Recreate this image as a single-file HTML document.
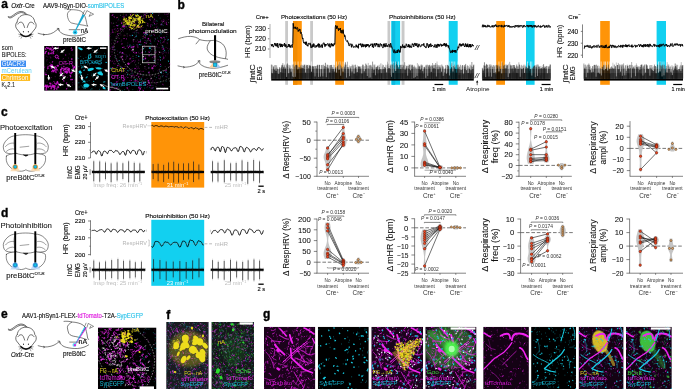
<!DOCTYPE html>
<html lang="en"><head><meta charset="utf-8"><title>Figure</title>
<style>html,body{margin:0;padding:0;background:#fff}svg{display:block;will-change:transform}text{font-family:"Liberation Sans", sans-serif}</style></head><body>
<svg width="685" height="389" viewBox="0 0 685 389">
<defs><filter id="b3" x="-5%" y="-5%" width="110%" height="110%"><feGaussianBlur stdDeviation="0.35"/></filter><filter id="b6" x="-5%" y="-5%" width="110%" height="110%"><feGaussianBlur stdDeviation="0.6"/></filter><filter id="b12" x="-10%" y="-10%" width="120%" height="120%"><feGaussianBlur stdDeviation="1.4"/></filter></defs>
<rect x="0.00" y="0.00" width="685.00" height="389.00" fill="#fff" />
<text x="1.30" y="7.80" font-size="12" fill="#000" font-weight="bold" stroke="#000" stroke-width="0.35">a</text>
<text x="11.20" y="7.90" font-size="6.6" fill="#111" stroke="#111" stroke-width="0.14" textLength="23.60" lengthAdjust="spacingAndGlyphs"><tspan font-style="italic">Oxtr</tspan>-Cre</text>
<text x="43.00" y="7.90" font-size="6.6" fill="#111" stroke="#111" stroke-width="0.14" textLength="81.20" lengthAdjust="spacingAndGlyphs">AAV9-hSyn-DIO-<tspan fill="#2cc3ea" stroke="#2cc3ea">somBiPOLES</tspan></text>
<g transform="translate(25.90 25.50) scale(1.0)" fill="none" stroke="#111" stroke-width="0.6" stroke-linecap="round" stroke-linejoin="round">
<path d="M1.6 -10.6 C-0.6 -13.4 -3.4 -14.4 -6 -14 C-9.6 -13.4 -12.4 -10 -15 -8.8 C-16 -8.4 -17 -8.4 -17.6 -9"/>
<path d="M0.2 -10.9 C-1.6 -12.6 -3.6 -13.2 -5.8 -12.8 C-9 -12.2 -11.8 -9 -14.6 -7.8 C-15.8 -7.4 -17 -7.6 -17.8 -8.4"/>
<path d="M-8.8 -3.5 C-8.4 -8 -4.6 -10.9 0 -10.9 C4.6 -10.9 8.4 -8 8.8 -3.5 C10.4 -2.6 10.7 1 9.6 2.7 L4.8 8.8 M-4.8 8.8 L-9.6 2.7 C-10.7 1 -10.4 -2.6 -8.8 -3.5" fill="#fff"/>
<path d="M-8 -1.4 C-7 -3.8 -3.6 -4.2 -2.6 -1.4 C-2 0.2 -1.5 1 -1.3 2"/>
<path d="M8 -1.4 C7 -3.8 3.6 -4.2 2.6 -1.4 C2 0.2 1.5 1 1.3 2"/>
<ellipse cx="-2.5" cy="6.2" rx="0.5" ry="0.8" fill="#111" stroke="none"/><ellipse cx="2.4" cy="6.2" rx="0.5" ry="0.8" fill="#111" stroke="none"/>
<path d="M-5.0 8.7 Q0 13.4 5.0 8.7" stroke-width="1.5"/>
<path d="M-4.4 9.2 L-7.2 8.7 M-4.2 9.8 L-6.8 11 M-3.6 10.4 L-4.9 12.8 M4.4 9.2 L7.2 8.7 M4.2 9.8 L6.8 11 M3.6 10.4 L4.9 12.8" stroke-width="0.4"/>
</g>
<path d="M37.8 33.2 C40 33.6 42 34.6 44.2 34.6 C49 34.8 53 33.4 56 30.6 L58.8 28.6" stroke="#111" stroke-width="0.55" fill="none" />
<path d="M56.9 28.4 L59 28.5 L58.7 30.6" stroke="#111" stroke-width="0.55" fill="none" />
<path d="M43 33.9 L44.6 34.6 L43.2 35.5" stroke="#111" stroke-width="0.5" fill="none" />
<path d="M64.3 8.8 C66.4 8.6 69.5 9 71 9.7 C69 11 67 13 67.4 15.3 C67.6 17 67.8 18.4 68.4 19.4 C69.2 21.4 70.4 22.6 71.6 23 C74.4 23.8 77 24.2 79.8 24.6 C82.8 25 85.6 25.6 88 26.2" stroke="#111" stroke-width="0.5" fill="none" />
<path d="M71 9.7 C74.6 9.6 78 10 80.6 11 C83.4 12.2 85 15.6 85.8 19.2 C86.4 21.4 86.8 23.4 87 24.8 L88 26.2" stroke="#111" stroke-width="0.5" fill="none" />
<path d="M58.9 29.6 C59.6 32.4 62.4 34 65.2 34.7 C69 35.8 73 36 76.6 35.9 C81 35.6 85 34.2 88 32" stroke="#111" stroke-width="0.55" fill="none" />
<path d="M82.3 14.8 L84.9 10.2 M84.9 14.9 L86.9 10.6 L93.6 14.2 L89 16.4 M89 16.4 L90.6 13.4" stroke="#111" stroke-width="0.45" fill="none" />
<line x1="68.80" y1="29.70" x2="80.40" y2="29.70" stroke="#777" stroke-width="0.9"/>
<polygon points="82.4,14.6 84.9,15 75.4,31.4 74.7,31.0" fill="#19a9d2"/>
<circle cx="75.1" cy="32.3" r="2.2" fill="#2fcdf2"/><circle cx="75.1" cy="32.3" r="0.9" fill="#0b6a9a"/>
<text x="81.00" y="32.50" font-size="6.6" fill="#111" stroke="#111" stroke-width="0.14" textLength="7.00" lengthAdjust="spacingAndGlyphs">nA</text>
<text x="63.00" y="41.70" font-size="6.6" fill="#111" stroke="#111" stroke-width="0.14" textLength="23.00" lengthAdjust="spacingAndGlyphs">preBötC</text>
<text x="1.80" y="50.20" font-size="7" fill="#111" stroke="#111" stroke-width="0.06" textLength="11.00" lengthAdjust="spacingAndGlyphs">som</text>
<text x="1.80" y="57.00" font-size="7" fill="#111" stroke="#111" stroke-width="0.06" textLength="24.70" lengthAdjust="spacingAndGlyphs">BiPOLES:</text>
<rect x="1.00" y="60.60" width="25.00" height="6.40" fill="#3d8df2" />
<text x="1.80" y="66.10" font-size="7" fill="#fff" textLength="22.80" lengthAdjust="spacingAndGlyphs">GtACR2</text>
<text x="1.40" y="73.30" font-size="7" fill="#5bd0f2" textLength="30.40" lengthAdjust="spacingAndGlyphs">mCerulean</text>
<rect x="1.00" y="74.00" width="29.10" height="6.90" fill="#fdb813" />
<text x="1.80" y="79.80" font-size="7" fill="#fff" textLength="26.60" lengthAdjust="spacingAndGlyphs">Chrimson</text>
<text x="1.50" y="86.80" font-size="7" fill="#111" stroke="#111" stroke-width="0.06" textLength="13.40" lengthAdjust="spacingAndGlyphs">K<tspan font-size="5" dy="2">V</tspan><tspan dy="-2">2.1</tspan></text>
<clipPath id="c1"><rect x="44.10" y="46.00" width="31.50" height="44.80"/></clipPath>
<g clip-path="url(#c1)">
<rect x="44.10" y="46.00" width="31.50" height="44.80" fill="#000" />
<path d="M58.3 71.1h.01M73.2 66.9h.01M60.1 72.3h.01M49.9 68.9h.01M63.9 81.5h.01M47.1 59.6h.01M47.0 82.3h.01M65.9 47.9h.01M75.0 89.2h.01M64.7 73.6h.01M49.1 46.7h.01M60.7 48.7h.01M50.1 56.8h.01M45.0 66.8h.01M58.0 83.7h.01M60.5 74.7h.01M59.8 75.7h.01M58.5 58.5h.01M75.5 90.6h.01M70.6 77.7h.01M54.0 56.3h.01M53.2 49.1h.01M68.2 63.9h.01M70.8 63.3h.01M74.3 84.0h.01M44.1 55.4h.01M72.8 67.1h.01M75.0 63.8h.01M46.4 74.2h.01M68.6 58.1h.01M46.8 60.9h.01M74.5 80.0h.01M47.8 57.0h.01M47.3 48.7h.01M69.2 54.0h.01M61.7 66.0h.01M50.1 78.8h.01M48.2 74.8h.01M47.8 64.8h.01M50.8 58.1h.01M74.7 82.0h.01M53.7 85.6h.01M50.7 63.7h.01M71.0 74.8h.01M47.3 90.3h.01M50.8 57.6h.01M68.4 60.7h.01M53.4 49.3h.01M46.9 72.1h.01M51.8 72.9h.01M55.8 66.3h.01M74.3 67.7h.01M62.2 84.8h.01M49.9 52.9h.01M72.7 82.6h.01M52.0 54.5h.01M67.4 88.1h.01M50.3 88.6h.01M71.9 73.0h.01M57.4 50.7h.01M45.3 89.1h.01M51.6 77.6h.01M52.2 82.9h.01M62.9 59.1h.01M49.6 78.3h.01M46.3 56.2h.01M61.7 84.2h.01M63.5 58.6h.01M73.0 55.1h.01M44.6 58.1h.01M58.1 48.7h.01M49.7 62.5h.01M62.1 51.9h.01M55.5 85.9h.01M75.0 75.4h.01M65.9 72.2h.01M48.5 47.6h.01M44.7 86.8h.01M66.2 89.1h.01M44.8 74.5h.01M59.3 78.7h.01M54.1 90.8h.01M46.5 70.5h.01M67.3 86.3h.01M67.3 77.5h.01M69.1 87.0h.01M55.2 76.7h.01M72.5 85.0h.01M57.2 81.4h.01M71.3 71.7h.01" stroke="#b414b4" stroke-width="0.7" stroke-linecap="round" fill="none" opacity="0.6"/>
<path d="M63.8 63.1l-0.2 0.8M46.6 74.6l-1.2 0.0M67.0 63.4l-0.5 0.6M58.0 83.6l1.0 0.3M45.0 72.9l0.0 0.3M66.1 68.3l-0.5 1.2M52.2 46.5l0.6 0.8M50.5 53.6l-0.9 0.3M58.0 85.9l0.5 0.8M50.4 65.3l-1.0 0.7M71.8 63.2l-0.1 0.4M48.4 68.2l-1.0 0.6M66.5 88.6l0.2 0.2M58.3 58.3l0.5 0.4M63.8 68.1l0.6 1.0M75.0 66.3l0.0 0.0M71.6 47.9l-0.5 0.6M53.8 81.5l0.2 0.0M58.4 47.1l-0.3 0.2M48.5 48.1l-0.2 0.6M63.9 75.3l-1.1 0.8M65.7 54.9l0.0 0.2M44.4 67.2l-0.2 0.2M52.7 61.5l-0.4 0.6M63.5 79.9l0.4 1.0M72.6 49.9l-1.0 0.2M48.2 66.3l-0.5 1.2M56.0 71.5l-1.0 0.4M73.8 66.8l-0.1 0.3M66.8 82.7l-0.4 0.9" stroke="#cc18cc" stroke-width="1.1" stroke-linecap="round" fill="none" opacity="0.75"/>
<path d="M50.8 86.3l-1.8 0.1M54.2 86.8l-0.6 0.3M48.5 52.7l-0.1 1.3M56.1 83.9l-0.4 0.1M60.6 71.7l0.8 0.6M59.9 73.1l1.7 0.2M69.3 71.2l0.0 1.2M57.1 88.9l-0.5 0.1M57.8 82.5l-0.8 0.3M57.1 69.7l0.3 0.2M52.3 50.3l-0.7 0.4M50.1 49.2l0.1 0.0M61.5 69.1l-0.1 0.3M46.1 88.6l0.2 1.4M54.4 66.9l-0.0 0.8M63.0 68.6l-1.4 0.1M52.2 86.8l-1.0 1.0M54.9 67.0l0.6 0.0M51.4 88.3l-0.3 0.5M64.9 71.5l-0.1 0.7M52.0 86.6l-0.1 0.9M45.4 53.0l-0.5 0.5M72.4 79.5l-1.7 0.1M46.4 86.6l0.2 0.8M63.8 66.4l0.1 0.1M68.6 69.8l-1.7 0.0M47.7 86.0l-0.9 0.7M65.7 71.3l-0.3 1.1M45.3 48.7l0.5 0.6M55.9 67.4l0.5 0.4M46.4 51.4l-0.9 0.6M54.3 70.6l-1.2 1.2M47.2 85.2l0.1 0.0M61.9 67.7l-0.3 0.4M53.0 52.4l0.6 1.2M66.4 71.5l-1.6 0.4M72.9 65.6l-0.4 0.3M69.2 70.2l-0.9 0.5M71.8 58.6l-0.0 1.0M68.2 69.4l-0.5 0.5M65.3 68.1l-0.2 1.3M57.0 83.0l-0.8 1.3M64.3 69.5l-0.9 1.1M53.8 51.1l-0.6 1.2M49.8 48.8l0.1 1.0M66.7 72.6l0.3 0.2M54.9 70.5l-0.9 0.1M51.1 48.2l-1.4 0.2M56.2 69.6l-0.0 0.5M52.3 84.9l-0.1 1.1M57.2 87.1l1.4 0.4M70.2 75.3l0.5 1.2M51.6 71.3l0.0 0.0M54.5 88.3l-0.3 1.3M54.5 83.0l0.2 0.1M56.8 83.5l-0.0 0.2M51.2 53.0l0.7 0.3M46.4 87.2l0.2 0.9M56.0 68.8l-1.2 0.9M54.5 87.6l0.4 0.8M48.4 86.5l-0.1 1.0M69.9 72.9l1.4 0.6M53.2 86.2l0.8 0.7M46.5 47.4l1.5 1.0M56.1 72.5l-0.0 0.0M67.8 67.8l-1.5 0.0M60.7 69.5l0.3 1.6M54.2 48.4l-1.1 1.2M67.2 72.8l-0.4 0.4M51.5 49.1l-1.7 0.5" stroke="#cc18cc" stroke-width="1.3" stroke-linecap="round" fill="none" opacity="0.85" filter="url(#b3)"/>
<g fill="#cc18cc" opacity="0.9" filter="url(#b3)">
<ellipse cx="57.4" cy="82.1" rx="1.1" ry="0.9" transform="rotate(102 57.4 82.1)"/>
<ellipse cx="46.1" cy="86.1" rx="1.7" ry="1.1" transform="rotate(64 46.1 86.1)"/>
<ellipse cx="45.1" cy="86.3" rx="1.2" ry="0.8" transform="rotate(168 45.1 86.3)"/>
<ellipse cx="74.9" cy="67.2" rx="1.2" ry="1.1" transform="rotate(161 74.9 67.2)"/>
<ellipse cx="50.3" cy="83.5" rx="1.3" ry="0.9" transform="rotate(31 50.3 83.5)"/>
<ellipse cx="50.1" cy="85.4" rx="1.0" ry="0.5" transform="rotate(131 50.1 85.4)"/>
<ellipse cx="54.0" cy="86.3" rx="1.8" ry="1.4" transform="rotate(24 54.0 86.3)"/>
<ellipse cx="72.0" cy="72.4" rx="1.1" ry="0.7" transform="rotate(167 72.0 72.4)"/>
<ellipse cx="60.7" cy="69.8" rx="0.9" ry="0.7" transform="rotate(51 60.7 69.8)"/>
<ellipse cx="52.9" cy="70.6" rx="1.1" ry="1.0" transform="rotate(178 52.9 70.6)"/>
<ellipse cx="73.4" cy="68.4" rx="1.1" ry="0.8" transform="rotate(116 73.4 68.4)"/>
<ellipse cx="68.8" cy="69.1" rx="1.4" ry="1.2" transform="rotate(123 68.8 69.1)"/>
<ellipse cx="51.5" cy="65.7" rx="1.7" ry="1.4" transform="rotate(142 51.5 65.7)"/>
<ellipse cx="51.5" cy="67.9" rx="1.1" ry="0.8" transform="rotate(90 51.5 67.9)"/>
<ellipse cx="66.6" cy="71.7" rx="1.8" ry="1.0" transform="rotate(27 66.6 71.7)"/>
<ellipse cx="57.8" cy="65.8" rx="1.2" ry="1.0" transform="rotate(13 57.8 65.8)"/>
</g>
<circle cx="56.7" cy="56.6" r="1.5" fill="none" stroke="#cc18cc" stroke-width="1.0"/>
<polygon points="58.5,47.8 56.2,47.7 56.2,46.8 53.1,48.3 56.2,49.8 56.2,48.9 58.5,48.8" fill="#fff"/>
<polygon points="64.2,49.2 62.3,50.6 61.7,49.9 60.3,53.0 63.7,52.2 63.1,51.5 64.8,49.9" fill="#fff"/>
<polygon points="55.3,68.0 53.3,66.7 53.8,65.9 50.4,65.7 52.3,68.5 52.7,67.7 54.8,68.7" fill="#fff"/>
<polygon points="48.0,75.1 48.1,77.5 47.2,77.5 48.9,80.5 50.2,77.3 49.3,77.3 48.9,75.1" fill="#fff"/>
<polygon points="63.0,72.5 61.3,74.0 60.6,73.4 59.5,76.6 62.7,75.5 62.1,74.8 63.6,73.1" fill="#fff"/>
<polygon points="62.4,80.0 64.1,78.5 64.8,79.1 65.9,75.9 62.7,77.0 63.3,77.7 61.8,79.4" fill="#fff"/>
<polygon points="76.0,71.4 74.0,70.3 74.4,69.5 71.0,69.6 73.1,72.2 73.5,71.4 75.7,72.2" fill="#fff"/>
<polygon points="63.4,84.2 61.1,84.1 61.1,83.2 58.0,84.7 61.1,86.2 61.1,85.3 63.4,85.2" fill="#fff"/>
<polygon points="71.2,86.6 69.4,85.1 69.9,84.4 66.5,83.9 68.2,86.9 68.7,86.1 70.7,87.3" fill="#fff"/>
<text x="58.60" y="64.80" font-size="6" fill="#c420c4" textLength="14.40" lengthAdjust="spacingAndGlyphs">OT-R</text>
</g>
<clipPath id="c2"><rect x="77.20" y="46.00" width="30.70" height="44.80"/></clipPath>
<g clip-path="url(#c2)">
<rect x="77.20" y="46.00" width="30.70" height="44.80" fill="#000" />
<path d="M91.8 75.5h.01M97.7 52.4h.01M77.5 62.8h.01M85.6 82.3h.01M98.4 72.9h.01M94.3 75.6h.01M81.7 65.7h.01M82.2 86.6h.01M79.0 82.7h.01M79.5 76.8h.01M87.5 64.1h.01M103.1 46.8h.01M79.1 87.0h.01M92.8 50.1h.01M107.5 88.4h.01M80.7 65.0h.01M81.3 60.0h.01M96.3 53.3h.01M98.6 48.3h.01M82.5 82.5h.01M89.5 64.8h.01M95.5 67.4h.01M89.0 47.4h.01M99.5 89.3h.01M107.2 75.7h.01M88.1 62.3h.01M98.4 76.2h.01M80.7 56.5h.01M88.4 68.9h.01M102.1 68.4h.01M78.1 82.9h.01M90.4 69.3h.01M84.0 65.1h.01M89.1 80.6h.01M80.4 70.6h.01M82.7 77.2h.01M78.3 58.4h.01M87.8 74.5h.01M78.8 66.6h.01M83.6 58.6h.01M91.8 89.0h.01M92.0 88.8h.01M82.3 87.4h.01M88.4 54.5h.01M100.2 86.9h.01M77.4 58.0h.01M100.9 61.3h.01M84.6 46.4h.01M78.4 73.7h.01M107.4 90.7h.01M92.7 47.1h.01M87.1 81.3h.01M102.7 74.6h.01M84.2 69.6h.01M91.9 74.1h.01M85.3 88.4h.01M104.7 53.3h.01M86.1 85.1h.01M85.7 88.3h.01M93.0 77.2h.01M98.8 55.6h.01M86.0 57.4h.01M98.2 77.1h.01M81.2 85.7h.01M90.1 56.8h.01M90.6 89.9h.01M94.4 74.0h.01M105.4 89.1h.01M100.5 64.7h.01M95.3 86.4h.01" stroke="#18cfe6" stroke-width="0.7" stroke-linecap="round" fill="none" opacity="0.6"/>
<path d="M101.4 72.0l0.2 0.5M99.8 71.2l1.0 0.1M104.9 81.7l-1.2 0.4M93.6 81.4l0.1 0.1M88.0 60.0l-0.9 0.2M93.8 73.9l0.7 0.3M98.7 63.7l0.4 0.4M87.1 76.7l0.1 0.1M86.8 77.2l-0.7 0.6M105.9 62.4l0.7 0.1M90.8 54.0l-0.2 0.4M84.5 60.7l-0.0 0.0M88.3 58.5l0.5 0.4M84.0 87.2l-0.0 1.0M82.2 66.8l-0.4 1.1M84.9 66.6l-1.0 0.5M84.2 70.1l-0.4 0.4M97.9 75.7l-0.8 0.1M98.1 61.7l-0.3 0.3M92.5 62.2l0.1 0.2M84.1 70.4l0.0 0.0M101.9 58.8l-0.8 0.2M89.1 85.1l-0.4 0.1M81.1 74.7l-0.7 0.4" stroke="#18cfe6" stroke-width="1.1" stroke-linecap="round" fill="none" opacity="0.8"/>
<g fill="#18cfe6" opacity="1.0" filter="url(#b3)">
<ellipse cx="80.4" cy="48.7" rx="2.6" ry="1.1" transform="rotate(25 80.4 48.7)"/>
<ellipse cx="90.7" cy="69.4" rx="3.2" ry="1.5" transform="rotate(-15 90.7 69.4)"/>
<ellipse cx="98.7" cy="68.4" rx="3.0" ry="1.1" transform="rotate(8 98.7 68.4)"/>
<ellipse cx="100.2" cy="73.6" rx="3.0" ry="1.6" transform="rotate(20 100.2 73.6)"/>
<ellipse cx="80.2" cy="72.2" rx="1.8" ry="1.3" transform="rotate(40 80.2 72.2)"/>
<ellipse cx="86.2" cy="85.6" rx="2.8" ry="2.0" transform="rotate(0 86.2 85.6)"/>
<ellipse cx="84.2" cy="81.6" rx="1.3" ry="1.0" transform="rotate(0 84.2 81.6)"/>
<ellipse cx="104.0" cy="88.0" rx="1.6" ry="1.0" transform="rotate(20 104.0 88.0)"/>
<ellipse cx="95.0" cy="62.0" rx="1.0" ry="0.8" transform="rotate(0 95.0 62.0)"/>
<ellipse cx="82.5" cy="79.5" rx="1.2" ry="0.8" transform="rotate(60 82.5 79.5)"/>
</g>
<polygon points="91.6,47.8 89.3,47.7 89.3,46.8 86.2,48.3 89.3,49.8 89.3,48.9 91.6,48.8" fill="#fff"/>
<polygon points="97.3,49.2 95.4,50.6 94.8,49.9 93.4,53.0 96.8,52.2 96.2,51.5 97.9,49.9" fill="#fff"/>
<polygon points="88.4,68.0 86.4,66.7 86.9,65.9 83.5,65.7 85.4,68.5 85.8,67.7 87.9,68.7" fill="#fff"/>
<polygon points="81.1,75.1 81.2,77.5 80.3,77.5 82.0,80.5 83.3,77.3 82.4,77.3 82.0,75.1" fill="#fff"/>
<polygon points="96.1,72.5 94.4,74.0 93.7,73.4 92.6,76.6 95.8,75.5 95.2,74.8 96.7,73.1" fill="#fff"/>
<polygon points="95.5,80.0 97.2,78.5 97.9,79.1 99.0,75.9 95.8,77.0 96.4,77.7 94.9,79.4" fill="#fff"/>
<polygon points="109.1,71.4 107.1,70.3 107.5,69.5 104.1,69.6 106.2,72.2 106.6,71.4 108.8,72.2" fill="#fff"/>
<polygon points="96.5,84.2 94.2,84.1 94.2,83.2 91.1,84.7 94.2,86.2 94.2,85.3 96.5,85.2" fill="#fff"/>
<polygon points="104.3,86.6 102.5,85.1 103.0,84.4 99.6,83.9 101.3,86.9 101.8,86.1 103.8,87.3" fill="#fff"/>
<ellipse cx="89.7" cy="56.7" rx="1.3" ry="1.8" fill="none" stroke="#18cfe6" stroke-width="0.9"/>
<rect x="100.00" y="47.40" width="6.40" height="1.50" fill="#fff" />
<path d="M103 84.4 C105 85.6 106.6 86.3 107.9 86.8" stroke="#fff" stroke-width="0.5" fill="none" />
<text x="95.00" y="58.40" font-size="6" fill="#14a4c4" textLength="11.00" lengthAdjust="spacingAndGlyphs">som</text>
<text x="79.80" y="64.30" font-size="6" fill="#14a4c4" textLength="22.60" lengthAdjust="spacingAndGlyphs">BiPOLES</text>
</g>
<clipPath id="c3"><rect x="109.30" y="12.60" width="60.90" height="78.40"/></clipPath>
<g clip-path="url(#c3)">
<rect x="109.30" y="12.60" width="60.90" height="78.40" fill="#000" />
<path d="M125.1 66.3h.01M151.0 79.2h.01M120.6 30.7h.01M118.3 30.3h.01M154.0 22.8h.01M141.7 29.4h.01M127.2 46.4h.01M160.3 60.3h.01M110.2 34.2h.01M118.2 80.9h.01M158.6 75.8h.01M159.6 71.0h.01M167.1 74.8h.01M124.9 79.2h.01M138.9 71.8h.01M143.7 46.3h.01M131.5 46.3h.01M128.4 21.8h.01M159.2 75.2h.01M169.3 66.8h.01M143.1 71.3h.01M117.5 65.7h.01M136.3 26.4h.01M121.6 53.6h.01M124.7 48.6h.01M146.2 43.6h.01M117.3 51.1h.01M123.6 31.1h.01M121.1 41.3h.01M113.8 63.7h.01M167.4 43.2h.01M153.1 85.7h.01M111.9 23.7h.01M158.4 78.3h.01M148.2 25.1h.01M134.5 80.7h.01M163.3 75.6h.01M121.7 79.5h.01M132.1 68.8h.01M117.6 88.8h.01M146.1 69.3h.01M122.2 61.0h.01M144.7 59.0h.01M131.2 69.7h.01M130.1 35.8h.01M119.3 66.2h.01M116.1 30.3h.01M113.5 63.1h.01M143.2 55.2h.01M111.7 47.1h.01M130.2 19.9h.01M109.5 90.8h.01M116.7 36.2h.01M125.7 59.4h.01M114.0 49.4h.01M131.6 78.0h.01M109.6 38.8h.01M139.5 88.6h.01M140.8 49.8h.01M150.1 35.8h.01M111.2 51.9h.01M164.7 70.5h.01M125.0 66.2h.01M161.0 32.9h.01M145.1 40.5h.01M124.2 35.1h.01M121.7 40.1h.01M111.6 43.8h.01M114.6 72.0h.01M145.8 12.9h.01M156.4 27.5h.01M138.6 56.1h.01M129.6 35.3h.01M135.8 23.3h.01M161.9 21.4h.01M159.5 29.7h.01M127.8 43.0h.01M111.3 22.7h.01M131.3 47.2h.01M162.7 90.2h.01M112.0 54.5h.01M117.2 75.6h.01M129.0 82.6h.01M142.5 22.4h.01M109.6 32.1h.01M162.2 24.3h.01M138.5 41.7h.01M130.3 75.5h.01M122.3 68.9h.01M149.9 85.9h.01M141.0 84.8h.01M136.1 57.5h.01M147.1 78.4h.01M164.0 21.6h.01M117.7 54.5h.01M158.8 54.4h.01M127.5 88.0h.01M127.4 19.4h.01M112.5 15.0h.01M153.6 21.0h.01M152.9 80.5h.01M170.2 76.0h.01M135.1 61.4h.01M160.0 68.7h.01M127.0 72.3h.01M116.0 36.8h.01M170.0 49.5h.01M125.6 74.1h.01M136.7 12.9h.01M111.1 32.9h.01M129.5 86.1h.01M124.4 79.2h.01M161.3 45.2h.01M169.8 72.3h.01M138.8 33.1h.01M137.4 83.3h.01M142.0 27.8h.01M132.2 49.9h.01M120.9 57.5h.01M111.4 77.0h.01M120.2 20.7h.01M145.2 36.7h.01M163.2 51.6h.01M141.1 78.0h.01M122.4 71.0h.01M148.8 46.2h.01M167.7 14.3h.01M161.8 23.8h.01M160.4 24.7h.01M112.6 51.9h.01M165.7 32.8h.01M138.9 60.3h.01M124.1 54.2h.01M109.9 47.8h.01M155.6 39.3h.01M122.7 16.6h.01M152.0 46.1h.01M165.0 70.7h.01M115.4 84.3h.01M166.1 76.7h.01M159.9 66.0h.01M153.2 64.9h.01M145.3 32.8h.01M117.4 69.5h.01M145.6 17.0h.01M148.4 60.4h.01M140.5 73.4h.01M162.7 42.5h.01M158.9 51.7h.01M144.1 45.0h.01M166.1 47.4h.01M167.3 39.1h.01M150.2 84.2h.01M150.9 42.0h.01M114.0 50.1h.01M134.5 76.4h.01M157.1 89.9h.01M136.6 44.8h.01M143.7 71.4h.01M114.2 29.5h.01M118.2 38.0h.01M127.6 88.5h.01M122.0 85.8h.01M127.2 28.6h.01M168.6 19.6h.01M116.2 22.7h.01M113.4 42.9h.01M122.2 25.1h.01M110.3 67.3h.01M112.3 30.7h.01M143.7 81.9h.01M149.5 68.2h.01M152.0 75.1h.01M161.3 24.8h.01M112.6 61.3h.01M140.9 53.4h.01M156.9 26.3h.01M152.3 46.0h.01M135.0 31.8h.01M126.4 58.0h.01M143.0 83.7h.01M126.4 68.7h.01M115.2 63.7h.01M119.1 79.8h.01M168.1 32.5h.01M158.5 29.8h.01M127.9 20.7h.01M136.2 20.8h.01M152.2 57.7h.01M134.9 68.3h.01M123.5 38.6h.01M131.4 12.8h.01M163.3 19.5h.01M115.5 75.2h.01M159.1 47.7h.01M135.0 23.5h.01M109.4 53.4h.01M124.1 24.4h.01M164.5 14.1h.01M131.4 71.5h.01M154.8 21.0h.01M154.5 56.8h.01M147.7 86.6h.01M157.9 59.6h.01M156.2 51.2h.01M142.9 76.7h.01M147.0 42.1h.01M110.5 74.5h.01M130.0 46.2h.01M126.8 56.1h.01M133.7 78.0h.01M145.5 56.4h.01M157.0 47.1h.01M142.0 71.4h.01M153.3 70.9h.01M163.6 56.3h.01M143.1 27.4h.01M124.0 46.7h.01M139.7 83.1h.01M111.9 40.0h.01M154.4 48.6h.01M161.0 25.1h.01M156.3 46.4h.01M143.9 17.1h.01M133.8 75.5h.01M154.1 56.8h.01M135.1 15.7h.01M151.9 47.6h.01M153.4 60.6h.01M133.8 81.2h.01M117.3 87.8h.01M114.5 88.6h.01M145.0 47.7h.01M166.3 52.8h.01M140.3 17.3h.01M157.9 62.7h.01M123.9 21.5h.01M134.9 85.9h.01M162.3 49.1h.01M111.5 77.6h.01M121.6 69.9h.01M139.7 88.2h.01M118.3 74.8h.01M153.2 14.0h.01M143.7 35.7h.01M151.6 88.0h.01M149.9 51.3h.01M146.1 32.1h.01M137.8 21.7h.01M153.2 17.8h.01M141.4 26.7h.01M143.6 17.0h.01M111.0 61.6h.01M153.1 82.2h.01M150.5 90.7h.01M118.0 61.9h.01M148.1 26.3h.01M117.8 31.5h.01M141.2 74.3h.01M152.6 57.4h.01M114.0 69.2h.01M140.5 25.9h.01M147.0 31.9h.01M128.1 48.0h.01M155.1 21.0h.01M136.2 31.0h.01M150.2 76.6h.01M125.4 69.0h.01M137.6 29.7h.01M126.1 54.8h.01M158.4 59.8h.01M109.3 73.9h.01M144.6 45.7h.01M124.0 47.2h.01M151.4 33.9h.01M117.7 81.5h.01M136.2 18.1h.01M163.5 21.2h.01M131.5 61.1h.01M149.8 83.1h.01M120.0 57.2h.01M162.9 49.2h.01M152.8 49.2h.01M152.9 87.7h.01M130.0 70.4h.01M130.3 82.2h.01M155.8 79.9h.01M162.5 59.3h.01M167.2 24.8h.01M144.2 18.4h.01M144.8 66.5h.01M126.7 76.3h.01M134.7 28.1h.01M121.1 57.9h.01M132.7 16.3h.01M127.9 89.0h.01M138.1 66.2h.01M135.3 18.2h.01M146.6 29.1h.01M116.7 61.0h.01M150.4 13.4h.01M166.9 14.2h.01M119.4 38.4h.01M157.9 70.8h.01M154.6 46.3h.01M164.8 23.1h.01M167.8 16.5h.01M118.7 71.5h.01M156.2 65.4h.01M124.4 80.6h.01M140.7 28.8h.01M115.2 90.1h.01M112.7 29.8h.01M131.0 82.6h.01M159.9 78.6h.01M147.7 13.5h.01M154.2 27.5h.01M167.0 88.7h.01M113.3 69.9h.01M124.0 20.8h.01M162.6 47.3h.01M127.2 56.5h.01M113.2 45.8h.01M148.9 80.4h.01M116.8 82.7h.01M115.7 28.8h.01M129.6 25.8h.01M114.8 64.0h.01M133.6 27.5h.01M140.6 22.3h.01M150.8 88.2h.01M137.7 45.7h.01M133.6 41.3h.01M134.5 26.6h.01M127.3 66.7h.01M138.5 17.9h.01M118.1 78.5h.01M130.8 77.7h.01M146.9 61.6h.01M131.0 58.0h.01M134.6 53.1h.01M166.8 21.0h.01M122.3 83.4h.01M165.8 76.3h.01M161.7 20.7h.01M153.1 22.3h.01M160.9 43.6h.01M139.1 53.4h.01M121.8 57.0h.01M161.8 47.8h.01M136.0 41.3h.01M120.9 34.9h.01M160.3 88.3h.01M132.1 35.1h.01M129.8 80.3h.01M125.3 26.9h.01M128.5 19.4h.01M118.3 30.8h.01M149.0 85.4h.01M125.1 35.6h.01M145.0 14.9h.01M114.7 57.6h.01M137.6 40.1h.01M134.6 14.1h.01M125.1 26.5h.01M123.8 18.1h.01M159.0 13.9h.01M134.5 26.1h.01M121.7 72.1h.01M167.8 88.3h.01M129.5 55.1h.01M135.6 18.9h.01M135.1 60.5h.01M133.6 74.1h.01M136.5 35.6h.01M163.8 57.3h.01M124.8 83.5h.01M138.5 59.9h.01M137.8 79.9h.01M153.9 47.3h.01M131.5 73.1h.01M160.3 59.8h.01M162.5 54.0h.01M134.6 37.4h.01M125.7 24.6h.01M165.5 55.9h.01M114.4 29.0h.01M135.1 75.8h.01M161.4 72.1h.01M127.1 46.1h.01M167.0 43.0h.01M148.9 16.5h.01M138.5 52.3h.01M164.7 87.9h.01M155.1 38.6h.01M162.4 84.4h.01M113.9 45.9h.01M142.9 36.5h.01M124.0 74.1h.01M122.1 56.0h.01M110.5 48.8h.01M168.0 12.9h.01M115.9 83.2h.01M165.0 52.3h.01M127.3 36.0h.01M154.0 58.1h.01M136.5 66.8h.01M115.3 43.1h.01M162.8 84.1h.01M138.9 73.9h.01M163.2 53.5h.01M118.0 20.8h.01M150.2 39.4h.01M141.4 15.9h.01M167.0 34.4h.01M147.9 61.4h.01M131.0 29.0h.01M143.5 38.2h.01M114.0 26.4h.01M111.7 83.0h.01M121.6 84.7h.01M147.0 87.6h.01M137.9 32.6h.01M114.4 61.3h.01M151.6 65.9h.01M164.7 20.3h.01M148.6 67.8h.01M166.6 32.2h.01M166.0 14.6h.01M145.2 38.3h.01M140.9 26.3h.01M132.7 40.0h.01M137.5 44.4h.01M122.6 25.8h.01M137.8 90.3h.01M161.0 24.3h.01M147.9 24.1h.01M129.1 90.7h.01M129.9 20.6h.01M143.5 58.6h.01M140.4 86.9h.01M140.5 41.1h.01M122.0 58.2h.01M154.6 52.1h.01M133.1 32.3h.01M160.8 90.3h.01M144.9 68.3h.01M129.1 25.0h.01M112.8 61.0h.01M165.2 66.7h.01M150.3 80.0h.01M134.4 46.2h.01M125.2 77.8h.01M151.3 53.7h.01M156.7 84.1h.01M112.1 29.8h.01M137.8 68.6h.01M124.0 47.3h.01M149.7 35.7h.01M150.1 17.3h.01M134.4 62.7h.01M161.9 52.7h.01M149.8 64.6h.01M148.7 48.0h.01M128.6 22.6h.01M163.3 73.4h.01M149.0 71.6h.01M128.4 26.5h.01M141.7 49.3h.01M148.8 81.1h.01M133.2 41.9h.01M152.2 81.8h.01M143.8 59.2h.01M163.6 84.8h.01M112.0 89.0h.01M115.1 55.8h.01M139.7 89.4h.01M123.5 16.1h.01M167.7 48.4h.01M137.2 46.1h.01" stroke="#c414c4" stroke-width="0.6" stroke-linecap="round" fill="none" opacity="0.62"/>
<path d="M126.2 14.9l-0.0 0.2M139.7 90.7l-0.3 0.0M129.7 22.2l-0.1 0.2M117.0 84.3l-0.1 0.8M122.4 26.5l-0.2 0.6M120.2 52.0l-0.1 0.4M128.4 47.6l0.1 0.0M112.9 78.0l0.4 0.4M116.3 81.9l0.7 0.1M141.7 83.8l-0.0 0.0M112.4 32.1l0.8 0.1M118.1 65.6l-0.6 0.1M169.9 63.4l0.3 0.8M122.5 56.1l0.1 0.5M127.4 87.9l-0.6 0.0M139.6 87.1l-0.0 0.0M163.2 21.1l0.2 0.1M131.9 50.6l-0.1 0.0M148.7 52.1l0.8 0.3M165.1 39.7l-0.4 0.2M150.3 85.3l-0.1 0.3M112.5 49.2l-0.1 0.2M144.4 13.9l0.3 0.3M138.7 68.0l0.2 0.2M153.9 34.8l0.5 0.3M130.6 58.8l-0.9 0.1M157.5 88.9l-0.3 0.2M166.1 22.5l0.4 0.3M116.8 59.9l-0.0 0.2M154.6 19.1l0.0 0.2M166.4 23.9l0.2 0.6M127.8 77.5l0.1 0.0M110.1 56.2l0.0 0.5M138.1 81.4l0.1 0.1M124.4 77.9l-0.1 0.1M109.4 90.1l-0.2 0.0M141.7 16.3l-0.0 0.2M150.9 24.8l-0.1 0.3M138.7 87.1l-0.1 0.9M153.2 30.4l0.5 0.5M156.6 23.9l-0.2 0.2M143.8 82.5l-0.2 0.0M118.0 33.5l-0.3 0.8M149.1 72.4l-0.4 0.2M132.2 75.2l-0.3 0.7M170.0 49.1l0.1 0.1M144.9 37.3l0.2 0.4M153.7 66.0l0.1 0.6M147.5 84.2l-0.4 0.6M124.0 79.3l0.7 0.0M110.2 60.3l0.1 0.1M154.5 23.4l-0.0 0.1M122.0 43.6l-0.1 0.6M131.2 80.5l0.2 0.0M133.2 60.6l-0.4 0.7M130.6 62.9l-0.1 0.1M131.7 47.3l-0.1 0.5M117.7 28.6l0.0 0.1M156.3 82.8l-0.1 0.1M145.1 15.1l0.2 0.1M145.7 58.3l-0.0 0.1M139.9 71.2l-0.3 0.1M136.6 80.9l0.5 0.1M115.5 75.7l-0.0 0.1M112.0 86.4l0.3 0.4M144.6 42.6l0.6 0.2M129.7 46.1l-0.7 0.5M126.7 38.7l-0.3 0.3M163.7 41.9l0.3 0.0M164.0 58.0l-0.7 0.1M150.7 26.7l0.0 0.0M129.7 29.7l-0.1 0.0M130.3 14.4l0.6 0.3M133.9 52.2l-0.5 0.3M122.2 71.1l-0.3 0.4M139.8 84.4l-0.0 0.1M160.4 64.3l0.5 0.5M166.0 70.1l0.1 0.7M114.2 16.7l0.1 0.4M148.4 64.2l-0.0 0.3M154.0 56.4l0.4 0.3M137.2 74.8l-0.5 0.7M155.8 52.7l-0.1 0.2M143.0 90.3l0.4 0.1M135.5 68.6l0.5 0.3M116.1 88.1l0.6 0.1M154.9 56.0l0.2 0.2M163.7 48.5l-0.2 0.8M138.8 76.4l-0.2 0.7M147.3 23.1l0.2 0.2M122.8 59.0l0.1 0.3M110.5 89.9l0.0 0.2M149.7 19.7l0.8 0.4M149.9 40.7l0.6 0.3M124.0 38.3l0.4 0.4M124.1 16.9l-0.4 0.2M117.0 17.6l-0.4 0.1M142.8 83.2l0.1 0.0M121.9 67.4l0.5 0.2M157.6 44.1l-0.0 0.0M138.7 41.9l-0.2 0.3M149.6 83.1l-0.7 0.2M152.3 88.1l0.0 0.0M158.3 40.8l0.4 0.7M133.7 23.0l-0.0 0.0M112.5 67.5l0.6 0.3M109.5 35.5l0.2 0.5M154.6 65.7l0.6 0.4M112.6 47.1l0.7 0.1M138.0 47.1l-0.2 0.0" stroke="#e818e8" stroke-width="0.9" stroke-linecap="round" fill="none" opacity="0.75"/>
<path d="M149.1 67.3h.01M113.6 73.0h.01M130.1 69.9h.01M155.2 38.9h.01M133.3 44.8h.01M115.4 57.0h.01M153.5 87.8h.01M136.4 55.6h.01M148.3 72.4h.01M149.7 87.6h.01M160.6 88.2h.01M136.2 55.5h.01M119.5 52.8h.01M140.5 40.5h.01M166.1 81.4h.01M159.3 36.0h.01M144.7 79.8h.01M133.1 58.5h.01M121.0 86.4h.01M144.2 47.9h.01M161.6 33.8h.01M141.7 44.7h.01M163.9 51.8h.01M166.9 77.0h.01M116.1 58.6h.01M139.2 24.6h.01M162.7 76.7h.01M168.4 50.9h.01M118.1 63.9h.01M160.3 33.8h.01M155.5 50.4h.01M132.8 89.7h.01M151.9 88.7h.01M156.5 77.6h.01M122.2 71.0h.01M115.3 72.8h.01M151.2 44.0h.01M144.7 88.1h.01M150.9 35.9h.01M168.0 73.9h.01M127.7 45.3h.01M130.3 47.3h.01M160.3 42.4h.01M166.7 36.7h.01M130.9 35.7h.01M157.3 21.2h.01M118.9 76.1h.01M154.6 24.6h.01M135.1 17.3h.01M160.8 81.4h.01M111.7 74.1h.01M124.4 89.7h.01M118.6 86.7h.01M127.3 56.1h.01M142.7 75.0h.01M130.8 73.9h.01M158.0 64.2h.01M112.5 47.9h.01M122.7 90.6h.01M134.9 81.8h.01M134.7 32.9h.01M120.9 68.8h.01M115.5 49.8h.01M141.6 87.4h.01M160.1 18.1h.01M131.1 46.2h.01M156.5 20.8h.01M151.6 35.4h.01M146.2 41.0h.01M119.7 79.5h.01M160.4 40.7h.01M131.9 29.1h.01M130.6 45.1h.01M116.7 84.6h.01M136.4 32.8h.01M125.2 25.2h.01M138.2 45.0h.01M157.6 38.0h.01M122.4 25.8h.01M152.5 25.1h.01M118.6 19.2h.01M142.4 38.6h.01M154.7 41.0h.01M160.7 31.7h.01M132.4 73.1h.01M162.2 75.9h.01M150.7 51.0h.01M135.2 85.3h.01M129.7 44.9h.01M151.1 55.3h.01M164.5 38.6h.01M159.6 71.1h.01M117.6 84.3h.01M151.9 85.5h.01M141.3 81.6h.01M141.9 83.1h.01M158.1 28.1h.01M163.1 25.4h.01M140.3 39.5h.01M136.1 34.9h.01" stroke="#18cfe6" stroke-width="0.55" stroke-linecap="round" fill="none" opacity="0.65"/>
<path d="M127.9 70.6l0.1 0.3M118.4 25.1l-0.2 0.2M143.9 83.9l0.2 0.1M160.7 66.5l-0.1 0.1M135.5 79.4l-0.5 0.0M168.3 39.5l-0.3 0.6M119.2 60.5l0.2 0.3M162.9 46.9l0.3 0.1M145.0 34.2l-0.2 0.1M138.4 56.3l0.6 0.1M147.4 34.6l-0.5 0.1M145.6 51.7l-0.1 0.1M137.1 14.4l0.4 0.1M141.5 78.9l-0.2 0.5M150.1 43.6l-0.1 0.1M168.4 60.9l0.1 0.5M136.2 36.2l-0.3 0.6M145.2 82.2l0.2 0.6M165.8 72.1l0.6 0.2M143.7 48.7l-0.3 0.2M159.9 57.0l0.6 0.3M122.7 53.0l0.0 0.0M139.5 44.5l0.6 0.2M143.5 59.7l0.2 0.1M154.4 60.6l0.1 0.2M164.4 50.2l0.4 0.3" stroke="#18cfe6" stroke-width="0.9" stroke-linecap="round" fill="none" opacity="0.85"/>
<path d="M148.3 68.2h.01M125.7 48.5h.01M130.4 15.9h.01M138.4 63.0h.01M139.7 83.5h.01M127.7 66.8h.01M159.2 69.6h.01M118.9 88.6h.01M120.5 15.3h.01M145.4 35.7h.01M129.8 24.5h.01M158.4 15.4h.01M128.8 90.2h.01M117.0 67.5h.01M147.9 40.6h.01M147.3 25.4h.01M159.9 78.9h.01M151.5 15.5h.01M129.2 25.1h.01M168.8 13.8h.01M156.0 86.8h.01M165.8 30.4h.01M162.7 22.1h.01M135.7 71.1h.01M136.2 30.5h.01M146.5 43.2h.01M160.7 77.0h.01M114.4 77.1h.01M122.2 29.3h.01M169.5 86.7h.01M144.2 82.2h.01M145.5 32.4h.01M140.5 64.4h.01M116.0 38.3h.01M155.7 63.4h.01M113.7 23.2h.01M168.7 22.6h.01M162.9 70.6h.01M127.1 33.9h.01M132.7 22.7h.01M120.8 90.2h.01M139.6 78.4h.01M157.8 29.1h.01M154.7 76.2h.01M114.3 40.4h.01M133.0 56.3h.01M143.4 48.5h.01M163.9 89.3h.01M138.1 82.2h.01M123.7 83.9h.01M112.1 69.3h.01M145.0 66.7h.01M127.4 63.7h.01M137.1 30.2h.01M135.8 64.8h.01M169.6 81.0h.01M151.7 49.4h.01M151.7 31.1h.01M131.7 76.9h.01M129.1 17.0h.01" stroke="#ffffff" stroke-width="0.5" stroke-linecap="round" fill="none" opacity="0.7"/>
<g fill="#d81cd8" opacity="0.8" filter="url(#b3)">
<ellipse cx="112.5" cy="15.1" rx="1.1" ry="0.5" transform="rotate(148 112.5 15.1)"/>
<ellipse cx="136.3" cy="52.8" rx="0.9" ry="0.7" transform="rotate(131 136.3 52.8)"/>
<ellipse cx="149.1" cy="55.6" rx="0.8" ry="0.6" transform="rotate(80 149.1 55.6)"/>
<ellipse cx="140.3" cy="88.7" rx="1.0" ry="0.8" transform="rotate(86 140.3 88.7)"/>
<ellipse cx="135.4" cy="80.9" rx="0.8" ry="0.6" transform="rotate(130 135.4 80.9)"/>
<ellipse cx="123.8" cy="26.4" rx="1.2" ry="1.1" transform="rotate(82 123.8 26.4)"/>
<ellipse cx="120.7" cy="29.0" rx="1.0" ry="0.6" transform="rotate(10 120.7 29.0)"/>
<ellipse cx="148.8" cy="82.2" rx="0.7" ry="0.6" transform="rotate(7 148.8 82.2)"/>
<ellipse cx="121.7" cy="23.1" rx="0.9" ry="0.6" transform="rotate(87 121.7 23.1)"/>
<ellipse cx="122.6" cy="52.8" rx="1.1" ry="0.7" transform="rotate(38 122.6 52.8)"/>
<ellipse cx="152.4" cy="68.2" rx="1.1" ry="1.1" transform="rotate(63 152.4 68.2)"/>
<ellipse cx="145.3" cy="58.5" rx="0.9" ry="0.6" transform="rotate(78 145.3 58.5)"/>
<ellipse cx="133.3" cy="46.9" rx="1.2" ry="0.9" transform="rotate(161 133.3 46.9)"/>
<ellipse cx="164.0" cy="37.2" rx="0.8" ry="0.5" transform="rotate(164 164.0 37.2)"/>
<ellipse cx="117.5" cy="41.9" rx="0.9" ry="0.5" transform="rotate(156 117.5 41.9)"/>
<ellipse cx="161.3" cy="37.8" rx="1.2" ry="0.6" transform="rotate(20 161.3 37.8)"/>
<ellipse cx="148.3" cy="38.7" rx="0.9" ry="0.7" transform="rotate(136 148.3 38.7)"/>
<ellipse cx="148.2" cy="80.8" rx="0.8" ry="0.7" transform="rotate(147 148.2 80.8)"/>
<ellipse cx="144.0" cy="32.8" rx="0.9" ry="0.8" transform="rotate(168 144.0 32.8)"/>
<ellipse cx="128.5" cy="63.7" rx="1.2" ry="1.1" transform="rotate(30 128.5 63.7)"/>
<ellipse cx="138.5" cy="26.8" rx="1.1" ry="1.0" transform="rotate(168 138.5 26.8)"/>
<ellipse cx="134.7" cy="68.7" rx="0.6" ry="0.3" transform="rotate(84 134.7 68.7)"/>
<ellipse cx="142.2" cy="52.4" rx="1.0" ry="0.7" transform="rotate(119 142.2 52.4)"/>
<ellipse cx="112.1" cy="75.1" rx="0.6" ry="0.3" transform="rotate(108 112.1 75.1)"/>
<ellipse cx="109.4" cy="70.9" rx="0.9" ry="0.6" transform="rotate(162 109.4 70.9)"/>
<ellipse cx="149.1" cy="72.9" rx="0.7" ry="0.5" transform="rotate(70 149.1 72.9)"/>
<ellipse cx="122.7" cy="47.6" rx="0.9" ry="0.5" transform="rotate(4 122.7 47.6)"/>
<ellipse cx="140.1" cy="41.8" rx="0.8" ry="0.7" transform="rotate(123 140.1 41.8)"/>
<ellipse cx="123.5" cy="80.8" rx="1.2" ry="0.6" transform="rotate(15 123.5 80.8)"/>
<ellipse cx="113.9" cy="84.3" rx="1.1" ry="0.8" transform="rotate(114 113.9 84.3)"/>
<ellipse cx="168.6" cy="52.9" rx="0.6" ry="0.3" transform="rotate(44 168.6 52.9)"/>
<ellipse cx="146.5" cy="34.0" rx="1.0" ry="0.5" transform="rotate(137 146.5 34.0)"/>
<ellipse cx="117.2" cy="25.7" rx="1.1" ry="0.5" transform="rotate(19 117.2 25.7)"/>
<ellipse cx="145.8" cy="79.5" rx="0.6" ry="0.3" transform="rotate(110 145.8 79.5)"/>
</g>
<g fill="#18cfe6" opacity="0.8" filter="url(#b3)">
<ellipse cx="127.4" cy="74.6" rx="0.8" ry="0.4" transform="rotate(118 127.4 74.6)"/>
<ellipse cx="111.0" cy="82.7" rx="0.7" ry="0.6" transform="rotate(152 111.0 82.7)"/>
<ellipse cx="160.5" cy="60.1" rx="0.6" ry="0.4" transform="rotate(34 160.5 60.1)"/>
<ellipse cx="152.6" cy="13.3" rx="0.7" ry="0.5" transform="rotate(112 152.6 13.3)"/>
<ellipse cx="161.1" cy="72.6" rx="1.0" ry="0.7" transform="rotate(73 161.1 72.6)"/>
<ellipse cx="161.7" cy="24.1" rx="0.6" ry="0.4" transform="rotate(162 161.7 24.1)"/>
<ellipse cx="132.5" cy="35.4" rx="0.7" ry="0.6" transform="rotate(45 132.5 35.4)"/>
<ellipse cx="120.8" cy="68.1" rx="1.0" ry="0.6" transform="rotate(141 120.8 68.1)"/>
<ellipse cx="149.9" cy="48.1" rx="1.1" ry="0.8" transform="rotate(13 149.9 48.1)"/>
<ellipse cx="111.2" cy="68.3" rx="0.9" ry="0.5" transform="rotate(156 111.2 68.3)"/>
</g>
<g fill="#f0d0f0" opacity="0.85" filter="url(#b3)">
<ellipse cx="133.8" cy="39.8" rx="0.6" ry="0.5" transform="rotate(124 133.8 39.8)"/>
<ellipse cx="162.7" cy="45.3" rx="0.5" ry="0.3" transform="rotate(31 162.7 45.3)"/>
<ellipse cx="159.7" cy="52.2" rx="0.7" ry="0.5" transform="rotate(162 159.7 52.2)"/>
<ellipse cx="133.1" cy="51.0" rx="0.6" ry="0.3" transform="rotate(164 133.1 51.0)"/>
<ellipse cx="133.0" cy="49.5" rx="0.9" ry="0.8" transform="rotate(125 133.0 49.5)"/>
<ellipse cx="143.4" cy="56.6" rx="0.8" ry="0.7" transform="rotate(165 143.4 56.6)"/>
<ellipse cx="151.2" cy="78.3" rx="0.7" ry="0.5" transform="rotate(154 151.2 78.3)"/>
<ellipse cx="160.3" cy="72.2" rx="0.7" ry="0.4" transform="rotate(94 160.3 72.2)"/>
</g>
<path d="M142.9 21.1l-0.5 1.6M127.8 22.1l-1.8 0.8M138.6 25.1l-1.5 0.9M134.5 20.1l1.6 0.5M130.7 17.3l0.7 1.2M133.1 18.9l-0.2 1.0M139.8 21.8l1.0 1.6M134.6 28.9l-0.1 0.2M134.7 19.1l0.1 0.2M133.4 17.9l1.1 1.1M129.4 20.6l0.3 0.1M138.2 15.5l-0.2 1.5M137.7 25.2l-0.1 1.9M133.3 17.6l1.1 1.5M141.6 26.1l-0.7 1.1M129.5 23.9l0.1 0.0M139.7 16.6l1.3 1.0M127.2 22.6l0.1 0.6M138.1 18.7l1.5 0.3M124.4 18.3l-1.2 1.0M125.9 23.7l-0.1 0.6M138.0 18.5l-0.4 1.5M135.1 24.4l-1.5 0.3M133.2 25.4l-1.0 0.0M143.6 22.1l1.4 0.4M128.5 19.7l1.4 0.3M135.8 24.7l-1.3 1.5M131.1 18.3l-1.1 0.5M139.5 23.5l-0.6 0.4M136.5 18.3l-1.1 1.2M141.1 20.2l0.5 0.2M133.0 26.4l0.0 0.0M130.8 25.1l0.8 0.3M140.6 18.7l0.2 1.7M131.0 21.8l0.0 0.9M131.2 21.5l0.2 0.8M142.9 18.4l0.1 0.2M126.4 19.9l-0.5 0.2M139.3 21.8l0.1 0.0M129.9 24.8l0.3 0.1M126.8 20.5l1.5 0.3M133.1 27.9l-1.6 1.1M133.8 21.0l-0.0 0.0M129.3 27.2l1.6 0.1M138.6 22.0l0.1 0.7M130.7 15.2l0.2 0.2M139.7 18.5l-1.1 0.7M124.6 19.2l-1.3 0.8M138.1 25.3l0.2 0.3M142.4 19.8l0.2 1.2M138.7 26.9l1.0 0.1M132.5 15.0l0.0 0.0M135.3 18.6l0.1 0.2M138.5 15.4l-0.6 0.0M138.5 19.5l0.6 0.5M134.5 21.7l-0.2 1.1M138.5 20.0l0.8 0.0M130.6 26.9l0.8 1.8M124.5 22.7l-1.3 0.2M140.5 21.7l-0.1 0.0M130.9 16.2l0.8 0.6M139.0 22.9l0.0 0.1M132.0 28.1l1.2 0.8M140.6 22.5l-0.1 0.3M130.6 25.3l-0.3 0.6M125.6 21.7l0.2 0.3M126.6 18.5l-0.7 0.2M138.8 20.6l0.8 0.6M129.8 17.9l0.4 0.1M130.0 24.7l1.7 0.2M129.8 22.1l-1.0 1.0M133.6 25.0l1.2 0.9M125.9 19.5l-0.3 0.5M129.0 21.8l-0.3 0.7M142.7 22.7l-0.1 0.1M134.1 19.6l0.6 1.6M140.0 17.2l-0.1 0.4M135.6 15.0l0.6 1.7M135.9 15.2l0.3 0.4M142.1 25.6l-0.5 0.5M130.0 22.6l-0.1 0.1M124.7 18.9l0.3 1.5M139.3 18.3l0.3 1.9M142.5 21.3l1.5 1.0M124.4 25.0l-0.9 0.0M140.3 21.1l0.1 1.6M138.7 27.3l0.2 0.2M125.4 20.9l-0.1 0.1M128.2 23.4l-0.7 0.2M125.1 21.0l0.5 0.5M133.6 14.5l-1.1 0.9M136.3 27.6l-0.1 0.5M139.4 24.8l-1.4 1.2M133.9 25.5l-0.1 0.1M129.2 17.5l0.0 0.0" stroke="#e6da20" stroke-width="0.9" stroke-linecap="round" fill="none" opacity="0.9"/>
<g fill="#e6da20" opacity="0.9" filter="url(#b3)">
<ellipse cx="126.2" cy="21.2" rx="1.4" ry="0.8" transform="rotate(180 126.2 21.2)"/>
<ellipse cx="129.6" cy="17.8" rx="1.6" ry="1.3" transform="rotate(46 129.6 17.8)"/>
<ellipse cx="131.7" cy="23.5" rx="1.3" ry="0.9" transform="rotate(144 131.7 23.5)"/>
<ellipse cx="136.9" cy="15.7" rx="1.3" ry="0.6" transform="rotate(117 136.9 15.7)"/>
<ellipse cx="132.9" cy="21.3" rx="1.2" ry="0.9" transform="rotate(33 132.9 21.3)"/>
<ellipse cx="131.3" cy="18.5" rx="0.8" ry="0.6" transform="rotate(155 131.3 18.5)"/>
<ellipse cx="139.9" cy="17.6" rx="1.3" ry="1.1" transform="rotate(101 139.9 17.6)"/>
<ellipse cx="127.8" cy="22.3" rx="0.8" ry="0.6" transform="rotate(110 127.8 22.3)"/>
<ellipse cx="127.8" cy="23.7" rx="1.5" ry="1.2" transform="rotate(9 127.8 23.7)"/>
<ellipse cx="129.7" cy="21.0" rx="1.0" ry="0.7" transform="rotate(173 129.7 21.0)"/>
<ellipse cx="128.3" cy="23.8" rx="1.3" ry="1.0" transform="rotate(172 128.3 23.8)"/>
<ellipse cx="138.6" cy="19.0" rx="1.5" ry="1.0" transform="rotate(58 138.6 19.0)"/>
</g>
<path d="M143.3 36.7h.01M150.0 34.6h.01M124.9 17.5h.01M117.2 31.5h.01M133.2 24.3h.01M133.6 20.9h.01M138.5 27.4h.01M148.5 30.5h.01M136.4 26.3h.01M122.0 21.8h.01M123.3 14.1h.01M124.0 35.8h.01M124.2 20.8h.01M117.6 17.4h.01M136.5 15.2h.01M115.1 32.2h.01" stroke="#f2e21c" stroke-width="0.55" stroke-linecap="round" fill="none" opacity="0.6"/>
<path d="M147 13 C133 22 118 30 114.5 44 C112 58 122 76 146 82 C155 84 163 82 170 78" stroke="#ccc" stroke-width="0.45" fill="none" stroke-dasharray="1.6 1.4" opacity="0.8"/>
<path d="M121 56 C125 68 136 76 150 75 C158 74.5 165 71 170 66" stroke="#ddd" stroke-width="0.5" fill="none" stroke-dasharray="1.6 1.4"/>
<rect x="142.3" y="46.2" width="12.7" height="16.6" fill="none" stroke="#eee" stroke-width="0.6"/>
<line x1="142.30" y1="54.60" x2="155.00" y2="54.60" stroke="#eee" stroke-width="0.5"/>
<rect x="156.20" y="87.80" width="12.00" height="1.60" fill="#fff" />
<text x="146.00" y="17.50" font-size="6" fill="#e8d81c" textLength="7.00" lengthAdjust="spacingAndGlyphs">nA</text>
<text x="145.30" y="33.30" font-size="6" fill="#fff" textLength="22.50" lengthAdjust="spacingAndGlyphs">preBötC</text>
<text x="111.20" y="72.20" font-size="6.2" fill="#e0d41c" textLength="14.10" lengthAdjust="spacingAndGlyphs">ChAT</text>
<text x="111.20" y="78.90" font-size="6.2" fill="#e020e0" textLength="13.30" lengthAdjust="spacingAndGlyphs">OT-R</text>
<text x="110.90" y="85.50" font-size="6.2" fill="#18b4d2" textLength="35.40" lengthAdjust="spacingAndGlyphs">somBiPOLES</text>
<path d="M109.3 87 C114 87.6 118 88.8 121 91" stroke="#fff" stroke-width="0.5" fill="none" />
</g>
<text x="177.40" y="8.80" font-size="12" fill="#000" font-weight="bold" stroke="#000" stroke-width="0.35">b</text>
<text x="213.20" y="26.00" font-size="6.2" fill="#111" text-anchor="middle" stroke="#111" stroke-width="0.14" textLength="22.50" lengthAdjust="spacingAndGlyphs">Bilateral</text>
<text x="212.80" y="33.40" font-size="6.2" fill="#111" text-anchor="middle" stroke="#111" stroke-width="0.14" textLength="47.80" lengthAdjust="spacingAndGlyphs">photomodulation</text>
<path d="M178.2 38.8 C182 37.4 186.6 36.2 190.4 36.4 C194 36.6 197.6 37.6 199.6 39.6 L195.8 44.2" stroke="#111" stroke-width="0.55" fill="none" />
<path d="M199.6 39.6 C203 40.6 207 41 210.4 40.6 C208.8 43 206.6 46 207.2 49 C208 52 210.4 54 212.8 55.4 C216 57 220 58 225.6 58.8" stroke="#111" stroke-width="0.55" fill="none" />
<path d="M210.4 40.6 C214.6 39.8 219.4 41.2 222.6 44 C225 46.4 226 49.6 226.2 52.8 C226.3 55 225.9 57 225.4 58.6 L228 59.4" stroke="#111" stroke-width="0.55" fill="none" />
<path d="M177.6 65.8 C180 66 182 67.2 184.2 67.2 C188 67.2 191.4 66.4 194 65.4 C196.4 64.2 198 62.6 199.6 60.7" stroke="#111" stroke-width="0.55" fill="none" />
<path d="M197.6 60.9 L199.8 60.5 L199.9 62.6" stroke="#111" stroke-width="0.5" fill="none" />
<path d="M183 66.4 L184.6 67.2 L183.2 68" stroke="#111" stroke-width="0.5" fill="none" />
<path d="M198.4 61.4 C199.6 64.6 203.4 66.8 207.8 67.7 C211.6 68.4 215.6 68.4 219.2 67.7 C222.4 67 225.4 66 228 65.2" stroke="#111" stroke-width="0.55" fill="none" />
<polygon points="215,60.6 209.2,67.6 215,67.8" fill="#fbd09a"/>
<polygon points="215,60.6 220.8,67.6 215,67.8" fill="#a9ccf4"/>
<ellipse cx="214.9" cy="61.7" rx="5.5" ry="1.5" fill="#858585"/>
<rect x="213.30" y="63.00" width="3.50" height="3.50" fill="#11c3ee" stroke="#0b6a8a" stroke-width="0.5"/>
<rect x="214.00" y="35.20" width="2.10" height="25.00" fill="#000" />
<text x="198.70" y="76.50" font-size="6.4" fill="#222" stroke="#222" stroke-width="0.14" textLength="31.80" lengthAdjust="spacingAndGlyphs">preBötC<tspan font-size="3.6" dy="-2.4">OT-R</tspan></text>
<rect x="285.20" y="21.00" width="2.80" height="63.80" fill="#c9c9c9" />
<rect x="310.20" y="21.00" width="2.80" height="63.80" fill="#c9c9c9" />
<rect x="387.50" y="21.00" width="2.70" height="63.80" fill="#c9c9c9" />
<rect x="401.60" y="21.00" width="2.90" height="63.80" fill="#c9c9c9" />
<rect x="293.00" y="21.00" width="8.80" height="63.80" fill="#ff9408" />
<rect x="335.20" y="21.00" width="8.80" height="63.80" fill="#ff9408" />
<rect x="496.20" y="21.00" width="8.80" height="63.80" fill="#ff9408" />
<rect x="600.20" y="21.00" width="9.60" height="63.80" fill="#ff9408" />
<rect x="391.20" y="21.00" width="8.90" height="63.80" fill="#12d0f0" />
<rect x="448.70" y="21.00" width="9.00" height="63.80" fill="#12d0f0" />
<rect x="526.00" y="21.00" width="8.60" height="63.80" fill="#12d0f0" />
<rect x="656.60" y="21.00" width="9.40" height="63.80" fill="#12d0f0" />
<rect x="293.00" y="21.00" width="4.40" height="63.80" fill="#f28c04" />
<rect x="392.00" y="21.00" width="3.20" height="63.80" fill="#0cbadf" />
<text x="255.80" y="18.70" font-size="6.0" fill="#111" stroke="#111" stroke-width="0.14" textLength="12.80" lengthAdjust="spacingAndGlyphs">Cre+</text>
<text x="281.00" y="18.70" font-size="6.0" fill="#111" stroke="#111" stroke-width="0.14" textLength="66.00" lengthAdjust="spacingAndGlyphs">Photoexcitations (50 Hz)</text>
<text x="389.00" y="18.70" font-size="6.0" fill="#111" stroke="#111" stroke-width="0.14" textLength="66.70" lengthAdjust="spacingAndGlyphs">Photoinhibitions (50 Hz)</text>
<text x="568.30" y="18.80" font-size="6.2" fill="#111" stroke="#111" stroke-width="0.14">Cre<tspan font-size="4" dy="-2.4">−</tspan></text>
<line x1="270.00" y1="24.00" x2="270.00" y2="58.00" stroke="#bdbdbd" stroke-width="1.2"/>
<line x1="267.90" y1="28.50" x2="269.40" y2="28.50" stroke="#333" stroke-width="0.6"/>
<text x="265.90" y="30.80" font-size="6.4" fill="#111" text-anchor="end" stroke="#111" stroke-width="0.14" textLength="11.00" lengthAdjust="spacingAndGlyphs">230</text>
<line x1="267.90" y1="38.80" x2="269.40" y2="38.80" stroke="#333" stroke-width="0.6"/>
<text x="265.90" y="41.10" font-size="6.4" fill="#111" text-anchor="end" stroke="#111" stroke-width="0.14" textLength="11.00" lengthAdjust="spacingAndGlyphs">220</text>
<line x1="267.90" y1="49.00" x2="269.40" y2="49.00" stroke="#333" stroke-width="0.6"/>
<text x="265.90" y="51.30" font-size="6.4" fill="#111" text-anchor="end" stroke="#111" stroke-width="0.14" textLength="11.00" lengthAdjust="spacingAndGlyphs">210</text>
<text x="249.80" y="41.60" font-size="7.2" fill="#111" text-anchor="middle" stroke="#111" stroke-width="0.06" textLength="33.00" lengthAdjust="spacingAndGlyphs" transform="rotate(-90 249.80 41.60)">HR (bpm)</text>
<text x="255.20" y="73.40" font-size="6.6" fill="#111" text-anchor="middle" stroke="#111" stroke-width="0.14" textLength="18.00" lengthAdjust="spacingAndGlyphs" transform="rotate(-90 255.20 73.40)">∫IntC</text>
<text x="262.40" y="73.40" font-size="6.6" fill="#111" text-anchor="middle" stroke="#111" stroke-width="0.14" textLength="14.00" lengthAdjust="spacingAndGlyphs" transform="rotate(-90 262.40 73.40)">EMG</text>
<path d="M271.20 43.99 L271.56 45.98 L271.92 46.23 L272.28 45.59 L272.64 44.24 L273.00 46.50 L273.36 47.14 L273.72 45.97 L274.08 45.64 L274.44 44.35 L274.80 42.98 L275.16 44.29 L275.52 45.58 L275.88 43.58 L276.24 46.34 L276.60 44.51 L276.96 44.05 L277.32 43.08 L277.68 47.13 L278.04 46.98 L278.40 47.56 L278.76 46.54 L279.12 43.66 L279.48 44.27 L279.84 45.18 L280.20 43.69 L280.56 47.08 L280.92 45.30 L281.28 43.90 L281.64 46.53 L282.00 44.07 L282.36 47.07 L282.72 45.68 L283.08 45.78 L283.44 44.86 L283.80 45.27 L284.16 44.03 L284.52 43.05 L284.88 46.53 L285.24 44.57 L285.60 46.53 L285.96 44.45 L286.32 47.35 L286.68 47.73 L287.04 47.21 L287.40 47.11 L287.76 46.27 L288.12 46.73 L288.48 44.11 L288.84 45.05 L289.20 46.86 L289.56 44.49 L289.92 47.15 L290.28 47.66 L290.64 45.63 L291.00 44.93 L291.36 45.14 L291.72 44.90 L292.08 47.58 L292.44 45.51 L292.80 43.37 L293.16 23.27 L293.52 26.33 L293.88 28.57 L294.24 27.12 L294.60 26.97 L294.96 27.42 L295.32 28.66 L295.68 26.83 L296.04 28.34 L296.40 28.71 L296.76 29.34 L297.12 27.73 L297.48 27.51 L297.84 28.49 L298.20 31.57 L298.56 29.96 L298.92 30.91 L299.28 30.07 L299.64 29.18 L300.00 29.02 L300.36 32.57 L300.72 33.53 L301.08 32.18 L301.44 33.47 L301.80 33.99 L302.16 36.93 L302.52 39.06 L302.88 38.07 L303.24 41.26 L303.60 42.63 L303.96 41.88 L304.32 43.52 L304.68 42.58 L305.04 42.19 L305.40 41.82 L305.76 44.81 L306.12 42.57 L306.48 41.78 L306.84 45.05 L307.20 45.86 L307.56 44.87 L307.92 46.31 L308.28 43.22 L308.64 43.45 L309.00 43.71 L309.36 44.41 L309.72 43.50 L310.08 42.86 L310.44 43.94 L310.80 46.97 L311.16 48.04 L311.52 47.24 L311.88 45.84 L312.24 44.47 L312.60 47.31 L312.96 46.07 L313.32 46.67 L313.68 43.67 L314.04 43.75 L314.40 46.58 L314.76 47.10 L315.12 47.62 L315.48 46.49 L315.84 45.41 L316.20 45.84 L316.56 47.16 L316.92 45.05 L317.28 45.54 L317.64 44.50 L318.00 46.46 L318.36 43.54 L318.72 45.84 L319.08 47.63 L319.44 43.89 L319.80 45.52 L320.16 46.15 L320.52 47.25 L320.88 46.32 L321.24 44.61 L321.60 44.85 L321.96 47.40 L322.32 47.80 L322.68 44.43 L323.04 43.41 L323.40 43.15 L323.76 42.78 L324.12 44.58 L324.48 43.65 L324.84 46.69 L325.20 46.50 L325.56 44.07 L325.92 45.32 L326.28 44.66 L326.64 45.26 L327.00 44.18 L327.36 43.67 L327.72 43.62 L328.08 44.48 L328.44 46.19 L328.80 45.90 L329.16 43.56 L329.52 45.96 L329.88 47.30 L330.24 47.18 L330.60 47.23 L330.96 43.72 L331.32 44.89 L331.68 43.38 L332.04 46.16 L332.40 44.20 L332.76 46.13 L333.12 44.54 L333.48 46.15 L333.84 44.82 L334.20 43.27 L334.56 44.44 L334.92 44.38 L335.28 27.09 L335.64 25.33 L336.00 26.06 L336.36 26.68 L336.72 28.86 L337.08 25.81 L337.44 27.54 L337.80 27.79 L338.16 29.10 L338.52 30.70 L338.88 28.37 L339.24 29.78 L339.60 29.57 L339.96 29.91 L340.32 27.99 L340.68 31.12 L341.04 32.86 L341.40 30.73 L341.76 30.26 L342.12 33.41 L342.48 30.44 L342.84 29.79 L343.20 29.84 L343.56 33.42 L343.92 34.30 L344.28 34.60 L344.64 36.73 L345.00 35.55 L345.36 38.91 L345.72 39.56 L346.08 40.67 L346.44 40.88 L346.80 41.43 L347.16 41.15 L347.52 40.60 L347.88 42.47 L348.24 42.32 L348.60 44.53 L348.96 45.76 L349.32 45.79 L349.68 44.71 L350.04 43.55 L350.40 44.02 L350.76 44.66 L351.12 45.54 L351.48 47.30 L351.84 43.83 L352.20 44.78 L352.56 45.10 L352.92 46.23 L353.28 47.49 L353.64 47.26 L354.00 46.51 L354.36 46.92 L354.72 46.61 L355.08 47.39 L355.44 46.87 L355.80 46.67 L356.16 44.65 L356.52 47.16 L356.88 45.40 L357.24 45.99 L357.60 47.08 L357.96 47.98 L358.32 48.32 L358.68 43.98 L359.04 44.28 L359.40 44.35 L359.76 44.72 L360.12 43.71 L360.48 45.29 L360.84 43.56 L361.20 44.13 L361.56 47.15 L361.92 47.00 L362.28 45.71 L362.64 43.79 L363.00 47.12 L363.36 46.82 L363.72 44.51 L364.08 44.51 L364.44 45.89 L364.80 46.41 L365.16 44.65 L365.52 47.32 L365.88 45.15 L366.24 44.31 L366.60 46.76 L366.96 44.25 L367.32 46.00 L367.68 44.28 L368.04 45.63 L368.40 44.53 L368.76 44.71 L369.12 47.29 L369.48 45.80 L369.84 45.29 L370.20 45.97 L370.56 44.63 L370.92 43.82 L371.28 44.56 L371.64 44.24 L372.00 43.78 L372.36 47.14 L372.72 43.82 L373.08 46.48 L373.44 47.70 L373.80 46.97 L374.16 43.70 L374.52 45.06 L374.88 43.32 L375.24 45.44 L375.60 46.39 L375.96 44.55 L376.32 43.05 L376.68 45.09 L377.04 43.57 L377.40 44.16 L377.76 44.96 L378.12 47.14 L378.48 45.33 L378.84 43.81 L379.20 46.39 L379.56 47.17 L379.92 46.05 L380.28 43.61 L380.64 43.62 L381.00 44.59 L381.36 45.51 L381.72 44.26 L382.08 46.55 L382.44 47.31 L382.80 47.87 L383.16 47.82 L383.52 43.91 L383.88 45.47 L384.24 43.60 L384.60 46.82 L384.96 46.94 L385.32 47.03 L385.68 44.48 L386.04 43.26 L386.40 46.36 L386.76 46.19 L387.12 46.21 L387.48 45.55 L387.84 46.86 L388.20 45.11 L388.56 44.37 L388.92 44.56 L389.28 44.35 L389.64 45.79 L390.00 47.33 L390.36 44.03 L390.72 43.19 L391.08 44.97 L391.44 47.18 L391.80 46.79 L392.16 48.19 L392.52 48.72 L392.88 49.14 L393.24 51.11 L393.60 52.44 L393.96 52.65 L394.32 50.47 L394.68 49.69 L395.04 53.21 L395.40 52.33 L395.76 51.52 L396.12 52.59 L396.48 53.02 L396.84 52.22 L397.20 50.01 L397.56 52.82 L397.92 50.77 L398.28 49.47 L398.64 50.55 L399.00 51.63 L399.36 52.34 L399.72 50.47 L400.08 52.41 L400.44 48.90 L400.80 45.93 L401.16 47.79 L401.52 47.76 L401.88 48.02 L402.24 46.96 L402.60 44.56 L402.96 46.45 L403.32 47.48 L403.68 46.07 L404.04 47.41 L404.40 48.12 L404.76 45.66 L405.12 47.53 L405.48 47.97 L405.84 47.44 L406.20 43.79 L406.56 44.41 L406.92 45.74 L407.28 46.04 L407.64 46.79 L408.00 46.48 L408.36 44.22 L408.72 47.12 L409.08 46.07 L409.44 47.36 L409.80 44.65 L410.16 47.53 L410.52 46.25 L410.88 46.93 L411.24 46.94 L411.60 47.58 L411.96 45.40 L412.32 43.60 L412.68 44.60 L413.04 43.83 L413.40 45.26 L413.76 46.86 L414.12 45.22 L414.48 43.77 L414.84 42.94 L415.20 44.51 L415.56 45.62 L415.92 43.40 L416.28 45.72 L416.64 44.25 L417.00 43.42 L417.36 46.90 L417.72 45.95 L418.08 47.39 L418.44 46.04 L418.80 43.94 L419.16 43.94 L419.52 44.77 L419.88 45.95 L420.24 46.83 L420.60 46.96 L420.96 46.54 L421.32 44.65 L421.68 44.97 L422.04 44.82 L422.40 45.28 L422.76 44.39 L423.12 45.39 L423.48 45.29 L423.84 43.36 L424.20 46.42 L424.56 46.12 L424.92 47.02 L425.28 46.94 L425.64 46.90 L426.00 48.07 L426.36 45.59 L426.72 45.04 L427.08 43.15 L427.44 45.65 L427.80 45.90 L428.16 45.95 L428.52 47.85 L428.88 44.72 L429.24 44.08 L429.60 46.20 L429.96 47.08 L430.32 45.82 L430.68 43.58 L431.04 44.44 L431.40 46.70 L431.76 45.80 L432.12 45.40 L432.48 44.98 L432.84 45.95 L433.20 46.06 L433.56 46.51 L433.92 47.40 L434.28 47.10 L434.64 45.34 L435.00 44.34 L435.36 46.48 L435.72 47.06 L436.08 47.82 L436.44 44.72 L436.80 46.87 L437.16 47.60 L437.52 44.12 L437.88 44.29 L438.24 45.80 L438.60 43.98 L438.96 46.61 L439.32 44.72 L439.68 46.13 L440.04 44.74 L440.40 44.04 L440.76 43.82 L441.12 45.07 L441.48 46.35 L441.84 44.44 L442.20 46.07 L442.56 44.90 L442.92 46.02 L443.28 45.04 L443.64 44.00 L444.00 43.51 L444.36 43.01 L444.72 45.76 L445.08 45.18 L445.44 43.72 L445.80 46.77 L446.16 46.51 L446.52 43.60 L446.88 46.04 L447.24 46.06 L447.60 45.39 L447.96 45.47 L448.32 47.57 L448.68 45.45 L449.04 47.53 L449.40 49.20 L449.76 49.54 L450.12 50.67 L450.48 52.75 L450.84 52.65 L451.20 51.82 L451.56 51.87 L451.92 50.57 L452.28 52.80 L452.64 49.89 L453.00 51.97 L453.36 51.64 L453.72 50.51 L454.08 51.87 L454.44 52.19 L454.80 50.04 L455.16 51.32 L455.52 50.17 L455.88 52.74 L456.24 51.26 L456.60 50.89 L456.96 50.29 L457.32 49.39 L457.68 49.79 L458.04 46.70 L458.40 47.46 L458.76 48.16 L459.12 45.21 L459.48 43.81 L459.84 45.26 L460.20 43.68 L460.56 44.56 L460.92 46.37 L461.28 44.31 L461.64 46.03 L462.00 45.83 L462.36 43.71 L462.72 43.90 L463.08 45.55 L463.44 43.69 L463.80 43.72 L464.16 45.40 L464.52 46.91 L464.88 45.94 L465.24 46.35 L465.60 43.50 L465.96 44.11 L466.32 44.33 L466.68 47.07 L467.04 45.25 L467.40 46.72 L467.76 43.71 L468.12 45.05 L468.48 47.15 L468.84 47.13 L469.20 46.27 L469.56 44.26 L469.92 47.11 L470.28 44.01 L470.64 47.22 L471.00 47.17 L471.36 46.91 L471.72 45.99 L472.08 44.11 L472.44 44.44 L472.80 45.97 L473.16 46.32 L473.52 45.21" stroke="#000" stroke-width="1.0" fill="none" />
<rect x="271.20" y="78.40" width="202.60" height="2.20" fill="#000" />
<path d="M271.40 78.6V64.6M272.20 78.6V64.8M274.20 78.6V66.4M275.00 78.6V65.0M275.40 78.6V68.6M278.60 78.6V69.5M279.00 78.6V69.3M279.40 78.6V67.1M281.80 78.6V65.4M282.20 78.6V64.8M283.00 78.6V63.1M285.00 78.6V67.1M285.40 78.6V68.5M286.20 78.6V68.3M286.60 78.6V64.5M287.00 78.6V65.6M287.40 78.6V63.5M288.20 78.6V67.1M289.00 78.6V65.2M289.80 78.6V67.7M290.60 78.6V69.5M291.40 78.6V68.1M292.60 78.6V68.9M293.40 78.6V64.5M295.40 78.6V65.0M295.80 78.6V65.1M297.40 78.6V70.0M297.80 78.6V65.6M298.60 78.6V67.4M300.20 78.6V68.8M301.00 78.6V66.6M301.80 78.6V64.7M303.00 78.6V68.0M304.20 78.6V64.5M307.00 78.6V65.0M309.40 78.6V66.2M311.00 78.6V66.5M311.40 78.6V71.7M312.20 78.6V66.3M313.00 78.6V66.5M313.40 78.6V66.4M315.40 78.6V66.2M317.80 78.6V64.7M319.00 78.6V65.1M321.80 78.6V65.1M324.20 78.6V68.4M325.40 78.6V62.8M326.60 78.6V66.8M327.40 78.6V67.7M327.80 78.6V64.9M330.20 78.6V68.5M330.60 78.6V65.1M332.20 78.6V71.2M332.60 78.6V67.3M333.00 78.6V67.1M333.40 78.6V68.5M334.20 78.6V69.2M335.00 78.6V68.5M335.40 78.6V68.7M336.20 78.6V67.2M337.00 78.6V68.2M339.40 78.6V69.1M340.20 78.6V64.6M340.60 78.6V65.6M345.40 78.6V62.3M347.00 78.6V67.1M347.80 78.6V67.0M348.20 78.6V68.8M350.60 78.6V67.6M351.00 78.6V66.1M355.80 78.6V67.7M357.80 78.6V68.5M358.60 78.6V66.3M359.80 78.6V66.7M361.80 78.6V68.2M362.60 78.6V64.6M363.00 78.6V65.6M365.40 78.6V69.3M365.80 78.6V63.6M366.60 78.6V64.8M367.00 78.6V68.3M369.00 78.6V65.7M370.20 78.6V65.8M371.00 78.6V65.4M373.40 78.6V72.9M374.20 78.6V65.4M374.60 78.6V69.7M375.40 78.6V66.9M376.20 78.6V68.9M377.00 78.6V66.9M377.40 78.6V65.7M379.40 78.6V67.1M379.80 78.6V69.4M381.40 78.6V73.4M381.80 78.6V72.9M382.20 78.6V66.5M384.60 78.6V67.0M385.40 78.6V67.9M385.80 78.6V64.7M387.00 78.6V65.2M388.20 78.6V63.7M389.40 78.6V68.1M390.20 78.6V65.6M390.60 78.6V74.9M391.40 78.6V64.6M393.00 78.6V64.6M393.80 78.6V62.9M396.60 78.6V63.9M397.80 78.6V66.2M398.60 78.6V68.3M399.80 78.6V65.1M400.20 78.6V64.8M400.60 78.6V69.1M401.80 78.6V64.9M402.20 78.6V64.7M404.60 78.6V62.2M405.40 78.6V69.5M406.60 78.6V65.8M408.20 78.6V66.1M408.60 78.6V68.3M410.60 78.6V64.5M412.20 78.6V64.7M413.40 78.6V66.9M415.00 78.6V66.6M415.40 78.6V67.6M418.20 78.6V66.3M419.40 78.6V66.7M419.80 78.6V65.9M420.20 78.6V66.5M421.80 78.6V64.6M422.60 78.6V65.4M424.20 78.6V67.6M424.60 78.6V66.8M427.00 78.6V69.4M428.60 78.6V66.5M429.00 78.6V65.1M429.80 78.6V64.8M431.40 78.6V65.2M431.80 78.6V66.1M432.20 78.6V65.5M433.00 78.6V66.9M433.40 78.6V65.3M433.80 78.6V64.8M434.60 78.6V67.8M435.40 78.6V68.8M436.60 78.6V66.9M437.40 78.6V64.6M437.80 78.6V66.6M441.80 78.6V64.6M444.20 78.6V75.4M445.40 78.6V68.3M446.20 78.6V69.5M447.00 78.6V64.8M447.40 78.6V72.6M447.80 78.6V65.0M448.60 78.6V65.8M449.00 78.6V67.4M451.00 78.6V68.3M451.40 78.6V64.6M451.80 78.6V62.9M453.40 78.6V66.0M455.40 78.6V68.9M455.80 78.6V69.1M456.20 78.6V72.5M456.60 78.6V72.8M457.80 78.6V69.5M459.00 78.6V75.1M459.40 78.6V66.7M460.20 78.6V70.2M463.00 78.6V65.3M464.20 78.6V66.7M465.00 78.6V67.1M468.20 78.6V66.2M469.00 78.6V69.0" stroke="#000" stroke-width="0.5" fill="none"/>
<path d="M272.60 78.6V73.8M273.80 78.6V66.7M276.20 78.6V67.8M277.00 78.6V67.5M281.00 78.6V67.5M281.40 78.6V67.3M283.40 78.6V65.4M283.80 78.6V66.0M284.20 78.6V64.7M285.80 78.6V69.1M290.20 78.6V65.4M291.00 78.6V68.9M294.60 78.6V66.8M295.00 78.6V65.9M296.20 78.6V64.9M296.60 78.6V65.3M297.00 78.6V64.7M298.20 78.6V67.3M299.00 78.6V67.8M302.20 78.6V65.0M302.60 78.6V66.5M305.40 78.6V66.4M305.80 78.6V64.6M306.20 78.6V65.6M309.00 78.6V64.9M309.80 78.6V65.0M310.20 78.6V66.1M311.80 78.6V67.3M316.20 78.6V68.0M317.40 78.6V65.4M319.40 78.6V64.8M320.20 78.6V69.3M321.00 78.6V74.7M321.40 78.6V69.2M323.40 78.6V64.7M324.60 78.6V65.8M328.20 78.6V68.5M329.40 78.6V65.6M329.80 78.6V65.2M331.40 78.6V64.9M333.80 78.6V64.8M335.80 78.6V67.2M337.40 78.6V66.2M337.80 78.6V66.5M338.60 78.6V64.6M339.00 78.6V69.4M339.80 78.6V62.1M341.40 78.6V68.2M342.20 78.6V67.0M343.00 78.6V68.5M343.80 78.6V72.0M349.00 78.6V67.2M350.20 78.6V70.7M353.80 78.6V68.5M354.20 78.6V64.9M355.00 78.6V68.2M355.40 78.6V64.7M356.20 78.6V66.9M356.60 78.6V72.4M357.00 78.6V75.8M357.40 78.6V65.4M358.20 78.6V66.9M361.00 78.6V69.2M364.60 78.6V66.1M367.80 78.6V68.5M368.60 78.6V68.3M369.80 78.6V65.0M373.00 78.6V67.5M373.80 78.6V64.5M375.80 78.6V68.2M376.60 78.6V67.1M377.80 78.6V74.1M378.60 78.6V66.5M379.00 78.6V64.8M380.20 78.6V69.3M389.00 78.6V68.3M391.00 78.6V64.5M391.80 78.6V67.5M392.60 78.6V64.6M393.40 78.6V67.9M395.40 78.6V65.0M396.20 78.6V61.6M397.00 78.6V68.7M397.40 78.6V64.9M402.60 78.6V73.3M405.80 78.6V68.1M407.00 78.6V68.4M407.40 78.6V65.7M409.00 78.6V64.6M409.80 78.6V65.0M410.20 78.6V64.6M414.20 78.6V65.5M415.80 78.6V68.5M417.00 78.6V69.1M420.60 78.6V64.7M425.00 78.6V68.3M425.80 78.6V65.5M426.20 78.6V64.8M430.20 78.6V66.4M431.00 78.6V66.5M435.00 78.6V65.0M435.80 78.6V63.0M436.20 78.6V64.7M438.20 78.6V67.2M438.60 78.6V65.2M439.80 78.6V65.3M440.20 78.6V67.9M441.40 78.6V64.6M442.20 78.6V67.3M442.60 78.6V65.8M443.40 78.6V66.7M445.80 78.6V65.2M450.20 78.6V70.7M453.80 78.6V66.5M454.60 78.6V64.7M455.00 78.6V66.4M458.20 78.6V65.5M459.80 78.6V72.7M462.60 78.6V65.1M466.60 78.6V67.8M467.80 78.6V65.7M469.80 78.6V69.0M470.20 78.6V64.7M470.60 78.6V74.2M471.00 78.6V65.6M471.80 78.6V62.0M473.40 78.6V65.4M473.80 78.6V64.6" stroke="#161616" stroke-width="0.5" fill="none"/>
<path d="M271.80 78.6V71.6M273.40 78.6V67.5M275.80 78.6V65.1M276.60 78.6V65.3M277.80 78.6V73.9M279.80 78.6V68.1M282.60 78.6V72.5M292.20 78.6V64.7M293.80 78.6V73.6M300.60 78.6V65.3M301.40 78.6V68.6M303.40 78.6V66.0M303.80 78.6V65.3M304.60 78.6V65.0M305.00 78.6V69.0M307.40 78.6V65.1M307.80 78.6V66.9M310.60 78.6V65.6M312.60 78.6V65.9M313.80 78.6V72.1M314.60 78.6V65.9M315.00 78.6V74.7M315.80 78.6V66.0M317.00 78.6V65.7M319.80 78.6V65.0M320.60 78.6V68.8M322.20 78.6V64.9M322.60 78.6V73.4M325.00 78.6V66.3M325.80 78.6V66.7M326.20 78.6V67.6M327.00 78.6V64.6M329.00 78.6V67.5M331.00 78.6V67.2M336.60 78.6V69.6M341.00 78.6V66.1M341.80 78.6V68.2M344.20 78.6V66.5M344.60 78.6V67.4M345.00 78.6V64.5M345.80 78.6V64.9M346.20 78.6V70.8M346.60 78.6V64.6M349.40 78.6V65.5M349.80 78.6V69.4M351.80 78.6V75.3M352.20 78.6V64.6M352.60 78.6V65.6M353.40 78.6V66.3M354.60 78.6V68.6M359.00 78.6V66.1M359.40 78.6V66.0M360.20 78.6V66.6M362.20 78.6V70.8M364.20 78.6V70.9M367.40 78.6V65.8M369.40 78.6V69.2M370.60 78.6V64.8M372.20 78.6V67.3M372.60 78.6V61.6M375.00 78.6V64.5M381.00 78.6V63.4M383.00 78.6V68.8M383.80 78.6V69.2M384.20 78.6V68.8M386.20 78.6V71.4M388.60 78.6V66.2M395.00 78.6V65.8M399.00 78.6V69.2M403.40 78.6V65.8M405.00 78.6V65.1M406.20 78.6V67.4M409.40 78.6V69.4M411.00 78.6V64.9M412.60 78.6V65.3M413.00 78.6V67.7M414.60 78.6V67.5M416.20 78.6V75.1M419.00 78.6V68.9M421.00 78.6V66.1M421.40 78.6V68.2M422.20 78.6V65.6M423.00 78.6V69.5M423.40 78.6V74.0M427.40 78.6V64.6M427.80 78.6V65.1M429.40 78.6V67.8M441.00 78.6V65.3M443.00 78.6V68.5M444.60 78.6V72.2M448.20 78.6V66.2M452.60 78.6V68.4M453.00 78.6V68.0M457.00 78.6V65.1M457.40 78.6V64.6M458.60 78.6V64.6M460.60 78.6V64.8M461.00 78.6V74.8M462.20 78.6V69.8M464.60 78.6V65.1M465.80 78.6V63.9M466.20 78.6V66.3M468.60 78.6V68.1M469.40 78.6V67.5M471.40 78.6V66.4M472.20 78.6V66.9M472.60 78.6V68.9" stroke="#2e2e2e" stroke-width="0.5" fill="none"/>
<path d="M273.00 78.6V65.8M274.60 78.6V65.0M277.40 78.6V68.8M278.20 78.6V69.3M280.20 78.6V68.1M280.60 78.6V68.3M284.60 78.6V68.4M287.80 78.6V66.7M288.60 78.6V64.7M289.40 78.6V68.1M291.80 78.6V69.4M293.00 78.6V64.8M294.20 78.6V75.7M299.40 78.6V67.1M299.80 78.6V67.4M306.60 78.6V73.9M308.20 78.6V64.7M308.60 78.6V66.3M314.20 78.6V67.9M316.60 78.6V69.1M318.20 78.6V68.9M318.60 78.6V68.1M323.00 78.6V66.8M323.80 78.6V69.4M328.60 78.6V68.1M331.80 78.6V65.3M334.60 78.6V65.1M338.20 78.6V64.8M342.60 78.6V75.3M343.40 78.6V66.3M347.40 78.6V61.7M348.60 78.6V68.5M351.40 78.6V66.1M353.00 78.6V64.7M360.60 78.6V68.1M361.40 78.6V66.2M363.40 78.6V64.7M363.80 78.6V67.0M365.00 78.6V69.1M366.20 78.6V66.2M368.20 78.6V62.9M371.40 78.6V66.6M371.80 78.6V71.1M378.20 78.6V65.8M380.60 78.6V72.7M382.60 78.6V64.5M383.40 78.6V65.1M385.00 78.6V66.7M386.60 78.6V75.5M387.40 78.6V67.1M387.80 78.6V61.7M389.80 78.6V68.6M392.20 78.6V67.5M394.20 78.6V69.9M394.60 78.6V72.6M395.80 78.6V68.3M398.20 78.6V65.7M399.40 78.6V69.4M401.00 78.6V69.2M401.40 78.6V70.4M403.00 78.6V64.9M403.80 78.6V64.8M404.20 78.6V66.5M407.80 78.6V68.9M411.40 78.6V65.8M411.80 78.6V68.7M413.80 78.6V66.8M416.60 78.6V67.5M417.40 78.6V63.1M417.80 78.6V67.9M418.60 78.6V64.6M423.80 78.6V67.1M425.40 78.6V67.6M426.60 78.6V66.3M428.20 78.6V67.9M430.60 78.6V66.8M432.60 78.6V63.0M434.20 78.6V64.7M437.00 78.6V61.6M439.00 78.6V65.4M439.40 78.6V66.3M440.60 78.6V67.5M443.80 78.6V68.4M445.00 78.6V73.7M446.60 78.6V67.0M449.40 78.6V73.6M449.80 78.6V69.0M450.60 78.6V72.6M452.20 78.6V66.0M454.20 78.6V64.9M461.40 78.6V65.8M461.80 78.6V67.1M463.40 78.6V74.8M463.80 78.6V66.1M465.40 78.6V64.6M467.00 78.6V68.2M467.40 78.6V65.2M473.00 78.6V66.8" stroke="#565656" stroke-width="0.5" fill="none"/>
<rect x="271.20" y="69.00" width="202.60" height="9.40" fill="#000" opacity="0.35"/>
<rect x="271.20" y="73.00" width="202.60" height="5.40" fill="#000" opacity="0.3"/>
<path d="M272.20 61.5V73.1M274.70 61.5V69.6M276.07 61.5V70.8M278.73 61.5V73.8M280.66 61.5V72.1M283.51 61.5V67.3M288.66 61.5V73.2M291.20 61.5V71.7M298.07 61.5V69.2M301.16 61.5V67.7M302.84 61.5V68.0M305.54 61.5V72.6M308.61 61.5V68.0M311.54 61.5V71.7M329.72 61.5V72.5M333.11 61.5V69.1M334.32 61.5V71.6M336.45 61.5V72.6M339.02 61.5V69.9M343.04 61.5V71.6M351.96 61.5V71.5M354.11 61.5V73.5M357.33 61.5V72.1M359.23 61.5V67.0M361.79 61.5V73.4M364.29 61.5V71.3M373.82 61.5V69.7M378.66 61.5V69.7M381.86 61.5V69.4M385.22 61.5V67.4M386.59 61.5V72.4M388.84 61.5V68.0M393.20 61.5V72.8M395.67 61.5V70.9M398.58 61.5V67.1M402.10 61.5V67.3M405.03 61.5V69.6M410.49 61.5V70.3M420.39 61.5V69.5M422.79 61.5V71.2M431.22 61.5V71.8M433.79 61.5V68.2M438.08 61.5V69.3M439.93 61.5V67.1M441.57 61.5V71.7M446.46 61.5V73.6M451.71 61.5V67.2M452.94 61.5V71.5M454.79 61.5V67.5M458.09 61.5V67.6M461.28 61.5V70.0M463.53 61.5V73.5M466.55 61.5V70.2M468.17 61.5V73.0M470.89 61.5V70.2" stroke="#fff" stroke-width="0.7" fill="none" opacity="0.85"/>
<path d="M286.62 61.5V76.9M292.46 61.5V76.5M293.77 61.5V77.1M295.28 61.5V76.8M315.04 61.5V76.5M318.56 61.5V76.9M320.47 61.5V76.6M322.88 61.5V76.4M326.32 61.5V77.2M340.66 61.5V75.7M346.49 61.5V77.6M349.54 61.5V76.2M367.30 61.5V76.0M369.12 61.5V77.7M370.74 61.5V77.5M375.45 61.5V75.3M391.49 61.5V76.8M407.67 61.5V75.7M413.90 61.5V77.9M415.31 61.5V77.2M417.06 61.5V76.0M425.74 61.5V77.8M427.70 61.5V75.9M436.36 61.5V76.5M443.26 61.5V75.9M449.46 61.5V75.5" stroke="#fff" stroke-width="0.55" fill="none" opacity="0.8"/>
<text x="475.00" y="50.40" font-size="7.4" fill="#111" stroke="#111" stroke-width="0.06" font-style="italic">//</text>
<text x="475.00" y="78.00" font-size="7.4" fill="#111" stroke="#111" stroke-width="0.06" font-style="italic">//</text>
<line x1="434.50" y1="84.50" x2="443.20" y2="84.50" stroke="#000" stroke-width="1.2"/>
<text x="438.90" y="90.60" font-size="5.8" fill="#111" text-anchor="middle" stroke="#111" stroke-width="0.14" textLength="13.50" lengthAdjust="spacingAndGlyphs">1 min</text>
<text x="466.00" y="90.60" font-size="5.4" fill="#111" textLength="23.60" lengthAdjust="spacingAndGlyphs">Atropine</text>
<line x1="477.20" y1="85.20" x2="477.20" y2="81.40" stroke="#000" stroke-width="0.6"/>
<polygon points="477.2,80.2 476.1,82.4 478.3,82.4" fill="#000"/>
<path d="M482.20 27.24 L482.53 25.15 L482.86 24.63 L483.19 27.21 L483.52 25.27 L483.85 24.90 L484.18 26.30 L484.51 25.61 L484.84 27.01 L485.17 25.38 L485.50 27.18 L485.83 25.63 L486.16 26.24 L486.49 27.19 L486.82 26.62 L487.15 27.21 L487.48 26.68 L487.81 24.85 L488.14 26.91 L488.47 26.33 L488.80 25.52 L489.13 25.12 L489.46 26.86 L489.79 26.31 L490.12 27.21 L490.45 26.86 L490.78 27.33 L491.11 26.31 L491.44 26.57 L491.77 26.36 L492.10 25.38 L492.43 27.17 L492.76 25.61 L493.09 26.72 L493.42 27.30 L493.75 26.54 L494.08 25.09 L494.41 26.79 L494.74 26.53 L495.07 25.20 L495.40 24.70 L495.73 25.96 L496.06 24.73 L496.39 27.02 L496.72 26.12 L497.05 26.06 L497.38 25.76 L497.71 26.41 L498.04 27.17 L498.37 25.60 L498.70 25.62 L499.03 26.18 L499.36 25.47 L499.69 26.21 L500.02 26.14 L500.35 25.83 L500.68 26.45 L501.01 26.12 L501.34 24.90 L501.67 27.23 L502.00 25.73 L502.33 25.79 L502.66 25.72 L502.99 27.13 L503.32 27.33 L503.65 26.17 L503.98 25.75 L504.31 24.89 L504.64 26.96 L504.97 25.21 L505.30 26.35 L505.63 25.90 L505.96 25.80 L506.29 25.86 L506.62 25.42 L506.95 24.96 L507.28 26.26 L507.61 27.10 L507.94 26.78 L508.27 25.54 L508.60 26.75 L508.93 25.14 L509.26 25.94 L509.59 27.15 L509.92 27.52 L510.25 26.32 L510.58 27.24 L510.91 26.39 L511.24 26.37 L511.57 26.54 L511.90 27.65 L512.23 27.09 L512.56 26.31 L512.89 26.91 L513.22 26.75 L513.55 25.95 L513.88 27.03 L514.21 27.24 L514.54 26.69 L514.87 27.53 L515.20 25.12 L515.53 26.18 L515.86 26.65 L516.19 25.90 L516.52 25.37 L516.85 26.73 L517.18 26.17 L517.51 25.66 L517.84 25.00 L518.17 27.43 L518.50 26.01 L518.83 25.24 L519.16 25.43 L519.49 25.55 L519.82 27.21 L520.15 25.53 L520.48 25.62 L520.81 25.14 L521.14 26.10 L521.47 25.49 L521.80 25.80 L522.13 26.88 L522.46 27.51 L522.79 27.32 L523.12 25.16 L523.45 25.86 L523.78 27.20 L524.11 25.13 L524.44 25.38 L524.77 26.18 L525.10 25.97 L525.43 26.94 L525.76 26.95 L526.09 26.27 L526.42 25.62 L526.75 25.50 L527.08 25.59 L527.41 25.05 L527.74 26.62 L528.07 25.41 L528.40 27.26 L528.73 26.79 L529.06 25.15 L529.39 26.18 L529.72 26.57 L530.05 25.09 L530.38 26.14 L530.71 25.01 L531.04 26.89 L531.37 25.02 L531.70 26.53 L532.03 27.63 L532.36 27.37 L532.69 25.69 L533.02 26.33 L533.35 25.33 L533.68 25.78 L534.01 27.23 L534.34 27.25 L534.67 25.07 L535.00 25.85 L535.33 26.63 L535.66 25.46 L535.99 27.03 L536.32 27.43 L536.65 26.55 L536.98 25.95 L537.31 27.21 L537.64 26.43 L537.97 25.47 L538.30 25.62 L538.63 25.31 L538.96 27.12 L539.29 26.41 L539.62 26.84 L539.95 27.21 L540.28 27.67 L540.61 25.60 L540.94 25.98 L541.27 27.28 L541.60 27.10 L541.93 26.07 L542.26 26.70 L542.59 25.52 L542.92 25.31 L543.25 24.99 L543.58 25.84 L543.91 25.54 L544.24 26.27 L544.57 27.56 L544.90 25.49 L545.23 26.37 L545.56 27.29 L545.89 26.66 L546.22 26.41 L546.55 27.03 L546.88 25.08 L547.21 27.39 L547.54 26.91 L547.87 27.19 L548.20 27.27 L548.53 25.31 L548.86 25.03 L549.19 25.30 L549.52 26.21 L549.85 27.47 L550.18 27.52 L550.51 26.18" stroke="#000" stroke-width="0.9" fill="none" />
<rect x="482.20" y="78.40" width="68.40" height="2.20" fill="#000" />
<path d="M482.40 78.6V67.8M483.60 78.6V65.3M484.00 78.6V75.5M484.40 78.6V62.3M484.80 78.6V65.6M486.80 78.6V64.8M487.20 78.6V64.8M487.60 78.6V68.3M490.00 78.6V64.5M491.60 78.6V65.4M492.00 78.6V69.0M492.40 78.6V66.7M495.60 78.6V74.3M497.20 78.6V65.3M497.60 78.6V68.2M498.00 78.6V66.4M499.60 78.6V66.8M500.00 78.6V68.5M504.80 78.6V64.9M506.00 78.6V64.5M507.20 78.6V65.7M507.60 78.6V65.1M509.60 78.6V61.9M510.00 78.6V68.3M510.40 78.6V64.7M510.80 78.6V66.0M512.00 78.6V65.2M512.80 78.6V67.6M513.60 78.6V65.0M514.40 78.6V65.1M514.80 78.6V66.9M515.20 78.6V68.0M516.40 78.6V72.8M516.80 78.6V64.6M517.20 78.6V73.0M517.60 78.6V66.4M519.60 78.6V64.7M520.40 78.6V68.0M521.20 78.6V65.5M521.60 78.6V64.8M522.00 78.6V69.4M523.60 78.6V68.0M528.40 78.6V67.9M529.60 78.6V70.7M530.00 78.6V66.5M531.20 78.6V74.6M532.00 78.6V68.6M532.80 78.6V68.3M533.60 78.6V66.8M534.40 78.6V65.7M534.80 78.6V65.9M535.20 78.6V65.1M536.00 78.6V67.3M538.40 78.6V66.7M538.80 78.6V69.6M540.00 78.6V68.4M540.80 78.6V65.9M541.60 78.6V67.8M543.60 78.6V64.0M544.40 78.6V66.4M544.80 78.6V67.6M546.00 78.6V66.3M546.80 78.6V68.1" stroke="#000" stroke-width="0.5" fill="none"/>
<path d="M485.20 78.6V66.0M485.60 78.6V65.5M486.00 78.6V69.2M486.40 78.6V63.9M488.00 78.6V68.2M488.40 78.6V71.7M488.80 78.6V66.8M489.60 78.6V67.4M492.80 78.6V68.9M493.60 78.6V65.1M494.40 78.6V66.7M495.20 78.6V65.1M496.80 78.6V64.8M498.40 78.6V71.9M498.80 78.6V64.7M499.20 78.6V66.1M501.60 78.6V68.2M502.00 78.6V62.4M503.60 78.6V66.1M505.60 78.6V68.4M509.20 78.6V68.7M513.20 78.6V71.5M516.00 78.6V66.2M518.40 78.6V66.4M519.20 78.6V64.7M520.00 78.6V68.6M523.20 78.6V67.8M524.00 78.6V64.7M524.40 78.6V66.3M524.80 78.6V64.7M525.60 78.6V68.2M526.40 78.6V66.9M526.80 78.6V67.9M527.60 78.6V66.8M528.80 78.6V65.3M529.20 78.6V65.9M530.80 78.6V67.8M536.80 78.6V64.7M537.20 78.6V68.1M537.60 78.6V64.5M538.00 78.6V64.7M539.60 78.6V66.9M541.20 78.6V68.1M543.20 78.6V65.1M544.00 78.6V67.0M545.20 78.6V67.1M548.00 78.6V66.1M548.80 78.6V68.5M550.40 78.6V64.6" stroke="#161616" stroke-width="0.5" fill="none"/>
<path d="M482.80 78.6V69.1M483.20 78.6V68.2M489.20 78.6V64.6M490.40 78.6V72.4M490.80 78.6V66.2M494.00 78.6V66.8M496.00 78.6V65.5M496.40 78.6V73.9M500.80 78.6V69.0M501.20 78.6V66.0M502.80 78.6V68.8M504.40 78.6V65.4M506.40 78.6V67.9M506.80 78.6V65.5M508.40 78.6V68.8M511.60 78.6V66.0M512.40 78.6V65.2M515.60 78.6V67.4M518.00 78.6V73.4M518.80 78.6V62.3M522.80 78.6V65.9M525.20 78.6V66.4M528.00 78.6V63.2M530.40 78.6V70.1M533.20 78.6V66.6M535.60 78.6V67.1M536.40 78.6V66.5M540.40 78.6V75.3M542.00 78.6V69.3M542.40 78.6V67.3M547.60 78.6V70.1M550.00 78.6V64.6" stroke="#2e2e2e" stroke-width="0.5" fill="none"/>
<path d="M491.20 78.6V64.5M493.20 78.6V65.3M494.80 78.6V65.8M500.40 78.6V70.0M502.40 78.6V75.4M503.20 78.6V64.9M504.00 78.6V73.5M505.20 78.6V64.6M508.00 78.6V64.6M508.80 78.6V63.7M511.20 78.6V65.2M514.00 78.6V71.1M520.80 78.6V66.9M522.40 78.6V74.3M526.00 78.6V66.6M527.20 78.6V67.7M531.60 78.6V72.8M532.40 78.6V67.8M534.00 78.6V66.1M539.20 78.6V66.0M542.80 78.6V67.5M545.60 78.6V68.8M546.40 78.6V65.9M547.20 78.6V66.0M548.40 78.6V67.1M549.20 78.6V66.5M549.60 78.6V66.3" stroke="#565656" stroke-width="0.5" fill="none"/>
<rect x="482.20" y="69.00" width="68.40" height="9.40" fill="#000" opacity="0.35"/>
<rect x="482.20" y="73.00" width="68.40" height="5.40" fill="#000" opacity="0.3"/>
<path d="M483.20 61.5V70.5M493.99 61.5V72.9M495.61 61.5V72.3M498.96 61.5V71.4M501.71 61.5V73.3M505.28 61.5V67.9M509.64 61.5V73.3M512.11 61.5V68.4M515.53 61.5V68.2M518.11 61.5V68.8M521.69 61.5V68.7M524.52 61.5V72.9M527.51 61.5V68.1M530.62 61.5V69.0M540.77 61.5V68.3M544.15 61.5V68.1M547.40 61.5V73.2" stroke="#fff" stroke-width="0.7" fill="none" opacity="0.85"/>
<path d="M485.67 61.5V77.1M488.96 61.5V76.5M491.57 61.5V76.7M508.20 61.5V77.1M520.21 61.5V76.8M531.82 61.5V75.6M535.34 61.5V77.2M537.51 61.5V76.0" stroke="#fff" stroke-width="0.55" fill="none" opacity="0.8"/>
<line x1="541.60" y1="84.50" x2="550.60" y2="84.50" stroke="#000" stroke-width="1.2"/>
<text x="546.60" y="90.60" font-size="5.8" fill="#111" text-anchor="middle" stroke="#111" stroke-width="0.14" textLength="13.50" lengthAdjust="spacingAndGlyphs">1 min</text>
<line x1="582.50" y1="24.40" x2="582.50" y2="58.00" stroke="#333" stroke-width="0.6"/>
<line x1="580.80" y1="31.40" x2="582.40" y2="31.40" stroke="#333" stroke-width="0.6"/>
<text x="578.20" y="33.70" font-size="6.4" fill="#111" text-anchor="end" stroke="#111" stroke-width="0.14" textLength="10.80" lengthAdjust="spacingAndGlyphs">240</text>
<line x1="580.80" y1="43.20" x2="582.40" y2="43.20" stroke="#333" stroke-width="0.6"/>
<text x="578.20" y="45.50" font-size="6.4" fill="#111" text-anchor="end" stroke="#111" stroke-width="0.14" textLength="10.80" lengthAdjust="spacingAndGlyphs">230</text>
<line x1="580.80" y1="55.20" x2="582.40" y2="55.20" stroke="#333" stroke-width="0.6"/>
<text x="578.20" y="57.50" font-size="6.4" fill="#111" text-anchor="end" stroke="#111" stroke-width="0.14" textLength="10.80" lengthAdjust="spacingAndGlyphs">220</text>
<text x="562.50" y="41.20" font-size="7.2" fill="#111" text-anchor="middle" stroke="#111" stroke-width="0.06" textLength="33.00" lengthAdjust="spacingAndGlyphs" transform="rotate(-90 562.50 41.20)">HR (bpm)</text>
<text x="567.80" y="73.40" font-size="6.6" fill="#111" text-anchor="middle" stroke="#111" stroke-width="0.14" textLength="18.00" lengthAdjust="spacingAndGlyphs" transform="rotate(-90 567.80 73.40)">∫IntC</text>
<text x="575.00" y="73.40" font-size="6.6" fill="#111" text-anchor="middle" stroke="#111" stroke-width="0.14" textLength="14.00" lengthAdjust="spacingAndGlyphs" transform="rotate(-90 575.00 73.40)">EMG</text>
<path d="M583.80 48.35 L584.13 48.57 L584.46 48.40 L584.79 45.61 L585.12 47.06 L585.45 46.62 L585.78 46.94 L586.11 45.60 L586.44 45.67 L586.77 46.53 L587.10 45.85 L587.43 46.58 L587.76 45.17 L588.09 45.23 L588.42 47.37 L588.75 46.59 L589.08 46.82 L589.41 47.59 L589.74 46.38 L590.07 45.22 L590.40 47.58 L590.73 47.15 L591.06 47.33 L591.39 47.22 L591.72 48.40 L592.05 46.43 L592.38 47.59 L592.71 46.36 L593.04 46.93 L593.37 47.28 L593.70 46.12 L594.03 45.22 L594.36 46.45 L594.69 47.40 L595.02 47.06 L595.35 46.53 L595.68 47.14 L596.01 45.62 L596.34 45.45 L596.67 45.92 L597.00 47.64 L597.33 45.69 L597.66 45.21 L597.99 45.10 L598.32 44.88 L598.65 45.66 L598.98 46.75 L599.31 47.70 L599.64 46.12 L599.97 46.08 L600.30 45.80 L600.63 45.82 L600.96 47.43 L601.29 46.81 L601.62 45.74 L601.95 45.11 L602.28 47.36 L602.61 47.32 L602.94 47.72 L603.27 45.73 L603.60 46.58 L603.93 47.94 L604.26 46.95 L604.59 48.05 L604.92 45.50 L605.25 48.00 L605.58 45.10 L605.91 46.03 L606.24 44.78 L606.57 47.34 L606.90 47.17 L607.23 48.12 L607.56 47.64 L607.89 48.07 L608.22 46.71 L608.55 48.10 L608.88 47.42 L609.21 45.97 L609.54 47.97 L609.87 46.12 L610.20 45.30 L610.53 44.81 L610.86 46.09 L611.19 45.29 L611.52 47.72 L611.85 48.02 L612.18 45.53 L612.51 44.89 L612.84 46.27 L613.17 45.18 L613.50 46.34 L613.83 47.37 L614.16 45.56 L614.49 45.94 L614.82 47.62 L615.15 46.22 L615.48 45.72 L615.81 47.55 L616.14 47.45 L616.47 47.72 L616.80 47.03 L617.13 46.01 L617.46 46.86 L617.79 47.41 L618.12 46.81 L618.45 45.37 L618.78 45.42 L619.11 45.81 L619.44 47.08 L619.77 46.46 L620.10 46.37 L620.43 47.30 L620.76 44.94 L621.09 46.48 L621.42 45.61 L621.75 46.29 L622.08 47.30 L622.41 45.38 L622.74 47.59 L623.07 44.82 L623.40 46.19 L623.73 46.25 L624.06 45.20 L624.39 46.21 L624.72 45.99 L625.05 45.89 L625.38 46.80 L625.71 44.44 L626.04 45.47 L626.37 46.97 L626.70 44.91 L627.03 47.18 L627.36 45.13 L627.69 46.55 L628.02 44.95 L628.35 45.73 L628.68 45.71 L629.01 44.54 L629.34 46.53 L629.67 45.97 L630.00 46.62 L630.33 46.17 L630.66 46.17 L630.99 46.07 L631.32 45.27 L631.65 47.24 L631.98 44.65 L632.31 47.09 L632.64 47.28 L632.97 46.04 L633.30 46.87 L633.63 46.59 L633.96 46.33 L634.29 45.22 L634.62 45.20 L634.95 45.29 L635.28 45.14 L635.61 47.36 L635.94 45.46 L636.27 45.43 L636.60 45.53 L636.93 46.89 L637.26 45.86 L637.59 46.01 L637.92 45.00 L638.25 44.97 L638.58 44.32 L638.91 44.68 L639.24 44.87 L639.57 46.90 L639.90 45.90 L640.23 44.45 L640.56 45.51 L640.89 44.44 L641.22 45.85 L641.55 45.56 L641.88 46.94 L642.21 45.03 L642.54 46.85 L642.87 44.97 L643.20 47.29 L643.53 46.32 L643.86 44.20 L644.19 46.59 L644.52 45.01 L644.85 45.14 L645.18 44.41 L645.51 46.69 L645.84 44.36 L646.17 46.34 L646.50 45.36 L646.83 46.22 L647.16 44.98 L647.49 44.12 L647.82 46.89 L648.15 46.27 L648.48 44.54 L648.81 47.12 L649.14 47.15 L649.47 44.66 L649.80 43.84 L650.13 45.78 L650.46 44.35 L650.79 46.23 L651.12 45.51 L651.45 46.26 L651.78 45.85 L652.11 46.49 L652.44 46.72 L652.77 45.99 L653.10 45.87 L653.43 44.95 L653.76 44.19 L654.09 43.97 L654.42 46.56 L654.75 44.58 L655.08 45.13 L655.41 44.81 L655.74 45.80 L656.07 45.60 L656.40 46.69 L656.73 45.35 L657.06 44.95 L657.39 45.90 L657.72 46.31 L658.05 46.96 L658.38 44.92 L658.71 46.67 L659.04 47.17 L659.37 47.22 L659.70 44.30 L660.03 44.86 L660.36 46.25 L660.69 46.58 L661.02 43.90 L661.35 44.84 L661.68 46.06 L662.01 46.29 L662.34 45.54 L662.67 44.35 L663.00 44.90 L663.33 43.76 L663.66 44.52 L663.99 44.97 L664.32 46.36 L664.65 45.70 L664.98 45.02 L665.31 44.38 L665.64 44.54 L665.97 45.77 L666.30 45.11 L666.63 44.11 L666.96 46.22 L667.29 45.59 L667.62 46.86 L667.95 45.50 L668.28 45.66 L668.61 45.00 L668.94 45.55 L669.27 46.66 L669.60 46.98 L669.93 45.91 L670.26 45.01 L670.59 43.65 L670.92 46.17 L671.25 44.88 L671.58 44.72 L671.91 43.58 L672.24 43.38 L672.57 44.58 L672.90 46.69 L673.23 46.09 L673.56 45.92 L673.89 45.76 L674.22 44.38 L674.55 43.88 L674.88 45.31 L675.21 43.60 L675.54 45.22 L675.87 45.12 L676.20 45.20 L676.53 43.77 L676.86 43.43 L677.19 44.78 L677.52 43.79 L677.85 45.38 L678.18 44.40 L678.51 45.36 L678.84 45.89 L679.17 45.45 L679.50 45.14 L679.83 43.96 L680.16 44.35 L680.49 46.54 L680.82 44.33 L681.15 44.15 L681.48 44.84 L681.81 45.09 L682.14 45.94 L682.47 44.33 L682.80 46.44" stroke="#000" stroke-width="0.9" fill="none" />
<rect x="583.80" y="78.40" width="99.20" height="2.20" fill="#000" />
<path d="M584.80 78.6V67.3M585.20 78.6V69.3M585.60 78.6V64.6M586.40 78.6V66.5M588.00 78.6V65.1M591.20 78.6V68.4M591.60 78.6V68.1M595.20 78.6V68.0M597.60 78.6V66.1M598.40 78.6V68.0M599.60 78.6V67.7M600.00 78.6V69.1M601.60 78.6V69.0M603.60 78.6V64.9M604.00 78.6V65.4M606.00 78.6V65.2M606.40 78.6V67.5M607.20 78.6V69.4M608.80 78.6V68.1M609.20 78.6V70.3M610.00 78.6V73.9M615.20 78.6V66.5M617.60 78.6V65.0M618.40 78.6V62.9M620.00 78.6V75.1M620.40 78.6V64.8M620.80 78.6V64.7M622.00 78.6V64.6M622.80 78.6V68.5M627.60 78.6V66.0M628.00 78.6V73.2M628.40 78.6V65.8M628.80 78.6V68.8M630.00 78.6V64.9M630.40 78.6V68.0M632.80 78.6V67.7M633.60 78.6V66.6M635.20 78.6V68.6M636.00 78.6V65.0M637.20 78.6V66.5M637.60 78.6V67.5M638.40 78.6V71.5M640.80 78.6V64.9M641.20 78.6V74.0M641.60 78.6V64.7M643.60 78.6V67.5M644.00 78.6V65.5M644.40 78.6V74.4M646.00 78.6V64.5M647.20 78.6V65.3M648.40 78.6V69.3M650.40 78.6V67.7M651.20 78.6V69.5M654.40 78.6V64.6M655.20 78.6V66.2M655.60 78.6V66.1M657.60 78.6V64.6M659.60 78.6V71.5M660.00 78.6V62.2M660.40 78.6V65.6M660.80 78.6V65.4M661.20 78.6V65.6M661.60 78.6V69.3M662.00 78.6V66.9M662.40 78.6V65.3M662.80 78.6V64.6M663.20 78.6V68.0M665.20 78.6V72.2M665.60 78.6V70.3M666.40 78.6V67.9M666.80 78.6V65.9M667.60 78.6V72.8M668.40 78.6V66.2M670.40 78.6V66.7M672.00 78.6V65.3M672.80 78.6V67.9M673.20 78.6V66.3M675.20 78.6V63.5M675.60 78.6V66.2M676.40 78.6V67.4M676.80 78.6V64.7M677.20 78.6V68.5M680.40 78.6V65.7M682.40 78.6V65.5" stroke="#000" stroke-width="0.5" fill="none"/>
<path d="M584.00 78.6V63.5M590.00 78.6V66.9M592.40 78.6V66.0M592.80 78.6V66.5M594.40 78.6V64.8M594.80 78.6V65.0M596.00 78.6V64.9M598.80 78.6V72.3M602.00 78.6V66.6M602.80 78.6V69.1M603.20 78.6V66.9M605.60 78.6V69.4M608.40 78.6V64.6M609.60 78.6V68.6M610.40 78.6V67.8M613.20 78.6V68.5M616.00 78.6V70.8M618.80 78.6V64.5M619.20 78.6V64.5M621.60 78.6V66.4M622.40 78.6V64.5M623.20 78.6V65.5M624.40 78.6V68.3M626.40 78.6V75.2M627.20 78.6V64.7M631.60 78.6V62.0M632.00 78.6V65.1M632.40 78.6V68.9M636.80 78.6V65.1M639.20 78.6V67.6M640.00 78.6V67.0M640.40 78.6V66.9M642.00 78.6V64.5M642.40 78.6V67.7M647.60 78.6V68.5M650.00 78.6V68.4M651.60 78.6V68.4M652.00 78.6V65.1M652.40 78.6V67.6M652.80 78.6V67.2M653.60 78.6V67.3M654.80 78.6V69.8M656.40 78.6V69.6M656.80 78.6V67.1M658.80 78.6V68.3M664.00 78.6V68.8M664.40 78.6V64.8M668.00 78.6V64.6M669.60 78.6V67.1M670.80 78.6V75.3M671.60 78.6V73.0M672.40 78.6V66.9M674.40 78.6V67.7M674.80 78.6V69.3M676.00 78.6V66.1M678.00 78.6V69.4M678.40 78.6V71.4M679.60 78.6V66.9M682.80 78.6V65.1" stroke="#161616" stroke-width="0.5" fill="none"/>
<path d="M584.40 78.6V64.9M586.80 78.6V69.4M587.20 78.6V65.0M588.80 78.6V63.5M589.20 78.6V66.8M589.60 78.6V64.8M590.80 78.6V71.6M593.20 78.6V69.0M593.60 78.6V65.3M596.40 78.6V64.6M596.80 78.6V68.0M597.20 78.6V73.2M598.00 78.6V65.3M599.20 78.6V65.9M600.40 78.6V68.0M600.80 78.6V74.3M602.40 78.6V67.2M605.20 78.6V64.7M606.80 78.6V69.3M607.60 78.6V67.8M608.00 78.6V66.6M611.20 78.6V68.8M611.60 78.6V66.4M612.40 78.6V66.6M612.80 78.6V62.7M613.60 78.6V68.7M615.60 78.6V66.1M617.20 78.6V65.2M619.60 78.6V66.3M625.60 78.6V65.5M629.20 78.6V64.9M631.20 78.6V64.9M634.40 78.6V65.6M634.80 78.6V69.2M636.40 78.6V63.4M639.60 78.6V66.4M643.20 78.6V65.8M644.80 78.6V64.5M646.40 78.6V64.5M646.80 78.6V65.7M648.00 78.6V68.6M648.80 78.6V68.7M649.20 78.6V68.3M649.60 78.6V65.3M650.80 78.6V65.0M654.00 78.6V66.0M656.00 78.6V66.4M658.40 78.6V75.6M659.20 78.6V65.0M671.20 78.6V69.4M674.00 78.6V66.4M677.60 78.6V64.9M679.20 78.6V70.3M680.80 78.6V64.8M681.60 78.6V65.6M682.00 78.6V67.2" stroke="#2e2e2e" stroke-width="0.5" fill="none"/>
<path d="M586.00 78.6V67.7M587.60 78.6V64.6M588.40 78.6V64.8M590.40 78.6V66.0M592.00 78.6V73.3M594.00 78.6V67.6M595.60 78.6V65.7M601.20 78.6V69.2M604.40 78.6V65.7M604.80 78.6V67.3M610.80 78.6V67.1M612.00 78.6V67.7M614.00 78.6V64.6M614.40 78.6V64.7M614.80 78.6V67.9M616.40 78.6V62.5M616.80 78.6V65.0M618.00 78.6V65.0M621.20 78.6V70.1M623.60 78.6V63.4M624.00 78.6V67.3M624.80 78.6V74.7M625.20 78.6V65.5M626.00 78.6V65.2M626.80 78.6V67.5M629.60 78.6V74.3M630.80 78.6V67.8M633.20 78.6V67.9M634.00 78.6V67.2M635.60 78.6V66.2M638.00 78.6V66.7M638.80 78.6V66.3M642.80 78.6V66.8M645.20 78.6V64.6M645.60 78.6V67.8M653.20 78.6V66.1M657.20 78.6V67.4M658.00 78.6V65.8M663.60 78.6V65.6M664.80 78.6V68.0M666.00 78.6V66.0M667.20 78.6V62.2M668.80 78.6V64.5M669.20 78.6V68.7M670.00 78.6V65.8M673.60 78.6V69.4M678.80 78.6V69.3M680.00 78.6V65.6M681.20 78.6V62.1" stroke="#565656" stroke-width="0.5" fill="none"/>
<rect x="583.80" y="69.00" width="99.20" height="9.40" fill="#000" opacity="0.35"/>
<rect x="583.80" y="73.00" width="99.20" height="5.40" fill="#000" opacity="0.3"/>
<path d="M584.80 61.5V68.3M587.78 61.5V72.7M590.26 61.5V69.9M591.64 61.5V72.4M593.20 61.5V71.8M598.21 61.5V72.7M599.77 61.5V73.5M604.09 61.5V70.2M605.44 61.5V68.9M607.70 61.5V70.5M609.85 61.5V69.0M612.53 61.5V67.8M613.74 61.5V68.2M618.71 61.5V69.2M620.54 61.5V71.6M626.30 61.5V70.8M628.59 61.5V68.0M634.24 61.5V67.8M636.80 61.5V67.1M639.78 61.5V69.7M645.51 61.5V72.6M648.60 61.5V68.8M652.32 61.5V70.3M653.58 61.5V71.0M656.18 61.5V73.2M658.52 61.5V72.6M660.07 61.5V71.4M666.97 61.5V72.3M669.15 61.5V68.7M670.96 61.5V71.7M673.64 61.5V70.3M677.14 61.5V70.2M679.65 61.5V68.8M680.90 61.5V70.8" stroke="#fff" stroke-width="0.7" fill="none" opacity="0.85"/>
<path d="M586.20 61.5V77.3M596.09 61.5V76.7M601.39 61.5V75.5M616.38 61.5V76.4M622.32 61.5V75.8M624.79 61.5V75.4M631.36 61.5V77.6M635.52 61.5V76.2M642.93 61.5V75.6M649.88 61.5V75.7M662.07 61.5V76.4M663.98 61.5V75.4M672.40 61.5V75.1" stroke="#fff" stroke-width="0.55" fill="none" opacity="0.8"/>
<line x1="673.20" y1="84.50" x2="682.20" y2="84.50" stroke="#000" stroke-width="1.2"/>
<text x="678.20" y="90.60" font-size="5.8" fill="#111" text-anchor="middle" stroke="#111" stroke-width="0.14" textLength="13.50" lengthAdjust="spacingAndGlyphs">1 min</text>
<text x="1.00" y="115.50" font-size="12" fill="#000" font-weight="bold" stroke="#000" stroke-width="0.35">c</text>
<text x="0.00" y="130.00" font-size="7.0" fill="#111" stroke="#111" stroke-width="0.06" textLength="52.40" lengthAdjust="spacingAndGlyphs">Photoexcitation</text>
<g transform="translate(0 0.00)" fill="none" stroke="#111" stroke-width="0.5" stroke-linecap="round" stroke-linejoin="round">
<path d="M6.5 156 C5.6 160 6.5 164.5 11.5 168.3 C15 170.6 19 171.4 21.6 171.2 C23.6 171 25 170.4 25.9 169.7 C26.8 170.4 28.2 171 30.2 171.2 C32.8 171.4 36.8 170.6 40.3 168.3 C45.3 164.5 46.2 160 45.3 156 C44 154.6 40 153.6 35.8 153.4 L15.8 153.4 C11.6 153.6 7.6 154.6 6.5 156Z" fill="#fff"/>
<path d="M15.1 135.9 C20 134.3 31 134.3 35.3 135.9 C38 135.6 42 137 44.5 139.5 C47.5 142.5 48.8 145.5 48.2 148 C48 150.5 47 152 45.8 152.8 C42 154.2 38 153.8 35.8 153.2 C32 154.6 29 155 25.9 154.8 C22.8 155 19.8 154.6 15.8 153.2 C13.6 153.8 9.6 154.2 6 152.8 C4.8 152 3.6 150.5 3.4 148 C2.8 145.5 4.1 142.5 7.1 139.5 C9.6 137 13 135.6 15.1 135.9Z" fill="#fff"/>
<path d="M15.1 136.2 C13.4 140 13.6 146.5 15.8 153 M35.3 136.2 C37 140 36.8 146.5 35.8 153 M20.1 147.2 L28.8 146.3 M5.4 146.6 C8 143.6 11.4 142.6 14 143.2 M46.2 146.6 C43.6 143.6 40.2 142.6 37.6 143.2 M6.4 151.4 C8.6 149.2 11.6 148.4 14.4 149 M45.2 151.4 C43 149.2 40 148.4 37.2 149" stroke-width="0.4"/>
<path d="M23.7 155 L28.1 155 Q25.9 157.6 23.7 155Z" fill="#111"/>
</g>
<polygon points="15.2,163.6 10.2,171.3 20.2,171.3" fill="#fbdab0" opacity="0.9"/>
<rect x="14.25" y="133.00" width="1.90" height="31.40" fill="#000" />
<circle cx="15.2" cy="166.8" r="2.6" fill="#f7a63e"/>
<circle cx="15.2" cy="166.8" r="1.6" fill="#12c4ee" stroke="#0b6a8a" stroke-width="0.45"/>
<polygon points="35.3,163.6 30.299999999999997,171.3 40.3,171.3" fill="#fbdab0" opacity="0.9"/>
<rect x="34.35" y="133.00" width="1.90" height="31.40" fill="#000" />
<circle cx="35.3" cy="166.8" r="2.6" fill="#f7a63e"/>
<circle cx="35.3" cy="166.8" r="1.6" fill="#12c4ee" stroke="#0b6a8a" stroke-width="0.45"/>
<text x="6.30" y="180.00" font-size="6.8" fill="#222" stroke="#222" stroke-width="0.14" textLength="38.40" lengthAdjust="spacingAndGlyphs">preBötC<tspan font-size="3.8" dy="-2.6">OT-R</tspan></text>
<text x="1.00" y="217.00" font-size="12" fill="#000" font-weight="bold" stroke="#000" stroke-width="0.35">d</text>
<text x="0.40" y="227.60" font-size="7.0" fill="#111" stroke="#111" stroke-width="0.06" textLength="51.60" lengthAdjust="spacingAndGlyphs">Photoinhibition</text>
<g transform="translate(0 98.30)" fill="none" stroke="#111" stroke-width="0.5" stroke-linecap="round" stroke-linejoin="round">
<path d="M6.5 156 C5.6 160 6.5 164.5 11.5 168.3 C15 170.6 19 171.4 21.6 171.2 C23.6 171 25 170.4 25.9 169.7 C26.8 170.4 28.2 171 30.2 171.2 C32.8 171.4 36.8 170.6 40.3 168.3 C45.3 164.5 46.2 160 45.3 156 C44 154.6 40 153.6 35.8 153.4 L15.8 153.4 C11.6 153.6 7.6 154.6 6.5 156Z" fill="#fff"/>
<path d="M15.1 135.9 C20 134.3 31 134.3 35.3 135.9 C38 135.6 42 137 44.5 139.5 C47.5 142.5 48.8 145.5 48.2 148 C48 150.5 47 152 45.8 152.8 C42 154.2 38 153.8 35.8 153.2 C32 154.6 29 155 25.9 154.8 C22.8 155 19.8 154.6 15.8 153.2 C13.6 153.8 9.6 154.2 6 152.8 C4.8 152 3.6 150.5 3.4 148 C2.8 145.5 4.1 142.5 7.1 139.5 C9.6 137 13 135.6 15.1 135.9Z" fill="#fff"/>
<path d="M15.1 136.2 C13.4 140 13.6 146.5 15.8 153 M35.3 136.2 C37 140 36.8 146.5 35.8 153 M20.1 147.2 L28.8 146.3 M5.4 146.6 C8 143.6 11.4 142.6 14 143.2 M46.2 146.6 C43.6 143.6 40.2 142.6 37.6 143.2 M6.4 151.4 C8.6 149.2 11.6 148.4 14.4 149 M45.2 151.4 C43 149.2 40 148.4 37.2 149" stroke-width="0.4"/>
<path d="M23.7 155 L28.1 155 Q25.9 157.6 23.7 155Z" fill="#111"/>
</g>
<polygon points="15.2,261.9 10.2,269.6 20.2,269.6" fill="#bcd8f6" opacity="0.9"/>
<rect x="14.25" y="231.30" width="1.90" height="31.40" fill="#000" />
<circle cx="15.2" cy="265.1" r="2.6" fill="#4f9ff0"/>
<circle cx="15.2" cy="265.1" r="1.6" fill="#12c4ee" stroke="#0b6a8a" stroke-width="0.45"/>
<polygon points="35.3,261.9 30.299999999999997,269.6 40.3,269.6" fill="#bcd8f6" opacity="0.9"/>
<rect x="34.35" y="231.30" width="1.90" height="31.40" fill="#000" />
<circle cx="35.3" cy="265.1" r="2.6" fill="#4f9ff0"/>
<circle cx="35.3" cy="265.1" r="1.6" fill="#12c4ee" stroke="#0b6a8a" stroke-width="0.45"/>
<text x="6.30" y="277.60" font-size="6.8" fill="#222" stroke="#222" stroke-width="0.14" textLength="38.40" lengthAdjust="spacingAndGlyphs">preBötC<tspan font-size="3.8" dy="-2.6">OT-R</tspan></text>
<rect x="151.30" y="122.00" width="52.90" height="65.60" fill="#ff9408" />
<text x="75.00" y="119.90" font-size="6.4" fill="#111" stroke="#111" stroke-width="0.14" textLength="12.50" lengthAdjust="spacingAndGlyphs">Cre+</text>
<text x="145.30" y="119.90" font-size="5.6" fill="#111" stroke="#111" stroke-width="0.14" textLength="64.60" lengthAdjust="spacingAndGlyphs">Photoexcitation (50 Hz)</text>
<line x1="90.50" y1="122.00" x2="90.50" y2="158.00" stroke="#333" stroke-width="0.6"/>
<line x1="88.00" y1="126.60" x2="90.50" y2="126.60" stroke="#333" stroke-width="0.6"/>
<text x="85.30" y="128.70" font-size="6.0" fill="#111" text-anchor="end" stroke="#111" stroke-width="0.14" textLength="10.50" lengthAdjust="spacingAndGlyphs">230</text>
<line x1="88.00" y1="142.30" x2="90.50" y2="142.30" stroke="#333" stroke-width="0.6"/>
<text x="85.30" y="144.40" font-size="6.0" fill="#111" text-anchor="end" stroke="#111" stroke-width="0.14" textLength="10.50" lengthAdjust="spacingAndGlyphs">220</text>
<line x1="88.00" y1="158.00" x2="90.50" y2="158.00" stroke="#333" stroke-width="0.6"/>
<text x="85.30" y="160.10" font-size="6.0" fill="#111" text-anchor="end" stroke="#111" stroke-width="0.14" textLength="10.50" lengthAdjust="spacingAndGlyphs">210</text>
<line x1="89.30" y1="134.40" x2="90.50" y2="134.40" stroke="#333" stroke-width="0.5"/>
<line x1="89.30" y1="150.10" x2="90.50" y2="150.10" stroke="#333" stroke-width="0.5"/>
<text x="68.30" y="140.20" font-size="7.2" fill="#111" text-anchor="middle" stroke="#111" stroke-width="0.06" textLength="32.00" lengthAdjust="spacingAndGlyphs" transform="rotate(-90 68.30 140.20)">HR (bpm)</text>
<text x="72.00" y="172.40" font-size="6.4" fill="#111" text-anchor="middle" stroke="#111" stroke-width="0.14" textLength="12.50" lengthAdjust="spacingAndGlyphs" transform="rotate(-90 72.00 172.40)">IntC</text>
<text x="80.40" y="172.40" font-size="6.4" fill="#111" text-anchor="middle" stroke="#111" stroke-width="0.14" textLength="14.00" lengthAdjust="spacingAndGlyphs" transform="rotate(-90 80.40 172.40)">EMG</text>
<text x="87.20" y="172.40" font-size="5.6" fill="#111" text-anchor="middle" stroke="#111" stroke-width="0.14" textLength="14.30" lengthAdjust="spacingAndGlyphs" transform="rotate(-90 87.20 172.40)">20 µV</text>
<line x1="90.10" y1="169.20" x2="90.10" y2="174.80" stroke="#333" stroke-width="0.6"/>
<path d="M91.60 153.09 L92.00 152.17 L92.40 151.66 L92.80 151.24 L93.20 150.97 L93.60 151.19 L94.00 151.07 L94.40 151.07 L94.80 151.51 L95.20 152.27 L95.60 153.28 L96.00 154.10 L96.40 154.17 L96.80 153.42 L97.20 152.21 L97.60 151.24 L98.00 150.80 L98.40 150.66 L98.80 150.81 L99.20 151.13 L99.60 151.25 L100.00 151.66 L100.40 152.27 L100.80 153.56 L101.20 155.16 L101.60 155.94 L102.00 156.00 L102.40 154.90 L102.80 153.62 L103.20 152.46 L103.60 151.48 L104.00 151.35 L104.40 151.13 L104.80 151.28 L105.20 151.40 L105.60 151.38 L106.00 151.93 L106.40 152.59 L106.80 153.21 L107.20 153.63 L107.60 153.75 L108.00 152.69 L108.40 151.71 L108.80 150.87 L109.20 150.57 L109.60 150.44 L110.00 150.32 L110.40 150.40 L110.80 150.55 L111.20 150.41 L111.60 150.55 L112.00 150.93 L112.40 151.42 L112.80 151.79 L113.20 152.31 L113.60 152.53 L114.00 152.57 L114.40 152.06 L114.80 151.50 L115.20 150.84 L115.60 150.40 L116.00 150.56 L116.40 150.79 L116.80 150.77 L117.20 150.83 L117.60 151.14 L118.00 151.41 L118.40 151.91 L118.80 152.63 L119.20 153.49 L119.60 154.38 L120.00 154.32 L120.40 154.27 L120.80 153.53 L121.20 152.86 L121.60 152.42 L122.00 151.75 L122.40 151.56 L122.80 151.63 L123.20 151.64 L123.60 151.58 L124.00 152.05 L124.40 152.80 L124.80 154.11 L125.20 155.20 L125.60 155.26 L126.00 154.38 L126.40 152.59 L126.80 150.81 L127.20 149.93 L127.60 150.09 L128.00 150.31 L128.40 150.55 L128.80 150.63 L129.20 151.07 L129.60 151.85 L130.00 153.14 L130.40 153.51 L130.80 153.46 L131.20 152.53 L131.60 151.60 L132.00 150.82 L132.40 150.50 L132.80 150.49 L133.20 150.47 L133.60 150.41 L134.00 150.62 L134.40 150.70 L134.80 151.11 L135.20 151.62 L135.60 152.94 L136.00 154.14 L136.40 154.59 L136.80 154.47 L137.20 153.78 L137.60 152.25 L138.00 150.89 L138.40 150.18 L138.80 149.72 L139.20 149.73 L139.60 149.92 L140.00 150.09 L140.40 150.32 L140.80 150.49 L141.20 151.29 L141.60 152.12 L142.00 153.46 L142.40 154.67 L142.80 155.09 L143.20 154.78 L143.60 153.90 L144.00 152.30 L144.40 151.02" stroke="#000" stroke-width="0.9" fill="none" />
<path d="M151.60 125.44 L152.00 125.43 L152.40 125.34 L152.80 125.56 L153.20 125.88 L153.60 126.27 L154.00 126.21 L154.40 126.17 L154.80 126.04 L155.20 125.72 L155.60 125.61 L156.00 125.58 L156.40 125.62 L156.80 125.62 L157.20 125.66 L157.60 125.98 L158.00 126.13 L158.40 126.46 L158.80 126.69 L159.20 126.75 L159.60 126.60 L160.00 126.33 L160.40 126.12 L160.80 125.97 L161.20 125.96 L161.60 125.97 L162.00 126.19 L162.40 126.09 L162.80 126.44 L163.20 126.84 L163.60 126.92 L164.00 126.93 L164.40 126.70 L164.80 126.50 L165.20 126.20 L165.60 126.19 L166.00 126.04 L166.40 126.28 L166.80 126.25 L167.20 126.31 L167.60 126.54 L168.00 126.72 L168.40 126.95 L168.80 127.00 L169.20 127.01 L169.60 126.75 L170.00 126.63 L170.40 126.60 L170.80 126.48 L171.20 126.42 L171.60 126.57 L172.00 126.66 L172.40 126.70 L172.80 126.60 L173.20 126.80 L173.60 126.91 L174.00 127.01 L174.40 127.14 L174.80 126.89 L175.20 126.73 L175.60 126.66 L176.00 126.70 L176.40 126.81 L176.80 126.78 L177.20 126.80 L177.60 126.95 L178.00 127.21 L178.40 127.66 L178.80 127.64 L179.20 127.72 L179.60 127.32 L180.00 127.23 L180.40 126.97 L180.80 127.09 L181.20 127.04 L181.60 126.97 L182.00 127.03 L182.40 127.40 L182.80 127.69 L183.20 128.04 L183.60 128.16 L184.00 128.08 L184.40 127.62 L184.80 127.10 L185.20 127.07 L185.60 127.00 L186.00 127.22 L186.40 127.23 L186.80 127.35 L187.20 127.30 L187.60 127.66 L188.00 127.94 L188.40 128.29 L188.80 128.45 L189.20 128.32 L189.60 128.13 L190.00 127.94 L190.40 127.64 L190.80 127.61 L191.20 127.70 L191.60 127.70 L192.00 127.73 L192.40 127.92 L192.80 128.26 L193.20 128.54 L193.60 128.85 L194.00 129.00 L194.40 128.52 L194.80 128.22 L195.20 127.80 L195.60 127.79 L196.00 127.96 L196.40 128.07 L196.80 127.96 L197.20 128.18 L197.60 128.39 L198.00 128.86 L198.40 129.15 L198.80 129.52 L199.20 129.30 L199.60 129.01 L200.00 128.81 L200.40 128.56 L200.80 128.36 L201.20 128.46 L201.60 128.55 L202.00 128.50 L202.40 128.69 L202.80 129.21 L203.20 129.35 L203.60 129.52" stroke="#000" stroke-width="0.9" fill="none" />
<path d="M211.00 149.91 L211.40 148.41 L211.80 147.61 L212.20 147.48 L212.60 147.39 L213.00 147.55 L213.40 147.58 L213.80 148.18 L214.20 149.22 L214.60 150.24 L215.00 150.87 L215.40 150.98 L215.80 150.05 L216.20 148.62 L216.60 147.92 L217.00 147.35 L217.40 147.24 L217.80 147.25 L218.20 147.20 L218.60 147.46 L219.00 148.10 L219.40 149.36 L219.80 151.00 L220.20 151.83 L220.60 151.50 L221.00 149.94 L221.40 147.87 L221.80 146.74 L222.20 146.34 L222.60 146.58 L223.00 146.88 L223.40 147.22 L223.80 147.35 L224.20 148.60 L224.60 150.23 L225.00 151.96 L225.40 152.66 L225.80 151.83 L226.20 150.08 L226.60 148.56 L227.00 147.51 L227.40 147.33 L227.80 147.48 L228.20 147.57 L228.60 147.75 L229.00 147.95 L229.40 147.91 L229.80 148.43 L230.20 149.27 L230.60 150.13 L231.00 150.74 L231.40 150.77 L231.80 150.83 L232.20 150.05 L232.60 149.43 L233.00 148.72 L233.40 148.40 L233.80 147.97 L234.20 147.90 L234.60 147.95 L235.00 147.63 L235.40 147.76 L235.80 147.74 L236.20 147.86 L236.60 148.38 L237.00 149.68 L237.40 150.71 L237.80 151.54 L238.20 151.56 L238.60 151.22 L239.00 149.76 L239.40 148.23 L239.80 147.01 L240.20 146.34 L240.60 146.47 L241.00 146.53 L241.40 146.82 L241.80 147.01 L242.20 147.33 L242.60 147.69 L243.00 148.82 L243.40 150.38 L243.80 151.44 L244.20 151.93 L244.60 151.83 L245.00 150.55 L245.40 149.26 L245.80 148.02 L246.20 147.60 L246.60 147.38 L247.00 147.47 L247.40 147.76 L247.80 147.89 L248.20 148.22 L248.60 148.53 L249.00 148.96 L249.40 149.96 L249.80 150.63 L250.20 151.62 L250.60 151.87 L251.00 151.72 L251.40 151.28 L251.80 150.30 L252.20 149.57 L252.60 148.96 L253.00 148.68 L253.40 148.78 L253.80 148.59 L254.20 148.49 L254.60 148.71 L255.00 148.95 L255.40 149.54 L255.80 149.86 L256.20 150.36 L256.60 150.43 L257.00 150.04 L257.40 148.98 L257.80 148.22 L258.20 147.58 L258.60 147.61 L259.00 147.82 L259.40 147.80 L259.80 148.01 L260.20 148.33 L260.60 148.78 L261.00 149.43 L261.40 150.17 L261.80 150.60 L262.20 150.34 L262.60 149.68 L263.00 149.01 L263.40 148.40" stroke="#000" stroke-width="0.9" fill="none" />
<rect x="92.00" y="171.05" width="52.80" height="1.90" fill="#000" />
<path d="M93.76 159.77V182.72M99.72 159.94V183.23M105.49 161.00V180.67M111.12 161.89V183.66M117.14 160.93V181.98M122.87 161.74V180.54M128.61 159.81V183.75M134.24 161.32V183.45M139.82 161.84V182.79" stroke="#888" stroke-width="0.5" fill="none" opacity="0.6"/>
<path d="M93.76 161.27V181.22M99.72 161.44V181.73M105.49 162.50V179.17M111.12 163.39V182.16M117.14 162.43V180.48M122.87 163.24V179.04M128.61 161.31V182.25M134.24 162.82V181.95M139.82 163.34V181.29" stroke="#000" stroke-width="0.58" fill="none"/>
<path d="M92.00 169.98V173.22M92.70 170.01V173.80M93.40 170.44V173.46M94.10 170.02V173.84M94.80 170.61V173.49M95.50 170.72V173.77M96.20 170.42V173.49M96.90 170.17V173.43M97.60 170.67V173.92M98.30 170.00V173.93M99.00 170.30V173.85M99.70 170.02V173.23M100.40 170.53V173.52M101.10 170.14V173.50M101.80 170.11V173.43M102.50 169.95V173.59M103.20 170.27V173.77M103.90 170.06V173.71M104.60 170.61V173.60M105.30 170.29V173.27M106.00 170.05V173.48M106.70 169.97V173.53M107.40 169.94V173.85M108.10 170.45V173.83M108.80 170.80V173.28M109.50 170.28V173.48M110.20 170.43V173.83M110.90 170.37V173.75M111.60 170.13V173.95M112.30 170.70V173.95M113.00 170.13V173.40M113.70 170.72V173.37M114.40 170.72V173.71M115.10 169.90V173.64M115.80 170.55V173.35M116.50 169.92V173.69M117.20 170.59V174.02M117.90 170.42V174.09M118.60 170.34V173.43M119.30 170.63V173.21M120.00 170.07V173.49M120.70 170.14V173.96M121.40 170.44V173.66M122.10 170.15V173.78M122.80 170.47V173.38M123.50 170.54V173.22M124.20 170.23V173.78M124.90 170.10V173.60M125.60 170.14V173.70M126.30 170.03V173.70M127.00 170.19V173.74M127.70 170.62V173.27M128.40 170.06V173.82M129.10 170.34V174.02M129.80 170.64V173.86M130.50 170.35V173.29M131.20 170.68V173.22M131.90 170.63V173.90M132.60 170.37V173.24M133.30 170.36V174.08M134.00 170.09V173.47M134.70 170.36V173.53M135.40 170.59V173.79M136.10 170.78V173.63M136.80 169.97V173.88M137.50 170.21V173.95M138.20 169.94V173.44M138.90 169.95V174.00M139.60 170.36V173.32M140.30 170.32V173.65M141.00 169.90V173.42M141.70 170.15V173.88M142.40 170.26V173.46M143.10 169.98V173.43M143.80 170.03V174.00M144.50 170.32V173.25" stroke="#000" stroke-width="0.3" fill="none" opacity="0.8"/>
<rect x="151.60" y="171.05" width="52.40" height="1.90" fill="#000" />
<path d="M153.17 162.55V180.60M158.15 162.25V182.74M163.64 163.33V183.45M168.56 161.00V180.37M173.68 160.25V184.00M178.54 162.14V184.16M183.51 161.90V181.42M188.58 161.79V180.91M193.53 160.09V183.53M198.85 163.02V180.88" stroke="#888" stroke-width="0.5" fill="none" opacity="0.6"/>
<path d="M153.17 164.05V179.10M158.15 163.75V181.24M163.64 164.83V181.95M168.56 162.50V178.87M173.68 161.75V182.50M178.54 163.64V182.66M183.51 163.40V179.92M188.58 163.29V179.41M193.53 161.59V182.03M198.85 164.52V179.38" stroke="#000" stroke-width="0.58" fill="none"/>
<path d="M151.60 170.25V173.21M152.30 169.93V173.54M153.00 170.56V173.77M153.70 169.98V173.51M154.40 170.34V173.24M155.10 170.38V174.01M155.80 169.95V173.51M156.50 170.03V174.10M157.20 170.53V173.97M157.90 170.55V174.07M158.60 169.99V174.07M159.30 170.43V173.82M160.00 170.17V173.72M160.70 170.75V173.80M161.40 170.08V173.78M162.10 169.99V174.07M162.80 170.22V173.52M163.50 170.34V173.36M164.20 170.60V174.08M164.90 170.40V173.62M165.60 170.00V173.92M166.30 170.76V173.57M167.00 170.32V173.41M167.70 170.11V173.76M168.40 170.04V173.32M169.10 170.63V173.47M169.80 170.33V173.43M170.50 170.34V173.51M171.20 170.74V173.94M171.90 170.31V174.01M172.60 170.33V173.97M173.30 170.25V173.65M174.00 169.95V173.52M174.70 169.92V173.73M175.40 169.95V173.28M176.10 170.31V173.48M176.80 170.06V174.02M177.50 170.03V173.55M178.20 170.73V174.08M178.90 170.61V173.94M179.60 170.27V173.86M180.30 170.16V173.41M181.00 170.45V173.55M181.70 170.17V173.81M182.40 169.91V173.68M183.10 170.49V173.31M183.80 170.40V173.74M184.50 170.18V173.23M185.20 170.62V173.77M185.90 170.09V174.05M186.60 170.68V173.86M187.30 170.40V173.73M188.00 170.18V173.57M188.70 170.25V174.07M189.40 170.78V173.70M190.10 169.90V173.99M190.80 170.57V173.90M191.50 169.98V173.57M192.20 170.31V173.47M192.90 169.90V173.37M193.60 170.17V174.09M194.30 169.92V173.97M195.00 170.41V174.04M195.70 170.03V173.58M196.40 170.46V173.50M197.10 170.51V173.71M197.80 170.43V174.06M198.50 170.80V173.74M199.20 170.41V174.10M199.90 169.90V173.84M200.60 170.14V173.54M201.30 170.17V173.42M202.00 170.07V173.72M202.70 170.59V173.39M203.40 170.45V173.51" stroke="#000" stroke-width="0.3" fill="none" opacity="0.8"/>
<rect x="210.80" y="171.05" width="52.80" height="1.90" fill="#000" />
<path d="M212.56 159.77V183.11M217.99 161.14V183.06M224.32 158.72V183.81M230.62 161.84V181.92M236.16 161.42V182.27M242.06 158.88V182.60M247.76 160.55V185.34M253.63 158.50V182.39M259.55 159.92V184.29" stroke="#888" stroke-width="0.5" fill="none" opacity="0.6"/>
<path d="M212.56 161.27V181.61M217.99 162.64V181.56M224.32 160.22V182.31M230.62 163.34V180.42M236.16 162.92V180.77M242.06 160.38V181.10M247.76 162.05V183.84M253.63 160.00V180.89M259.55 161.42V182.79" stroke="#000" stroke-width="0.58" fill="none"/>
<path d="M210.80 170.69V173.39M211.50 170.70V173.90M212.20 170.36V173.64M212.90 170.77V173.92M213.60 169.93V173.21M214.30 169.91V173.64M215.00 170.69V173.23M215.70 170.17V173.92M216.40 170.43V173.98M217.10 170.80V173.98M217.80 170.66V173.37M218.50 170.50V173.50M219.20 169.99V173.65M219.90 170.41V173.93M220.60 170.41V173.48M221.30 170.49V173.72M222.00 169.98V174.03M222.70 170.78V173.53M223.40 170.17V173.65M224.10 170.14V174.04M224.80 170.76V173.83M225.50 170.58V173.79M226.20 170.63V173.33M226.90 170.04V173.79M227.60 170.22V173.59M228.30 170.57V173.26M229.00 169.95V173.91M229.70 170.12V173.27M230.40 170.79V173.62M231.10 170.71V173.75M231.80 170.52V173.90M232.50 170.65V173.65M233.20 170.43V173.41M233.90 170.50V173.37M234.60 170.53V173.60M235.30 170.45V173.79M236.00 170.01V173.65M236.70 170.62V173.66M237.40 170.66V173.96M238.10 170.79V173.45M238.80 169.97V173.72M239.50 170.49V173.23M240.20 170.64V173.95M240.90 170.73V173.83M241.60 170.65V173.88M242.30 170.70V173.32M243.00 170.62V174.06M243.70 170.78V173.63M244.40 169.98V173.81M245.10 170.79V173.80M245.80 170.52V173.40M246.50 170.68V173.30M247.20 170.29V173.88M247.90 169.99V173.77M248.60 170.41V174.02M249.30 170.65V174.03M250.00 169.92V173.69M250.70 170.13V173.76M251.40 170.17V173.81M252.10 170.18V173.81M252.80 170.36V173.37M253.50 170.50V173.49M254.20 170.18V173.32M254.90 170.18V173.62M255.60 169.97V173.58M256.30 170.13V173.33M257.00 170.67V173.97M257.70 170.06V173.42M258.40 170.42V173.89M259.10 170.73V173.81M259.80 170.17V174.06M260.50 169.90V173.90M261.20 170.69V173.94M261.90 170.66V173.45M262.60 170.07V173.64M263.30 170.42V174.00" stroke="#000" stroke-width="0.3" fill="none" opacity="0.8"/>
<line x1="146.40" y1="151.00" x2="146.40" y2="153.40" stroke="#999" stroke-width="0.5"/>
<line x1="210.40" y1="148.00" x2="210.40" y2="150.40" stroke="#999" stroke-width="0.5"/>
<text x="122.60" y="127.80" font-size="5.8" fill="#b4b4b4" textLength="24.40" lengthAdjust="spacingAndGlyphs">RespHRV</text>
<line x1="147.40" y1="125.80" x2="151.00" y2="125.80" stroke="#b4b4b4" stroke-width="0.5"/>
<line x1="151.60" y1="127.40" x2="204.00" y2="127.40" stroke="#c9a27a" stroke-width="0.5" stroke-dasharray="2 1.4"/>
<line x1="204.60" y1="127.40" x2="212.00" y2="127.40" stroke="#aaa" stroke-width="0.8" stroke-dasharray="2.8 1.8"/>
<text x="214.80" y="129.40" font-size="5.8" fill="#b4b4b4" textLength="13.20" lengthAdjust="spacingAndGlyphs">mHR</text>
<text x="93.20" y="187.00" font-size="5.2" fill="#bdbdbd" textLength="49.00" lengthAdjust="spacingAndGlyphs">Insp freq: 26 min<tspan font-size="3.4" dy="-2">−1</tspan></text>
<text x="177.60" y="187.00" font-size="5.2" fill="#fff" text-anchor="middle" textLength="21.60" lengthAdjust="spacingAndGlyphs">31 min<tspan font-size="3.4" dy="-2">−1</tspan></text>
<text x="235.60" y="187.00" font-size="5.2" fill="#bdbdbd" text-anchor="middle" textLength="21.60" lengthAdjust="spacingAndGlyphs">25 min<tspan font-size="3.4" dy="-2">−1</tspan></text>
<line x1="258.40" y1="186.20" x2="263.70" y2="186.20" stroke="#000" stroke-width="1.3"/>
<text x="261.20" y="192.70" font-size="5.8" fill="#111" text-anchor="middle" stroke="#111" stroke-width="0.14" textLength="7.60" lengthAdjust="spacingAndGlyphs">2 s</text>
<rect x="151.30" y="219.80" width="52.90" height="66.00" fill="#12d0f0" />
<text x="75.00" y="215.40" font-size="6.4" fill="#111" stroke="#111" stroke-width="0.14" textLength="12.50" lengthAdjust="spacingAndGlyphs">Cre+</text>
<text x="145.30" y="217.80" font-size="5.6" fill="#111" stroke="#111" stroke-width="0.14" textLength="64.60" lengthAdjust="spacingAndGlyphs">Photoinhibition (50 Hz)</text>
<line x1="90.50" y1="220.30" x2="90.50" y2="255.40" stroke="#333" stroke-width="0.6"/>
<line x1="88.00" y1="221.00" x2="90.50" y2="221.00" stroke="#333" stroke-width="0.6"/>
<text x="85.30" y="223.10" font-size="6.0" fill="#111" text-anchor="end" stroke="#111" stroke-width="0.14" textLength="10.50" lengthAdjust="spacingAndGlyphs">220</text>
<line x1="88.00" y1="237.80" x2="90.50" y2="237.80" stroke="#333" stroke-width="0.6"/>
<text x="85.30" y="239.90" font-size="6.0" fill="#111" text-anchor="end" stroke="#111" stroke-width="0.14" textLength="10.50" lengthAdjust="spacingAndGlyphs">210</text>
<line x1="88.00" y1="254.60" x2="90.50" y2="254.60" stroke="#333" stroke-width="0.6"/>
<text x="85.30" y="256.70" font-size="6.0" fill="#111" text-anchor="end" stroke="#111" stroke-width="0.14" textLength="10.50" lengthAdjust="spacingAndGlyphs">200</text>
<line x1="89.30" y1="229.40" x2="90.50" y2="229.40" stroke="#333" stroke-width="0.5"/>
<line x1="89.30" y1="246.20" x2="90.50" y2="246.20" stroke="#333" stroke-width="0.5"/>
<text x="68.30" y="238.30" font-size="7.2" fill="#111" text-anchor="middle" stroke="#111" stroke-width="0.06" textLength="32.00" lengthAdjust="spacingAndGlyphs" transform="rotate(-90 68.30 238.30)">HR (bpm)</text>
<text x="72.00" y="270.20" font-size="6.4" fill="#111" text-anchor="middle" stroke="#111" stroke-width="0.14" textLength="12.50" lengthAdjust="spacingAndGlyphs" transform="rotate(-90 72.00 270.20)">IntC</text>
<text x="80.40" y="270.20" font-size="6.4" fill="#111" text-anchor="middle" stroke="#111" stroke-width="0.14" textLength="14.00" lengthAdjust="spacingAndGlyphs" transform="rotate(-90 80.40 270.20)">EMG</text>
<text x="87.20" y="270.20" font-size="5.6" fill="#111" text-anchor="middle" stroke="#111" stroke-width="0.14" textLength="14.30" lengthAdjust="spacingAndGlyphs" transform="rotate(-90 87.20 270.20)">20 µV</text>
<line x1="90.10" y1="267.00" x2="90.10" y2="272.60" stroke="#333" stroke-width="0.6"/>
<path d="M91.60 230.76 L92.00 230.47 L92.40 230.42 L92.80 230.36 L93.20 230.22 L93.60 230.49 L94.00 230.48 L94.40 230.29 L94.80 230.27 L95.20 230.57 L95.60 230.70 L96.00 231.08 L96.40 231.31 L96.80 231.49 L97.20 231.42 L97.60 231.34 L98.00 231.18 L98.40 230.90 L98.80 230.42 L99.20 230.22 L99.60 229.93 L100.00 229.93 L100.40 229.81 L100.80 229.69 L101.20 229.61 L101.60 229.56 L102.00 229.57 L102.40 229.99 L102.80 230.31 L103.20 230.77 L103.60 231.14 L104.00 231.87 L104.40 232.00 L104.80 232.22 L105.20 231.71 L105.60 231.03 L106.00 230.16 L106.40 229.39 L106.80 229.07 L107.20 229.03 L107.60 228.88 L108.00 229.07 L108.40 229.25 L108.80 229.36 L109.20 229.60 L109.60 230.22 L110.00 231.15 L110.40 231.56 L110.80 231.83 L111.20 231.78 L111.60 231.01 L112.00 230.45 L112.40 229.60 L112.80 229.49 L113.20 229.20 L113.60 229.43 L114.00 229.49 L114.40 229.58 L114.80 229.48 L115.20 229.57 L115.60 229.77 L116.00 230.26 L116.40 231.03 L116.80 231.49 L117.20 232.11 L117.60 232.50 L118.00 232.27 L118.40 231.90 L118.80 231.22 L119.20 230.72 L119.60 229.98 L120.00 229.96 L120.40 229.71 L120.80 229.77 L121.20 229.77 L121.60 229.77 L122.00 229.95 L122.40 230.00 L122.80 230.21 L123.20 230.35 L123.60 231.09 L124.00 231.74 L124.40 231.98 L124.80 231.97 L125.20 231.72 L125.60 230.99 L126.00 230.51 L126.40 229.91 L126.80 229.26 L127.20 229.32 L127.60 229.45 L128.00 229.50 L128.40 229.71 L128.80 229.92 L129.20 230.18 L129.60 230.46 L130.00 231.04 L130.40 231.85 L130.80 232.05 L131.20 231.99 L131.60 231.54 L132.00 230.75 L132.40 230.36 L132.80 229.98 L133.20 230.05 L133.60 230.02 L134.00 229.90 L134.40 230.02 L134.80 230.07 L135.20 230.02 L135.60 230.23 L136.00 230.75 L136.40 231.18 L136.80 231.93 L137.20 232.54 L137.60 232.62 L138.00 232.10 L138.40 231.80 L138.80 231.03 L139.20 230.33 L139.60 229.54 L140.00 229.60 L140.40 229.43 L140.80 229.70 L141.20 229.55 L141.60 229.62 L142.00 229.80 L142.40 230.55 L142.80 231.01 L143.20 231.82 L143.60 231.91 L144.00 231.49 L144.40 230.97 L144.80 230.10" stroke="#000" stroke-width="0.9" fill="none" />
<path d="M151.60 246.29 L152.00 246.84 L152.40 247.46 L152.80 247.09 L153.20 246.75 L153.60 245.87 L154.00 244.98 L154.40 243.42 L154.80 242.30 L155.20 241.48 L155.60 241.42 L156.00 241.02 L156.40 241.38 L156.80 241.24 L157.20 241.66 L157.60 241.45 L158.00 241.89 L158.40 242.03 L158.80 242.19 L159.20 242.46 L159.60 243.11 L160.00 243.83 L160.40 244.65 L160.80 245.06 L161.20 245.95 L161.60 246.25 L162.00 246.05 L162.40 245.65 L162.80 245.43 L163.20 244.47 L163.60 243.70 L164.00 243.16 L164.40 242.40 L164.80 241.89 L165.20 241.94 L165.60 241.87 L166.00 241.84 L166.40 242.17 L166.80 242.37 L167.20 242.11 L167.60 242.48 L168.00 242.63 L168.40 242.81 L168.80 243.08 L169.20 243.84 L169.60 244.18 L170.00 244.60 L170.40 245.14 L170.80 244.86 L171.20 244.54 L171.60 244.50 L172.00 244.07 L172.40 243.24 L172.80 242.89 L173.20 242.65 L173.60 242.54 L174.00 242.06 L174.40 242.36 L174.80 242.17 L175.20 242.54 L175.60 242.29 L176.00 242.56 L176.40 242.36 L176.80 242.63 L177.20 242.68 L177.60 243.35 L178.00 244.19 L178.40 245.15 L178.80 245.95 L179.20 246.80 L179.60 247.01 L180.00 247.20 L180.40 246.88 L180.80 245.93 L181.20 244.68 L181.60 243.69 L182.00 242.50 L182.40 241.56 L182.80 241.06 L183.20 240.81 L183.60 241.32 L184.00 241.41 L184.40 241.39 L184.80 241.38 L185.20 241.67 L185.60 242.32 L186.00 243.28 L186.40 244.42 L186.80 245.29 L187.20 246.69 L187.60 246.82 L188.00 246.35 L188.40 245.26 L188.80 243.69 L189.20 242.02 L189.60 241.05 L190.00 240.36 L190.40 239.80 L190.80 240.23 L191.20 240.38 L191.60 240.54 L192.00 240.50 L192.40 240.53 L192.80 240.73 L193.20 241.00 L193.60 241.87 L194.00 242.66 L194.40 243.62 L194.80 244.37 L195.20 245.08 L195.60 245.51 L196.00 245.19 L196.40 244.57 L196.80 244.10 L197.20 242.76 L197.60 241.85 L198.00 241.29 L198.40 240.69 L198.80 240.82 L199.20 240.75 L199.60 241.27 L200.00 241.05 L200.40 241.53 L200.80 241.42 L201.20 241.99 L201.60 242.52 L202.00 243.32 L202.40 243.75 L202.80 244.89 L203.20 244.92 L203.60 245.08" stroke="#000" stroke-width="0.9" fill="none" />
<path d="M211.00 233.84 L211.40 233.72 L211.80 233.31 L212.20 232.45 L212.60 231.69 L213.00 231.11 L213.40 230.74 L213.80 230.59 L214.20 230.66 L214.60 230.45 L215.00 230.49 L215.40 230.41 L215.80 230.58 L216.20 230.85 L216.60 231.30 L217.00 231.84 L217.40 232.46 L217.80 232.46 L218.20 232.40 L218.60 231.79 L219.00 231.22 L219.40 230.55 L219.80 230.04 L220.20 229.87 L220.60 229.64 L221.00 229.63 L221.40 229.58 L221.80 229.56 L222.20 229.71 L222.60 229.84 L223.00 230.12 L223.40 231.05 L223.80 231.54 L224.20 232.47 L224.60 232.87 L225.00 232.89 L225.40 232.46 L225.80 231.56 L226.20 230.35 L226.60 229.73 L227.00 229.47 L227.40 229.21 L227.80 229.36 L228.20 229.54 L228.60 229.81 L229.00 229.73 L229.40 230.12 L229.80 230.25 L230.20 231.12 L230.60 232.10 L231.00 233.05 L231.40 234.24 L231.80 235.16 L232.20 235.20 L232.60 234.65 L233.00 233.85 L233.40 232.65 L233.80 231.45 L234.20 230.48 L234.60 230.13 L235.00 229.90 L235.40 229.92 L235.80 230.07 L236.20 230.28 L236.60 230.16 L237.00 230.42 L237.40 230.95 L237.80 231.48 L238.20 232.55 L238.60 233.64 L239.00 234.78 L239.40 235.26 L239.80 235.02 L240.20 234.22 L240.60 232.85 L241.00 231.70 L241.40 230.66 L241.80 229.88 L242.20 229.52 L242.60 229.53 L243.00 229.57 L243.40 229.58 L243.80 229.78 L244.20 229.65 L244.60 230.04 L245.00 230.57 L245.40 231.55 L245.80 232.49 L246.20 233.26 L246.60 233.58 L247.00 233.76 L247.40 233.12 L247.80 232.04 L248.20 230.97 L248.60 229.78 L249.00 229.17 L249.40 229.01 L249.80 228.91 L250.20 229.27 L250.60 229.28 L251.00 229.60 L251.40 229.71 L251.80 229.94 L252.20 230.12 L252.60 230.84 L253.00 231.57 L253.40 232.20 L253.80 232.58 L254.20 232.54 L254.60 232.62 L255.00 232.02 L255.40 231.78 L255.80 230.94 L256.20 230.54 L256.60 230.32 L257.00 230.00 L257.40 230.24 L257.80 230.24 L258.20 230.02 L258.60 230.22 L259.00 230.06 L259.40 230.40 L259.80 230.62 L260.20 231.69 L260.60 232.54 L261.00 233.49 L261.40 234.29 L261.80 234.30 L262.20 233.81 L262.60 232.90 L263.00 231.59 L263.40 230.44" stroke="#000" stroke-width="0.9" fill="none" />
<rect x="92.00" y="268.85" width="53.20" height="1.90" fill="#000" />
<path d="M93.77 259.03V279.14M99.46 260.87V281.46M105.56 259.98V280.83M111.65 258.60V279.61M117.91 257.55V280.83M123.52 259.31V280.38M129.86 259.09V279.73M135.37 260.71V278.87M141.44 260.16V280.82" stroke="#888" stroke-width="0.5" fill="none" opacity="0.6"/>
<path d="M93.77 260.53V277.64M99.46 262.37V279.96M105.56 261.48V279.33M111.65 260.10V278.11M117.91 259.05V279.33M123.52 260.81V278.88M129.86 260.59V278.23M135.37 262.21V277.37M141.44 261.66V279.32" stroke="#000" stroke-width="0.58" fill="none"/>
<path d="M92.00 268.34V271.47M92.70 267.85V271.03M93.40 268.04V271.68M94.10 267.73V271.30M94.80 268.03V271.73M95.50 268.33V271.70M96.20 267.93V271.86M96.90 268.23V271.10M97.60 268.14V271.61M98.30 267.78V271.68M99.00 268.11V271.77M99.70 267.83V271.55M100.40 268.36V271.01M101.10 268.07V271.01M101.80 268.28V271.89M102.50 268.37V271.62M103.20 267.94V271.29M103.90 268.06V271.80M104.60 267.95V271.30M105.30 267.70V271.60M106.00 268.38V271.73M106.70 267.89V271.79M107.40 267.85V271.72M108.10 268.25V271.68M108.80 267.91V271.74M109.50 268.41V271.89M110.20 268.08V271.82M110.90 268.13V271.70M111.60 268.06V271.26M112.30 268.16V271.74M113.00 268.35V271.83M113.70 267.94V271.71M114.40 268.13V271.64M115.10 268.03V271.37M115.80 268.60V271.50M116.50 267.98V271.50M117.20 268.24V271.49M117.90 268.51V271.58M118.60 268.54V271.12M119.30 268.53V271.86M120.00 267.78V271.56M120.70 267.76V271.19M121.40 268.00V271.43M122.10 268.50V271.52M122.80 268.50V271.25M123.50 268.47V271.22M124.20 267.79V271.44M124.90 268.11V271.13M125.60 268.46V271.09M126.30 267.97V271.52M127.00 267.93V271.53M127.70 268.37V271.36M128.40 268.27V271.83M129.10 267.97V271.75M129.80 268.01V271.87M130.50 267.91V271.00M131.20 268.53V271.03M131.90 267.80V271.19M132.60 268.18V271.53M133.30 268.40V271.25M134.00 267.81V271.16M134.70 267.85V271.42M135.40 267.98V271.35M136.10 267.99V271.63M136.80 268.22V271.27M137.50 268.21V271.67M138.20 268.59V271.19M138.90 268.28V271.63M139.60 268.14V271.20M140.30 267.81V271.52M141.00 267.80V271.34M141.70 267.74V271.52M142.40 268.29V271.14M143.10 267.88V271.16M143.80 267.86V271.73M144.50 268.48V271.66M145.20 267.97V271.08" stroke="#000" stroke-width="0.3" fill="none" opacity="0.8"/>
<rect x="151.60" y="268.85" width="52.40" height="1.90" fill="#000" />
<path d="M153.56 257.68V283.14M159.94 258.56V280.66M166.22 259.98V281.83M173.26 260.11V278.87M179.85 259.58V282.77M186.19 260.51V280.20M192.64 258.93V280.66M198.97 256.89V278.84" stroke="#888" stroke-width="0.5" fill="none" opacity="0.6"/>
<path d="M153.56 259.18V281.64M159.94 260.06V279.16M166.22 261.48V280.33M173.26 261.61V277.37M179.85 261.08V281.27M186.19 262.01V278.70M192.64 260.43V279.16M198.97 258.39V277.34" stroke="#000" stroke-width="0.58" fill="none"/>
<path d="M151.60 267.86V271.18M152.30 268.41V271.35M153.00 268.03V271.74M153.70 267.89V271.16M154.40 267.76V271.16M155.10 267.87V271.77M155.80 268.50V271.34M156.50 268.41V271.41M157.20 267.90V271.72M157.90 267.92V271.03M158.60 268.34V271.83M159.30 267.94V271.69M160.00 268.44V271.14M160.70 268.16V271.55M161.40 268.49V271.79M162.10 268.08V271.84M162.80 267.78V271.36M163.50 268.35V271.75M164.20 268.15V271.54M164.90 267.95V271.88M165.60 268.14V271.41M166.30 267.83V271.07M167.00 268.21V271.20M167.70 268.05V271.74M168.40 268.22V271.19M169.10 268.49V271.81M169.80 268.07V271.84M170.50 268.36V271.26M171.20 268.44V271.57M171.90 268.09V271.77M172.60 268.07V271.30M173.30 268.51V271.71M174.00 267.75V271.30M174.70 268.32V271.47M175.40 268.26V271.67M176.10 268.17V271.43M176.80 268.26V271.23M177.50 267.77V271.85M178.20 268.41V271.34M178.90 267.95V271.32M179.60 268.20V271.51M180.30 268.36V271.35M181.00 267.95V271.85M181.70 268.54V271.79M182.40 268.52V271.59M183.10 268.55V271.49M183.80 268.39V271.73M184.50 268.58V271.46M185.20 267.74V271.48M185.90 268.20V271.58M186.60 267.89V271.62M187.30 268.23V271.18M188.00 267.90V271.45M188.70 267.74V271.31M189.40 268.32V271.42M190.10 267.71V271.70M190.80 268.33V271.62M191.50 267.86V271.05M192.20 267.93V271.43M192.90 267.81V271.68M193.60 268.27V271.07M194.30 268.24V271.34M195.00 268.42V271.62M195.70 267.82V271.40M196.40 268.50V271.50M197.10 268.29V271.04M197.80 268.51V271.35M198.50 268.57V271.12M199.20 267.75V271.48M199.90 268.43V271.04M200.60 268.34V271.29M201.30 267.75V271.17M202.00 267.77V271.45M202.70 267.87V271.50M203.40 267.74V271.86" stroke="#000" stroke-width="0.3" fill="none" opacity="0.8"/>
<rect x="210.80" y="268.85" width="52.80" height="1.90" fill="#000" />
<path d="M212.56 258.67V280.33M218.24 260.35V279.83M224.21 259.42V281.26M230.50 258.26V283.07M236.61 260.04V278.97M242.67 260.41V281.79M248.15 258.82V281.20M253.98 257.98V281.99M259.58 259.14V280.69" stroke="#888" stroke-width="0.5" fill="none" opacity="0.6"/>
<path d="M212.56 260.17V278.83M218.24 261.85V278.33M224.21 260.92V279.76M230.50 259.76V281.57M236.61 261.54V277.47M242.67 261.91V280.29M248.15 260.32V279.70M253.98 259.48V280.49M259.58 260.64V279.19" stroke="#000" stroke-width="0.58" fill="none"/>
<path d="M210.80 268.40V271.20M211.50 268.05V271.06M212.20 268.21V271.45M212.90 268.19V271.62M213.60 267.88V271.48M214.30 268.45V271.16M215.00 267.76V271.42M215.70 268.16V271.20M216.40 268.03V271.34M217.10 268.09V271.50M217.80 267.78V271.70M218.50 267.78V271.79M219.20 268.52V271.55M219.90 268.35V271.31M220.60 268.14V271.47M221.30 268.08V271.39M222.00 268.50V271.89M222.70 268.57V271.85M223.40 267.71V271.60M224.10 268.41V271.63M224.80 268.30V271.32M225.50 267.84V271.65M226.20 268.58V271.85M226.90 268.25V271.27M227.60 268.25V271.18M228.30 268.22V271.76M229.00 267.72V271.76M229.70 268.02V271.38M230.40 268.17V271.13M231.10 268.37V271.04M231.80 267.90V271.09M232.50 268.44V271.38M233.20 267.87V271.07M233.90 267.92V271.27M234.60 268.24V271.41M235.30 267.71V271.90M236.00 268.36V271.54M236.70 268.31V271.30M237.40 267.86V271.58M238.10 268.12V271.27M238.80 268.26V271.42M239.50 267.86V271.24M240.20 268.09V271.71M240.90 268.55V271.20M241.60 267.91V271.06M242.30 267.75V271.39M243.00 268.03V271.10M243.70 268.20V271.42M244.40 267.90V271.54M245.10 268.47V271.07M245.80 268.37V271.52M246.50 268.50V271.14M247.20 268.28V271.21M247.90 268.05V271.20M248.60 268.42V271.68M249.30 268.04V271.67M250.00 268.47V271.56M250.70 268.26V271.43M251.40 268.41V271.74M252.10 267.87V271.42M252.80 268.27V271.22M253.50 268.15V271.27M254.20 268.21V271.55M254.90 267.83V271.77M255.60 268.54V271.70M256.30 268.25V271.10M257.00 268.19V271.79M257.70 268.25V271.27M258.40 268.12V271.51M259.10 267.77V271.82M259.80 267.72V271.06M260.50 267.95V271.44M261.20 268.07V271.76M261.90 268.33V271.00M262.60 268.37V271.87M263.30 267.76V271.42" stroke="#000" stroke-width="0.3" fill="none" opacity="0.8"/>
<line x1="146.40" y1="229.40" x2="146.40" y2="231.80" stroke="#999" stroke-width="0.5"/>
<line x1="210.40" y1="229.80" x2="210.40" y2="232.20" stroke="#999" stroke-width="0.5"/>
<text x="122.60" y="245.00" font-size="5.8" fill="#b4b4b4" textLength="24.40" lengthAdjust="spacingAndGlyphs">RespHRV</text>
<path d="M148.2 240.0 H149.2 V246.0 H148.2" stroke="#999" stroke-width="0.5" fill="none" />
<line x1="151.60" y1="243.80" x2="204.00" y2="243.80" stroke="#9aa" stroke-width="0.5" stroke-dasharray="2 1.4"/>
<line x1="204.60" y1="243.80" x2="212.00" y2="243.80" stroke="#aaa" stroke-width="0.8" stroke-dasharray="2.8 1.8"/>
<text x="214.80" y="245.80" font-size="5.8" fill="#b4b4b4" textLength="13.20" lengthAdjust="spacingAndGlyphs">mHR</text>
<text x="93.20" y="285.20" font-size="5.2" fill="#bdbdbd" textLength="49.00" lengthAdjust="spacingAndGlyphs">Insp freq: 25 min<tspan font-size="3.4" dy="-2">−1</tspan></text>
<text x="177.60" y="285.20" font-size="5.2" fill="#fff" text-anchor="middle" textLength="21.60" lengthAdjust="spacingAndGlyphs">23 min<tspan font-size="3.4" dy="-2">−1</tspan></text>
<text x="235.60" y="285.20" font-size="5.2" fill="#bdbdbd" text-anchor="middle" textLength="21.60" lengthAdjust="spacingAndGlyphs">25 min<tspan font-size="3.4" dy="-2">−1</tspan></text>
<line x1="258.40" y1="284.20" x2="263.70" y2="284.20" stroke="#000" stroke-width="1.3"/>
<text x="261.20" y="290.70" font-size="5.8" fill="#111" text-anchor="middle" stroke="#111" stroke-width="0.14" textLength="7.60" lengthAdjust="spacingAndGlyphs">2 s</text>
<line x1="317.00" y1="121.70" x2="317.00" y2="176.30" stroke="#333" stroke-width="0.6"/>
<line x1="316.70" y1="176.30" x2="369.00" y2="176.30" stroke="#333" stroke-width="0.6"/>
<line x1="313.80" y1="122.00" x2="317.00" y2="122.00" stroke="#333" stroke-width="0.6"/>
<text x="310.80" y="124.70" font-size="7.6" fill="#111" text-anchor="end" stroke="#111" stroke-width="0.06" textLength="8.60" lengthAdjust="spacingAndGlyphs">50</text>
<line x1="313.80" y1="140.20" x2="317.00" y2="140.20" stroke="#333" stroke-width="0.6"/>
<text x="310.80" y="142.90" font-size="7.6" fill="#111" text-anchor="end" stroke="#111" stroke-width="0.06" textLength="4.30" lengthAdjust="spacingAndGlyphs">0</text>
<line x1="313.80" y1="158.20" x2="317.00" y2="158.20" stroke="#333" stroke-width="0.6"/>
<text x="310.80" y="160.90" font-size="7.6" fill="#111" text-anchor="end" stroke="#111" stroke-width="0.06" textLength="11.30" lengthAdjust="spacingAndGlyphs">−50</text>
<line x1="313.80" y1="176.30" x2="317.00" y2="176.30" stroke="#333" stroke-width="0.6"/>
<text x="310.80" y="179.00" font-size="7.6" fill="#111" text-anchor="end" stroke="#111" stroke-width="0.06" textLength="15.60" lengthAdjust="spacingAndGlyphs">−100</text>
<line x1="315.20" y1="131.10" x2="317.00" y2="131.10" stroke="#333" stroke-width="0.5"/>
<line x1="315.20" y1="149.20" x2="317.00" y2="149.20" stroke="#333" stroke-width="0.5"/>
<line x1="315.20" y1="167.30" x2="317.00" y2="167.30" stroke="#333" stroke-width="0.5"/>
<line x1="327.60" y1="176.30" x2="327.60" y2="177.90" stroke="#333" stroke-width="0.6"/>
<line x1="343.30" y1="176.30" x2="343.30" y2="177.90" stroke="#333" stroke-width="0.6"/>
<line x1="358.50" y1="176.30" x2="358.50" y2="177.90" stroke="#333" stroke-width="0.6"/>
<text x="288.80" y="149.80" font-size="8.4" fill="#111" text-anchor="middle" stroke="#111" stroke-width="0.06" textLength="58.00" lengthAdjust="spacingAndGlyphs" transform="rotate(-90 288.80 149.80)">Δ RespHRV (%)</text>
<line x1="317.00" y1="140.20" x2="369.00" y2="140.20" stroke="#555" stroke-width="0.8" stroke-dasharray="3.6 1.8"/>
<polygon points="326.6,146.1 326.4,147.1 326.1,148.2 325.9,149.3 325.6,150.4 325.3,151.4 324.9,152.5 324.4,153.6 324.0,154.6 323.7,155.7 323.6,156.8 323.7,157.9 323.9,158.9 324.3,160.0 324.7,161.1 325.1,162.1 325.4,163.2 325.5,164.3 325.7,165.4 325.8,166.4 325.8,167.5 325.9,168.6 326.1,169.6 326.3,170.7 326.5,171.8 328.7,171.8 328.9,170.7 329.1,169.6 329.3,168.6 329.4,167.5 329.4,166.4 329.5,165.4 329.7,164.3 329.8,163.2 330.1,162.1 330.5,161.1 330.9,160.0 331.3,158.9 331.5,157.9 331.6,156.8 331.5,155.7 331.2,154.6 330.8,153.6 330.3,152.5 329.9,151.4 329.6,150.4 329.3,149.3 329.1,148.2 328.8,147.1 328.6,146.1" fill="#c2c2c2" opacity="0.95"/>
<polygon points="342.5,125.4 342.4,126.3 342.2,127.2 342.2,128.1 342.1,129.1 342.1,130.0 342.0,130.9 341.9,131.8 341.7,132.7 341.5,133.6 341.3,134.5 341.1,135.4 340.9,136.3 340.7,137.2 340.5,138.1 340.3,139.0 340.2,139.9 340.1,140.8 340.1,141.7 340.1,142.6 340.3,143.5 340.5,144.5 340.9,145.4 341.3,146.3 341.8,147.2 344.8,147.2 345.3,146.3 345.7,145.4 346.1,144.5 346.3,143.5 346.5,142.6 346.5,141.7 346.5,140.8 346.4,139.9 346.3,139.0 346.1,138.1 345.9,137.2 345.7,136.3 345.5,135.4 345.3,134.5 345.1,133.6 344.9,132.7 344.7,131.8 344.6,130.9 344.5,130.0 344.5,129.1 344.4,128.1 344.4,127.2 344.2,126.3 344.1,125.4" fill="#c2c2c2" opacity="0.95"/>
<polygon points="357.6,134.6 357.4,135.0 357.2,135.3 357.0,135.7 356.8,136.1 356.6,136.4 356.4,136.8 356.1,137.2 356.0,137.5 355.8,137.9 355.7,138.3 355.6,138.6 355.5,139.0 355.5,139.4 355.5,139.7 355.6,140.1 355.8,140.5 355.9,140.8 356.1,141.2 356.4,141.6 356.6,141.9 356.9,142.3 357.1,142.7 357.3,143.0 357.5,143.4 359.5,143.4 359.7,143.0 359.9,142.7 360.1,142.3 360.4,141.9 360.6,141.6 360.9,141.2 361.1,140.8 361.2,140.5 361.4,140.1 361.5,139.7 361.5,139.4 361.5,139.0 361.4,138.6 361.3,138.3 361.2,137.9 361.0,137.5 360.9,137.2 360.6,136.8 360.4,136.4 360.2,136.1 360.0,135.7 359.8,135.3 359.6,135.0 359.4,134.6" fill="#c2c2c2" opacity="0.95"/>
<line x1="327.60" y1="148.06" x2="343.30" y2="127.43" stroke="#111" stroke-width="0.6"/>
<line x1="327.60" y1="154.58" x2="343.30" y2="137.20" stroke="#111" stroke-width="0.6"/>
<line x1="327.60" y1="156.03" x2="343.30" y2="133.58" stroke="#111" stroke-width="0.6"/>
<line x1="327.60" y1="157.48" x2="343.30" y2="139.01" stroke="#111" stroke-width="0.6"/>
<line x1="327.60" y1="158.92" x2="343.30" y2="141.91" stroke="#111" stroke-width="0.6"/>
<line x1="327.60" y1="164.72" x2="343.30" y2="145.17" stroke="#111" stroke-width="0.6"/>
<line x1="327.60" y1="169.78" x2="343.30" y2="143.72" stroke="#111" stroke-width="0.6"/>
<circle cx="327.6" cy="148.1" r="1.2" fill="#f4481e" stroke="#5e1408" stroke-width="0.5"/>
<circle cx="327.6" cy="154.6" r="1.2" fill="#f4481e" stroke="#5e1408" stroke-width="0.5"/>
<circle cx="327.6" cy="156.0" r="1.2" fill="#f4481e" stroke="#5e1408" stroke-width="0.5"/>
<circle cx="327.6" cy="157.5" r="1.2" fill="#f4481e" stroke="#5e1408" stroke-width="0.5"/>
<circle cx="327.6" cy="158.9" r="1.2" fill="#f4481e" stroke="#5e1408" stroke-width="0.5"/>
<circle cx="327.6" cy="164.7" r="1.2" fill="#f4481e" stroke="#5e1408" stroke-width="0.5"/>
<circle cx="327.6" cy="169.8" r="1.2" fill="#f4481e" stroke="#5e1408" stroke-width="0.5"/>
<circle cx="343.3" cy="127.4" r="1.2" fill="#f4481e" stroke="#5e1408" stroke-width="0.5"/>
<circle cx="343.3" cy="133.6" r="1.2" fill="#f4481e" stroke="#5e1408" stroke-width="0.5"/>
<circle cx="343.3" cy="137.2" r="1.2" fill="#f4481e" stroke="#5e1408" stroke-width="0.5"/>
<circle cx="343.3" cy="139.0" r="1.2" fill="#f4481e" stroke="#5e1408" stroke-width="0.5"/>
<circle cx="343.3" cy="141.9" r="1.2" fill="#f4481e" stroke="#5e1408" stroke-width="0.5"/>
<circle cx="343.3" cy="143.7" r="1.2" fill="#f4481e" stroke="#5e1408" stroke-width="0.5"/>
<circle cx="343.3" cy="145.2" r="1.2" fill="#f4481e" stroke="#5e1408" stroke-width="0.5"/>
<circle cx="358.3" cy="136.6" r="1.05" fill="#e9a86a" stroke="#4e3416" stroke-width="0.5"/>
<circle cx="356.5" cy="139.2" r="1.05" fill="#e9a86a" stroke="#4e3416" stroke-width="0.5"/>
<circle cx="360.2" cy="139.2" r="1.05" fill="#e9a86a" stroke="#4e3416" stroke-width="0.5"/>
<circle cx="358.3" cy="141.4" r="1.05" fill="#e9a86a" stroke="#4e3416" stroke-width="0.5"/>
<text x="343.40" y="115.40" font-size="4.6" fill="#333" text-anchor="middle" textLength="23.80" lengthAdjust="spacingAndGlyphs"><tspan font-style="italic">P</tspan> = 0.0003</text>
<path d="M327.2 118.2V117.4H358.8V118.2" stroke="#333" stroke-width="0.6" fill="none" />
<text x="337.40" y="122.50" font-size="4.6" fill="#333" text-anchor="middle" textLength="23.80" lengthAdjust="spacingAndGlyphs"><tspan font-style="italic">P</tspan> = 0.0106</text>
<path d="M327.2 125.2V124.4H343.8V125.2" stroke="#333" stroke-width="0.6" fill="none" />
<text x="319.20" y="174.00" font-size="4.6" fill="#333" textLength="23.80" lengthAdjust="spacingAndGlyphs"><tspan font-style="italic">P</tspan> = 0.0013</text>
<text x="327.60" y="185.00" font-size="4.7" fill="#333" text-anchor="middle">No</text>
<text x="343.30" y="185.00" font-size="4.7" fill="#333" text-anchor="middle">Atropine</text>
<text x="358.50" y="185.00" font-size="4.7" fill="#333" text-anchor="middle">No</text>
<text x="327.60" y="190.40" font-size="4.7" fill="#333" text-anchor="middle" textLength="20.60" lengthAdjust="spacingAndGlyphs">treatment</text>
<text x="358.50" y="190.40" font-size="4.7" fill="#333" text-anchor="middle" textLength="20.60" lengthAdjust="spacingAndGlyphs">treatment</text>
<text x="332.45" y="197.60" font-size="6.4" fill="#333" text-anchor="middle">Cre<tspan font-size="4" dy="-2.2">+</tspan></text>
<text x="358.90" y="197.60" font-size="6.4" fill="#333" text-anchor="middle">Cre<tspan font-size="4" dy="-2.2">−</tspan></text>
<line x1="414.60" y1="121.70" x2="414.60" y2="176.30" stroke="#333" stroke-width="0.6"/>
<line x1="414.30" y1="176.30" x2="466.00" y2="176.30" stroke="#333" stroke-width="0.6"/>
<line x1="411.40" y1="122.00" x2="414.60" y2="122.00" stroke="#333" stroke-width="0.6"/>
<text x="408.40" y="124.70" font-size="7.6" fill="#111" text-anchor="end" stroke="#111" stroke-width="0.06" textLength="8.60" lengthAdjust="spacingAndGlyphs">45</text>
<line x1="411.40" y1="133.40" x2="414.60" y2="133.40" stroke="#333" stroke-width="0.6"/>
<text x="408.40" y="136.10" font-size="7.6" fill="#111" text-anchor="end" stroke="#111" stroke-width="0.06" textLength="8.60" lengthAdjust="spacingAndGlyphs">30</text>
<line x1="411.40" y1="144.90" x2="414.60" y2="144.90" stroke="#333" stroke-width="0.6"/>
<text x="408.40" y="147.60" font-size="7.6" fill="#111" text-anchor="end" stroke="#111" stroke-width="0.06" textLength="8.60" lengthAdjust="spacingAndGlyphs">20</text>
<line x1="411.40" y1="156.40" x2="414.60" y2="156.40" stroke="#333" stroke-width="0.6"/>
<text x="408.40" y="159.10" font-size="7.6" fill="#111" text-anchor="end" stroke="#111" stroke-width="0.06" textLength="8.60" lengthAdjust="spacingAndGlyphs">10</text>
<line x1="411.40" y1="167.90" x2="414.60" y2="167.90" stroke="#333" stroke-width="0.6"/>
<text x="408.40" y="170.60" font-size="7.6" fill="#111" text-anchor="end" stroke="#111" stroke-width="0.06" textLength="4.30" lengthAdjust="spacingAndGlyphs">0</text>
<line x1="424.60" y1="176.30" x2="424.60" y2="177.90" stroke="#333" stroke-width="0.6"/>
<line x1="440.00" y1="176.30" x2="440.00" y2="177.90" stroke="#333" stroke-width="0.6"/>
<line x1="455.80" y1="176.30" x2="455.80" y2="177.90" stroke="#333" stroke-width="0.6"/>
<text x="392.60" y="146.50" font-size="8.4" fill="#111" text-anchor="middle" stroke="#111" stroke-width="0.06" textLength="53.00" lengthAdjust="spacingAndGlyphs" transform="rotate(-90 392.60 146.50)">Δ mHR (bpm)</text>
<line x1="414.60" y1="167.90" x2="466.00" y2="167.90" stroke="#555" stroke-width="0.8" stroke-dasharray="3.6 1.8"/>
<polygon points="423.6,129.1 423.5,130.7 423.4,132.3 423.4,133.9 423.3,135.5 423.2,137.1 423.1,138.7 422.9,140.2 422.7,141.8 422.5,143.4 422.5,145.0 422.7,146.6 422.9,148.2 423.1,149.8 423.3,151.4 423.3,153.0 423.2,154.5 422.8,156.1 422.3,157.7 421.6,159.3 421.1,160.9 420.7,162.5 420.6,164.1 420.8,165.7 421.3,167.3 427.9,167.3 428.4,165.7 428.6,164.1 428.5,162.5 428.1,160.9 427.6,159.3 426.9,157.7 426.4,156.1 426.0,154.5 425.9,153.0 425.9,151.4 426.1,149.8 426.3,148.2 426.5,146.6 426.7,145.0 426.7,143.4 426.5,141.8 426.3,140.2 426.1,138.7 426.0,137.1 425.9,135.5 425.8,133.9 425.8,132.3 425.7,130.7 425.6,129.1" fill="#c2c2c2" opacity="0.95"/>
<polygon points="438.1,165.2 438.0,165.4 437.8,165.6 437.6,165.8 437.5,166.0 437.3,166.2 437.2,166.4 437.1,166.5 437.0,166.7 436.9,166.9 436.8,167.1 436.8,167.3 436.8,167.5 436.8,167.7 436.8,167.9 436.9,168.1 437.0,168.3 437.1,168.5 437.2,168.6 437.3,168.8 437.5,169.0 437.6,169.2 437.8,169.4 438.0,169.6 438.1,169.8 441.9,169.8 442.0,169.6 442.2,169.4 442.4,169.2 442.5,169.0 442.7,168.8 442.8,168.6 442.9,168.5 443.0,168.3 443.1,168.1 443.2,167.9 443.2,167.7 443.2,167.5 443.2,167.3 443.2,167.1 443.1,166.9 443.0,166.7 442.9,166.5 442.8,166.4 442.7,166.2 442.5,166.0 442.4,165.8 442.2,165.6 442.0,165.4 441.9,165.2" fill="#c2c2c2" opacity="0.95"/>
<polygon points="453.8,165.9 453.7,166.1 453.5,166.2 453.4,166.4 453.3,166.6 453.2,166.7 453.1,166.9 453.0,167.1 452.9,167.2 452.9,167.4 452.8,167.6 452.8,167.7 452.8,167.9 452.8,168.1 452.8,168.2 452.9,168.4 452.9,168.6 453.0,168.7 453.1,168.9 453.2,169.1 453.3,169.2 453.4,169.4 453.5,169.6 453.7,169.7 453.8,169.9 457.8,169.9 457.9,169.7 458.1,169.6 458.2,169.4 458.3,169.2 458.4,169.1 458.5,168.9 458.6,168.7 458.7,168.6 458.7,168.4 458.8,168.2 458.8,168.1 458.8,167.9 458.8,167.7 458.8,167.6 458.7,167.4 458.7,167.2 458.6,167.1 458.5,166.9 458.4,166.7 458.3,166.6 458.2,166.4 458.1,166.2 457.9,166.1 457.8,165.9" fill="#c2c2c2" opacity="0.95"/>
<line x1="424.60" y1="131.12" x2="440.00" y2="167.21" stroke="#111" stroke-width="0.6"/>
<line x1="424.60" y1="143.75" x2="440.00" y2="167.44" stroke="#111" stroke-width="0.6"/>
<line x1="424.60" y1="145.47" x2="440.00" y2="167.67" stroke="#111" stroke-width="0.6"/>
<line x1="424.60" y1="162.15" x2="440.00" y2="167.33" stroke="#111" stroke-width="0.6"/>
<line x1="424.60" y1="163.30" x2="440.00" y2="167.56" stroke="#111" stroke-width="0.6"/>
<line x1="424.60" y1="164.45" x2="440.00" y2="167.78" stroke="#111" stroke-width="0.6"/>
<line x1="424.60" y1="165.25" x2="440.00" y2="167.44" stroke="#111" stroke-width="0.6"/>
<circle cx="424.6" cy="131.1" r="1.2" fill="#f4481e" stroke="#5e1408" stroke-width="0.5"/>
<circle cx="424.6" cy="143.8" r="1.2" fill="#f4481e" stroke="#5e1408" stroke-width="0.5"/>
<circle cx="424.6" cy="145.5" r="1.2" fill="#f4481e" stroke="#5e1408" stroke-width="0.5"/>
<circle cx="424.6" cy="162.2" r="1.2" fill="#f4481e" stroke="#5e1408" stroke-width="0.5"/>
<circle cx="424.6" cy="163.3" r="1.2" fill="#f4481e" stroke="#5e1408" stroke-width="0.5"/>
<circle cx="424.6" cy="164.5" r="1.2" fill="#f4481e" stroke="#5e1408" stroke-width="0.5"/>
<circle cx="424.6" cy="165.3" r="1.2" fill="#f4481e" stroke="#5e1408" stroke-width="0.5"/>
<circle cx="440.0" cy="167.2" r="1.2" fill="#f4481e" stroke="#5e1408" stroke-width="0.5"/>
<circle cx="440.0" cy="167.4" r="1.2" fill="#f4481e" stroke="#5e1408" stroke-width="0.5"/>
<circle cx="440.0" cy="167.7" r="1.2" fill="#f4481e" stroke="#5e1408" stroke-width="0.5"/>
<circle cx="440.0" cy="167.3" r="1.2" fill="#f4481e" stroke="#5e1408" stroke-width="0.5"/>
<circle cx="440.0" cy="167.6" r="1.2" fill="#f4481e" stroke="#5e1408" stroke-width="0.5"/>
<circle cx="440.0" cy="167.8" r="1.2" fill="#f4481e" stroke="#5e1408" stroke-width="0.5"/>
<circle cx="440.0" cy="167.4" r="1.2" fill="#f4481e" stroke="#5e1408" stroke-width="0.5"/>
<circle cx="451.8" cy="167.9" r="1.05" fill="#e9a86a" stroke="#4e3416" stroke-width="0.5"/>
<circle cx="454.6" cy="167.9" r="1.05" fill="#e9a86a" stroke="#4e3416" stroke-width="0.5"/>
<circle cx="457.6" cy="167.9" r="1.05" fill="#e9a86a" stroke="#4e3416" stroke-width="0.5"/>
<circle cx="460.4" cy="167.9" r="1.05" fill="#e9a86a" stroke="#4e3416" stroke-width="0.5"/>
<text x="432.20" y="121.40" font-size="4.6" fill="#333" text-anchor="middle" textLength="23.80" lengthAdjust="spacingAndGlyphs"><tspan font-style="italic">P</tspan> = 0.0386</text>
<text x="415.20" y="127.60" font-size="4.6" fill="#333" textLength="23.80" lengthAdjust="spacingAndGlyphs"><tspan font-style="italic">P</tspan> = 0.0061</text>
<text x="441.40" y="174.00" font-size="4.6" fill="#333" text-anchor="middle" textLength="23.80" lengthAdjust="spacingAndGlyphs"><tspan font-style="italic">P</tspan> = 0.0040</text>
<text x="424.60" y="185.00" font-size="4.7" fill="#333" text-anchor="middle">No</text>
<text x="440.00" y="185.00" font-size="4.7" fill="#333" text-anchor="middle">Atropine</text>
<text x="455.80" y="185.00" font-size="4.7" fill="#333" text-anchor="middle">No</text>
<text x="424.60" y="190.40" font-size="4.7" fill="#333" text-anchor="middle" textLength="20.60" lengthAdjust="spacingAndGlyphs">treatment</text>
<text x="455.80" y="190.40" font-size="4.7" fill="#333" text-anchor="middle" textLength="20.60" lengthAdjust="spacingAndGlyphs">treatment</text>
<text x="429.30" y="197.60" font-size="6.4" fill="#333" text-anchor="middle">Cre<tspan font-size="4" dy="-2.2">+</tspan></text>
<text x="456.20" y="197.60" font-size="6.4" fill="#333" text-anchor="middle">Cre<tspan font-size="4" dy="-2.2">−</tspan></text>
<line x1="424.20" y1="122.80" x2="440.20" y2="122.80" stroke="#333" stroke-width="0.45"/>
<line x1="424.60" y1="170.20" x2="456.00" y2="170.20" stroke="#333" stroke-width="0.45"/>
<line x1="519.00" y1="121.70" x2="519.00" y2="176.30" stroke="#333" stroke-width="0.6"/>
<line x1="518.70" y1="176.30" x2="571.80" y2="176.30" stroke="#333" stroke-width="0.6"/>
<line x1="515.80" y1="122.20" x2="519.00" y2="122.20" stroke="#333" stroke-width="0.6"/>
<text x="512.80" y="124.90" font-size="7.6" fill="#111" text-anchor="end" stroke="#111" stroke-width="0.06" textLength="8.60" lengthAdjust="spacingAndGlyphs">80</text>
<line x1="515.80" y1="133.10" x2="519.00" y2="133.10" stroke="#333" stroke-width="0.6"/>
<text x="512.80" y="135.80" font-size="7.6" fill="#111" text-anchor="end" stroke="#111" stroke-width="0.06" textLength="8.60" lengthAdjust="spacingAndGlyphs">60</text>
<line x1="515.80" y1="143.90" x2="519.00" y2="143.90" stroke="#333" stroke-width="0.6"/>
<text x="512.80" y="146.60" font-size="7.6" fill="#111" text-anchor="end" stroke="#111" stroke-width="0.06" textLength="8.60" lengthAdjust="spacingAndGlyphs">40</text>
<line x1="515.80" y1="154.70" x2="519.00" y2="154.70" stroke="#333" stroke-width="0.6"/>
<text x="512.80" y="157.40" font-size="7.6" fill="#111" text-anchor="end" stroke="#111" stroke-width="0.06" textLength="8.60" lengthAdjust="spacingAndGlyphs">20</text>
<line x1="515.80" y1="165.50" x2="519.00" y2="165.50" stroke="#333" stroke-width="0.6"/>
<text x="512.80" y="168.20" font-size="7.6" fill="#111" text-anchor="end" stroke="#111" stroke-width="0.06" textLength="4.30" lengthAdjust="spacingAndGlyphs">0</text>
<line x1="515.80" y1="176.30" x2="519.00" y2="176.30" stroke="#333" stroke-width="0.6"/>
<text x="512.80" y="179.00" font-size="7.6" fill="#111" text-anchor="end" stroke="#111" stroke-width="0.06" textLength="11.30" lengthAdjust="spacingAndGlyphs">−20</text>
<line x1="517.20" y1="127.60" x2="519.00" y2="127.60" stroke="#333" stroke-width="0.5"/>
<line x1="517.20" y1="138.50" x2="519.00" y2="138.50" stroke="#333" stroke-width="0.5"/>
<line x1="517.20" y1="149.30" x2="519.00" y2="149.30" stroke="#333" stroke-width="0.5"/>
<line x1="517.20" y1="160.10" x2="519.00" y2="160.10" stroke="#333" stroke-width="0.5"/>
<line x1="517.20" y1="170.90" x2="519.00" y2="170.90" stroke="#333" stroke-width="0.5"/>
<line x1="530.70" y1="176.30" x2="530.70" y2="177.90" stroke="#333" stroke-width="0.6"/>
<line x1="546.30" y1="176.30" x2="546.30" y2="177.90" stroke="#333" stroke-width="0.6"/>
<line x1="561.70" y1="176.30" x2="561.70" y2="177.90" stroke="#333" stroke-width="0.6"/>
<text x="488.00" y="146.60" font-size="8.4" fill="#111" text-anchor="middle" stroke="#111" stroke-width="0.06" textLength="53.50" lengthAdjust="spacingAndGlyphs" transform="rotate(-90 488.00 146.60)">Δ Respiratory</text>
<text x="498.40" y="146.60" font-size="8.4" fill="#111" text-anchor="middle" stroke="#111" stroke-width="0.06" textLength="33.30" lengthAdjust="spacingAndGlyphs" transform="rotate(-90 498.40 146.60)">freq (%)</text>
<line x1="519.00" y1="165.40" x2="571.80" y2="165.40" stroke="#555" stroke-width="0.8" stroke-dasharray="3.6 1.8"/>
<polygon points="530.0,126.7 529.9,128.2 529.9,129.8 530.0,131.3 530.1,132.9 530.2,134.4 530.3,135.9 530.4,137.5 530.4,139.0 530.3,140.6 530.0,142.1 529.7,143.7 529.4,145.2 528.9,146.7 528.5,148.3 528.1,149.8 527.7,151.4 527.3,152.9 527.0,154.4 526.8,156.0 526.7,157.5 526.7,159.1 527.0,160.6 527.4,162.2 527.9,163.7 533.5,163.7 534.0,162.2 534.4,160.6 534.7,159.1 534.7,157.5 534.6,156.0 534.4,154.4 534.1,152.9 533.7,151.4 533.3,149.8 532.9,148.3 532.5,146.7 532.0,145.2 531.7,143.7 531.4,142.1 531.1,140.6 531.0,139.0 531.0,137.5 531.1,135.9 531.2,134.4 531.3,132.9 531.4,131.3 531.5,129.8 531.5,128.2 531.4,126.7" fill="#c2c2c2" opacity="0.95"/>
<polygon points="545.7,139.7 545.6,140.6 545.5,141.6 545.5,142.5 545.4,143.5 545.4,144.5 545.4,145.4 545.4,146.4 545.5,147.3 545.5,148.3 545.5,149.2 545.5,150.2 545.4,151.1 545.3,152.1 545.0,153.1 544.6,154.0 544.2,155.0 543.8,155.9 543.4,156.9 543.2,157.8 543.1,158.8 543.2,159.7 543.5,160.7 544.0,161.7 544.5,162.6 548.1,162.6 548.6,161.7 549.1,160.7 549.4,159.7 549.5,158.8 549.4,157.8 549.2,156.9 548.8,155.9 548.4,155.0 548.0,154.0 547.6,153.1 547.3,152.1 547.2,151.1 547.1,150.2 547.1,149.2 547.1,148.3 547.1,147.3 547.2,146.4 547.2,145.4 547.2,144.5 547.2,143.5 547.1,142.5 547.1,141.6 547.0,140.6 546.9,139.7" fill="#c2c2c2" opacity="0.95"/>
<polygon points="560.2,163.1 560.0,163.4 559.8,163.7 559.6,164.0 559.4,164.3 559.2,164.6 559.0,164.9 558.9,165.2 558.8,165.5 558.7,165.8 558.7,166.1 558.7,166.4 558.8,166.7 558.9,167.0 559.0,167.3 559.1,167.6 559.3,167.9 559.5,168.2 559.7,168.5 559.9,168.8 560.1,169.1 560.3,169.4 560.4,169.7 560.6,170.0 560.8,170.3 562.6,170.3 562.8,170.0 563.0,169.7 563.1,169.4 563.3,169.1 563.5,168.8 563.7,168.5 563.9,168.2 564.1,167.9 564.3,167.6 564.4,167.3 564.5,167.0 564.6,166.7 564.7,166.4 564.7,166.1 564.7,165.8 564.6,165.5 564.5,165.2 564.4,164.9 564.2,164.6 564.0,164.3 563.8,164.0 563.6,163.7 563.4,163.4 563.2,163.1" fill="#c2c2c2" opacity="0.95"/>
<line x1="530.70" y1="149.25" x2="546.30" y2="141.68" stroke="#111" stroke-width="0.6"/>
<line x1="530.70" y1="150.33" x2="546.30" y2="147.09" stroke="#111" stroke-width="0.6"/>
<line x1="530.70" y1="154.66" x2="546.30" y2="154.66" stroke="#111" stroke-width="0.6"/>
<line x1="530.70" y1="158.45" x2="546.30" y2="157.37" stroke="#111" stroke-width="0.6"/>
<line x1="530.70" y1="159.53" x2="546.30" y2="158.99" stroke="#111" stroke-width="0.6"/>
<line x1="530.70" y1="161.15" x2="546.30" y2="160.61" stroke="#111" stroke-width="0.6"/>
<line x1="530.70" y1="161.69" x2="546.30" y2="158.45" stroke="#111" stroke-width="0.6"/>
<circle cx="530.7" cy="128.7" r="1.2" fill="#f4481e" stroke="#5e1408" stroke-width="0.5"/>
<circle cx="530.7" cy="149.2" r="1.2" fill="#f4481e" stroke="#5e1408" stroke-width="0.5"/>
<circle cx="530.7" cy="150.3" r="1.2" fill="#f4481e" stroke="#5e1408" stroke-width="0.5"/>
<circle cx="530.7" cy="154.7" r="1.2" fill="#f4481e" stroke="#5e1408" stroke-width="0.5"/>
<circle cx="530.7" cy="158.4" r="1.2" fill="#f4481e" stroke="#5e1408" stroke-width="0.5"/>
<circle cx="530.7" cy="159.5" r="1.2" fill="#f4481e" stroke="#5e1408" stroke-width="0.5"/>
<circle cx="530.7" cy="161.2" r="1.2" fill="#f4481e" stroke="#5e1408" stroke-width="0.5"/>
<circle cx="530.7" cy="161.7" r="1.2" fill="#f4481e" stroke="#5e1408" stroke-width="0.5"/>
<circle cx="546.3" cy="141.7" r="1.2" fill="#f4481e" stroke="#5e1408" stroke-width="0.5"/>
<circle cx="546.3" cy="147.1" r="1.2" fill="#f4481e" stroke="#5e1408" stroke-width="0.5"/>
<circle cx="546.3" cy="154.7" r="1.2" fill="#f4481e" stroke="#5e1408" stroke-width="0.5"/>
<circle cx="546.3" cy="157.4" r="1.2" fill="#f4481e" stroke="#5e1408" stroke-width="0.5"/>
<circle cx="546.3" cy="159.0" r="1.2" fill="#f4481e" stroke="#5e1408" stroke-width="0.5"/>
<circle cx="546.3" cy="160.6" r="1.2" fill="#f4481e" stroke="#5e1408" stroke-width="0.5"/>
<circle cx="546.3" cy="158.4" r="1.2" fill="#f4481e" stroke="#5e1408" stroke-width="0.5"/>
<circle cx="546.3" cy="160.1" r="1.2" fill="#f4481e" stroke="#5e1408" stroke-width="0.5"/>
<circle cx="558.3" cy="165.1" r="1.05" fill="#e9a86a" stroke="#4e3416" stroke-width="0.5"/>
<circle cx="565.0" cy="165.1" r="1.05" fill="#e9a86a" stroke="#4e3416" stroke-width="0.5"/>
<circle cx="561.7" cy="166.6" r="1.05" fill="#e9a86a" stroke="#4e3416" stroke-width="0.5"/>
<circle cx="561.7" cy="168.3" r="1.05" fill="#e9a86a" stroke="#4e3416" stroke-width="0.5"/>
<text x="546.20" y="118.20" font-size="4.6" fill="#333" text-anchor="middle" textLength="23.80" lengthAdjust="spacingAndGlyphs"><tspan font-style="italic">P</tspan> = 0.0280</text>
<path d="M530.6 120.7V119.9H561.8V120.7" stroke="#333" stroke-width="0.6" fill="none" />
<text x="521.20" y="125.40" font-size="4.6" fill="#333" textLength="23.80" lengthAdjust="spacingAndGlyphs"><tspan font-style="italic">P</tspan> = 0.0178</text>
<text x="554.60" y="130.50" font-size="4.6" fill="#333" text-anchor="middle" textLength="23.80" lengthAdjust="spacingAndGlyphs"><tspan font-style="italic">P</tspan> = 0.0151</text>
<path d="M546.4 132.6V131.8H561.8V132.6" stroke="#333" stroke-width="0.6" fill="none" />
<text x="546.00" y="138.60" font-size="4.6" fill="#333" text-anchor="middle" textLength="23.80" lengthAdjust="spacingAndGlyphs"><tspan font-style="italic">P</tspan> = 0.0015</text>
<text x="530.70" y="185.00" font-size="4.7" fill="#333" text-anchor="middle">No</text>
<text x="546.30" y="185.00" font-size="4.7" fill="#333" text-anchor="middle">Atropine</text>
<text x="561.70" y="185.00" font-size="4.7" fill="#333" text-anchor="middle">No</text>
<text x="530.70" y="190.40" font-size="4.7" fill="#333" text-anchor="middle" textLength="20.60" lengthAdjust="spacingAndGlyphs">treatment</text>
<text x="561.70" y="190.40" font-size="4.7" fill="#333" text-anchor="middle" textLength="20.60" lengthAdjust="spacingAndGlyphs">treatment</text>
<text x="535.50" y="197.60" font-size="6.4" fill="#333" text-anchor="middle">Cre<tspan font-size="4" dy="-2.2">+</tspan></text>
<text x="562.10" y="197.60" font-size="6.4" fill="#333" text-anchor="middle">Cre<tspan font-size="4" dy="-2.2">−</tspan></text>
<line x1="630.00" y1="121.10" x2="630.00" y2="176.30" stroke="#333" stroke-width="0.6"/>
<line x1="629.70" y1="176.30" x2="683.00" y2="176.30" stroke="#333" stroke-width="0.6"/>
<line x1="626.80" y1="126.20" x2="630.00" y2="126.20" stroke="#333" stroke-width="0.6"/>
<text x="623.80" y="128.90" font-size="7.6" fill="#111" text-anchor="end" stroke="#111" stroke-width="0.06" textLength="8.60" lengthAdjust="spacingAndGlyphs">20</text>
<line x1="626.80" y1="137.30" x2="630.00" y2="137.30" stroke="#333" stroke-width="0.6"/>
<text x="623.80" y="140.00" font-size="7.6" fill="#111" text-anchor="end" stroke="#111" stroke-width="0.06" textLength="8.60" lengthAdjust="spacingAndGlyphs">10</text>
<line x1="626.80" y1="148.40" x2="630.00" y2="148.40" stroke="#333" stroke-width="0.6"/>
<text x="623.80" y="151.10" font-size="7.6" fill="#111" text-anchor="end" stroke="#111" stroke-width="0.06" textLength="4.30" lengthAdjust="spacingAndGlyphs">0</text>
<line x1="626.80" y1="159.50" x2="630.00" y2="159.50" stroke="#333" stroke-width="0.6"/>
<text x="623.80" y="162.20" font-size="7.6" fill="#111" text-anchor="end" stroke="#111" stroke-width="0.06" textLength="11.30" lengthAdjust="spacingAndGlyphs">−10</text>
<line x1="626.80" y1="170.60" x2="630.00" y2="170.60" stroke="#333" stroke-width="0.6"/>
<text x="623.80" y="173.30" font-size="7.6" fill="#111" text-anchor="end" stroke="#111" stroke-width="0.06" textLength="11.30" lengthAdjust="spacingAndGlyphs">−20</text>
<line x1="640.60" y1="176.30" x2="640.60" y2="177.90" stroke="#333" stroke-width="0.6"/>
<line x1="656.60" y1="176.30" x2="656.60" y2="177.90" stroke="#333" stroke-width="0.6"/>
<line x1="672.40" y1="176.30" x2="672.40" y2="177.90" stroke="#333" stroke-width="0.6"/>
<text x="595.60" y="147.60" font-size="8.4" fill="#111" text-anchor="middle" stroke="#111" stroke-width="0.06" textLength="52.50" lengthAdjust="spacingAndGlyphs" transform="rotate(-90 595.60 147.60)">Δ Respiratory</text>
<text x="606.00" y="147.60" font-size="8.4" fill="#111" text-anchor="middle" stroke="#111" stroke-width="0.06" textLength="34.00" lengthAdjust="spacingAndGlyphs" transform="rotate(-90 606.00 147.60)">ampl (%)</text>
<line x1="630.00" y1="148.40" x2="683.00" y2="148.40" stroke="#555" stroke-width="0.8" stroke-dasharray="3.6 1.8"/>
<polygon points="638.4,134.2 637.8,135.7 637.3,137.3 636.8,138.9 636.6,140.4 636.6,142.0 636.9,143.5 637.3,145.1 637.8,146.6 638.4,148.2 638.8,149.7 639.1,151.3 639.3,152.8 639.4,154.4 639.5,155.9 639.6,157.5 639.6,159.1 639.7,160.6 639.8,162.2 639.8,163.7 639.7,165.3 639.7,166.8 639.6,168.4 639.7,169.9 639.7,171.5 641.5,171.5 641.5,169.9 641.6,168.4 641.5,166.8 641.5,165.3 641.4,163.7 641.4,162.2 641.5,160.6 641.6,159.1 641.6,157.5 641.7,155.9 641.8,154.4 641.9,152.8 642.1,151.3 642.4,149.7 642.8,148.2 643.4,146.6 643.9,145.1 644.3,143.5 644.6,142.0 644.6,140.4 644.4,138.9 643.9,137.3 643.4,135.7 642.8,134.2" fill="#c2c2c2" opacity="0.95"/>
<polygon points="655.4,142.8 655.0,143.3 654.6,143.8 654.2,144.3 653.8,144.8 653.6,145.3 653.4,145.8 653.4,146.3 653.5,146.8 653.8,147.3 654.1,147.8 654.4,148.3 654.8,148.8 655.1,149.3 655.4,149.8 655.6,150.3 655.7,150.8 655.8,151.3 655.8,151.8 655.8,152.3 655.9,152.8 655.9,153.3 656.0,153.8 656.1,154.3 656.1,154.8 657.1,154.8 657.1,154.3 657.2,153.8 657.3,153.3 657.3,152.8 657.4,152.3 657.4,151.8 657.4,151.3 657.5,150.8 657.6,150.3 657.8,149.8 658.1,149.3 658.4,148.8 658.8,148.3 659.1,147.8 659.4,147.3 659.7,146.8 659.8,146.3 659.8,145.8 659.6,145.3 659.4,144.8 659.0,144.3 658.6,143.8 658.2,143.3 657.8,142.8" fill="#c2c2c2" opacity="0.95"/>
<polygon points="671.7,141.5 671.6,141.9 671.5,142.3 671.4,142.7 671.3,143.2 671.2,143.6 671.1,144.0 671.0,144.4 670.9,144.8 670.8,145.2 670.7,145.6 670.5,146.0 670.3,146.4 670.1,146.9 669.9,147.3 669.7,147.7 669.5,148.1 669.4,148.5 669.4,148.9 669.5,149.3 669.6,149.8 669.8,150.2 670.1,150.6 670.4,151.0 670.7,151.4 674.1,151.4 674.4,151.0 674.7,150.6 675.0,150.2 675.2,149.8 675.3,149.3 675.4,148.9 675.4,148.5 675.3,148.1 675.1,147.7 674.9,147.3 674.7,146.9 674.5,146.4 674.3,146.0 674.1,145.6 674.0,145.2 673.9,144.8 673.8,144.4 673.7,144.0 673.6,143.6 673.5,143.2 673.4,142.7 673.3,142.3 673.2,141.9 673.1,141.5" fill="#c2c2c2" opacity="0.95"/>
<line x1="640.60" y1="136.19" x2="656.60" y2="144.85" stroke="#111" stroke-width="0.6"/>
<line x1="640.60" y1="139.52" x2="656.60" y2="152.84" stroke="#111" stroke-width="0.6"/>
<line x1="640.60" y1="141.19" x2="656.60" y2="145.74" stroke="#111" stroke-width="0.6"/>
<line x1="640.60" y1="142.85" x2="656.60" y2="146.62" stroke="#111" stroke-width="0.6"/>
<line x1="640.60" y1="144.18" x2="656.60" y2="147.29" stroke="#111" stroke-width="0.6"/>
<line x1="640.60" y1="169.49" x2="656.60" y2="152.84" stroke="#111" stroke-width="0.6"/>
<circle cx="640.6" cy="136.2" r="1.2" fill="#f4481e" stroke="#5e1408" stroke-width="0.5"/>
<circle cx="640.6" cy="139.5" r="1.2" fill="#f4481e" stroke="#5e1408" stroke-width="0.5"/>
<circle cx="640.6" cy="141.2" r="1.2" fill="#f4481e" stroke="#5e1408" stroke-width="0.5"/>
<circle cx="640.6" cy="142.8" r="1.2" fill="#f4481e" stroke="#5e1408" stroke-width="0.5"/>
<circle cx="640.6" cy="144.2" r="1.2" fill="#f4481e" stroke="#5e1408" stroke-width="0.5"/>
<circle cx="640.6" cy="156.2" r="1.2" fill="#f4481e" stroke="#5e1408" stroke-width="0.5"/>
<circle cx="640.6" cy="169.5" r="1.2" fill="#f4481e" stroke="#5e1408" stroke-width="0.5"/>
<circle cx="656.6" cy="144.8" r="1.2" fill="#f4481e" stroke="#5e1408" stroke-width="0.5"/>
<circle cx="656.6" cy="145.7" r="1.2" fill="#f4481e" stroke="#5e1408" stroke-width="0.5"/>
<circle cx="656.6" cy="146.6" r="1.2" fill="#f4481e" stroke="#5e1408" stroke-width="0.5"/>
<circle cx="656.6" cy="147.3" r="1.2" fill="#f4481e" stroke="#5e1408" stroke-width="0.5"/>
<circle cx="656.6" cy="146.2" r="1.2" fill="#f4481e" stroke="#5e1408" stroke-width="0.5"/>
<circle cx="656.6" cy="152.8" r="1.2" fill="#f4481e" stroke="#5e1408" stroke-width="0.5"/>
<circle cx="672.4" cy="143.5" r="1.05" fill="#e9a86a" stroke="#4e3416" stroke-width="0.5"/>
<circle cx="672.4" cy="148.0" r="1.05" fill="#e9a86a" stroke="#4e3416" stroke-width="0.5"/>
<circle cx="668.9" cy="149.4" r="1.05" fill="#e9a86a" stroke="#4e3416" stroke-width="0.5"/>
<circle cx="675.9" cy="149.4" r="1.05" fill="#e9a86a" stroke="#4e3416" stroke-width="0.5"/>
<text x="640.60" y="185.00" font-size="4.7" fill="#333" text-anchor="middle">No</text>
<text x="656.60" y="185.00" font-size="4.7" fill="#333" text-anchor="middle">Atropine</text>
<text x="672.40" y="185.00" font-size="4.7" fill="#333" text-anchor="middle">No</text>
<text x="640.60" y="190.40" font-size="4.7" fill="#333" text-anchor="middle" textLength="20.60" lengthAdjust="spacingAndGlyphs">treatment</text>
<text x="672.40" y="190.40" font-size="4.7" fill="#333" text-anchor="middle" textLength="20.60" lengthAdjust="spacingAndGlyphs">treatment</text>
<text x="645.60" y="197.60" font-size="6.4" fill="#333" text-anchor="middle">Cre<tspan font-size="4" dy="-2.2">+</tspan></text>
<text x="672.80" y="197.60" font-size="6.4" fill="#333" text-anchor="middle">Cre<tspan font-size="4" dy="-2.2">−</tspan></text>
<line x1="317.00" y1="218.70" x2="317.00" y2="273.20" stroke="#333" stroke-width="0.6"/>
<line x1="316.70" y1="273.20" x2="369.00" y2="273.20" stroke="#333" stroke-width="0.6"/>
<line x1="313.80" y1="219.00" x2="317.00" y2="219.00" stroke="#333" stroke-width="0.6"/>
<text x="310.80" y="221.70" font-size="7.6" fill="#111" text-anchor="end" stroke="#111" stroke-width="0.06" textLength="12.90" lengthAdjust="spacingAndGlyphs">200</text>
<line x1="313.80" y1="229.80" x2="317.00" y2="229.80" stroke="#333" stroke-width="0.6"/>
<text x="310.80" y="232.50" font-size="7.6" fill="#111" text-anchor="end" stroke="#111" stroke-width="0.06" textLength="12.90" lengthAdjust="spacingAndGlyphs">150</text>
<line x1="313.80" y1="240.60" x2="317.00" y2="240.60" stroke="#333" stroke-width="0.6"/>
<text x="310.80" y="243.30" font-size="7.6" fill="#111" text-anchor="end" stroke="#111" stroke-width="0.06" textLength="12.90" lengthAdjust="spacingAndGlyphs">100</text>
<line x1="313.80" y1="251.40" x2="317.00" y2="251.40" stroke="#333" stroke-width="0.6"/>
<text x="310.80" y="254.10" font-size="7.6" fill="#111" text-anchor="end" stroke="#111" stroke-width="0.06" textLength="8.60" lengthAdjust="spacingAndGlyphs">50</text>
<line x1="313.80" y1="262.20" x2="317.00" y2="262.20" stroke="#333" stroke-width="0.6"/>
<text x="310.80" y="264.90" font-size="7.6" fill="#111" text-anchor="end" stroke="#111" stroke-width="0.06" textLength="4.30" lengthAdjust="spacingAndGlyphs">0</text>
<line x1="313.80" y1="273.20" x2="317.00" y2="273.20" stroke="#333" stroke-width="0.6"/>
<text x="310.80" y="275.90" font-size="7.6" fill="#111" text-anchor="end" stroke="#111" stroke-width="0.06" textLength="11.30" lengthAdjust="spacingAndGlyphs">−50</text>
<line x1="327.60" y1="273.20" x2="327.60" y2="274.80" stroke="#333" stroke-width="0.6"/>
<line x1="343.30" y1="273.20" x2="343.30" y2="274.80" stroke="#333" stroke-width="0.6"/>
<line x1="358.50" y1="273.20" x2="358.50" y2="274.80" stroke="#333" stroke-width="0.6"/>
<text x="288.80" y="247.00" font-size="8.4" fill="#111" text-anchor="middle" stroke="#111" stroke-width="0.06" textLength="58.00" lengthAdjust="spacingAndGlyphs" transform="rotate(-90 288.80 247.00)">Δ RespHRV (%)</text>
<line x1="317.00" y1="262.20" x2="369.00" y2="262.20" stroke="#555" stroke-width="0.8" stroke-dasharray="3.6 1.8"/>
<polygon points="325.5,222.4 325.1,223.9 324.8,225.5 324.6,227.0 324.6,228.5 324.8,230.0 325.1,231.5 325.6,233.1 326.0,234.6 326.4,236.1 326.8,237.6 326.9,239.2 327.0,240.7 326.8,242.2 326.5,243.7 326.1,245.2 325.5,246.8 324.9,248.3 324.4,249.8 323.9,251.3 323.6,252.9 323.6,254.4 323.8,255.9 324.3,257.4 324.9,258.9 330.3,258.9 330.9,257.4 331.4,255.9 331.6,254.4 331.6,252.9 331.3,251.3 330.8,249.8 330.3,248.3 329.7,246.8 329.1,245.2 328.7,243.7 328.4,242.2 328.2,240.7 328.3,239.2 328.4,237.6 328.8,236.1 329.2,234.6 329.6,233.1 330.1,231.5 330.4,230.0 330.6,228.5 330.6,227.0 330.4,225.5 330.1,223.9 329.7,222.4" fill="#c2c2c2" opacity="0.95"/>
<polygon points="342.4,258.2 342.2,258.6 341.9,259.0 341.7,259.3 341.4,259.7 341.1,260.1 340.8,260.5 340.6,260.9 340.4,261.3 340.2,261.6 340.1,262.0 340.1,262.4 340.1,262.8 340.2,263.2 340.4,263.6 340.6,263.9 340.8,264.3 341.0,264.7 341.3,265.1 341.5,265.5 341.8,265.9 342.0,266.2 342.3,266.6 342.5,267.0 342.6,267.4 344.0,267.4 344.1,267.0 344.3,266.6 344.6,266.2 344.8,265.9 345.1,265.5 345.3,265.1 345.6,264.7 345.8,264.3 346.0,263.9 346.2,263.6 346.4,263.2 346.5,262.8 346.5,262.4 346.5,262.0 346.4,261.6 346.2,261.3 346.0,260.9 345.8,260.5 345.5,260.1 345.2,259.7 344.9,259.3 344.7,259.0 344.4,258.6 344.2,258.2" fill="#c2c2c2" opacity="0.95"/>
<polygon points="357.7,257.6 357.5,257.9 357.4,258.2 357.2,258.5 357.0,258.8 356.9,259.1 356.7,259.4 356.5,259.6 356.3,259.9 356.1,260.2 355.9,260.5 355.8,260.8 355.7,261.1 355.6,261.4 355.5,261.7 355.5,262.0 355.5,262.3 355.6,262.6 355.7,262.9 355.8,263.1 356.0,263.4 356.2,263.7 356.4,264.0 356.6,264.3 356.9,264.6 360.1,264.6 360.4,264.3 360.6,264.0 360.8,263.7 361.0,263.4 361.2,263.1 361.3,262.9 361.4,262.6 361.5,262.3 361.5,262.0 361.5,261.7 361.4,261.4 361.3,261.1 361.2,260.8 361.1,260.5 360.9,260.2 360.7,259.9 360.5,259.6 360.3,259.4 360.1,259.1 360.0,258.8 359.8,258.5 359.6,258.2 359.5,257.9 359.3,257.6" fill="#c2c2c2" opacity="0.95"/>
<line x1="327.60" y1="224.42" x2="343.30" y2="260.19" stroke="#111" stroke-width="0.6"/>
<line x1="327.60" y1="227.67" x2="343.30" y2="261.28" stroke="#111" stroke-width="0.6"/>
<line x1="327.60" y1="230.92" x2="343.30" y2="261.93" stroke="#111" stroke-width="0.6"/>
<line x1="327.60" y1="249.35" x2="343.30" y2="262.36" stroke="#111" stroke-width="0.6"/>
<line x1="327.60" y1="253.25" x2="343.30" y2="263.01" stroke="#111" stroke-width="0.6"/>
<line x1="327.60" y1="254.77" x2="343.30" y2="263.66" stroke="#111" stroke-width="0.6"/>
<line x1="327.60" y1="256.94" x2="343.30" y2="265.40" stroke="#111" stroke-width="0.6"/>
<circle cx="327.6" cy="224.4" r="1.2" fill="#f4481e" stroke="#5e1408" stroke-width="0.5"/>
<circle cx="327.6" cy="227.7" r="1.2" fill="#f4481e" stroke="#5e1408" stroke-width="0.5"/>
<circle cx="327.6" cy="230.9" r="1.2" fill="#f4481e" stroke="#5e1408" stroke-width="0.5"/>
<circle cx="327.6" cy="249.4" r="1.2" fill="#f4481e" stroke="#5e1408" stroke-width="0.5"/>
<circle cx="327.6" cy="253.3" r="1.2" fill="#f4481e" stroke="#5e1408" stroke-width="0.5"/>
<circle cx="327.6" cy="254.8" r="1.2" fill="#f4481e" stroke="#5e1408" stroke-width="0.5"/>
<circle cx="327.6" cy="256.9" r="1.2" fill="#f4481e" stroke="#5e1408" stroke-width="0.5"/>
<circle cx="343.3" cy="260.2" r="1.2" fill="#f4481e" stroke="#5e1408" stroke-width="0.5"/>
<circle cx="343.3" cy="261.3" r="1.2" fill="#f4481e" stroke="#5e1408" stroke-width="0.5"/>
<circle cx="343.3" cy="261.9" r="1.2" fill="#f4481e" stroke="#5e1408" stroke-width="0.5"/>
<circle cx="343.3" cy="262.4" r="1.2" fill="#f4481e" stroke="#5e1408" stroke-width="0.5"/>
<circle cx="343.3" cy="263.0" r="1.2" fill="#f4481e" stroke="#5e1408" stroke-width="0.5"/>
<circle cx="343.3" cy="263.7" r="1.2" fill="#f4481e" stroke="#5e1408" stroke-width="0.5"/>
<circle cx="343.3" cy="265.4" r="1.2" fill="#f4481e" stroke="#5e1408" stroke-width="0.5"/>
<circle cx="358.2" cy="259.6" r="1.05" fill="#e9a86a" stroke="#4e3416" stroke-width="0.5"/>
<circle cx="355.7" cy="262.6" r="1.05" fill="#e9a86a" stroke="#4e3416" stroke-width="0.5"/>
<circle cx="358.4" cy="262.2" r="1.05" fill="#e9a86a" stroke="#4e3416" stroke-width="0.5"/>
<circle cx="361.3" cy="262.4" r="1.05" fill="#e9a86a" stroke="#4e3416" stroke-width="0.5"/>
<text x="333.40" y="214.20" font-size="4.6" fill="#333" text-anchor="middle" textLength="23.80" lengthAdjust="spacingAndGlyphs"><tspan font-style="italic">P</tspan> = 0.0158</text>
<path d="M327.2 216.8V216.0H343.8V216.8" stroke="#333" stroke-width="0.6" fill="none" />
<text x="318.00" y="220.90" font-size="4.6" fill="#333" textLength="23.80" lengthAdjust="spacingAndGlyphs"><tspan font-style="italic">P</tspan> = 0.0046</text>
<text x="344.60" y="271.40" font-size="4.6" fill="#333" text-anchor="middle" textLength="23.80" lengthAdjust="spacingAndGlyphs"><tspan font-style="italic">P</tspan> = 0.0020</text>
<text x="327.60" y="282.30" font-size="4.7" fill="#333" text-anchor="middle">No</text>
<text x="343.30" y="282.30" font-size="4.7" fill="#333" text-anchor="middle">Atropine</text>
<text x="358.50" y="282.30" font-size="4.7" fill="#333" text-anchor="middle">No</text>
<text x="327.60" y="287.70" font-size="4.7" fill="#333" text-anchor="middle" textLength="20.60" lengthAdjust="spacingAndGlyphs">treatment</text>
<text x="358.50" y="287.70" font-size="4.7" fill="#333" text-anchor="middle" textLength="20.60" lengthAdjust="spacingAndGlyphs">treatment</text>
<text x="332.45" y="294.90" font-size="6.4" fill="#333" text-anchor="middle">Cre<tspan font-size="4" dy="-2.2">+</tspan></text>
<text x="358.90" y="294.90" font-size="6.4" fill="#333" text-anchor="middle">Cre<tspan font-size="4" dy="-2.2">−</tspan></text>
<path d="M327.4 267.2V268H358.6V267.2" stroke="#333" stroke-width="0.45" fill="none" />
<line x1="414.60" y1="218.40" x2="414.60" y2="273.20" stroke="#333" stroke-width="0.6"/>
<line x1="414.30" y1="273.20" x2="466.00" y2="273.20" stroke="#333" stroke-width="0.6"/>
<line x1="411.40" y1="218.70" x2="414.60" y2="218.70" stroke="#333" stroke-width="0.6"/>
<text x="408.40" y="221.40" font-size="7.6" fill="#111" text-anchor="end" stroke="#111" stroke-width="0.06" textLength="4.30" lengthAdjust="spacingAndGlyphs">5</text>
<line x1="411.40" y1="227.80" x2="414.60" y2="227.80" stroke="#333" stroke-width="0.6"/>
<text x="408.40" y="230.50" font-size="7.6" fill="#111" text-anchor="end" stroke="#111" stroke-width="0.06" textLength="4.30" lengthAdjust="spacingAndGlyphs">0</text>
<line x1="411.40" y1="236.90" x2="414.60" y2="236.90" stroke="#333" stroke-width="0.6"/>
<text x="408.40" y="239.60" font-size="7.6" fill="#111" text-anchor="end" stroke="#111" stroke-width="0.06" textLength="7.00" lengthAdjust="spacingAndGlyphs">−5</text>
<line x1="411.40" y1="246.00" x2="414.60" y2="246.00" stroke="#333" stroke-width="0.6"/>
<text x="408.40" y="248.70" font-size="7.6" fill="#111" text-anchor="end" stroke="#111" stroke-width="0.06" textLength="11.30" lengthAdjust="spacingAndGlyphs">−10</text>
<line x1="411.40" y1="255.00" x2="414.60" y2="255.00" stroke="#333" stroke-width="0.6"/>
<text x="408.40" y="257.70" font-size="7.6" fill="#111" text-anchor="end" stroke="#111" stroke-width="0.06" textLength="11.30" lengthAdjust="spacingAndGlyphs">−15</text>
<line x1="411.40" y1="264.10" x2="414.60" y2="264.10" stroke="#333" stroke-width="0.6"/>
<text x="408.40" y="266.80" font-size="7.6" fill="#111" text-anchor="end" stroke="#111" stroke-width="0.06" textLength="11.30" lengthAdjust="spacingAndGlyphs">−20</text>
<line x1="411.40" y1="273.20" x2="414.60" y2="273.20" stroke="#333" stroke-width="0.6"/>
<text x="408.40" y="275.90" font-size="7.6" fill="#111" text-anchor="end" stroke="#111" stroke-width="0.06" textLength="11.30" lengthAdjust="spacingAndGlyphs">−25</text>
<line x1="424.60" y1="273.20" x2="424.60" y2="274.80" stroke="#333" stroke-width="0.6"/>
<line x1="440.00" y1="273.20" x2="440.00" y2="274.80" stroke="#333" stroke-width="0.6"/>
<line x1="455.80" y1="273.20" x2="455.80" y2="274.80" stroke="#333" stroke-width="0.6"/>
<text x="392.60" y="245.00" font-size="8.4" fill="#111" text-anchor="middle" stroke="#111" stroke-width="0.06" textLength="53.00" lengthAdjust="spacingAndGlyphs" transform="rotate(-90 392.60 245.00)">Δ mHR (bpm)</text>
<line x1="414.60" y1="227.80" x2="466.00" y2="227.80" stroke="#555" stroke-width="0.8" stroke-dasharray="3.6 1.8"/>
<polygon points="422.5,229.4 421.9,231.0 421.4,232.6 421.0,234.2 420.7,235.8 420.6,237.4 420.6,239.0 420.8,240.7 421.1,242.3 421.5,243.9 421.9,245.5 422.3,247.1 422.7,248.7 423.1,250.3 423.5,251.9 423.7,253.5 423.9,255.1 424.1,256.7 424.1,258.3 424.0,259.9 423.9,261.5 423.8,263.1 423.8,264.7 423.8,266.3 423.8,267.9 425.4,267.9 425.4,266.3 425.4,264.7 425.4,263.1 425.3,261.5 425.2,259.9 425.1,258.3 425.1,256.7 425.3,255.1 425.5,253.5 425.7,251.9 426.1,250.3 426.5,248.7 426.9,247.1 427.3,245.5 427.7,243.9 428.1,242.3 428.4,240.7 428.6,239.0 428.6,237.4 428.5,235.8 428.2,234.2 427.8,232.6 427.3,231.0 426.7,229.4" fill="#c2c2c2" opacity="0.95"/>
<polygon points="438.9,224.1 438.7,224.5 438.4,224.8 438.2,225.1 437.9,225.4 437.7,225.7 437.5,226.0 437.3,226.3 437.1,226.6 437.0,226.9 436.9,227.2 436.8,227.5 436.8,227.8 436.8,228.1 436.9,228.4 437.1,228.7 437.2,229.0 437.4,229.3 437.6,229.6 437.9,229.9 438.1,230.2 438.3,230.5 438.6,230.8 438.8,231.1 439.0,231.4 441.0,231.4 441.2,231.1 441.4,230.8 441.7,230.5 441.9,230.2 442.1,229.9 442.4,229.6 442.6,229.3 442.8,229.0 442.9,228.7 443.1,228.4 443.2,228.1 443.2,227.8 443.2,227.5 443.1,227.2 443.0,226.9 442.9,226.6 442.7,226.3 442.5,226.0 442.3,225.7 442.1,225.4 441.8,225.1 441.6,224.8 441.3,224.5 441.1,224.1" fill="#c2c2c2" opacity="0.95"/>
<polygon points="454.1,225.0 453.9,225.2 453.7,225.4 453.6,225.6 453.4,225.8 453.3,226.0 453.2,226.2 453.1,226.3 453.0,226.5 452.9,226.7 452.8,226.9 452.8,227.1 452.8,227.3 452.8,227.5 452.8,227.7 452.9,227.9 453.0,228.1 453.1,228.3 453.2,228.4 453.3,228.6 453.4,228.8 453.6,229.0 453.7,229.2 453.9,229.4 454.1,229.6 457.5,229.6 457.7,229.4 457.9,229.2 458.0,229.0 458.2,228.8 458.3,228.6 458.4,228.4 458.5,228.3 458.6,228.1 458.7,227.9 458.8,227.7 458.8,227.5 458.8,227.3 458.8,227.1 458.8,226.9 458.7,226.7 458.6,226.5 458.5,226.3 458.4,226.2 458.3,226.0 458.2,225.8 458.0,225.6 457.9,225.4 457.7,225.2 457.5,225.0" fill="#c2c2c2" opacity="0.95"/>
<line x1="424.60" y1="231.42" x2="440.00" y2="226.15" stroke="#111" stroke-width="0.6"/>
<line x1="424.60" y1="233.78" x2="440.00" y2="226.69" stroke="#111" stroke-width="0.6"/>
<line x1="424.60" y1="236.14" x2="440.00" y2="227.24" stroke="#111" stroke-width="0.6"/>
<line x1="424.60" y1="238.32" x2="440.00" y2="227.78" stroke="#111" stroke-width="0.6"/>
<line x1="424.60" y1="240.50" x2="440.00" y2="228.33" stroke="#111" stroke-width="0.6"/>
<line x1="424.60" y1="243.41" x2="440.00" y2="227.06" stroke="#111" stroke-width="0.6"/>
<line x1="424.60" y1="248.67" x2="440.00" y2="228.87" stroke="#111" stroke-width="0.6"/>
<line x1="424.60" y1="265.93" x2="440.00" y2="229.42" stroke="#111" stroke-width="0.6"/>
<circle cx="424.6" cy="231.4" r="1.2" fill="#f4481e" stroke="#5e1408" stroke-width="0.5"/>
<circle cx="424.6" cy="233.8" r="1.2" fill="#f4481e" stroke="#5e1408" stroke-width="0.5"/>
<circle cx="424.6" cy="236.1" r="1.2" fill="#f4481e" stroke="#5e1408" stroke-width="0.5"/>
<circle cx="424.6" cy="238.3" r="1.2" fill="#f4481e" stroke="#5e1408" stroke-width="0.5"/>
<circle cx="424.6" cy="240.5" r="1.2" fill="#f4481e" stroke="#5e1408" stroke-width="0.5"/>
<circle cx="424.6" cy="243.4" r="1.2" fill="#f4481e" stroke="#5e1408" stroke-width="0.5"/>
<circle cx="424.6" cy="248.7" r="1.2" fill="#f4481e" stroke="#5e1408" stroke-width="0.5"/>
<circle cx="424.6" cy="265.9" r="1.2" fill="#f4481e" stroke="#5e1408" stroke-width="0.5"/>
<circle cx="440.0" cy="226.1" r="1.2" fill="#f4481e" stroke="#5e1408" stroke-width="0.5"/>
<circle cx="440.0" cy="226.7" r="1.2" fill="#f4481e" stroke="#5e1408" stroke-width="0.5"/>
<circle cx="440.0" cy="227.2" r="1.2" fill="#f4481e" stroke="#5e1408" stroke-width="0.5"/>
<circle cx="440.0" cy="227.8" r="1.2" fill="#f4481e" stroke="#5e1408" stroke-width="0.5"/>
<circle cx="440.0" cy="228.3" r="1.2" fill="#f4481e" stroke="#5e1408" stroke-width="0.5"/>
<circle cx="440.0" cy="227.1" r="1.2" fill="#f4481e" stroke="#5e1408" stroke-width="0.5"/>
<circle cx="440.0" cy="228.9" r="1.2" fill="#f4481e" stroke="#5e1408" stroke-width="0.5"/>
<circle cx="440.0" cy="229.4" r="1.2" fill="#f4481e" stroke="#5e1408" stroke-width="0.5"/>
<circle cx="451.3" cy="227.0" r="1.05" fill="#e9a86a" stroke="#4e3416" stroke-width="0.5"/>
<circle cx="454.2" cy="227.4" r="1.05" fill="#e9a86a" stroke="#4e3416" stroke-width="0.5"/>
<circle cx="457.2" cy="227.2" r="1.05" fill="#e9a86a" stroke="#4e3416" stroke-width="0.5"/>
<circle cx="460.0" cy="227.6" r="1.05" fill="#e9a86a" stroke="#4e3416" stroke-width="0.5"/>
<text x="440.40" y="212.80" font-size="4.6" fill="#333" text-anchor="middle" textLength="23.80" lengthAdjust="spacingAndGlyphs"><tspan font-style="italic">P</tspan> = 0.0020</text>
<path d="M424.4 215.6V214.8H456.0V215.6" stroke="#333" stroke-width="0.6" fill="none" />
<text x="433.00" y="220.40" font-size="4.6" fill="#333" text-anchor="middle" textLength="23.80" lengthAdjust="spacingAndGlyphs"><tspan font-style="italic">P</tspan> = 0.0147</text>
<path d="M424.4 223.2V222.4H440.2V223.2" stroke="#333" stroke-width="0.6" fill="none" />
<text x="415.00" y="271.00" font-size="4.6" fill="#333" textLength="23.80" lengthAdjust="spacingAndGlyphs"><tspan font-style="italic">P</tspan> = 0.0002</text>
<text x="424.60" y="282.30" font-size="4.7" fill="#333" text-anchor="middle">No</text>
<text x="440.00" y="282.30" font-size="4.7" fill="#333" text-anchor="middle">Atropine</text>
<text x="455.80" y="282.30" font-size="4.7" fill="#333" text-anchor="middle">No</text>
<text x="424.60" y="287.70" font-size="4.7" fill="#333" text-anchor="middle" textLength="20.60" lengthAdjust="spacingAndGlyphs">treatment</text>
<text x="455.80" y="287.70" font-size="4.7" fill="#333" text-anchor="middle" textLength="20.60" lengthAdjust="spacingAndGlyphs">treatment</text>
<text x="429.30" y="294.90" font-size="6.4" fill="#333" text-anchor="middle">Cre<tspan font-size="4" dy="-2.2">+</tspan></text>
<text x="456.20" y="294.90" font-size="6.4" fill="#333" text-anchor="middle">Cre<tspan font-size="4" dy="-2.2">−</tspan></text>
<line x1="520.60" y1="218.70" x2="520.60" y2="273.20" stroke="#333" stroke-width="0.6"/>
<line x1="520.30" y1="273.20" x2="573.00" y2="273.20" stroke="#333" stroke-width="0.6"/>
<line x1="517.40" y1="219.00" x2="520.60" y2="219.00" stroke="#333" stroke-width="0.6"/>
<text x="514.40" y="221.70" font-size="7.6" fill="#111" text-anchor="end" stroke="#111" stroke-width="0.06" textLength="8.60" lengthAdjust="spacingAndGlyphs">10</text>
<line x1="517.40" y1="232.60" x2="520.60" y2="232.60" stroke="#333" stroke-width="0.6"/>
<text x="514.40" y="235.30" font-size="7.6" fill="#111" text-anchor="end" stroke="#111" stroke-width="0.06" textLength="4.30" lengthAdjust="spacingAndGlyphs">0</text>
<line x1="517.40" y1="246.10" x2="520.60" y2="246.10" stroke="#333" stroke-width="0.6"/>
<text x="514.40" y="248.80" font-size="7.6" fill="#111" text-anchor="end" stroke="#111" stroke-width="0.06" textLength="11.30" lengthAdjust="spacingAndGlyphs">−10</text>
<line x1="517.40" y1="259.60" x2="520.60" y2="259.60" stroke="#333" stroke-width="0.6"/>
<text x="514.40" y="262.30" font-size="7.6" fill="#111" text-anchor="end" stroke="#111" stroke-width="0.06" textLength="11.30" lengthAdjust="spacingAndGlyphs">−20</text>
<line x1="517.40" y1="273.20" x2="520.60" y2="273.20" stroke="#333" stroke-width="0.6"/>
<text x="514.40" y="275.90" font-size="7.6" fill="#111" text-anchor="end" stroke="#111" stroke-width="0.06" textLength="11.30" lengthAdjust="spacingAndGlyphs">−30</text>
<line x1="531.60" y1="273.20" x2="531.60" y2="274.80" stroke="#333" stroke-width="0.6"/>
<line x1="547.60" y1="273.20" x2="547.60" y2="274.80" stroke="#333" stroke-width="0.6"/>
<line x1="562.70" y1="273.20" x2="562.70" y2="274.80" stroke="#333" stroke-width="0.6"/>
<text x="488.00" y="245.00" font-size="8.4" fill="#111" text-anchor="middle" stroke="#111" stroke-width="0.06" textLength="53.50" lengthAdjust="spacingAndGlyphs" transform="rotate(-90 488.00 245.00)">Δ Respiratory</text>
<text x="498.40" y="245.00" font-size="8.4" fill="#111" text-anchor="middle" stroke="#111" stroke-width="0.06" textLength="33.30" lengthAdjust="spacingAndGlyphs" transform="rotate(-90 498.40 245.00)">freq (%)</text>
<line x1="520.60" y1="232.60" x2="573.00" y2="232.60" stroke="#555" stroke-width="0.8" stroke-dasharray="3.6 1.8"/>
<polygon points="530.3,236.0 530.0,237.1 529.7,238.3 529.4,239.4 529.1,240.6 528.8,241.7 528.5,242.9 528.3,244.1 528.2,245.2 528.1,246.4 528.2,247.5 528.3,248.7 528.5,249.8 528.6,251.0 528.6,252.1 528.5,253.3 528.3,254.4 528.0,255.6 527.8,256.8 527.6,257.9 527.6,259.1 527.8,260.2 528.1,261.4 528.7,262.5 529.3,263.7 533.9,263.7 534.5,262.5 535.1,261.4 535.4,260.2 535.6,259.1 535.6,257.9 535.4,256.8 535.2,255.6 534.9,254.4 534.7,253.3 534.6,252.1 534.6,251.0 534.7,249.8 534.9,248.7 535.0,247.5 535.1,246.4 535.0,245.2 534.9,244.1 534.7,242.9 534.4,241.7 534.1,240.6 533.8,239.4 533.5,238.3 533.2,237.1 532.9,236.0" fill="#c2c2c2" opacity="0.95"/>
<polygon points="547.0,231.9 546.8,232.8 546.5,233.6 546.2,234.5 545.8,235.4 545.4,236.3 545.0,237.1 544.6,238.0 544.4,238.9 544.4,239.8 544.6,240.6 544.9,241.5 545.4,242.4 545.9,243.2 546.4,244.1 546.7,245.0 547.0,245.9 547.1,246.7 547.1,247.6 547.1,248.5 547.1,249.4 547.0,250.2 547.0,251.1 547.1,252.0 547.2,252.8 548.0,252.8 548.1,252.0 548.2,251.1 548.2,250.2 548.1,249.4 548.1,248.5 548.1,247.6 548.1,246.7 548.2,245.9 548.5,245.0 548.8,244.1 549.3,243.2 549.8,242.4 550.3,241.5 550.6,240.6 550.8,239.8 550.8,238.9 550.6,238.0 550.2,237.1 549.8,236.3 549.4,235.4 549.0,234.5 548.7,233.6 548.4,232.8 548.2,231.9" fill="#c2c2c2" opacity="0.95"/>
<polygon points="561.7,224.8 561.5,225.3 561.2,225.8 560.9,226.4 560.6,226.9 560.4,227.4 560.2,227.9 560.0,228.4 559.9,228.9 559.8,229.4 559.7,230.0 559.7,230.5 559.7,231.0 559.7,231.5 559.7,232.0 559.8,232.6 559.9,233.1 560.0,233.6 560.2,234.1 560.4,234.6 560.6,235.1 560.9,235.6 561.2,236.2 561.5,236.7 561.7,237.2 563.7,237.2 563.9,236.7 564.2,236.2 564.5,235.6 564.8,235.1 565.0,234.6 565.2,234.1 565.4,233.6 565.5,233.1 565.6,232.6 565.7,232.0 565.7,231.5 565.7,231.0 565.7,230.5 565.7,230.0 565.6,229.4 565.5,228.9 565.4,228.4 565.2,227.9 565.0,227.4 564.8,226.9 564.5,226.4 564.2,225.8 563.9,225.3 563.7,224.8" fill="#c2c2c2" opacity="0.95"/>
<line x1="531.60" y1="237.97" x2="547.60" y2="233.91" stroke="#111" stroke-width="0.6"/>
<line x1="531.60" y1="243.39" x2="547.60" y2="237.97" stroke="#111" stroke-width="0.6"/>
<line x1="531.60" y1="246.10" x2="547.60" y2="239.32" stroke="#111" stroke-width="0.6"/>
<line x1="531.60" y1="248.81" x2="547.60" y2="240.68" stroke="#111" stroke-width="0.6"/>
<line x1="531.60" y1="254.23" x2="547.60" y2="238.65" stroke="#111" stroke-width="0.6"/>
<line x1="531.60" y1="258.30" x2="547.60" y2="240.00" stroke="#111" stroke-width="0.6"/>
<line x1="531.60" y1="259.65" x2="547.60" y2="250.84" stroke="#111" stroke-width="0.6"/>
<line x1="531.60" y1="261.68" x2="547.60" y2="241.36" stroke="#111" stroke-width="0.6"/>
<circle cx="531.6" cy="238.0" r="1.2" fill="#f4481e" stroke="#5e1408" stroke-width="0.5"/>
<circle cx="531.6" cy="243.4" r="1.2" fill="#f4481e" stroke="#5e1408" stroke-width="0.5"/>
<circle cx="531.6" cy="246.1" r="1.2" fill="#f4481e" stroke="#5e1408" stroke-width="0.5"/>
<circle cx="531.6" cy="248.8" r="1.2" fill="#f4481e" stroke="#5e1408" stroke-width="0.5"/>
<circle cx="531.6" cy="254.2" r="1.2" fill="#f4481e" stroke="#5e1408" stroke-width="0.5"/>
<circle cx="531.6" cy="258.3" r="1.2" fill="#f4481e" stroke="#5e1408" stroke-width="0.5"/>
<circle cx="531.6" cy="259.6" r="1.2" fill="#f4481e" stroke="#5e1408" stroke-width="0.5"/>
<circle cx="531.6" cy="261.7" r="1.2" fill="#f4481e" stroke="#5e1408" stroke-width="0.5"/>
<circle cx="547.6" cy="233.9" r="1.2" fill="#f4481e" stroke="#5e1408" stroke-width="0.5"/>
<circle cx="547.6" cy="238.0" r="1.2" fill="#f4481e" stroke="#5e1408" stroke-width="0.5"/>
<circle cx="547.6" cy="239.3" r="1.2" fill="#f4481e" stroke="#5e1408" stroke-width="0.5"/>
<circle cx="547.6" cy="240.7" r="1.2" fill="#f4481e" stroke="#5e1408" stroke-width="0.5"/>
<circle cx="547.6" cy="238.6" r="1.2" fill="#f4481e" stroke="#5e1408" stroke-width="0.5"/>
<circle cx="547.6" cy="240.0" r="1.2" fill="#f4481e" stroke="#5e1408" stroke-width="0.5"/>
<circle cx="547.6" cy="250.8" r="1.2" fill="#f4481e" stroke="#5e1408" stroke-width="0.5"/>
<circle cx="547.6" cy="241.4" r="1.2" fill="#f4481e" stroke="#5e1408" stroke-width="0.5"/>
<circle cx="562.7" cy="226.8" r="1.05" fill="#e9a86a" stroke="#4e3416" stroke-width="0.5"/>
<circle cx="562.7" cy="229.0" r="1.05" fill="#e9a86a" stroke="#4e3416" stroke-width="0.5"/>
<circle cx="562.7" cy="231.0" r="1.05" fill="#e9a86a" stroke="#4e3416" stroke-width="0.5"/>
<circle cx="562.7" cy="233.0" r="1.05" fill="#e9a86a" stroke="#4e3416" stroke-width="0.5"/>
<circle cx="562.7" cy="235.2" r="1.05" fill="#e9a86a" stroke="#4e3416" stroke-width="0.5"/>
<text x="547.40" y="220.20" font-size="4.6" fill="#333" text-anchor="middle" textLength="23.80" lengthAdjust="spacingAndGlyphs"><tspan font-style="italic">P</tspan> = 0.0036</text>
<path d="M531.2 222.9V222.1H562.8V222.9" stroke="#333" stroke-width="0.6" fill="none" />
<text x="541.00" y="227.90" font-size="4.6" fill="#333" text-anchor="middle" textLength="23.80" lengthAdjust="spacingAndGlyphs"><tspan font-style="italic">P</tspan> = 0.0174</text>
<path d="M531.2 230.6V229.8H547.8V230.6" stroke="#333" stroke-width="0.6" fill="none" />
<text x="537.60" y="258.40" font-size="4.6" fill="#333" textLength="23.80" lengthAdjust="spacingAndGlyphs"><tspan font-style="italic">P</tspan> = 0.0062</text>
<text x="522.20" y="266.80" font-size="4.6" fill="#333" textLength="23.80" lengthAdjust="spacingAndGlyphs"><tspan font-style="italic">P</tspan> = 0.0001</text>
<text x="531.60" y="282.30" font-size="4.7" fill="#333" text-anchor="middle">No</text>
<text x="547.60" y="282.30" font-size="4.7" fill="#333" text-anchor="middle">Atropine</text>
<text x="562.70" y="282.30" font-size="4.7" fill="#333" text-anchor="middle">No</text>
<text x="531.60" y="287.70" font-size="4.7" fill="#333" text-anchor="middle" textLength="20.60" lengthAdjust="spacingAndGlyphs">treatment</text>
<text x="562.70" y="287.70" font-size="4.7" fill="#333" text-anchor="middle" textLength="20.60" lengthAdjust="spacingAndGlyphs">treatment</text>
<text x="536.60" y="294.90" font-size="6.4" fill="#333" text-anchor="middle">Cre<tspan font-size="4" dy="-2.2">+</tspan></text>
<text x="563.10" y="294.90" font-size="6.4" fill="#333" text-anchor="middle">Cre<tspan font-size="4" dy="-2.2">−</tspan></text>
<line x1="629.60" y1="218.70" x2="629.60" y2="273.20" stroke="#333" stroke-width="0.6"/>
<line x1="629.30" y1="273.20" x2="683.00" y2="273.20" stroke="#333" stroke-width="0.6"/>
<line x1="626.40" y1="219.00" x2="629.60" y2="219.00" stroke="#333" stroke-width="0.6"/>
<text x="623.40" y="221.70" font-size="7.6" fill="#111" text-anchor="end" stroke="#111" stroke-width="0.06" textLength="8.60" lengthAdjust="spacingAndGlyphs">20</text>
<line x1="626.40" y1="232.60" x2="629.60" y2="232.60" stroke="#333" stroke-width="0.6"/>
<text x="623.40" y="235.30" font-size="7.6" fill="#111" text-anchor="end" stroke="#111" stroke-width="0.06" textLength="8.60" lengthAdjust="spacingAndGlyphs">10</text>
<line x1="626.40" y1="246.10" x2="629.60" y2="246.10" stroke="#333" stroke-width="0.6"/>
<text x="623.40" y="248.80" font-size="7.6" fill="#111" text-anchor="end" stroke="#111" stroke-width="0.06" textLength="4.30" lengthAdjust="spacingAndGlyphs">0</text>
<line x1="626.40" y1="259.60" x2="629.60" y2="259.60" stroke="#333" stroke-width="0.6"/>
<text x="623.40" y="262.30" font-size="7.6" fill="#111" text-anchor="end" stroke="#111" stroke-width="0.06" textLength="11.30" lengthAdjust="spacingAndGlyphs">−10</text>
<line x1="626.40" y1="273.20" x2="629.60" y2="273.20" stroke="#333" stroke-width="0.6"/>
<text x="623.40" y="275.90" font-size="7.6" fill="#111" text-anchor="end" stroke="#111" stroke-width="0.06" textLength="11.30" lengthAdjust="spacingAndGlyphs">−20</text>
<line x1="640.20" y1="273.20" x2="640.20" y2="274.80" stroke="#333" stroke-width="0.6"/>
<line x1="655.60" y1="273.20" x2="655.60" y2="274.80" stroke="#333" stroke-width="0.6"/>
<line x1="671.00" y1="273.20" x2="671.00" y2="274.80" stroke="#333" stroke-width="0.6"/>
<text x="595.60" y="245.60" font-size="8.4" fill="#111" text-anchor="middle" stroke="#111" stroke-width="0.06" textLength="52.50" lengthAdjust="spacingAndGlyphs" transform="rotate(-90 595.60 245.60)">Δ Respiratory</text>
<text x="606.00" y="245.60" font-size="8.4" fill="#111" text-anchor="middle" stroke="#111" stroke-width="0.06" textLength="34.00" lengthAdjust="spacingAndGlyphs" transform="rotate(-90 606.00 245.60)">ampl (%)</text>
<line x1="629.60" y1="246.10" x2="683.00" y2="246.10" stroke="#555" stroke-width="0.8" stroke-dasharray="3.6 1.8"/>
<polygon points="638.4,229.2 637.9,230.8 637.4,232.4 637.0,233.9 636.6,235.5 636.3,237.1 636.2,238.7 636.2,240.2 636.4,241.8 636.7,243.4 637.1,245.0 637.5,246.6 637.9,248.1 638.2,249.7 638.5,251.3 638.8,252.9 639.0,254.4 639.1,256.0 639.2,257.6 639.2,259.2 639.2,260.8 639.2,262.3 639.1,263.9 639.1,265.5 639.2,267.1 641.2,267.1 641.3,265.5 641.3,263.9 641.2,262.3 641.2,260.8 641.2,259.2 641.2,257.6 641.3,256.0 641.4,254.4 641.6,252.9 641.9,251.3 642.2,249.7 642.5,248.1 642.9,246.6 643.3,245.0 643.7,243.4 644.0,241.8 644.2,240.2 644.2,238.7 644.1,237.1 643.8,235.5 643.4,233.9 643.0,232.4 642.5,230.8 642.0,229.2" fill="#c2c2c2" opacity="0.95"/>
<polygon points="654.5,236.0 654.1,236.5 653.7,237.1 653.3,237.7 652.9,238.2 652.7,238.8 652.5,239.3 652.4,239.9 652.4,240.5 652.6,241.0 652.7,241.6 653.0,242.2 653.3,242.7 653.5,243.3 653.8,243.8 654.0,244.4 654.2,245.0 654.3,245.5 654.4,246.1 654.5,246.6 654.6,247.2 654.6,247.8 654.7,248.3 654.9,248.9 655.0,249.5 656.2,249.5 656.3,248.9 656.5,248.3 656.6,247.8 656.6,247.2 656.7,246.6 656.8,246.1 656.9,245.5 657.0,245.0 657.2,244.4 657.4,243.8 657.7,243.3 657.9,242.7 658.2,242.2 658.5,241.6 658.6,241.0 658.8,240.5 658.8,239.9 658.7,239.3 658.5,238.8 658.3,238.2 657.9,237.7 657.5,237.1 657.1,236.5 656.7,236.0" fill="#c2c2c2" opacity="0.95"/>
<polygon points="669.8,238.6 669.5,239.6 669.4,240.5 669.3,241.5 669.2,242.5 669.0,243.5 668.8,244.4 668.6,245.4 668.3,246.4 668.1,247.3 668.0,248.3 668.1,249.3 668.5,250.2 668.9,251.2 669.4,252.2 669.8,253.2 670.0,254.1 670.1,255.1 670.0,256.1 669.9,257.0 669.7,258.0 669.6,259.0 669.5,260.0 669.6,260.9 669.8,261.9 672.2,261.9 672.4,260.9 672.5,260.0 672.4,259.0 672.3,258.0 672.1,257.0 672.0,256.1 671.9,255.1 672.0,254.1 672.2,253.2 672.6,252.2 673.1,251.2 673.5,250.2 673.9,249.3 674.0,248.3 673.9,247.3 673.7,246.4 673.4,245.4 673.2,244.4 673.0,243.5 672.8,242.5 672.7,241.5 672.6,240.5 672.5,239.6 672.2,238.6" fill="#c2c2c2" opacity="0.95"/>
<line x1="640.20" y1="231.19" x2="655.60" y2="241.49" stroke="#111" stroke-width="0.6"/>
<line x1="640.20" y1="236.07" x2="655.60" y2="243.12" stroke="#111" stroke-width="0.6"/>
<line x1="640.20" y1="237.97" x2="655.60" y2="239.87" stroke="#111" stroke-width="0.6"/>
<line x1="640.20" y1="241.76" x2="655.60" y2="237.97" stroke="#111" stroke-width="0.6"/>
<line x1="640.20" y1="243.12" x2="655.60" y2="239.05" stroke="#111" stroke-width="0.6"/>
<line x1="640.20" y1="251.52" x2="655.60" y2="239.87" stroke="#111" stroke-width="0.6"/>
<line x1="640.20" y1="236.07" x2="655.60" y2="247.45" stroke="#111" stroke-width="0.6"/>
<circle cx="640.2" cy="231.2" r="1.2" fill="#f4481e" stroke="#5e1408" stroke-width="0.5"/>
<circle cx="640.2" cy="236.1" r="1.2" fill="#f4481e" stroke="#5e1408" stroke-width="0.5"/>
<circle cx="640.2" cy="238.0" r="1.2" fill="#f4481e" stroke="#5e1408" stroke-width="0.5"/>
<circle cx="640.2" cy="241.8" r="1.2" fill="#f4481e" stroke="#5e1408" stroke-width="0.5"/>
<circle cx="640.2" cy="243.1" r="1.2" fill="#f4481e" stroke="#5e1408" stroke-width="0.5"/>
<circle cx="640.2" cy="251.5" r="1.2" fill="#f4481e" stroke="#5e1408" stroke-width="0.5"/>
<circle cx="640.2" cy="265.1" r="1.2" fill="#f4481e" stroke="#5e1408" stroke-width="0.5"/>
<circle cx="655.6" cy="238.0" r="1.2" fill="#f4481e" stroke="#5e1408" stroke-width="0.5"/>
<circle cx="655.6" cy="239.9" r="1.2" fill="#f4481e" stroke="#5e1408" stroke-width="0.5"/>
<circle cx="655.6" cy="241.5" r="1.2" fill="#f4481e" stroke="#5e1408" stroke-width="0.5"/>
<circle cx="655.6" cy="243.1" r="1.2" fill="#f4481e" stroke="#5e1408" stroke-width="0.5"/>
<circle cx="655.6" cy="247.5" r="1.2" fill="#f4481e" stroke="#5e1408" stroke-width="0.5"/>
<circle cx="655.6" cy="239.1" r="1.2" fill="#f4481e" stroke="#5e1408" stroke-width="0.5"/>
<circle cx="671.0" cy="240.6" r="1.05" fill="#e9a86a" stroke="#4e3416" stroke-width="0.5"/>
<circle cx="669.4" cy="248.4" r="1.05" fill="#e9a86a" stroke="#4e3416" stroke-width="0.5"/>
<circle cx="672.6" cy="248.4" r="1.05" fill="#e9a86a" stroke="#4e3416" stroke-width="0.5"/>
<circle cx="671.0" cy="259.9" r="1.05" fill="#e9a86a" stroke="#4e3416" stroke-width="0.5"/>
<text x="640.20" y="282.30" font-size="4.7" fill="#333" text-anchor="middle">No</text>
<text x="655.60" y="282.30" font-size="4.7" fill="#333" text-anchor="middle">Atropine</text>
<text x="671.00" y="282.30" font-size="4.7" fill="#333" text-anchor="middle">No</text>
<text x="640.20" y="287.70" font-size="4.7" fill="#333" text-anchor="middle" textLength="20.60" lengthAdjust="spacingAndGlyphs">treatment</text>
<text x="671.00" y="287.70" font-size="4.7" fill="#333" text-anchor="middle" textLength="20.60" lengthAdjust="spacingAndGlyphs">treatment</text>
<text x="644.90" y="294.90" font-size="6.4" fill="#333" text-anchor="middle">Cre<tspan font-size="4" dy="-2.2">+</tspan></text>
<text x="671.40" y="294.90" font-size="6.4" fill="#333" text-anchor="middle">Cre<tspan font-size="4" dy="-2.2">−</tspan></text>
<text x="1.10" y="317.80" font-size="12" fill="#000" font-weight="bold" stroke="#000" stroke-width="0.35">e</text>
<text x="22.00" y="317.60" font-size="6.4" fill="#111" stroke="#111" stroke-width="0.14" textLength="121.00" lengthAdjust="spacingAndGlyphs">AAV1-phSyn1-FLEX-<tspan fill="#e020e0" stroke="#e020e0">tdTomato</tspan>-T2A-<tspan fill="#2cc3ea" stroke="#2cc3ea">SypEGFP</tspan></text>
<g transform="translate(26.00 338.10) scale(1.0)" fill="none" stroke="#111" stroke-width="0.6" stroke-linecap="round" stroke-linejoin="round">
<path d="M1.6 -10.6 C-0.6 -13.4 -3.4 -14.4 -6 -14 C-9.6 -13.4 -12.4 -10 -15 -8.8 C-16 -8.4 -17 -8.4 -17.6 -9"/>
<path d="M0.2 -10.9 C-1.6 -12.6 -3.6 -13.2 -5.8 -12.8 C-9 -12.2 -11.8 -9 -14.6 -7.8 C-15.8 -7.4 -17 -7.6 -17.8 -8.4"/>
<path d="M-8.8 -3.5 C-8.4 -8 -4.6 -10.9 0 -10.9 C4.6 -10.9 8.4 -8 8.8 -3.5 C10.4 -2.6 10.7 1 9.6 2.7 L4.8 8.8 M-4.8 8.8 L-9.6 2.7 C-10.7 1 -10.4 -2.6 -8.8 -3.5" fill="#fff"/>
<path d="M-8 -1.4 C-7 -3.8 -3.6 -4.2 -2.6 -1.4 C-2 0.2 -1.5 1 -1.3 2"/>
<path d="M8 -1.4 C7 -3.8 3.6 -4.2 2.6 -1.4 C2 0.2 1.5 1 1.3 2"/>
<ellipse cx="-2.5" cy="6.2" rx="0.5" ry="0.8" fill="#111" stroke="none"/><ellipse cx="2.4" cy="6.2" rx="0.5" ry="0.8" fill="#111" stroke="none"/>
<path d="M-5.0 8.7 Q0 13.4 5.0 8.7" stroke-width="1.5"/>
<path d="M-4.4 9.2 L-7.2 8.7 M-4.2 9.8 L-6.8 11 M-3.6 10.4 L-4.9 12.8 M4.4 9.2 L7.2 8.7 M4.2 9.8 L6.8 11 M3.6 10.4 L4.9 12.8" stroke-width="0.4"/>
</g>
<text x="11.00" y="357.40" font-size="6.4" fill="#111" stroke="#111" stroke-width="0.14" textLength="23.20" lengthAdjust="spacingAndGlyphs"><tspan font-style="italic">Oxtr</tspan>-Cre</text>
<path d="M37.8 345.6 C40 346 42 347 44.4 347 C49 347 53.4 346 56.6 343.6 L59.6 341.4" stroke="#111" stroke-width="0.55" fill="none" />
<path d="M57.6 341 L59.9 341.2 L59.6 343.4" stroke="#111" stroke-width="0.5" fill="none" />
<path d="M43.2 346.2 L44.8 347 L43.4 347.9" stroke="#111" stroke-width="0.5" fill="none" />
<path d="M63.6 321.4 C66.4 321 70 321.4 72 322 C69.4 323.6 67 325.6 67.4 327.8 C67.8 330 68 331.8 68.8 333.4 C70.2 335.6 73 336.2 75.8 336.6 C79.8 337.2 83.8 338.4 87.2 339.8" stroke="#111" stroke-width="0.55" fill="none" />
<path d="M72 322 C76 322.2 80.4 323.2 83.2 325.2 C85 326.8 86 329.2 86.4 331.6 C87 334 87.4 336.2 87.6 338 L88.8 339.8" stroke="#111" stroke-width="0.55" fill="none" />
<path d="M60 342.2 C60.6 345 63.4 346.6 66.2 347.3 C70 348.4 74 348.6 77.6 348.5 C82 348.2 86 346.8 89 344.6" stroke="#111" stroke-width="0.55" fill="none" />
<path d="M84.4 327 L86.2 322.8 M86.9 327.6 L88.2 323.4 L93.6 326.4 L89.6 328.4 M89.6 328.4 L90.8 325.8" stroke="#111" stroke-width="0.45" fill="none" />
<line x1="69.30" y1="342.10" x2="80.20" y2="342.10" stroke="#777" stroke-width="0.9"/>
<polygon points="85.2,327.2 86.0,327.5 75.1,344.9 74.9,344.8" fill="#1a2a90"/>
<polygon points="86.0,327.5 86.9,327.8 75.4,345.0 75.1,344.9" fill="#e020e0"/>
<polygon points="84.3,326.9 85.2,327.2 74.9,344.8 74.6,344.6" fill="#19c2ec"/>
<circle cx="74.4" cy="344.9" r="1.9" fill="#5fd8f4"/><circle cx="74.9" cy="345.2" r="1.1" fill="#e020e0"/>
<text x="78.60" y="344.40" font-size="6.4" fill="#111" stroke="#111" stroke-width="0.14" textLength="8.60" lengthAdjust="spacingAndGlyphs">nA</text>
<text x="62.90" y="356.20" font-size="6.4" fill="#111" stroke="#111" stroke-width="0.14" textLength="23.00" lengthAdjust="spacingAndGlyphs">preBötC</text>
<clipPath id="c4"><rect x="97.90" y="327.40" width="58.60" height="61.60"/></clipPath>
<g clip-path="url(#c4)">
<rect x="97.90" y="327.40" width="58.60" height="61.60" fill="#000" />
<path d="M112.2 358.3h.01M107.4 378.0h.01M111.5 361.4h.01M152.2 351.9h.01M154.6 372.5h.01M130.0 366.1h.01M132.2 349.6h.01M156.3 352.3h.01M155.6 379.9h.01M99.6 343.3h.01M125.9 377.6h.01M108.3 365.3h.01M119.4 375.8h.01M152.2 374.3h.01M109.2 374.2h.01M123.6 379.0h.01M125.4 383.2h.01M155.7 378.2h.01M146.3 377.9h.01M132.6 338.2h.01M155.7 356.0h.01M98.8 354.2h.01M122.2 339.8h.01M154.2 334.3h.01M150.9 361.3h.01M108.4 349.5h.01M124.3 334.6h.01M142.6 367.5h.01M155.5 378.5h.01M144.0 388.8h.01M152.5 367.1h.01M129.5 359.7h.01M145.6 384.4h.01M146.6 379.1h.01M99.5 353.3h.01M103.0 363.4h.01M131.9 361.9h.01M148.2 341.3h.01M140.6 363.5h.01M110.4 387.7h.01M101.0 356.0h.01M129.3 364.1h.01M155.4 361.4h.01M149.9 345.5h.01M126.1 336.4h.01M135.4 353.4h.01M143.9 334.3h.01M125.1 386.5h.01M98.6 368.1h.01M137.6 372.1h.01M130.6 358.2h.01M154.1 344.8h.01M139.1 368.6h.01M140.6 356.8h.01M98.9 375.2h.01M114.3 375.6h.01M155.7 375.2h.01M121.5 380.2h.01M120.5 347.1h.01M131.4 367.7h.01M138.1 361.4h.01M121.9 373.1h.01M116.9 364.8h.01M98.2 335.5h.01M148.7 340.7h.01M122.1 330.7h.01M142.7 347.6h.01M100.8 344.3h.01M152.4 373.9h.01M98.1 386.1h.01M102.1 357.2h.01M129.2 375.6h.01M106.2 378.2h.01M114.0 372.9h.01M152.2 363.8h.01M98.0 368.5h.01M123.4 372.4h.01M143.9 334.0h.01M131.2 367.0h.01M152.2 365.2h.01M133.9 374.8h.01M107.3 380.3h.01M132.0 366.6h.01M107.0 359.6h.01M121.9 340.1h.01M153.1 379.5h.01M124.8 332.0h.01M155.6 334.6h.01M127.6 362.2h.01M148.0 367.8h.01M133.3 359.0h.01M155.2 377.9h.01M118.8 376.4h.01M153.4 357.3h.01M102.9 331.5h.01M154.6 340.2h.01M145.0 339.3h.01M111.0 337.3h.01M145.7 333.0h.01M125.5 377.2h.01M128.8 328.0h.01M98.9 378.6h.01M115.5 332.5h.01M128.7 375.7h.01M115.7 335.7h.01M108.8 356.6h.01M143.6 332.5h.01M142.5 369.4h.01M130.6 351.0h.01M99.8 358.4h.01M122.0 369.2h.01M101.6 337.6h.01M99.0 357.4h.01M101.4 360.3h.01M123.5 347.8h.01M109.0 384.1h.01M126.1 333.7h.01M131.8 374.4h.01M126.5 382.3h.01M147.0 369.3h.01M99.4 352.2h.01M127.8 337.8h.01M127.2 368.6h.01M142.0 374.2h.01M141.7 345.9h.01M133.8 358.3h.01M142.3 334.9h.01M108.2 371.6h.01M140.3 341.5h.01M142.9 375.2h.01M135.8 355.8h.01M101.3 341.6h.01M142.8 384.8h.01M107.6 329.7h.01M118.4 385.3h.01M110.6 384.9h.01M143.8 379.2h.01M156.0 369.0h.01M109.5 354.1h.01M121.2 368.4h.01M118.6 372.5h.01M99.7 341.1h.01M110.9 337.9h.01M141.8 381.4h.01M103.4 356.8h.01M98.4 342.7h.01M106.4 370.1h.01M146.9 379.3h.01M114.0 352.6h.01M111.4 368.3h.01M111.3 374.6h.01M125.5 361.3h.01M149.0 384.3h.01M113.6 372.2h.01M113.9 328.1h.01M147.8 339.1h.01M114.4 371.6h.01M147.7 351.3h.01M139.9 351.8h.01M99.0 361.5h.01M108.0 340.3h.01M121.8 367.1h.01M110.8 340.9h.01M131.3 344.3h.01M130.8 368.9h.01M115.9 382.7h.01M154.6 329.8h.01M101.7 334.1h.01M126.7 345.9h.01M140.8 388.1h.01" stroke="#c414c4" stroke-width="0.55" stroke-linecap="round" fill="none" opacity="0.55"/>
<path d="M124.5 344.3l2.1 1.7M145.7 381.5l-1.4 0.0M141.7 348.1l1.9 0.9M119.6 360.6l-0.2 0.7M142.5 374.5l0.5 0.9M134.6 350.2l-1.1 1.1M128.9 380.0l0.6 0.2M128.6 380.0l-2.5 0.7M109.4 346.9l0.5 0.5M108.4 336.8l-1.3 0.9M142.3 384.9l-0.1 0.7M121.8 354.7l1.4 0.8M143.2 347.5l0.3 0.0M119.3 339.6l0.3 2.9M111.5 349.1l-0.2 0.5M148.9 387.9l1.2 0.0M130.5 377.2l-0.6 0.1M100.8 356.9l-0.8 0.0M125.5 355.4l-0.1 0.0M131.8 338.0l-1.0 1.1M134.0 351.3l-2.3 1.0M137.2 382.8l0.6 0.6M98.8 332.3l-0.1 0.1M114.7 347.5l0.2 0.8M103.6 359.3l1.2 0.3M114.6 332.8l2.1 0.6M102.3 358.3l-1.0 2.5M133.7 375.6l-0.3 0.1M113.7 356.6l0.3 0.4M120.9 356.3l-0.6 0.4M148.5 353.1l1.6 2.1M121.3 357.6l0.1 0.3M142.7 382.1l-0.3 0.9M138.8 345.1l1.7 0.6M131.6 382.4l0.1 0.4M119.8 349.6l-0.3 0.0M142.9 372.4l-0.4 0.1M124.3 350.5l0.5 0.0M106.1 331.8l-1.3 1.7M120.7 377.9l-2.2 1.3M109.9 349.5l0.1 0.1M136.9 361.1l0.0 0.0M115.2 353.2l0.8 0.1M133.0 353.2l-1.1 1.4M143.6 354.0l-2.1 1.1M109.8 358.1l-0.6 1.2M103.7 358.2l0.2 0.0M138.0 342.8l-2.6 0.8M111.2 358.2l-0.3 1.4M98.0 338.1l-1.2 0.3M127.9 384.0l0.9 0.8M136.2 343.1l0.6 2.2M144.7 372.8l-0.0 0.0M121.9 361.8l0.0 0.1M129.9 362.9l-0.1 0.5M116.2 329.5l-0.1 0.6M127.1 382.8l0.1 0.8M138.2 373.9l1.1 1.2M139.6 345.7l0.5 1.6M102.9 342.0l-0.8 1.2M107.0 362.0l0.8 0.8M149.3 379.0l-0.9 1.4M98.8 348.7l-1.7 1.5M98.3 354.7l-1.0 1.5M123.9 345.8l0.0 0.1M112.0 355.0l0.0 0.0M100.8 331.2l1.2 1.3M108.7 357.6l0.6 1.3M126.5 344.7l-1.1 2.6M133.9 385.3l-0.0 1.6M120.1 354.1l0.3 3.0M126.4 368.2l-0.2 0.2M99.7 352.8l1.1 0.8M110.7 361.6l0.1 0.6M141.4 386.9l1.0 1.2M111.5 328.5l-2.1 0.7M117.1 356.9l-0.1 0.6M117.6 335.7l0.5 0.3M121.9 362.2l-0.4 0.3M136.6 372.9l-0.2 0.1M121.4 328.5l1.3 0.2M105.3 329.5l-0.3 0.0M145.5 356.2l0.3 1.6M143.3 354.4l-0.0 0.1M120.6 367.7l-1.0 2.4M100.6 335.3l-0.0 0.0M113.7 354.1l1.4 0.4M122.5 377.3l-0.9 0.2M139.1 386.2l-0.2 0.3M119.3 343.5l0.9 2.2M107.6 354.4l0.6 2.4M123.3 352.0l1.3 1.1M108.4 332.3l0.9 0.7M114.6 355.8l-1.0 1.8M98.4 340.1l-1.2 2.5M105.3 362.4l2.6 1.3M130.6 376.6l-0.8 0.4M107.4 332.8l0.0 0.0M147.6 377.7l0.5 2.9M121.1 343.1l-1.4 2.4M109.1 358.6l-1.1 0.1M146.0 356.0l-0.1 0.3M132.8 359.8l0.6 0.5M108.0 333.0l-0.1 1.0M130.6 377.9l2.2 0.7M129.1 369.4l0.2 1.4M98.2 336.9l-1.4 0.5M148.9 376.8l0.4 0.9M139.5 350.9l-0.2 0.3M108.2 349.5l-0.8 0.3M124.2 360.3l-1.8 1.4M121.5 352.9l-2.1 1.0M106.2 349.8l-2.7 1.0M120.9 329.6l-0.9 0.4M126.2 375.7l1.9 1.8M117.0 352.1l1.5 1.0M99.1 339.4l-1.2 1.3M140.4 362.1l0.3 1.6M140.5 348.7l-2.1 1.9M140.4 347.7l-0.1 1.4M119.4 352.4l-0.7 0.5M123.1 332.5l2.7 0.9M149.0 361.4l-1.1 1.0M125.2 371.1l0.6 0.5M101.5 340.2l0.9 2.5M138.4 374.2l0.8 1.0M118.6 344.8l0.0 0.0M102.7 331.8l0.4 2.0M147.6 381.6l1.1 0.9M128.9 371.8l-0.8 0.9M145.1 366.5l-1.2 2.6M124.8 349.1l-1.0 1.8M116.3 339.3l2.6 0.2M113.1 335.3l-1.2 0.6M106.2 345.3l-0.1 0.3M127.8 333.3l1.5 0.6M136.7 368.0l-0.5 0.2M113.0 335.6l-0.3 0.3M126.7 366.8l0.9 2.5M130.8 378.0l-0.1 0.4M145.1 367.3l-0.9 1.1M142.6 364.3l-0.1 0.5M109.9 342.4l-0.3 0.8M123.1 370.6l0.9 1.5M120.2 371.6l-1.1 2.2M108.0 356.0l0.7 2.4M145.0 378.7l-0.7 0.8M138.2 369.3l-0.4 1.7M135.1 386.1l0.9 0.1M132.7 356.8l-0.7 0.3M132.5 378.4l2.3 0.2M126.4 341.8l1.1 0.9M147.5 356.4l-1.3 1.0M130.2 349.7l2.5 0.0M118.8 337.3l0.9 1.0M117.6 334.6l1.7 0.1M112.7 363.2l0.6 0.3M122.4 349.9l1.1 2.2M107.4 348.3l-1.3 0.3M138.9 349.5l-2.2 1.2M128.7 368.5l-0.4 0.2M117.4 343.7l0.1 0.1M109.5 353.1l0.5 0.8M133.9 364.0l-0.1 0.5M99.6 349.8l0.8 0.4M140.0 367.7l0.4 0.1M134.7 380.6l0.4 1.0M127.5 365.5l0.0 1.5M145.0 377.1l-1.5 0.1M107.2 352.7l0.4 0.5M104.8 329.7l2.2 0.9M98.9 327.6l2.9 0.1M132.8 381.5l-0.9 0.8M144.7 373.3l0.1 0.0M114.9 364.2l-0.4 0.7M141.1 379.6l2.8 0.7M123.5 333.6l1.4 0.2M102.5 337.6l1.9 1.2M135.1 363.9l1.1 2.2M120.4 376.0l-1.1 0.0M138.4 346.1l-1.7 1.0M114.6 331.2l-1.3 1.6M131.9 371.3l0.4 0.3M111.0 340.4l-0.9 0.3M136.1 369.8l-0.1 0.0M109.2 342.4l0.3 0.3M134.3 353.6l-1.7 2.1M122.9 368.7l-1.8 2.2M141.7 380.0l-0.5 2.4M123.4 334.1l1.6 0.7M138.6 380.5l-0.5 1.7M143.0 372.7l0.4 0.3M101.6 359.6l-0.9 0.7M116.2 330.4l2.2 0.1M138.6 366.9l-1.0 0.2M122.1 365.8l-0.5 0.5M134.4 346.4l1.7 1.1M135.9 343.5l-1.1 0.0M119.3 350.2l-1.7 1.1M124.0 378.8l-0.1 0.1M106.7 331.9l-2.0 0.2M138.7 350.3l-1.7 0.5M141.4 375.6l1.7 1.5M143.1 368.7l-1.1 0.7M119.8 375.1l-0.5 0.9M128.6 372.5l2.1 0.5M135.9 369.3l-1.2 1.5M110.2 354.4l0.2 2.0M142.8 386.2l-0.3 0.8M105.3 341.1l0.1 0.0M109.1 333.8l-1.5 2.4M102.1 351.4l1.0 1.9M142.7 376.6l-1.4 0.1M139.8 372.7l1.2 0.1M147.6 388.7l-0.1 1.5M111.3 358.9l-1.0 1.2M136.2 365.4l1.7 0.8M125.8 361.2l-1.7 0.9M109.2 358.7l0.2 1.3M145.2 349.5l-1.9 0.4M116.3 373.0l1.5 0.6M115.1 337.3l1.6 2.2M108.8 345.1l0.1 0.3M107.0 342.4l1.2 1.7M139.7 382.1l-0.0 0.1M111.4 356.0l-0.3 0.7M147.9 376.0l1.0 0.5M142.0 369.8l0.6 0.5M119.7 346.6l0.0 0.1M116.6 345.4l-0.8 0.2" stroke="#e020e0" stroke-width="0.8" stroke-linecap="round" fill="none" opacity="0.8"/>
<path d="M141.6 346.6l-1.7 1.5M110.8 352.8l0.0 1.5M117.4 368.4l1.0 0.4M130.7 357.7l-0.4 0.1M132.1 372.8l0.4 0.1M110.9 339.0l-1.2 0.7M128.9 376.0l-0.6 0.0M143.2 364.3l1.0 1.6M104.8 337.9l-0.6 0.0M129.9 382.8l0.3 2.0M113.3 346.1l0.8 0.3M129.0 381.2l-0.1 1.1M103.1 343.8l-0.5 0.2M132.6 369.8l0.8 0.1M140.4 366.8l-0.6 0.7M117.2 347.7l-2.0 1.0M130.9 336.4l-0.0 0.3M112.2 351.6l2.3 0.4M127.4 342.7l0.5 2.3M108.9 328.9l1.3 0.2M103.2 359.1l-2.3 0.5M137.5 369.5l-1.8 1.2M113.4 333.6l1.2 1.2M118.8 329.1l-0.9 0.5M104.3 333.2l0.0 0.8M119.6 342.3l-2.1 1.1M134.9 382.5l0.7 0.0M98.6 336.7l0.1 1.4M120.3 340.4l0.1 0.2M142.2 363.1l0.0 0.8M122.0 348.2l-0.7 1.9M98.0 347.9l-0.9 2.0M141.0 359.1l-1.0 1.8M135.1 369.3l0.0 1.5M100.7 357.0l0.3 0.2M108.7 330.9l0.0 0.0M120.5 371.5l-0.0 0.4M125.5 356.7l-1.1 0.5M115.2 341.1l-1.5 0.9M108.7 354.5l0.3 0.7M120.8 351.9l-1.2 0.7M111.0 330.2l-0.1 0.0M130.7 367.4l0.1 1.7M127.8 366.9l0.4 0.3M143.2 384.6l-0.3 0.2M123.9 343.5l0.2 1.4M134.2 376.5l-0.9 1.1M136.8 350.9l-1.7 1.1M132.9 363.0l2.1 0.2M127.8 359.2l-1.6 0.8M121.7 375.8l-0.5 2.3M134.7 388.6l-2.2 0.6M138.3 374.4l-0.8 0.4M111.7 337.7l0.3 0.2M143.3 373.8l-0.3 0.8M142.1 355.5l0.2 0.7M139.2 374.7l0.0 1.0M119.7 370.4l-0.6 0.5M133.7 378.5l-0.3 1.0M131.7 370.4l-0.4 0.4" stroke="#f040f0" stroke-width="1.1" stroke-linecap="round" fill="none" opacity="0.85" filter="url(#b3)"/>
<path d="M114.6 358.3l0.3 0.9M110.2 363.6l1.5 1.5M108.3 340.4l-1.8 1.7M111.6 357.5l-1.5 1.7M115.8 360.9l-0.8 2.2M123.2 339.3l-1.1 0.3M114.1 351.1l0.5 0.2M121.3 362.0l-0.6 0.2M116.0 339.3l-1.9 1.4M123.1 361.3l-0.0 0.1M110.5 345.3l-1.2 1.1M111.6 355.3l0.2 0.7M116.8 365.2l0.6 0.2M128.2 349.4l0.4 0.4M114.6 339.7l-1.4 0.4M119.6 334.2l0.2 0.4M115.6 358.7l-0.1 0.1M105.9 359.2l1.0 1.0M115.1 355.7l1.8 0.2M104.0 347.9l-1.8 0.1M125.2 349.6l0.3 0.6M110.9 355.4l-0.2 1.9M125.2 355.5l-0.1 0.3M117.1 344.8l-0.9 0.8M114.4 341.7l0.3 0.3M117.5 336.2l-0.2 0.2M109.1 352.8l0.6 1.3M112.7 364.0l2.4 0.5M117.1 345.9l-2.0 0.3M119.9 354.7l-0.0 0.3M114.7 360.6l-2.6 0.4M113.5 343.9l0.2 0.9M127.4 345.5l1.2 1.9M118.9 364.4l0.2 1.3M107.2 355.7l-0.1 0.5M117.5 344.5l-0.0 0.2M117.9 364.3l-0.4 0.2M115.3 336.3l-1.0 1.8M118.4 337.8l-0.2 0.3M110.0 360.3l-0.4 0.3M113.8 355.3l-2.0 1.0M123.7 339.1l1.4 0.4M105.3 352.2l-0.1 0.3M121.4 363.8l-0.1 1.9M108.2 356.8l-1.3 0.5M111.1 349.3l0.6 0.4M105.0 352.9l0.6 2.1M120.1 348.4l-0.3 0.7M112.5 353.1l-1.5 0.7M122.7 343.1l0.8 2.1M123.1 356.2l-0.4 1.1M115.7 340.2l-1.5 1.8M108.0 349.4l-0.0 0.1M112.0 335.3l0.1 0.2M117.5 353.8l0.4 0.1M125.7 350.6l-0.2 1.0M112.7 363.2l-0.2 0.2M111.3 342.1l1.9 0.7M121.7 341.3l-2.3 1.2M121.1 349.2l0.1 2.0M119.1 348.5l1.0 0.2M118.6 347.2l-1.4 1.3M112.6 343.2l0.1 0.3M104.7 350.1l0.1 0.0M115.4 355.2l0.2 1.5M116.4 337.5l-0.3 0.6M127.2 358.6l-0.7 1.0M110.6 337.5l-0.0 0.3M103.3 348.3l0.2 0.4M105.2 349.3l0.3 1.0" stroke="#f4e0f4" stroke-width="0.8" stroke-linecap="round" fill="none" opacity="0.85"/>
<path d="M144.9 328.9l-0.1 0.1M149.2 361.4l-0.7 1.2M103.3 342.8l1.5 0.5M119.2 327.7l-0.6 0.4M109.1 364.4l1.0 0.8M103.8 348.5l0.8 0.4M136.0 369.2l0.8 1.4M153.2 388.9l-1.0 0.3M137.3 339.0l-0.6 0.9M136.9 329.0l1.0 0.6M125.8 384.2l-0.5 1.4M129.6 378.6l-0.4 0.3M127.0 373.7l-0.9 0.0M145.8 345.8l-0.9 0.4M121.3 381.4l-0.2 0.1M120.8 366.0l-1.2 0.4M130.8 370.9l0.1 0.2M129.2 344.4l-1.3 0.5M141.1 376.7l-0.4 1.3M127.8 375.3l-0.0 0.0M111.5 374.2l0.6 1.2M117.5 365.7l-0.9 0.0M108.4 385.9l1.0 0.8M128.8 384.3l-0.7 0.9M142.1 374.1l0.9 0.2M146.3 373.2l-0.2 0.8M101.5 340.1l0.9 0.9M153.8 344.5l0.0 0.2M132.2 384.6l0.7 1.1M120.2 345.7l0.5 0.7" stroke="#ffffff" stroke-width="0.7" stroke-linecap="round" fill="none" opacity="0.8"/>
<path d="M154.9 378.0h.01M144.1 359.7h.01M141.7 362.5h.01M140.0 356.6h.01M143.1 384.7h.01M142.7 358.4h.01M149.8 366.5h.01M140.1 333.6h.01M156.3 384.6h.01M145.3 363.9h.01M140.8 367.2h.01M144.0 332.3h.01M142.6 353.2h.01M143.9 357.3h.01M150.7 353.5h.01M147.3 369.2h.01M146.7 355.5h.01M141.4 367.5h.01M141.3 374.9h.01M145.3 348.0h.01M146.8 329.0h.01M149.1 360.3h.01M156.1 348.6h.01M155.3 343.3h.01M142.9 376.9h.01M155.2 337.7h.01M156.1 371.2h.01M154.9 333.6h.01M139.2 365.0h.01M156.1 351.9h.01M150.0 349.8h.01M153.3 332.7h.01M155.9 348.4h.01M147.2 355.8h.01M148.2 353.4h.01M148.9 329.2h.01M139.2 386.1h.01M154.3 348.2h.01M139.2 376.9h.01M138.8 348.1h.01" stroke="#18cfe6" stroke-width="0.6" stroke-linecap="round" fill="none" opacity="0.7"/>
<path d="M144.1 358.8h.01M99.7 377.8h.01M149.8 381.0h.01M132.0 341.9h.01M142.2 347.1h.01M122.1 370.2h.01M134.8 329.2h.01M130.7 337.6h.01M109.4 343.6h.01M135.6 374.8h.01M155.5 378.8h.01M122.1 382.8h.01M102.7 349.7h.01M103.6 380.0h.01M135.6 328.5h.01M124.0 335.6h.01M132.2 345.0h.01M149.3 381.2h.01M151.5 371.8h.01M105.5 344.3h.01M104.2 376.1h.01M111.8 374.1h.01M143.9 375.1h.01M112.4 339.7h.01M124.5 341.1h.01M120.7 381.3h.01M107.0 335.3h.01M146.6 384.0h.01M152.6 346.0h.01M112.3 363.8h.01M154.2 381.6h.01M103.6 356.6h.01M109.9 346.7h.01M147.8 371.0h.01M133.4 342.4h.01M143.6 332.2h.01M106.9 387.4h.01M105.9 362.6h.01M119.7 371.8h.01M104.0 327.8h.01" stroke="#18cfe6" stroke-width="0.5" stroke-linecap="round" fill="none" opacity="0.5"/>
<g fill="#f2e21c" opacity="0.95" filter="url(#b3)">
<ellipse cx="122.7" cy="333.7" rx="1.9" ry="0.9" transform="rotate(116 122.7 333.7)"/>
<ellipse cx="128.3" cy="330.8" rx="1.2" ry="0.9" transform="rotate(3 128.3 330.8)"/>
<ellipse cx="128.4" cy="338.0" rx="1.7" ry="0.8" transform="rotate(144 128.4 338.0)"/>
<ellipse cx="127.7" cy="335.6" rx="1.5" ry="1.3" transform="rotate(100 127.7 335.6)"/>
<ellipse cx="132.0" cy="341.9" rx="1.3" ry="1.1" transform="rotate(100 132.0 341.9)"/>
<ellipse cx="129.2" cy="334.0" rx="1.7" ry="1.1" transform="rotate(29 129.2 334.0)"/>
<ellipse cx="122.7" cy="340.7" rx="1.3" ry="1.1" transform="rotate(108 122.7 340.7)"/>
<ellipse cx="125.1" cy="332.6" rx="1.2" ry="0.7" transform="rotate(96 125.1 332.6)"/>
<ellipse cx="131.5" cy="337.9" rx="1.5" ry="0.7" transform="rotate(38 131.5 337.9)"/>
<ellipse cx="126.2" cy="339.1" rx="1.3" ry="0.9" transform="rotate(91 126.2 339.1)"/>
<ellipse cx="131.3" cy="341.7" rx="1.4" ry="1.0" transform="rotate(82 131.3 341.7)"/>
<ellipse cx="122.8" cy="339.4" rx="1.9" ry="1.2" transform="rotate(145 122.8 339.4)"/>
<ellipse cx="128.2" cy="333.7" rx="1.5" ry="1.1" transform="rotate(79 128.2 333.7)"/>
<ellipse cx="125.6" cy="336.5" rx="1.1" ry="0.9" transform="rotate(82 125.6 336.5)"/>
<ellipse cx="124.1" cy="341.7" rx="1.7" ry="1.5" transform="rotate(22 124.1 341.7)"/>
<ellipse cx="123.3" cy="336.4" rx="1.9" ry="1.6" transform="rotate(156 123.3 336.4)"/>
<ellipse cx="122.6" cy="339.3" rx="1.0" ry="0.5" transform="rotate(130 122.6 339.3)"/>
<ellipse cx="122.0" cy="341.3" rx="1.6" ry="1.0" transform="rotate(14 122.0 341.3)"/>
</g>
<path d="M130.0 340.9l-0.3 1.5M123.6 337.4l-0.1 1.5M128.5 341.6l-0.2 0.3M131.1 341.1l-0.5 0.8M124.5 333.6l0.1 0.0M121.2 334.4l0.0 0.1M122.4 336.2l1.1 0.4M124.5 330.7l0.8 0.8M127.0 340.6l-0.4 1.1M124.4 337.2l0.8 0.9M128.8 332.7l-0.5 0.5M125.1 340.2l-0.5 0.2M121.2 331.9l0.2 0.0M129.3 333.8l-1.5 0.3M124.3 341.9l-0.0 0.5M122.7 334.9l-1.1 0.9M128.7 336.6l0.0 0.7M130.9 335.2l0.1 0.0M131.5 331.0l0.3 0.5M132.0 339.5l0.4 0.0M122.4 335.0l0.0 1.1M124.9 333.3l-0.5 1.2M124.8 334.3l0.4 0.1M120.9 339.7l-0.9 0.3M132.3 335.3l-0.5 0.6M124.8 334.7l1.0 0.1M129.0 338.4l-1.1 0.3M132.3 332.5l-0.3 0.4M124.6 341.3l-0.3 1.4M122.9 333.0l-1.3 0.1" stroke="#f2e21c" stroke-width="0.8" stroke-linecap="round" fill="none" opacity="0.9"/>
<g fill="#f2e21c" opacity="0.95" filter="url(#b3)">
<ellipse cx="126.3" cy="356.3" rx="1.5" ry="1.1" transform="rotate(0 126.3 356.3)"/>
<ellipse cx="139.6" cy="352.0" rx="1.2" ry="0.9" transform="rotate(30 139.6 352.0)"/>
<ellipse cx="135.0" cy="340.0" rx="0.9" ry="0.7" transform="rotate(0 135.0 340.0)"/>
<ellipse cx="117.0" cy="337.0" rx="0.8" ry="0.7" transform="rotate(0 117.0 337.0)"/>
</g>
<path d="M132 328.4 C144 333 153 345 154.4 358 C155 368 152 378 146.6 386" stroke="#ddd" stroke-width="0.5" fill="none" stroke-dasharray="1.6 1.4"/>
<path d="M98.6 360 C103 370 109 379 116 386" stroke="#ddd" stroke-width="0.5" fill="none" stroke-dasharray="1.6 1.4"/>
<text x="132.30" y="332.00" font-size="6.2" fill="#e8d81c" textLength="7.30" lengthAdjust="spacingAndGlyphs">nA</text>
<text x="127.50" y="371.30" font-size="6.2" fill="#fff" textLength="21.70" lengthAdjust="spacingAndGlyphs">preBötC</text>
<text x="99.80" y="373.20" font-size="6.4" fill="#e8d81c" textLength="18.10" lengthAdjust="spacingAndGlyphs">FG→nA</text>
<text x="99.80" y="379.70" font-size="6.4" fill="#e020e0" textLength="25.30" lengthAdjust="spacingAndGlyphs">tdTomato</text>
<text x="99.80" y="385.70" font-size="6.4" fill="#18bcd6" textLength="24.10" lengthAdjust="spacingAndGlyphs">SypEGFP</text>
<rect x="139.60" y="386.40" width="14.40" height="2.60" fill="#fff" />
</g>
<text x="166.20" y="318.70" font-size="12" fill="#000" font-weight="bold" stroke="#000" stroke-width="0.35">f</text>
<clipPath id="c5"><rect x="166.20" y="321.90" width="42.50" height="67.10"/></clipPath>
<g clip-path="url(#c5)">
<rect x="166.20" y="321.90" width="42.50" height="67.10" fill="#000" />
<rect x="166.20" y="321.90" width="42.50" height="67.10" fill="#566478" opacity="0.28"/>
<path d="M187.2 359.3h.01M200.6 343.4h.01M179.8 368.4h.01M186.9 346.0h.01M183.4 344.0h.01M173.3 364.3h.01M204.2 368.1h.01M193.2 344.5h.01M184.6 331.6h.01M197.2 341.8h.01M178.6 387.7h.01M180.7 387.6h.01M192.5 373.0h.01M192.9 333.9h.01M196.5 339.3h.01M183.5 330.7h.01M168.7 346.6h.01M166.8 347.7h.01M202.3 388.9h.01M184.2 329.1h.01M180.9 326.2h.01M175.4 363.6h.01M192.4 324.0h.01M186.9 350.3h.01M183.1 331.0h.01M182.9 328.8h.01M195.4 365.5h.01M192.9 349.2h.01M206.9 346.6h.01M174.9 347.0h.01M205.0 332.5h.01M198.7 384.9h.01M202.4 353.1h.01M185.3 380.4h.01M196.4 376.0h.01M173.8 362.7h.01M197.6 337.9h.01M175.0 378.3h.01M190.3 349.4h.01M186.9 339.2h.01M176.7 329.0h.01M183.3 331.7h.01M204.3 386.0h.01M191.3 328.0h.01M191.6 332.3h.01M182.0 330.5h.01M187.3 326.9h.01M178.1 337.6h.01M186.0 384.3h.01M190.8 374.4h.01M197.0 357.5h.01M169.1 325.8h.01M171.9 356.5h.01M180.6 384.3h.01M174.7 330.7h.01M193.4 362.6h.01M168.5 345.0h.01M185.1 377.1h.01M199.3 380.5h.01M189.0 384.8h.01M186.2 341.3h.01M172.1 377.7h.01M193.8 363.3h.01M207.8 364.3h.01M179.4 368.5h.01M205.6 333.9h.01M206.3 349.8h.01M171.0 356.0h.01M199.4 354.9h.01M177.6 373.4h.01M170.5 366.9h.01M181.6 363.0h.01M187.7 340.7h.01M174.9 377.0h.01M185.6 340.9h.01M191.4 373.4h.01M170.0 352.7h.01M172.7 373.5h.01M168.1 377.8h.01M190.0 356.5h.01M189.0 340.6h.01M185.4 333.3h.01M181.4 361.9h.01M192.2 343.7h.01M192.4 374.6h.01M199.2 322.1h.01M187.5 333.3h.01M201.0 361.0h.01M185.0 362.8h.01M187.9 335.8h.01M205.1 325.7h.01M167.7 341.6h.01M172.2 347.0h.01M192.4 348.1h.01M207.4 343.8h.01M206.1 387.7h.01M189.5 376.0h.01M169.4 384.5h.01M185.0 344.6h.01M205.4 348.8h.01M170.0 323.7h.01M200.2 334.0h.01M193.2 327.7h.01M200.8 386.9h.01M181.8 375.3h.01M204.4 337.6h.01M186.3 388.9h.01M206.7 359.7h.01M189.5 323.3h.01M201.5 385.4h.01M190.2 337.5h.01M171.6 364.5h.01M195.7 362.0h.01M201.9 324.3h.01M166.5 328.8h.01M179.4 325.2h.01M176.5 335.8h.01M200.7 357.3h.01M174.7 355.9h.01M172.8 388.2h.01M170.1 337.9h.01M190.5 381.9h.01M194.1 331.1h.01M192.1 371.5h.01M205.8 364.7h.01M176.8 377.5h.01M195.9 381.7h.01M174.7 378.1h.01M186.6 336.8h.01M177.0 328.6h.01M204.3 331.5h.01M193.1 338.8h.01M176.8 345.5h.01M202.2 326.3h.01M182.8 343.9h.01M186.8 363.7h.01M203.0 364.5h.01M202.4 381.1h.01M200.8 323.6h.01M168.9 357.0h.01M174.6 346.2h.01M188.7 357.6h.01M198.8 373.7h.01M175.5 360.3h.01M186.3 351.7h.01M197.1 369.8h.01M196.3 347.7h.01M169.8 361.1h.01M177.0 342.7h.01M170.5 327.0h.01M185.1 386.4h.01M192.3 338.9h.01M206.6 335.0h.01M194.9 326.7h.01M206.9 383.0h.01M201.8 347.4h.01M185.4 355.2h.01M205.4 361.0h.01M176.7 382.7h.01M184.1 370.9h.01M206.3 373.8h.01M171.5 376.8h.01M185.4 388.8h.01M182.2 333.8h.01M171.2 388.8h.01M184.5 322.8h.01M187.5 386.2h.01M175.2 384.1h.01M208.6 335.6h.01M175.0 331.6h.01M170.4 321.9h.01M175.5 375.6h.01M184.7 349.5h.01M192.7 331.1h.01M199.2 338.7h.01M188.2 336.6h.01M177.2 331.8h.01M182.9 351.0h.01M170.4 377.8h.01M180.4 367.0h.01M174.3 324.7h.01M207.8 338.0h.01M166.7 384.2h.01M184.3 322.3h.01M193.4 344.6h.01M207.4 376.8h.01M194.3 369.0h.01M179.8 383.5h.01M205.8 338.4h.01M168.4 326.2h.01M188.6 363.4h.01M200.4 382.7h.01M182.5 351.7h.01M183.1 382.7h.01M175.5 330.6h.01M174.5 383.8h.01M173.4 388.7h.01M176.8 346.9h.01M173.9 387.2h.01M169.5 332.7h.01M195.6 354.5h.01M182.8 352.4h.01M204.2 331.9h.01M189.8 335.8h.01M187.3 347.8h.01M183.7 342.9h.01M166.7 335.3h.01M197.4 347.8h.01M171.5 329.1h.01M196.9 334.5h.01M206.2 357.0h.01M168.9 343.4h.01M192.6 388.1h.01M205.2 337.5h.01M192.2 360.4h.01M203.7 333.8h.01M188.1 360.8h.01M186.8 353.6h.01M167.0 333.6h.01M206.7 342.5h.01M207.2 322.7h.01M166.4 379.3h.01M178.7 379.2h.01M166.2 362.7h.01M201.6 339.9h.01M202.6 370.6h.01M201.6 346.9h.01M174.2 347.6h.01M179.9 338.0h.01M204.2 333.7h.01M193.1 353.2h.01M186.2 355.3h.01M187.2 385.5h.01M194.8 375.9h.01M176.8 356.1h.01M196.8 368.4h.01M200.8 324.2h.01M170.4 376.3h.01M182.9 336.7h.01M184.8 333.1h.01M197.5 349.7h.01M201.4 353.4h.01M208.5 324.3h.01M202.7 328.6h.01M187.0 337.7h.01M183.4 381.8h.01M175.8 348.7h.01M188.8 328.9h.01M188.3 342.6h.01M207.8 382.8h.01M188.2 384.5h.01M169.8 323.2h.01M183.6 382.1h.01M204.6 388.0h.01M200.6 348.7h.01M198.9 372.6h.01M187.2 376.8h.01M197.5 334.2h.01M168.6 337.0h.01M199.7 349.6h.01M179.6 371.7h.01M174.0 338.7h.01M171.7 382.7h.01M176.6 347.8h.01M189.7 334.3h.01M204.3 375.7h.01M170.6 332.7h.01M202.0 336.2h.01M182.4 378.6h.01M178.9 358.1h.01M184.2 370.1h.01M198.0 375.8h.01M175.6 363.8h.01M174.0 387.0h.01M178.2 358.6h.01M176.6 359.7h.01M179.0 325.5h.01M166.7 369.7h.01M176.2 331.4h.01M196.3 376.9h.01M177.2 359.6h.01M204.5 379.7h.01M186.1 368.3h.01M191.7 373.3h.01M206.1 336.1h.01M182.8 385.6h.01M177.7 341.5h.01M201.4 343.2h.01M191.3 326.8h.01M208.0 361.8h.01M169.3 331.6h.01M170.4 358.6h.01M196.2 361.0h.01M198.2 379.4h.01M187.8 356.4h.01M193.7 369.2h.01M203.5 363.8h.01M183.5 365.4h.01M200.2 361.9h.01M179.6 356.2h.01" stroke="#e818e8" stroke-width="0.65" stroke-linecap="round" fill="none" opacity="0.6"/>
<path d="M188.9 335.0l-0.1 0.0M203.2 338.1l0.9 1.3M184.6 361.9l0.8 0.1M190.5 357.9l0.0 0.1M168.6 330.5l-0.5 0.5M204.7 372.1l0.0 1.1M197.1 380.1l0.8 0.2M170.4 371.5l0.1 1.5M170.6 378.9l0.1 0.0M177.8 342.7l1.5 0.4M207.3 365.2l0.0 0.7M178.2 353.1l-0.1 1.3M181.9 347.7l-1.1 0.6M169.6 354.0l0.2 0.4M189.0 337.4l-0.0 0.3M177.8 334.9l-0.2 0.3M201.8 337.6l0.1 0.1M201.7 359.7l0.0 0.2M195.7 335.6l-1.2 0.4M191.8 345.8l-0.8 0.5M179.6 364.1l-0.9 1.3M194.3 368.5l1.3 0.9M189.8 338.7l-0.3 0.1M190.4 386.2l-0.8 0.1M205.4 383.2l0.1 0.2M170.1 383.0l0.9 0.0M183.0 332.1l0.1 0.1M178.0 364.4l0.6 0.5M172.7 370.5l-0.2 1.4M179.8 330.1l-0.2 0.0M189.9 371.3l-0.0 0.0M207.6 381.2l0.8 0.4M199.2 329.1l1.0 1.3M186.9 375.8l-0.4 1.2M177.2 369.0l0.5 0.0M206.6 378.7l1.1 0.3M207.9 378.7l-0.3 0.1M199.0 363.8l0.5 0.1M203.8 331.6l-0.1 0.5M208.0 372.0l0.0 0.6M201.5 384.7l-1.1 0.7M186.7 359.5l0.3 0.3M185.9 361.2l0.8 0.1M183.1 383.8l0.8 1.1M203.0 381.9l-0.7 1.6M208.3 327.9l0.9 1.0M191.6 347.6l0.8 1.3M170.6 388.9l0.9 0.3M190.9 388.9l0.3 1.1M176.5 357.9l0.1 0.1M194.6 377.4l-0.2 1.7M174.0 371.4l0.0 1.2M189.8 352.7l-1.0 1.0M190.3 335.7l-0.2 0.0M170.6 356.7l0.4 1.1M168.8 359.8l0.7 0.0M198.1 339.3l0.6 0.9M173.7 360.5l1.1 0.6M182.1 361.9l-1.0 0.3M192.5 370.3l-0.3 0.0M176.0 366.7l-0.0 0.0M183.6 341.1l0.9 0.4M179.4 342.9l-0.7 0.2M190.3 387.1l-0.5 0.3M175.0 335.9l-0.2 0.2M199.3 373.7l1.5 0.1M195.3 327.3l1.1 0.5M195.4 337.1l-1.3 0.9M178.1 355.2l0.2 0.3M197.1 340.8l-0.3 0.9M177.0 328.2l-1.1 1.3M201.5 382.8l-0.1 1.0M193.0 358.3l-1.2 0.3M170.7 327.4l0.5 0.1M183.1 364.7l-0.3 1.1M200.0 349.3l0.3 0.2M170.0 335.8l0.7 0.2M190.8 372.4l1.0 0.9M200.7 335.5l-0.9 0.4M198.0 385.2l0.4 0.4M177.2 379.1l0.0 0.3M172.5 331.1l0.7 1.6M206.9 364.6l0.6 0.9M190.0 331.0l-0.1 0.6M179.4 366.2l-0.5 0.3M176.5 356.2l-1.1 0.5M207.3 335.8l0.1 0.1M183.6 352.6l-0.2 1.0M195.9 387.1l1.5 0.5M185.4 375.6l0.2 0.4M193.1 382.7l0.1 0.0M205.0 353.2l1.0 0.0M206.3 354.8l-0.1 0.2M194.9 358.5l-0.0 0.0M172.2 354.9l-0.1 1.3M174.4 347.6l-1.4 0.3M177.8 361.7l1.0 0.3M195.3 382.3l-0.3 0.4M198.8 325.4l-1.6 0.5M202.7 336.5l-0.2 0.3M176.4 384.6l0.2 0.0M200.0 367.3l-0.4 0.4M182.9 383.8l-0.8 1.4M170.8 333.3l0.3 1.2M202.3 373.3l0.3 0.1M202.3 378.0l-1.1 1.0M177.6 331.9l0.8 0.3M186.4 341.4l-0.4 1.3M203.4 325.5l0.4 0.7M208.1 369.2l-0.0 1.0M177.4 329.8l0.1 1.5M168.6 386.8l0.2 0.0M172.8 372.1l1.0 0.9M204.8 331.6l0.0 0.1M197.7 385.3l0.3 0.1M190.3 334.0l1.1 0.2M166.5 331.6l0.0 0.1M183.3 331.6l-1.2 0.5M198.1 379.8l0.1 0.5M167.2 363.9l-0.5 0.4" stroke="#e818e8" stroke-width="0.85" stroke-linecap="round" fill="none" opacity="0.75"/>
<path d="M202.3 343.6h.01M194.9 374.5h.01M175.7 385.6h.01M179.4 371.1h.01M185.5 359.7h.01M185.2 334.6h.01M202.4 350.3h.01M201.8 350.1h.01M202.0 364.4h.01M199.4 388.1h.01M176.6 366.7h.01M178.3 352.0h.01M177.6 347.6h.01M167.6 350.0h.01M171.4 325.1h.01M178.8 368.3h.01M186.5 382.8h.01M200.2 363.6h.01M166.4 372.7h.01M173.0 388.4h.01M167.3 367.7h.01M203.0 366.2h.01M197.0 383.8h.01M199.0 348.7h.01M177.7 336.6h.01M193.2 362.1h.01M196.4 367.2h.01M207.0 388.7h.01M175.0 363.6h.01M201.7 382.5h.01M207.1 352.5h.01M174.3 386.9h.01M169.4 322.4h.01M170.0 334.3h.01M196.3 384.5h.01M195.2 345.3h.01M195.5 344.3h.01M177.2 376.2h.01M193.5 369.9h.01M185.9 332.6h.01M207.8 350.9h.01M178.7 332.6h.01M196.9 330.0h.01M181.0 385.2h.01M189.0 387.5h.01M196.6 324.0h.01M191.5 335.6h.01M193.4 383.3h.01M188.6 334.2h.01M200.2 342.6h.01M166.2 348.8h.01M202.0 323.8h.01M175.4 349.8h.01M176.2 385.5h.01M203.8 330.6h.01M208.6 325.7h.01M185.7 340.2h.01M185.6 351.8h.01M167.2 371.0h.01M173.5 380.1h.01M193.7 376.4h.01M192.1 347.3h.01M172.2 363.1h.01M177.5 343.0h.01M205.2 368.5h.01M192.1 371.0h.01M196.5 360.0h.01M176.2 359.4h.01M200.9 357.2h.01M194.9 325.4h.01M173.8 356.4h.01M190.1 377.8h.01M187.3 333.2h.01M191.4 358.5h.01M199.4 327.0h.01M168.7 322.8h.01M197.6 351.0h.01M176.9 350.0h.01M202.9 345.4h.01M171.4 373.7h.01M192.9 376.6h.01M203.8 388.0h.01M180.1 336.2h.01M178.7 356.8h.01M184.2 343.2h.01M205.8 331.5h.01M184.2 325.3h.01M191.8 344.9h.01M197.0 337.7h.01M197.6 322.0h.01M177.6 379.3h.01M188.3 326.4h.01M168.7 337.8h.01M208.3 329.6h.01M187.4 326.6h.01M181.3 385.9h.01M180.4 339.2h.01M166.8 335.1h.01M207.5 334.6h.01M192.6 373.6h.01M201.1 345.0h.01M195.0 357.8h.01M177.8 358.5h.01M198.9 368.9h.01M201.2 374.3h.01M196.6 371.5h.01M195.0 388.2h.01M186.0 328.8h.01M180.5 335.6h.01M169.6 351.3h.01M196.9 357.5h.01M194.0 364.8h.01M192.9 375.6h.01M188.0 378.9h.01M175.1 356.5h.01M203.5 380.7h.01M170.5 364.6h.01M181.9 353.6h.01M187.6 340.8h.01M197.7 330.2h.01M175.5 350.7h.01M190.7 365.7h.01M208.2 358.1h.01M184.5 347.8h.01M201.8 373.6h.01M173.6 322.6h.01M195.9 326.3h.01M195.2 387.0h.01M205.1 344.0h.01M194.1 375.6h.01M193.4 339.6h.01M167.4 355.1h.01M196.8 377.8h.01M166.5 333.1h.01M197.2 336.9h.01M188.9 373.8h.01M204.4 324.5h.01M186.4 326.6h.01M184.8 324.4h.01M193.9 382.0h.01M204.5 354.2h.01M208.7 339.1h.01M198.9 340.3h.01M203.7 328.2h.01M190.2 327.3h.01M169.2 353.7h.01M186.7 326.2h.01M176.8 367.4h.01M196.7 354.8h.01M174.1 340.9h.01M184.9 344.1h.01M166.3 325.1h.01M190.8 381.0h.01M168.5 330.4h.01M167.5 383.7h.01M183.9 326.0h.01M192.7 347.8h.01M182.1 336.1h.01M197.1 359.6h.01M188.2 336.8h.01M171.9 322.4h.01M170.8 353.0h.01M190.6 345.8h.01M173.4 374.1h.01M168.7 364.2h.01M201.2 358.6h.01M180.0 346.5h.01M187.9 367.2h.01M173.7 379.3h.01M184.0 347.6h.01M193.5 384.3h.01M186.9 372.4h.01M190.5 387.6h.01M195.2 360.2h.01M190.0 326.8h.01M199.2 328.9h.01M208.4 323.7h.01M206.4 387.0h.01M167.9 380.0h.01M166.9 365.6h.01M201.2 352.3h.01M189.2 359.7h.01M190.7 348.7h.01M166.2 362.2h.01M185.2 356.4h.01M181.5 332.7h.01M194.7 323.5h.01M201.9 351.6h.01M167.9 339.3h.01M168.9 323.2h.01M181.6 355.1h.01M201.6 386.7h.01M171.0 327.4h.01M195.3 388.4h.01M186.4 369.8h.01M171.2 340.3h.01M170.0 356.4h.01M167.7 352.2h.01M186.5 332.6h.01M186.8 327.5h.01M171.7 351.6h.01M179.4 349.3h.01M195.0 348.0h.01M171.8 346.5h.01M173.6 387.9h.01M208.1 383.4h.01M187.8 376.8h.01M180.4 380.9h.01M206.2 356.6h.01M185.6 380.8h.01M183.9 376.1h.01M178.7 373.4h.01M194.4 376.8h.01M180.4 331.4h.01M173.8 328.7h.01M178.4 369.5h.01M167.0 368.5h.01M194.8 359.0h.01M205.5 376.2h.01M178.6 385.8h.01" stroke="#18cfe6" stroke-width="0.6" stroke-linecap="round" fill="none" opacity="0.55"/>
<path d="M183.9 364.6l-0.1 0.3M185.6 375.6l-0.7 0.0M168.8 339.2l1.2 0.3M184.9 367.0l-0.4 0.8M189.7 384.5l-0.4 0.3M188.2 387.6l0.1 0.1M170.0 323.6l0.2 1.0M192.2 329.5l1.0 0.8M205.2 332.0l-0.5 0.4M205.2 374.4l-0.6 0.4M193.2 374.5l0.0 0.0M182.7 323.4l-0.9 0.1M176.9 366.2l-0.1 1.0M184.2 323.7l-0.9 0.8M204.9 339.8l0.0 0.5M191.6 368.1l-1.0 0.8M203.4 331.3l0.2 0.2M203.9 346.3l0.1 0.1M190.8 376.1l-0.5 0.3M174.2 388.1l-0.2 1.3M207.8 359.2l-0.4 0.4M168.9 356.4l-0.2 0.4M175.5 333.8l0.0 0.5M184.5 323.0l0.5 0.4M201.9 326.8l-0.3 0.2M198.8 336.2l0.6 0.0M206.8 335.7l0.5 0.5M198.5 386.5l-0.8 0.6M185.4 387.1l-0.1 0.3M192.3 341.0l-1.2 0.0M171.7 323.2l0.5 0.7M169.3 383.8l-0.6 0.8M180.4 324.4l0.5 0.9M182.5 387.0l-0.5 0.3M167.5 381.2l-0.2 0.8M188.2 333.2l0.1 0.1M202.7 362.8l1.0 0.7M166.8 343.3l0.2 0.9M188.0 352.5l-0.3 0.2M194.9 342.6l-0.6 1.1M192.9 347.3l-0.8 0.5M208.3 327.4l-0.6 0.0M176.3 330.3l0.2 0.7M185.0 374.1l-0.0 0.0M178.0 349.3l0.6 0.4M204.7 366.1l0.2 0.3M173.5 332.4l-0.1 0.8M178.1 343.8l1.3 0.2M167.2 343.4l0.6 0.4M179.7 336.8l0.2 0.3M205.5 373.5l0.4 0.2M208.3 340.3l0.3 0.0M174.7 380.0l-0.0 0.3M208.4 387.2l-0.0 0.0M184.3 348.5l0.1 0.3M169.7 344.2l0.8 0.4M206.5 366.6l-0.2 0.3M173.5 371.0l-1.2 0.0M176.1 372.2l-0.4 1.3M180.0 346.3l-0.0 0.9M177.4 342.1l-0.3 0.1M174.0 328.7l-0.6 0.7M191.8 387.3l-0.4 1.2M189.8 328.9l0.0 0.1M182.3 358.4l0.1 0.3M193.6 323.0l0.1 0.3M186.3 377.9l0.9 0.7M185.3 377.3l-0.5 0.2M207.0 373.4l-0.4 0.2M200.1 330.5l0.1 0.2M194.6 365.7l0.3 0.1M190.6 352.6l0.1 1.3M200.4 337.0l-0.6 1.0M170.9 360.9l-1.2 0.6M172.6 355.8l0.1 0.3M182.9 357.8l0.2 0.7M205.9 368.5l-0.2 1.3M185.4 380.3l0.2 0.2M175.6 364.8l0.4 0.1M167.9 354.7l-0.2 0.2M169.8 358.3l0.8 0.3M166.2 387.6l-0.0 0.0M207.0 379.3l-0.1 0.4M194.1 332.6l-0.5 1.2M192.2 360.8l0.4 0.4M175.3 358.7l1.1 0.2M196.5 377.1l-0.9 0.5M167.3 330.1l1.0 0.9M196.9 346.4l0.3 0.3M200.3 359.7l-0.2 1.1M203.2 350.5l0.2 0.7M190.4 327.6l0.3 0.4M179.0 334.0l0.1 0.0M200.0 356.4l-0.1 0.1M178.3 327.5l0.0 0.0M185.1 364.0l0.4 0.7M166.9 335.3l0.9 0.9M183.6 353.2l0.1 0.1M191.1 366.9l0.8 0.9M197.0 381.1l1.1 0.5M195.2 379.9l-0.6 0.5M185.9 353.0l-0.3 0.3M204.9 329.2l-0.1 0.2M180.6 373.2l0.1 0.2M199.2 382.2l0.3 0.4M199.8 373.6l0.2 0.1M193.2 381.2l0.3 0.0M177.0 365.4l-0.4 0.4M183.9 368.8l0.1 0.3M199.2 365.3l0.4 0.0M172.2 372.0l-0.4 0.0M192.5 382.2l-0.1 0.2M167.4 388.2l-0.4 0.5M191.0 380.1l0.3 0.9M174.7 346.9l1.1 0.6M196.9 384.0l-0.5 0.6M180.4 338.8l0.1 0.0M206.0 363.5l-1.2 0.2M201.7 359.2l-0.4 0.1M179.5 359.6l0.3 0.1M193.4 368.9l0.8 1.0M170.0 355.1l-0.6 0.2M169.6 348.2l0.6 0.2M193.5 356.0l-0.9 0.5M205.3 352.7l0.9 0.4M172.8 330.2l0.0 0.3M184.1 377.1l0.0 0.1M207.0 350.5l-0.2 0.0M171.7 387.1l0.4 0.3M194.7 329.0l-0.1 0.0M197.4 351.2l0.3 0.5M184.7 360.0l-0.2 0.0M183.2 332.8l0.3 0.1M174.6 335.5l-0.2 1.0M198.7 381.9l0.6 0.2M168.6 369.0l1.2 0.6M186.2 328.3l0.0 0.1M172.9 341.9l-0.4 0.3M202.1 362.5l-1.0 0.6M185.4 363.2l0.4 0.1" stroke="#8fa4b8" stroke-width="0.7" stroke-linecap="round" fill="none" opacity="0.6"/>
<path d="M200.3 353.5h.01M205.0 384.5h.01M189.8 326.9h.01M169.4 343.8h.01M196.1 374.2h.01M187.3 388.0h.01M169.4 322.1h.01M194.0 334.2h.01M182.2 343.4h.01M199.5 329.8h.01M179.6 341.1h.01M189.6 341.8h.01M180.1 351.2h.01M179.7 373.8h.01M178.7 382.0h.01M171.7 329.1h.01M203.8 379.2h.01M199.3 351.1h.01M186.6 343.5h.01M198.2 328.8h.01M178.0 331.5h.01M184.7 329.3h.01M183.3 341.5h.01M200.2 323.7h.01M203.1 335.1h.01M176.0 327.1h.01M192.3 373.2h.01M203.9 359.4h.01M170.7 388.7h.01M195.4 387.2h.01M179.3 342.1h.01M179.1 370.2h.01M206.3 347.5h.01M168.7 364.8h.01M172.3 348.6h.01M193.8 351.2h.01M189.5 342.0h.01M170.0 385.9h.01M181.7 330.1h.01M184.3 335.5h.01" stroke="#ffffff" stroke-width="0.6" stroke-linecap="round" fill="none" opacity="0.7"/>
<ellipse cx="189" cy="349" rx="20" ry="18" fill="#f2e21c" opacity="0.28" filter="url(#b12)"/>
<g fill="#f2e21c" opacity="0.97" filter="url(#b3)">
<ellipse cx="185.4" cy="338.6" rx="3.8" ry="3.4" transform="rotate(95 185.4 338.6)"/>
<ellipse cx="178.3" cy="353.8" rx="2.6" ry="1.2" transform="rotate(116 178.3 353.8)"/>
<ellipse cx="183.6" cy="359.5" rx="3.8" ry="2.5" transform="rotate(116 183.6 359.5)"/>
<ellipse cx="192.9" cy="349.8" rx="4.1" ry="3.8" transform="rotate(38 192.9 349.8)"/>
<ellipse cx="186.4" cy="343.4" rx="3.3" ry="1.7" transform="rotate(50 186.4 343.4)"/>
<ellipse cx="202.0" cy="358.2" rx="4.1" ry="3.0" transform="rotate(65 202.0 358.2)"/>
<ellipse cx="195.7" cy="351.2" rx="2.8" ry="1.7" transform="rotate(20 195.7 351.2)"/>
<ellipse cx="195.4" cy="339.7" rx="3.3" ry="1.9" transform="rotate(149 195.4 339.7)"/>
<ellipse cx="201.3" cy="354.8" rx="4.0" ry="2.1" transform="rotate(172 201.3 354.8)"/>
<ellipse cx="176.2" cy="345.6" rx="3.5" ry="2.9" transform="rotate(92 176.2 345.6)"/>
<ellipse cx="183.6" cy="345.9" rx="3.8" ry="3.1" transform="rotate(113 183.6 345.9)"/>
<ellipse cx="202.6" cy="351.9" rx="3.1" ry="2.5" transform="rotate(53 202.6 351.9)"/>
<ellipse cx="195.8" cy="338.0" rx="3.0" ry="2.0" transform="rotate(30 195.8 338.0)"/>
<ellipse cx="205.0" cy="345.7" rx="3.4" ry="2.2" transform="rotate(50 205.0 345.7)"/>
<ellipse cx="195.0" cy="343.1" rx="3.0" ry="2.1" transform="rotate(164 195.0 343.1)"/>
<ellipse cx="201.8" cy="356.3" rx="2.7" ry="1.6" transform="rotate(95 201.8 356.3)"/>
<ellipse cx="185.0" cy="337.8" rx="3.1" ry="2.9" transform="rotate(138 185.0 337.8)"/>
<ellipse cx="201.5" cy="355.9" rx="4.0" ry="3.0" transform="rotate(6 201.5 355.9)"/>
<ellipse cx="185.6" cy="338.3" rx="3.2" ry="2.0" transform="rotate(67 185.6 338.3)"/>
<ellipse cx="175.7" cy="346.7" rx="2.8" ry="1.9" transform="rotate(129 175.7 346.7)"/>
<ellipse cx="192.9" cy="350.1" rx="3.0" ry="1.4" transform="rotate(162 192.9 350.1)"/>
<ellipse cx="181.7" cy="348.5" rx="3.1" ry="1.4" transform="rotate(130 181.7 348.5)"/>
<ellipse cx="198.5" cy="355.0" rx="3.2" ry="2.8" transform="rotate(110 198.5 355.0)"/>
<ellipse cx="188.4" cy="357.8" rx="2.8" ry="1.5" transform="rotate(130 188.4 357.8)"/>
<ellipse cx="200.0" cy="341.9" rx="3.6" ry="3.3" transform="rotate(80 200.0 341.9)"/>
<ellipse cx="185.9" cy="345.6" rx="3.9" ry="2.3" transform="rotate(18 185.9 345.6)"/>
</g>
<g fill="#f2e21c" opacity="0.95" filter="url(#b3)">
<ellipse cx="192.0" cy="328.0" rx="1.2" ry="1.6" transform="rotate(0 192.0 328.0)"/>
<ellipse cx="175.0" cy="372.0" rx="1.3" ry="1.0" transform="rotate(0 175.0 372.0)"/>
<ellipse cx="203.0" cy="336.0" rx="1.0" ry="1.4" transform="rotate(0 203.0 336.0)"/>
</g>
<text x="172.60" y="343.00" font-size="6.0" fill="#e8d81c" textLength="6.80" lengthAdjust="spacingAndGlyphs">nA</text>
<text x="184.20" y="374.90" font-size="6.0" fill="#e8d81c" textLength="18.00" lengthAdjust="spacingAndGlyphs">FG→nA</text>
<text x="181.30" y="380.60" font-size="6.0" fill="#e020e0" textLength="25.70" lengthAdjust="spacingAndGlyphs">tdTomato</text>
<text x="180.50" y="386.40" font-size="6.0" fill="#18bcd6" textLength="23.00" lengthAdjust="spacingAndGlyphs">SypEGFP</text>
</g>
<clipPath id="c6"><rect x="211.40" y="321.90" width="42.60" height="67.10"/></clipPath>
<g clip-path="url(#c6)">
<rect x="211.40" y="321.90" width="42.60" height="67.10" fill="#000" />
<rect x="211.40" y="321.90" width="42.60" height="67.10" fill="#4a5c62" opacity="0.26"/>
<path d="M250.9 333.5h.01M252.7 337.9h.01M231.2 382.1h.01M226.6 356.0h.01M218.3 386.4h.01M253.4 333.4h.01M216.6 353.6h.01M233.5 373.9h.01M226.0 361.5h.01M218.2 336.2h.01M214.8 358.5h.01M235.4 363.3h.01M251.3 342.5h.01M226.0 353.0h.01M251.7 342.5h.01M223.8 350.5h.01M240.8 340.7h.01M218.8 371.0h.01M235.9 360.8h.01M212.0 338.6h.01M215.7 346.4h.01M250.0 388.3h.01M247.5 346.7h.01M235.5 382.1h.01M226.0 348.7h.01M241.8 344.9h.01M231.6 346.2h.01M246.5 356.7h.01M215.6 323.0h.01M238.8 329.7h.01M239.9 336.8h.01M234.0 344.9h.01M239.3 330.8h.01M228.8 366.0h.01M222.5 388.4h.01M253.6 386.8h.01M251.1 385.1h.01M235.7 378.1h.01M228.7 326.3h.01M250.8 383.6h.01M222.4 347.1h.01M221.4 369.7h.01M218.6 376.5h.01M213.0 349.0h.01M244.7 354.5h.01M217.3 323.9h.01M240.4 327.0h.01M223.4 362.3h.01M224.6 324.4h.01M245.3 370.4h.01M237.5 328.6h.01M232.0 386.6h.01M233.2 339.0h.01M251.3 345.2h.01M233.7 332.9h.01M248.1 367.7h.01M234.0 355.0h.01M225.9 352.7h.01M233.2 323.2h.01M241.8 372.5h.01M212.6 331.0h.01M241.8 345.1h.01M217.4 368.7h.01M253.3 345.6h.01M236.6 358.8h.01M235.1 361.9h.01M250.3 379.7h.01M249.2 368.1h.01M243.8 372.6h.01M243.0 367.9h.01M243.7 325.8h.01M218.6 365.6h.01M229.4 337.3h.01M238.9 335.5h.01M243.6 343.3h.01M250.4 343.1h.01M252.5 343.9h.01M244.7 331.1h.01M232.8 345.9h.01M248.1 369.7h.01M235.7 329.5h.01M233.7 337.9h.01M215.7 369.1h.01M234.7 389.0h.01M247.3 324.8h.01M251.6 357.5h.01M253.6 342.6h.01M231.3 368.5h.01M222.3 349.1h.01M225.7 344.7h.01M234.4 355.5h.01M249.1 338.4h.01M221.7 341.3h.01M211.6 344.0h.01M226.2 328.2h.01M233.5 327.8h.01M245.3 385.1h.01M237.3 335.4h.01M217.9 326.0h.01M219.2 378.9h.01M244.0 379.7h.01M227.0 359.2h.01M241.8 366.2h.01M239.0 323.9h.01M253.8 360.7h.01M223.4 343.8h.01M243.8 384.0h.01M213.0 336.3h.01M213.5 365.3h.01M237.1 363.5h.01M219.5 349.9h.01M248.9 343.7h.01M220.0 336.1h.01M245.5 337.8h.01M241.5 363.0h.01M246.3 326.0h.01M224.2 386.1h.01M232.6 327.7h.01M216.2 334.4h.01M239.5 343.4h.01M215.5 339.5h.01M245.5 370.2h.01M231.8 339.7h.01M215.5 329.4h.01M249.0 363.0h.01M211.9 374.3h.01M251.6 348.5h.01M249.4 344.0h.01M226.1 349.4h.01M233.2 347.3h.01M221.5 327.4h.01M224.0 360.0h.01M248.3 369.0h.01M233.1 349.2h.01M218.2 368.5h.01M245.3 345.5h.01M243.4 378.4h.01M226.4 322.3h.01M246.9 356.3h.01M214.6 362.6h.01M238.2 363.7h.01M239.1 358.5h.01M213.2 381.9h.01M239.5 379.7h.01M233.4 367.6h.01M231.6 372.1h.01M215.2 343.8h.01M244.3 345.7h.01M233.8 345.6h.01M244.3 329.9h.01M224.0 326.2h.01M214.4 348.5h.01M251.6 333.0h.01M237.7 371.8h.01M241.5 324.6h.01M212.5 370.7h.01M221.0 374.2h.01M239.2 387.1h.01M228.2 375.6h.01M218.0 339.8h.01M227.5 346.7h.01M234.5 340.8h.01M216.6 353.7h.01M232.4 376.7h.01M235.8 352.8h.01M220.8 370.7h.01M249.0 326.2h.01M223.4 371.9h.01M221.9 326.6h.01M221.3 387.6h.01M217.7 328.9h.01M240.4 332.0h.01M246.3 340.4h.01M231.6 355.5h.01M249.7 384.4h.01M220.7 341.6h.01M215.4 332.2h.01M247.8 338.4h.01M233.9 359.1h.01M223.8 326.3h.01M211.6 338.8h.01M248.5 337.1h.01M223.5 384.8h.01M250.3 326.8h.01M243.9 351.0h.01M229.9 377.2h.01M211.7 357.5h.01M248.7 386.7h.01M245.2 355.5h.01M223.3 386.5h.01M211.5 329.3h.01M223.5 386.8h.01M228.2 381.0h.01M214.7 340.9h.01M223.1 322.4h.01M244.6 374.7h.01M237.8 344.0h.01M239.2 370.5h.01M224.0 351.9h.01M211.6 383.3h.01M212.7 334.1h.01M249.4 324.9h.01M219.1 350.6h.01M254.0 381.6h.01M220.4 366.9h.01M221.5 348.8h.01M248.1 335.6h.01M222.4 382.7h.01M220.6 327.7h.01M233.9 344.1h.01M226.7 337.6h.01M240.7 386.5h.01M219.1 333.7h.01M214.5 358.4h.01M214.5 332.9h.01M245.5 381.7h.01M232.7 383.2h.01M221.9 367.5h.01M241.9 362.6h.01M225.9 333.1h.01M219.0 374.4h.01M241.5 359.1h.01M244.2 325.6h.01M246.6 364.9h.01M240.6 336.2h.01M251.4 341.6h.01M225.9 388.9h.01M234.6 369.3h.01M245.8 378.8h.01M232.8 333.9h.01M235.0 335.2h.01M233.1 330.4h.01M253.6 349.4h.01M242.4 364.4h.01M228.7 346.8h.01M211.6 379.3h.01M213.9 336.2h.01M233.3 338.5h.01M242.4 380.5h.01M232.5 387.4h.01M219.9 366.3h.01M254.0 326.6h.01M241.2 364.2h.01M244.6 365.3h.01M248.0 341.7h.01M236.0 323.2h.01M212.1 372.1h.01M225.8 369.8h.01M216.5 364.8h.01M253.4 384.3h.01M239.1 323.9h.01M231.1 367.8h.01M233.2 373.9h.01M227.1 375.1h.01M242.7 366.1h.01M225.6 358.1h.01M234.2 331.1h.01M220.4 367.6h.01M221.6 387.3h.01M214.1 331.4h.01M223.1 325.2h.01M217.3 341.0h.01M251.8 346.4h.01M234.2 327.7h.01M226.9 382.5h.01M249.6 353.2h.01M243.9 378.5h.01M227.9 343.8h.01M249.8 338.4h.01M244.8 340.5h.01M253.6 387.6h.01M226.2 329.0h.01M253.9 361.9h.01M247.8 346.2h.01M238.5 333.4h.01M221.2 374.0h.01M220.1 337.8h.01M241.4 337.4h.01M250.5 385.7h.01M237.5 376.9h.01" stroke="#e818e8" stroke-width="0.65" stroke-linecap="round" fill="none" opacity="0.6"/>
<path d="M248.0 329.9l0.3 0.8M247.1 329.2l-0.8 0.3M245.2 338.4l0.3 0.2M219.1 375.8l0.4 0.3M229.7 325.9l0.2 1.1M239.3 370.5l0.2 0.1M227.8 345.9l-0.3 0.1M233.3 328.5l-0.2 0.9M235.8 341.4l-0.9 0.5M245.9 350.1l-0.3 0.6M216.0 357.4l1.1 0.3M233.4 385.6l1.4 0.1M237.9 339.0l0.5 1.7M236.3 366.7l0.3 1.7M246.7 340.0l0.5 0.3M232.2 354.7l-0.3 0.5M223.3 363.5l1.3 1.1M225.3 336.5l-0.6 0.8M250.2 375.9l-1.0 0.9M245.9 341.0l0.0 0.0M223.7 384.6l-1.3 0.7M220.7 332.6l0.1 0.1M215.7 375.6l-0.0 0.9M227.2 326.0l1.4 0.6M242.9 336.9l-1.5 0.4M231.9 386.4l0.4 0.9M225.1 338.6l0.1 0.3M217.4 374.6l-0.6 0.6M233.4 325.4l0.1 0.0M212.4 366.0l1.2 1.1M247.4 331.3l-0.2 1.5M216.5 329.7l-1.3 0.6M219.6 363.2l0.7 1.6M238.1 363.8l0.7 0.2M250.4 371.8l-0.4 0.4M250.2 359.6l0.5 0.7M229.0 363.6l0.9 0.8M223.1 348.4l0.4 0.3M250.5 361.0l-1.1 0.4M216.6 334.3l0.3 0.3M237.1 346.3l0.1 0.3M225.6 371.2l-0.3 0.1M217.0 387.0l-0.0 0.0M231.5 334.8l-1.5 0.3M249.3 339.0l0.2 0.1M241.1 337.9l0.2 0.2M235.2 326.3l0.5 0.1M253.0 334.5l-1.0 0.5M213.6 384.6l1.0 1.4M215.4 323.6l0.9 1.2M212.5 366.6l-0.1 0.4M244.7 385.7l0.2 0.4M249.5 372.7l-0.9 1.2M232.7 367.1l-0.6 1.1M245.0 360.7l-1.6 0.1M211.8 331.3l1.3 0.1M245.3 379.1l1.0 1.3M214.5 330.7l0.2 1.4M249.0 372.1l1.2 0.2M236.5 368.4l-0.7 0.2M234.1 354.9l-1.3 1.0M238.3 356.9l0.2 1.2M253.4 324.7l0.5 1.1M226.0 335.1l-0.2 0.0M242.6 365.2l-0.3 1.0M253.9 325.0l-0.9 1.4M217.1 357.9l1.5 0.8M219.5 381.7l-0.1 0.4M238.7 346.9l0.3 1.0M241.9 348.7l1.5 1.0M227.8 374.5l-1.6 0.2M245.8 357.6l-0.4 1.4M240.1 370.4l1.1 1.0M234.1 328.8l0.9 1.5M249.0 368.9l1.6 0.9M221.2 381.1l0.1 1.4M230.8 370.7l0.5 0.7M237.4 364.2l-1.2 0.8M216.8 383.6l-0.8 0.2M234.0 387.1l0.1 0.2M233.6 355.7l0.3 0.2M241.7 361.5l0.4 0.4M236.3 347.5l-0.0 0.0M216.7 357.3l0.2 0.2M249.4 356.5l-0.4 1.7M253.2 375.3l-0.4 1.3M216.5 382.5l1.2 0.1M253.1 372.2l-0.6 0.7M216.5 381.3l-0.4 0.3M226.1 344.3l-1.4 0.4M229.6 381.8l-0.2 0.9M221.8 333.0l-1.2 0.7M218.8 375.7l0.8 1.0M240.0 377.4l0.0 0.0M247.5 345.7l0.1 0.5M251.8 351.5l-0.1 0.1M230.7 357.5l-0.6 0.1M248.9 376.5l-0.6 1.2M239.0 374.8l1.4 0.6M234.8 374.2l0.3 0.2" stroke="#e818e8" stroke-width="0.85" stroke-linecap="round" fill="none" opacity="0.75"/>
<path d="M229.1 379.3h.01M253.2 333.3h.01M219.2 378.6h.01M241.6 364.3h.01M222.8 330.7h.01M220.2 379.7h.01M252.8 361.4h.01M238.6 361.1h.01M219.1 383.8h.01M230.1 388.9h.01M231.8 323.2h.01M215.6 335.4h.01M223.4 381.9h.01M219.6 370.4h.01M239.5 339.5h.01M242.8 340.2h.01M248.1 353.1h.01M235.6 381.1h.01M230.9 344.0h.01M221.8 383.2h.01M241.3 336.5h.01M224.5 324.1h.01M222.7 348.6h.01M214.4 337.9h.01M213.3 370.0h.01M248.3 323.8h.01M245.5 358.8h.01M250.8 328.1h.01M223.2 388.9h.01M226.8 369.0h.01M224.1 384.8h.01M236.8 362.3h.01M251.3 374.2h.01M240.7 385.8h.01M253.2 322.0h.01M244.9 322.3h.01M222.1 336.7h.01M217.3 343.8h.01M242.7 374.1h.01M230.3 379.4h.01M228.5 386.4h.01M229.6 364.1h.01M230.1 324.1h.01M220.3 323.2h.01M248.1 341.9h.01M227.2 369.4h.01M242.6 369.3h.01M215.1 379.5h.01M243.4 368.7h.01M224.6 356.9h.01M238.4 343.7h.01M232.7 324.0h.01M251.1 357.4h.01M227.1 378.7h.01M216.2 367.3h.01M240.7 373.0h.01M216.3 363.6h.01M218.1 388.4h.01M250.5 383.0h.01M241.4 381.2h.01M220.6 325.0h.01M250.6 328.8h.01M211.7 338.6h.01M253.9 373.0h.01M211.7 372.1h.01M238.2 359.1h.01M224.3 382.0h.01M253.3 325.4h.01M215.8 380.7h.01M216.9 344.0h.01M228.2 381.6h.01M243.5 344.2h.01M235.0 324.1h.01M227.6 348.5h.01M224.0 366.9h.01M245.5 360.7h.01M249.1 330.1h.01M212.4 369.1h.01M246.1 388.5h.01M219.5 382.3h.01M242.5 336.3h.01M221.8 330.3h.01M226.7 382.6h.01M225.3 351.9h.01M245.4 370.7h.01M227.9 382.6h.01M246.0 338.1h.01M214.7 369.3h.01M241.8 369.1h.01M246.1 334.7h.01M251.9 364.5h.01M246.2 360.8h.01M215.6 331.0h.01M237.2 342.5h.01M225.6 341.9h.01M228.7 350.7h.01M234.4 376.7h.01M250.4 348.8h.01M211.8 377.9h.01M230.0 369.8h.01M228.1 369.8h.01M246.6 352.2h.01M252.2 356.0h.01M227.2 376.7h.01M250.1 354.6h.01M221.9 342.3h.01M246.2 352.6h.01M241.0 379.5h.01M238.7 351.1h.01M219.7 353.0h.01M229.2 337.5h.01M246.7 361.4h.01M229.9 354.5h.01M253.4 353.2h.01M226.4 352.5h.01M231.5 374.4h.01M253.8 336.1h.01M235.4 328.7h.01M241.7 361.5h.01M236.6 382.0h.01M229.9 338.0h.01M244.6 348.4h.01M240.2 371.9h.01M250.9 331.8h.01M232.9 357.7h.01M223.1 346.7h.01M229.0 378.8h.01M252.8 375.0h.01M253.8 379.7h.01M230.6 347.7h.01M235.8 377.9h.01M234.4 383.8h.01M234.5 339.8h.01M253.0 369.1h.01M215.0 385.2h.01M247.6 327.6h.01M240.6 373.7h.01M212.2 329.4h.01M236.6 336.5h.01M234.8 360.1h.01M214.4 370.6h.01M214.2 384.6h.01M234.7 364.9h.01M211.6 322.4h.01M230.9 342.4h.01M219.4 370.3h.01M253.1 339.6h.01M232.2 388.7h.01M212.5 338.1h.01M253.9 360.6h.01M215.1 361.8h.01M246.8 385.1h.01M253.5 337.7h.01M212.4 338.9h.01M248.8 334.9h.01M214.9 349.2h.01M234.7 385.4h.01M234.6 328.6h.01M242.4 383.6h.01M221.0 332.6h.01M233.0 354.3h.01M215.4 388.5h.01M235.9 333.3h.01M242.1 387.4h.01M247.0 322.5h.01M216.4 386.2h.01M238.8 350.8h.01M245.9 353.1h.01M230.7 334.7h.01M238.2 364.3h.01M241.9 339.8h.01M213.0 335.4h.01M240.6 378.6h.01M222.0 369.7h.01M221.7 337.8h.01M230.6 379.6h.01M240.7 382.9h.01M219.5 322.7h.01M220.2 322.8h.01M225.6 328.5h.01M222.2 345.9h.01M226.0 376.3h.01M250.6 375.3h.01M239.7 370.1h.01M223.4 335.9h.01M250.0 384.6h.01M219.5 326.5h.01M233.8 376.4h.01M249.1 337.1h.01M222.4 379.5h.01M231.3 341.1h.01M248.5 359.7h.01M247.5 358.3h.01M237.1 336.3h.01M246.2 335.5h.01M239.7 361.6h.01M249.7 343.6h.01M223.2 364.4h.01M253.3 367.8h.01M222.1 340.7h.01M246.7 330.2h.01M249.2 346.6h.01M220.7 334.6h.01M237.2 333.8h.01M251.2 383.5h.01M237.2 351.2h.01M227.6 360.9h.01M237.5 340.2h.01M221.9 383.1h.01M252.3 350.5h.01M238.5 336.9h.01M237.1 381.8h.01M237.7 341.6h.01M218.3 341.6h.01M246.9 371.8h.01M218.2 364.6h.01M250.3 374.3h.01M219.0 388.8h.01M238.6 377.4h.01M225.6 371.4h.01M231.9 331.6h.01M235.9 380.3h.01M245.1 374.6h.01M227.2 367.4h.01M218.1 346.9h.01M239.4 346.4h.01M219.3 326.9h.01M226.5 387.7h.01M223.5 386.5h.01M234.3 343.6h.01M238.0 357.7h.01M212.5 351.8h.01M229.6 356.8h.01M232.9 349.8h.01M220.6 334.2h.01M228.4 336.0h.01M234.2 324.2h.01M220.1 358.0h.01M229.2 361.9h.01M233.1 368.0h.01" stroke="#18cfe6" stroke-width="0.6" stroke-linecap="round" fill="none" opacity="0.55"/>
<path d="M219.7 350.8l-0.0 0.0M223.3 330.7l-0.0 0.2M212.0 328.7l-0.6 0.4M237.0 338.7l-0.1 0.2M230.3 324.3l0.4 0.0M252.5 364.6l0.1 0.1M238.2 344.1l-0.2 0.0M249.9 355.5l0.6 0.4M249.3 324.5l1.3 0.3M240.5 373.3l-0.2 0.3M232.5 364.2l-0.1 0.1M213.2 378.1l0.7 0.4M252.8 370.4l-0.1 0.4M230.8 322.8l1.2 0.3M249.1 340.8l0.0 0.9M231.7 363.8l-0.5 1.3M253.3 323.4l-0.4 0.2M230.8 324.3l0.4 0.3M232.7 353.8l-0.4 0.0M222.1 377.5l0.3 1.2M217.1 363.0l-0.9 0.1M212.4 382.8l-0.3 0.7M252.0 353.4l-0.5 0.3M245.3 348.7l0.5 0.1M218.1 371.8l0.9 1.1M227.7 348.2l1.0 0.9M225.8 351.0l-1.0 0.2M252.0 345.4l-0.5 0.1M228.9 351.8l0.8 0.2M224.1 348.5l-0.2 0.4M219.0 335.8l-0.2 0.4M241.3 340.3l0.1 0.0M225.0 382.3l-0.3 0.9M237.7 347.2l-0.1 0.2M242.1 349.2l0.9 0.1M248.2 327.1l-0.4 0.1M233.4 348.6l0.3 0.4M222.7 383.2l1.0 0.7M232.5 384.4l0.6 0.3M219.6 335.1l-0.6 1.1M222.1 375.0l-0.9 0.6M246.8 377.4l0.8 0.8M242.6 331.7l1.1 0.4M215.7 359.6l0.3 0.0M253.4 353.3l0.4 0.7M223.0 370.6l0.3 1.0M218.8 379.2l-0.1 0.2M248.8 338.6l0.8 0.6M225.9 352.2l0.3 0.3M244.4 347.8l0.1 0.3M228.5 346.3l-0.2 0.4M243.4 339.9l-0.2 0.3M211.7 369.8l-0.0 0.0M237.3 357.8l-0.2 0.1M248.0 335.0l-0.7 0.2M212.7 325.1l-0.8 0.6M216.9 365.4l0.5 0.5M242.8 376.6l-0.6 1.0M241.4 372.3l-0.0 0.8M238.5 377.9l0.7 0.2M232.3 323.0l0.0 0.0M220.4 382.7l-0.0 0.2M246.9 381.0l-0.1 0.8M231.4 323.9l0.1 0.1M221.5 346.2l1.0 0.1M220.2 385.0l-0.2 1.3M243.8 340.4l-0.0 0.7M229.7 343.1l-0.1 0.4M241.4 377.5l0.9 0.0M245.5 339.5l0.4 0.9M246.2 338.7l1.0 0.1M242.5 368.4l-0.1 0.9M231.7 334.9l-0.7 0.9M213.5 353.0l0.0 1.4M225.8 384.1l0.7 0.4M249.7 386.2l0.0 0.0M226.5 322.2l-0.1 0.1M219.3 322.2l-0.8 0.9M250.4 335.4l-0.1 0.1M233.7 327.0l-1.1 0.1M214.7 351.3l0.2 0.3M221.4 336.3l0.1 0.2M232.0 335.9l-0.8 0.7M231.0 378.6l-0.2 0.3M220.2 349.2l0.4 0.5M216.0 383.4l-0.2 0.9M216.3 355.5l-0.3 0.9M225.4 351.8l0.7 1.2M218.8 377.2l1.2 0.0M236.2 338.5l-0.8 0.9M245.7 344.3l-0.3 0.7M230.3 340.8l-0.2 1.1M220.5 340.4l-0.4 0.2M235.1 376.1l-1.2 0.3M219.4 387.0l-0.2 0.3M235.6 332.9l0.6 1.0M226.2 339.3l0.0 0.0M243.8 385.6l-0.1 0.9M247.9 371.9l0.3 1.0M241.8 332.2l0.1 0.6M229.6 335.1l-1.0 0.3M225.7 338.6l1.3 0.0M221.3 373.5l-1.3 0.5M224.7 325.5l-1.2 0.5M230.2 388.9l0.3 0.1M214.9 365.0l-0.8 0.2M215.5 340.0l-0.3 0.1M246.9 347.3l-0.4 0.4M218.0 367.1l0.5 0.1M216.6 349.1l-0.3 0.3M218.2 380.9l-1.2 0.7M228.5 375.2l1.2 0.2M225.9 337.0l-0.3 0.3M217.2 376.9l-0.5 0.4M223.6 331.6l-0.3 0.4M247.1 339.9l0.4 0.1M240.7 348.8l0.7 0.6M211.5 336.0l-1.3 0.2M222.9 355.2l-0.1 0.3M223.8 383.7l-0.4 0.3" stroke="#8fa4b8" stroke-width="0.7" stroke-linecap="round" fill="none" opacity="0.55"/>
<path d="M240.0 330.4h.01M222.6 378.5h.01M233.2 377.3h.01M230.5 358.8h.01M221.3 368.6h.01M249.3 337.6h.01M247.2 345.7h.01M223.0 342.0h.01M252.7 343.7h.01M253.5 356.8h.01M240.6 359.8h.01M252.5 349.4h.01M245.9 377.2h.01M247.7 366.0h.01M246.8 371.3h.01M218.6 361.3h.01M230.0 355.9h.01M224.9 358.3h.01M243.8 333.6h.01M251.6 379.7h.01M241.1 387.9h.01M228.0 327.8h.01M215.6 372.3h.01M212.5 330.8h.01M244.1 335.8h.01M243.4 378.6h.01M231.7 344.8h.01M218.7 348.7h.01M219.1 375.1h.01M226.6 331.9h.01M245.0 333.1h.01M251.0 388.8h.01M215.1 365.4h.01M251.1 363.0h.01M212.6 329.6h.01M249.0 381.6h.01M225.5 334.3h.01M214.5 353.9h.01M234.3 347.7h.01M239.3 383.0h.01M250.1 349.0h.01M227.0 383.2h.01M250.4 372.6h.01M237.7 326.1h.01M227.4 357.3h.01M243.5 347.9h.01M246.3 380.9h.01M235.7 338.6h.01M253.2 386.5h.01M218.1 338.7h.01M242.8 336.7h.01M221.1 386.7h.01M220.0 341.3h.01M234.7 341.4h.01M229.5 375.0h.01M245.5 364.7h.01M244.7 371.0h.01M214.4 359.7h.01M222.8 331.0h.01M234.5 327.0h.01M213.2 328.5h.01M214.6 325.1h.01M243.9 356.9h.01M224.4 357.3h.01M244.0 386.3h.01M211.5 329.3h.01M239.9 376.4h.01M212.5 387.9h.01M236.8 376.5h.01M226.0 342.2h.01M220.7 382.2h.01M248.0 380.9h.01M212.4 327.6h.01M247.1 383.4h.01M251.6 335.0h.01M215.0 335.4h.01M233.2 356.7h.01M242.7 385.0h.01M251.2 340.4h.01M237.4 344.9h.01M238.4 375.3h.01M216.9 357.7h.01M223.2 364.1h.01M228.6 341.9h.01M253.1 348.6h.01M232.8 323.8h.01M244.1 367.3h.01M247.2 370.9h.01M247.2 381.5h.01M219.8 327.5h.01M248.3 381.2h.01M222.9 379.3h.01M219.9 381.1h.01M227.2 322.3h.01M242.4 333.5h.01M246.1 383.2h.01M226.4 330.4h.01M248.2 331.1h.01M218.8 332.7h.01M235.9 346.9h.01M217.1 333.8h.01M223.3 323.1h.01M224.4 385.4h.01M230.2 334.4h.01M229.7 378.0h.01M240.7 357.2h.01M238.7 353.1h.01M250.1 351.1h.01M218.1 388.4h.01M217.1 365.8h.01M222.1 370.7h.01M218.8 370.6h.01M244.6 331.7h.01M213.8 350.0h.01M221.9 367.1h.01M232.4 344.0h.01M234.3 332.1h.01M219.4 388.9h.01M216.8 370.4h.01M249.2 367.5h.01M215.0 342.3h.01M248.8 342.0h.01M251.4 328.5h.01M231.7 369.3h.01M214.6 332.4h.01M238.4 349.3h.01M251.5 323.4h.01M215.1 381.5h.01M245.9 326.3h.01M248.6 331.9h.01M216.6 376.5h.01M221.8 368.2h.01M236.3 337.5h.01M226.0 380.2h.01M217.2 358.3h.01M218.3 371.2h.01M239.2 323.2h.01M245.6 364.3h.01M231.0 361.6h.01M238.4 354.4h.01M219.1 388.9h.01M221.2 324.4h.01M224.8 377.9h.01M235.8 362.0h.01M230.3 371.0h.01M239.3 348.8h.01M234.3 325.5h.01M246.1 332.5h.01M241.5 385.3h.01M235.5 370.8h.01M243.5 368.4h.01M229.9 375.1h.01M222.1 329.7h.01M247.7 348.0h.01M211.9 350.0h.01M248.5 357.7h.01M218.4 343.9h.01M224.2 322.0h.01M218.2 337.2h.01M243.9 334.2h.01M228.3 332.9h.01M215.6 347.1h.01M236.1 332.0h.01M238.9 328.6h.01M229.4 356.7h.01M211.9 343.7h.01M219.3 337.1h.01M227.9 351.4h.01M233.3 371.0h.01M214.9 343.4h.01M239.6 375.5h.01M245.6 325.5h.01M236.9 364.3h.01M213.5 382.6h.01M215.6 361.5h.01M244.4 373.7h.01M229.0 378.4h.01M245.6 322.8h.01M241.4 334.2h.01M235.3 331.3h.01M223.7 335.4h.01M224.7 375.1h.01M233.1 359.7h.01M232.6 370.1h.01M219.2 360.0h.01M245.6 366.9h.01M251.0 335.2h.01M241.0 329.4h.01M253.9 326.7h.01M234.1 362.9h.01M225.3 351.7h.01M213.8 337.0h.01M238.6 324.5h.01M221.9 335.8h.01M248.4 383.7h.01M241.7 340.5h.01M217.1 377.9h.01M220.3 342.9h.01M248.9 387.7h.01M222.6 381.8h.01M234.5 364.9h.01M243.4 352.7h.01M220.7 369.1h.01M247.8 347.9h.01M228.0 344.5h.01M230.4 365.8h.01M231.4 356.9h.01M253.6 328.4h.01M222.7 367.0h.01M241.2 338.9h.01M222.0 384.4h.01M232.7 383.5h.01M229.4 353.1h.01M236.9 331.6h.01M236.8 354.8h.01M240.1 350.8h.01M236.3 335.0h.01M224.0 351.6h.01M228.7 385.5h.01M228.8 344.8h.01M216.1 337.7h.01M237.4 332.3h.01M212.7 373.9h.01M253.9 355.6h.01M248.1 361.7h.01M232.8 376.1h.01M216.4 366.3h.01M237.6 359.4h.01M230.9 323.8h.01M212.1 343.6h.01M221.8 329.0h.01M214.9 374.6h.01M251.8 365.8h.01M233.3 358.9h.01M250.9 333.4h.01M218.4 371.4h.01M253.6 367.6h.01M246.0 345.7h.01M240.2 380.4h.01M213.1 359.2h.01" stroke="#2ee62e" stroke-width="0.65" stroke-linecap="round" fill="none" opacity="0.5"/>
<path d="M214.2 331.8l-0.1 0.0M241.0 336.9l-0.1 0.2M220.9 362.0l0.6 0.6M232.0 350.5l-0.8 0.5M219.3 355.6l-0.2 0.1M234.1 385.9l0.0 0.7M238.5 323.9l-1.5 0.6M231.5 376.6l0.2 0.1M219.0 355.0l0.7 0.3M212.4 344.3l-0.6 0.3M235.6 385.0l-1.5 0.2M241.8 346.2l0.1 0.0M236.3 386.0l-0.7 0.4M245.5 379.5l-0.1 0.4M218.4 336.1l0.6 0.4M244.8 343.0l-0.6 0.3M246.2 355.7l-0.5 0.3M212.3 322.5l0.9 1.1M230.4 359.7l-1.3 0.3M216.1 323.2l-0.4 0.9M237.0 364.8l-1.5 0.0M228.1 333.5l0.0 1.4M230.6 341.9l1.1 0.2M219.4 369.5l0.2 0.1M217.1 350.3l0.1 0.1M212.7 377.2l-0.6 0.3M235.2 385.5l-0.1 0.4M219.7 349.1l-0.0 0.2M239.9 342.5l0.6 0.1M230.4 380.2l-0.8 0.6M226.9 344.9l1.3 0.8M226.3 342.5l-0.4 0.9M236.2 354.0l-0.0 0.4M221.8 371.4l0.5 0.6M236.7 376.7l-1.1 0.9M239.3 380.2l-0.6 0.4M253.7 329.7l0.8 0.9M238.2 368.7l-0.6 0.8M253.2 334.3l-0.2 1.1M249.0 355.2l-1.1 0.7M220.6 324.7l-0.2 0.1M241.4 351.9l-0.8 0.4M219.9 324.5l-1.2 0.2M243.4 370.4l-0.1 0.4M221.4 352.2l0.1 1.0M243.6 323.9l-0.2 0.9M226.7 356.1l-0.0 0.0M237.9 387.6l-0.3 0.4M250.3 356.8l0.1 0.1M232.2 358.8l-0.3 0.1M228.1 383.3l1.0 0.2M228.5 362.2l0.1 0.1M225.4 365.8l0.4 0.9M247.2 354.3l0.8 0.5M246.1 383.7l-0.2 1.0M221.4 383.1l-0.8 0.2M228.4 364.6l0.4 1.3M252.0 343.4l-0.7 0.9M241.3 387.0l-0.5 0.3M241.1 333.2l0.9 0.3M241.7 330.3l-0.4 0.6M247.8 359.3l-0.6 0.2M219.0 374.4l0.4 0.1M213.8 367.8l-0.0 0.4M236.4 348.8l-0.2 0.1M216.7 371.5l-1.1 1.2M213.1 358.4l0.7 0.6M241.1 381.7l1.3 0.5M251.6 354.3l1.1 0.6M213.7 387.9l0.9 1.1M246.9 331.1l0.3 0.1M235.4 356.6l0.1 0.1M222.7 349.1l-0.2 0.0M240.6 335.8l-0.4 1.5M227.5 344.7l0.1 0.5M230.6 388.5l0.2 0.0M219.7 329.7l0.4 1.5M216.7 382.6l0.3 0.2M242.6 323.8l-0.1 0.5M235.7 380.3l-0.4 1.1" stroke="#2ee62e" stroke-width="0.85" stroke-linecap="round" fill="none" opacity="0.65"/>
<ellipse cx="234" cy="350" rx="12" ry="16" fill="#2ee62e" opacity="0.10" filter="url(#b12)"/>
<g fill="#2ee62e" opacity="0.95" filter="url(#b3)">
<ellipse cx="232.3" cy="324.4" rx="1.5" ry="1.2" transform="rotate(0 232.3 324.4)"/>
<ellipse cx="233.2" cy="329.8" rx="1.3" ry="1.6" transform="rotate(20 233.2 329.8)"/>
<ellipse cx="217.9" cy="371.0" rx="2.0" ry="2.8" transform="rotate(10 217.9 371.0)"/>
<ellipse cx="221.0" cy="377.6" rx="1.4" ry="1.8" transform="rotate(0 221.0 377.6)"/>
<ellipse cx="243.2" cy="342.3" rx="1.0" ry="0.9" transform="rotate(0 243.2 342.3)"/>
<ellipse cx="218.0" cy="345.0" rx="0.9" ry="0.7" transform="rotate(0 218.0 345.0)"/>
</g>
<rect x="239.60" y="322.30" width="13.20" height="2.30" fill="#fff" />
<text x="217.40" y="343.50" font-size="6.0" fill="#e8d81c" textLength="7.70" lengthAdjust="spacingAndGlyphs">nA</text>
<text x="236.00" y="373.40" font-size="6.0" fill="#36d836" textLength="15.10" lengthAdjust="spacingAndGlyphs">BChE</text>
<text x="226.30" y="380.40" font-size="6.0" fill="#e020e0" textLength="26.50" lengthAdjust="spacingAndGlyphs">tdTomato</text>
<text x="223.90" y="386.40" font-size="6.0" fill="#18bcd6" textLength="24.10" lengthAdjust="spacingAndGlyphs">SypEGFP</text>
</g>
<text x="263.00" y="317.80" font-size="12" fill="#000" font-weight="bold" stroke="#000" stroke-width="0.35">g</text>
<clipPath id="c7"><rect x="264.00" y="326.80" width="51.30" height="62.20"/></clipPath>
<g clip-path="url(#c7)">
<rect x="264.00" y="326.80" width="51.30" height="62.20" fill="#000" />
<rect x="264.00" y="326.80" width="51.30" height="62.20" fill="#d018d0" opacity="0.13"/>
<path d="M280.6 365.4h.01M264.4 387.9h.01M306.2 388.9h.01M277.5 339.2h.01M266.8 338.9h.01M265.2 369.8h.01M282.8 377.5h.01M303.0 348.5h.01M272.6 348.4h.01M265.6 367.1h.01M273.7 336.1h.01M309.6 354.0h.01M312.5 387.8h.01M298.1 342.3h.01M271.6 342.1h.01M301.8 358.6h.01M279.3 327.9h.01M282.0 351.2h.01M267.6 342.3h.01M279.2 352.7h.01M289.3 362.0h.01M307.6 345.1h.01M268.9 345.7h.01M275.1 362.6h.01M288.4 346.8h.01M268.9 373.5h.01M296.0 365.6h.01M300.1 380.0h.01M265.8 338.5h.01M288.2 370.4h.01M289.9 358.2h.01M279.8 342.0h.01M308.8 387.9h.01M289.6 355.9h.01M270.6 364.2h.01M274.9 365.7h.01M278.3 355.9h.01M308.4 346.2h.01M291.4 346.6h.01M288.9 380.7h.01M289.3 386.8h.01M284.9 355.0h.01M297.1 358.0h.01M298.5 344.9h.01M264.7 353.1h.01M267.3 342.2h.01M294.7 369.7h.01M310.7 369.0h.01M292.5 348.2h.01M288.5 344.7h.01M269.3 360.1h.01M296.4 345.9h.01M301.9 359.8h.01M279.9 379.8h.01M265.1 343.5h.01M280.5 368.6h.01M277.0 387.9h.01M269.4 354.8h.01M288.1 373.1h.01M277.0 336.9h.01M302.2 375.8h.01M293.5 383.0h.01M284.3 354.7h.01M289.6 334.7h.01M306.5 330.6h.01M268.0 383.4h.01M287.2 335.9h.01M309.5 338.6h.01M287.3 327.7h.01M271.3 356.8h.01M300.0 334.8h.01M303.1 366.9h.01M298.5 386.8h.01M288.6 327.1h.01M266.9 381.0h.01M269.6 343.8h.01M297.5 372.6h.01M302.7 361.6h.01M280.8 382.9h.01M264.9 342.8h.01M314.6 338.5h.01M307.2 364.2h.01M296.4 366.2h.01M287.1 379.1h.01M267.1 344.6h.01M303.6 372.7h.01M296.9 369.7h.01M279.1 364.2h.01M293.2 377.5h.01M275.8 344.4h.01M280.5 339.6h.01M301.4 357.4h.01M267.5 382.3h.01M290.8 378.0h.01M302.2 351.6h.01M280.4 361.0h.01M312.2 376.7h.01M313.1 362.4h.01M292.0 345.5h.01M292.2 361.4h.01M303.1 378.9h.01M310.2 342.5h.01M297.2 330.9h.01M278.4 364.4h.01M264.1 380.5h.01M291.7 341.7h.01M285.6 373.6h.01M268.7 383.5h.01M297.7 359.7h.01M273.9 365.7h.01M275.4 331.1h.01M307.7 348.6h.01M303.5 356.9h.01M292.9 350.9h.01M306.0 375.3h.01M283.9 361.5h.01M278.1 383.4h.01M287.5 364.2h.01M293.5 332.9h.01M281.1 375.2h.01M294.2 342.0h.01M272.5 380.8h.01M305.7 381.8h.01M273.1 360.9h.01M286.5 353.3h.01M282.5 366.7h.01M293.4 331.4h.01M266.0 337.8h.01M305.6 380.4h.01M298.4 349.7h.01M291.3 366.6h.01M272.8 386.5h.01M311.1 329.0h.01M277.1 343.9h.01M308.1 383.3h.01M312.4 353.4h.01M291.9 339.1h.01M265.5 366.5h.01M292.1 381.4h.01M311.3 360.3h.01M266.9 362.3h.01M311.8 356.4h.01M297.1 358.8h.01M287.0 353.0h.01M275.9 354.6h.01M304.9 372.9h.01M265.6 340.3h.01M267.7 332.5h.01M264.5 372.0h.01M274.4 367.9h.01M306.6 336.4h.01M276.6 334.1h.01M270.8 387.9h.01M309.0 387.1h.01M273.5 353.3h.01M292.4 330.9h.01M297.2 381.1h.01M311.6 380.6h.01M279.6 376.6h.01M274.5 355.5h.01M267.8 332.7h.01M268.1 349.0h.01M302.2 361.6h.01M272.6 344.8h.01M282.6 334.0h.01M272.3 385.7h.01M304.1 369.2h.01M268.7 358.5h.01M304.4 377.8h.01M275.3 350.4h.01M295.3 336.2h.01M294.9 331.5h.01M305.9 340.7h.01M282.7 370.4h.01M294.7 388.3h.01M297.9 343.3h.01M271.2 375.2h.01M301.2 338.9h.01M306.0 350.3h.01M273.3 336.3h.01M286.7 375.7h.01M290.8 345.6h.01M297.0 328.0h.01M301.7 369.4h.01M287.5 331.0h.01M284.8 383.0h.01M311.8 373.9h.01M300.2 387.9h.01M277.9 381.5h.01M310.9 378.8h.01M275.9 367.1h.01M265.6 341.5h.01M307.0 335.8h.01M297.1 339.1h.01M313.8 384.8h.01M313.5 363.4h.01M315.2 336.3h.01M293.8 333.1h.01M294.7 388.3h.01M301.5 376.0h.01M310.4 380.9h.01M295.5 374.9h.01M272.0 342.4h.01M301.1 371.9h.01M284.5 356.0h.01M281.2 376.3h.01M287.0 347.3h.01M275.4 355.3h.01M309.4 342.0h.01M265.7 349.2h.01M282.2 382.7h.01M291.5 362.2h.01M279.5 352.0h.01M290.5 357.6h.01M288.2 386.7h.01M294.6 348.7h.01M301.5 335.9h.01M269.9 351.0h.01M291.2 365.6h.01M269.9 367.1h.01M311.9 342.1h.01M284.2 358.4h.01M304.5 379.7h.01M297.2 361.9h.01M273.6 359.3h.01M268.1 328.9h.01M270.8 379.9h.01M277.5 336.5h.01M303.2 353.9h.01M270.3 367.3h.01M313.7 328.1h.01M313.9 361.6h.01M302.0 364.5h.01M285.0 348.5h.01M302.3 354.3h.01M301.4 363.1h.01M306.4 353.7h.01M280.0 350.1h.01M292.5 371.1h.01M294.3 329.9h.01" stroke="#e818e8" stroke-width="0.65" stroke-linecap="round" fill="none" opacity="0.6"/>
<path d="M314.8 353.9l1.9 0.7M271.3 327.1l-1.3 0.5M295.4 350.9l2.3 0.7M265.3 350.0l-1.3 1.3M271.7 350.8l0.6 0.6M274.4 332.9l-2.0 1.0M284.2 340.9l-1.0 1.0M308.8 359.8l0.3 1.6M303.7 387.5l-0.6 1.2M289.8 340.4l1.6 1.0M287.4 348.8l0.0 0.5M267.4 344.2l0.0 1.3M304.5 347.1l-0.4 0.6M314.6 369.5l0.1 1.0M292.8 337.0l-1.1 2.1M304.4 336.5l-0.3 0.4M305.8 350.8l0.2 1.1M301.4 379.6l1.7 1.7M275.6 329.1l-2.0 1.4M272.5 327.4l0.1 0.1M310.7 346.5l1.4 0.0M282.1 333.0l1.1 0.1M291.8 386.2l-0.6 2.3M284.4 380.6l1.8 1.1M285.7 360.5l-0.3 0.2M294.8 359.2l-0.0 0.6M311.1 348.5l-0.1 0.6M270.8 348.2l2.6 0.4M271.7 340.6l0.1 0.9M278.2 327.8l1.7 1.1M279.9 375.0l-1.1 2.2M272.8 362.8l0.9 0.2M304.2 355.7l-2.0 0.3M267.8 361.2l0.0 0.0M299.6 375.0l1.9 1.1M305.6 364.3l-0.1 1.3M308.1 377.8l1.0 1.6M273.0 384.6l-1.7 1.3M309.1 337.8l-0.9 1.6M297.8 370.6l-1.3 0.7M301.0 329.7l-0.9 1.4M310.3 358.9l1.5 2.0M275.8 362.9l-1.8 1.8M282.8 374.6l-0.2 0.2M311.5 331.7l-2.1 0.8M289.9 376.4l0.1 0.0M279.0 341.4l0.2 2.4M295.2 367.6l-0.0 0.0M292.7 352.6l0.3 0.7M283.6 360.9l-0.1 0.4M269.7 373.2l1.0 1.9M280.7 354.3l-0.5 0.7M293.5 387.9l1.7 0.4M303.3 386.2l-0.8 0.1M281.8 355.5l-0.3 0.5M277.3 350.6l0.6 1.1M287.6 369.0l-1.3 1.1M304.0 330.7l-0.8 0.8M291.4 371.1l0.0 0.6M293.6 345.3l0.5 1.5M291.3 338.3l0.0 0.1M285.1 385.9l-0.3 0.4M293.4 367.4l-0.9 1.4M269.6 380.6l-0.3 0.1M296.0 330.2l1.5 0.7M297.7 362.9l0.4 2.5M315.3 340.7l0.0 0.9M275.5 382.4l-0.3 0.0M281.7 384.9l-1.8 0.5M289.9 372.7l-1.3 1.0M307.6 387.2l0.3 0.2M295.2 351.4l-1.6 1.6M276.3 334.7l0.1 0.1M300.1 361.7l-0.3 2.5M274.6 384.4l-0.9 0.7M274.2 388.4l-0.5 0.1M301.5 357.3l-0.6 1.7M310.0 335.7l-0.4 0.4M271.2 330.1l1.1 0.4M293.5 366.3l0.8 1.4M310.2 360.3l0.0 0.1M273.8 384.3l-0.7 1.3M288.3 353.9l1.5 1.7M266.2 338.1l0.1 1.6M293.6 380.6l-0.8 1.2M298.4 339.4l-0.4 1.4M306.4 379.6l-0.8 0.4M302.2 382.0l-0.0 0.8M305.1 364.0l1.9 0.9M296.9 347.9l2.3 0.2M286.1 331.0l0.6 0.1M287.4 369.4l0.9 1.6M288.3 346.5l-0.2 0.4M310.1 328.1l-1.7 1.9M297.1 375.7l-0.4 0.1M265.5 368.3l-0.7 0.4M300.6 346.4l1.2 0.2M292.8 349.2l1.9 0.8M304.4 360.2l-0.0 0.3M286.2 366.0l-1.8 0.9M307.9 339.5l-0.0 0.1M288.5 343.8l0.3 0.0M300.6 349.7l-0.0 0.3M289.5 342.0l-0.9 0.3M297.2 343.4l-1.2 1.4M298.1 327.1l-1.3 1.9M315.1 368.7l2.2 0.2M306.9 358.3l0.6 0.9M300.7 383.1l-2.1 1.2M280.4 381.6l0.7 0.1M311.8 374.7l0.4 0.5M300.8 381.4l0.2 1.9M279.2 385.1l0.7 0.3M300.6 332.1l0.1 1.3M291.8 361.3l-0.4 2.2M301.3 373.8l-0.4 1.9M283.6 367.3l-1.2 0.4M297.0 349.3l-0.1 0.2M286.3 366.8l-0.3 0.6M279.7 357.0l-0.3 2.3M310.2 361.3l1.7 1.2M278.1 350.1l0.0 0.0M285.4 388.5l0.6 0.1M293.2 388.4l-0.3 0.1M309.4 328.7l0.7 1.1M302.0 356.4l0.3 0.4M305.9 348.0l-0.1 1.3M298.9 333.3l-0.1 2.1M267.6 361.5l0.3 1.9M298.5 346.6l-0.8 1.0M282.3 376.0l0.0 0.0M286.4 355.7l0.1 0.0M301.2 380.3l2.3 0.2M264.9 371.4l-0.3 0.6M302.1 336.4l-0.7 0.7M296.2 338.5l2.2 0.7M288.9 343.9l0.2 0.1M284.3 331.6l1.2 0.4M299.6 351.3l-1.2 0.3M290.7 366.7l-0.2 2.1M275.5 345.1l0.0 2.1M312.6 348.1l-0.7 0.7M274.9 380.9l-1.1 0.7M270.5 353.0l1.0 0.4M309.3 329.8l-0.9 0.3M306.9 343.3l0.1 0.5M309.8 346.2l-2.5 0.5M310.6 336.6l-1.3 2.1M307.7 363.7l0.8 1.2M288.1 377.1l-0.3 0.2" stroke="#f024f0" stroke-width="1.0" stroke-linecap="round" fill="none" opacity="0.7" filter="url(#b3)"/>
<g filter="url(#b3)">
<path d="M302.0 372.1 L300.9 373.8 L299.9 375.5 L299.0 377.3 L298.1 379.0 L297.6 381.0 L296.4 382.6 L295.3 384.3" stroke="#f024f0" stroke-width="0.7083388114790825" stroke-linecap="round" stroke-linejoin="round" fill="none" opacity="0.7"/>
<path d="M313.5 343.7 L313.1 345.6 L312.3 347.4 L311.4 349.2 L310.5 351.0 L310.1 353.0 L309.2 354.7" stroke="#f024f0" stroke-width="0.772244321715452" stroke-linecap="round" stroke-linejoin="round" fill="none" opacity="0.7"/>
<path d="M292.9 380.3 L294.2 381.8 L295.5 383.3 L297.1 384.5 L298.5 385.9" stroke="#f024f0" stroke-width="0.8092289009441467" stroke-linecap="round" stroke-linejoin="round" fill="none" opacity="0.7"/>
<path d="M266.0 361.4 L265.0 363.2 L264.2 365.0 L264.0 367.0 L263.1 368.8 L261.6 370.1 L260.0 371.2" stroke="#f024f0" stroke-width="0.6095787541778233" stroke-linecap="round" stroke-linejoin="round" fill="none" opacity="0.7"/>
<path d="M304.9 362.2 L303.4 363.5 L302.2 365.1 L300.9 366.6 L299.2 367.5 L297.2 367.7 L295.2 368.1" stroke="#f024f0" stroke-width="0.7051105214958121" stroke-linecap="round" stroke-linejoin="round" fill="none" opacity="0.7"/>
<path d="M296.0 348.5 L297.4 350.0 L298.4 351.7 L299.3 353.5 L300.6 355.0 L301.5 356.8 L302.8 358.3 L303.7 360.1 L304.1 362.1" stroke="#f024f0" stroke-width="1.0370926813349262" stroke-linecap="round" stroke-linejoin="round" fill="none" opacity="0.7"/>
<path d="M281.1 341.5 L279.1 341.6 L277.1 341.3 L275.1 341.2 L273.2 340.9 L271.2 341.1" stroke="#f024f0" stroke-width="0.9786684478521375" stroke-linecap="round" stroke-linejoin="round" fill="none" opacity="0.7"/>
<path d="M313.0 379.3 L315.0 379.3 L316.9 379.9 L318.9 380.2 L320.9 380.1" stroke="#f024f0" stroke-width="1.0139853978682276" stroke-linecap="round" stroke-linejoin="round" fill="none" opacity="0.7"/>
<path d="M276.3 350.6 L277.6 352.1 L279.0 353.6 L280.5 354.9" stroke="#f024f0" stroke-width="0.8866545048289995" stroke-linecap="round" stroke-linejoin="round" fill="none" opacity="0.7"/>
<path d="M292.1 386.8 L291.1 388.5 L290.7 390.5" stroke="#f024f0" stroke-width="0.8734387912270688" stroke-linecap="round" stroke-linejoin="round" fill="none" opacity="0.7"/>
<path d="M264.5 378.3 L266.4 378.8 L268.3 379.5 L270.3 379.9 L272.3 379.7 L274.2 379.4 L276.0 378.3" stroke="#f024f0" stroke-width="0.734098821573845" stroke-linecap="round" stroke-linejoin="round" fill="none" opacity="0.7"/>
<path d="M294.7 387.3 L296.3 388.4 L298.2 389.1 L300.0 390.0 L301.7 390.9 L303.6 391.6 L305.2 392.8 L306.9 393.9 L308.1 395.5 L309.3 397.1" stroke="#f024f0" stroke-width="0.818145137388832" stroke-linecap="round" stroke-linejoin="round" fill="none" opacity="0.7"/>
<path d="M313.9 353.8 L312.1 354.7 L310.2 354.9 L308.2 354.4 L306.4 353.6 L304.8 352.3 L303.3 351.1 L301.4 350.5" stroke="#f024f0" stroke-width="1.1332028603963042" stroke-linecap="round" stroke-linejoin="round" fill="none" opacity="0.7"/>
<path d="M303.4 343.5 L304.5 345.1 L306.1 346.3 L308.0 347.0" stroke="#f024f0" stroke-width="0.8212166433636204" stroke-linecap="round" stroke-linejoin="round" fill="none" opacity="0.7"/>
<path d="M311.9 362.7 L309.9 363.1 L308.0 362.8 L306.2 361.9 L304.2 361.7 L302.3 361.0 L300.6 359.9 L298.7 359.4 L296.9 358.5 L295.0 358.0" stroke="#f024f0" stroke-width="1.1805756464524868" stroke-linecap="round" stroke-linejoin="round" fill="none" opacity="0.7"/>
<path d="M279.4 335.2 L281.1 336.3 L282.8 337.2 L284.6 338.2 L286.5 338.9 L288.4 339.1" stroke="#f024f0" stroke-width="1.1983564127764152" stroke-linecap="round" stroke-linejoin="round" fill="none" opacity="0.7"/>
<path d="M315.1 367.1 L316.6 368.3 L318.5 369.0 L320.5 369.3 L322.5 369.3 L324.4 368.6 L326.3 367.9" stroke="#f024f0" stroke-width="0.912598728721645" stroke-linecap="round" stroke-linejoin="round" fill="none" opacity="0.7"/>
<path d="M287.9 366.1 L285.9 365.9 L284.0 365.3 L282.1 364.6 L280.1 364.2 L278.3 363.3" stroke="#f024f0" stroke-width="0.6960394542877386" stroke-linecap="round" stroke-linejoin="round" fill="none" opacity="0.7"/>
<path d="M274.5 349.2 L274.8 351.1 L274.5 353.1 L274.1 355.1 L273.3 356.9 L271.9 358.3" stroke="#f024f0" stroke-width="0.8887640712747479" stroke-linecap="round" stroke-linejoin="round" fill="none" opacity="0.7"/>
<path d="M271.6 356.2 L272.8 357.8 L274.3 359.1 L276.1 359.9" stroke="#f024f0" stroke-width="0.8137162497800562" stroke-linecap="round" stroke-linejoin="round" fill="none" opacity="0.7"/>
<path d="M304.9 384.0 L304.4 385.9 L303.5 387.7 L302.0 389.0 L300.8 390.6 L299.7 392.2 L298.6 393.9" stroke="#f024f0" stroke-width="0.8949252107651813" stroke-linecap="round" stroke-linejoin="round" fill="none" opacity="0.7"/>
<path d="M312.0 368.5 L310.1 369.2 L308.5 370.3 L306.6 370.9 L304.6 371.4 L302.7 371.9 L300.7 371.9" stroke="#f024f0" stroke-width="0.8641455425936653" stroke-linecap="round" stroke-linejoin="round" fill="none" opacity="0.7"/>
</g>
<g filter="url(#b6)" fill="none" stroke-linecap="round">
<path d="M280.1 329 C282.0 331 284.0 333 286.3 336" stroke="#f024f0" stroke-width="1.6" opacity="1.0"/>
<path d="M289.8 335 C290.4 338 291.4 340.6 292.4 343" stroke="#f024f0" stroke-width="1.8" opacity="1.0"/>
<path d="M304.0 328 C307.0 329 310.0 331 314.0 334" stroke="#f024f0" stroke-width="1.6" opacity="1.0"/>
<path d="M312.5 338.6 L314.5 343" stroke="#f024f0" stroke-width="1.3" opacity="1.0"/>
<path d="M274.9 344.8 C277.0 347.6 280.0 351 284.5 354.4" stroke="#f024f0" stroke-width="1.9" opacity="1.0"/>
<path d="M307.3 341.3 C303.0 344.6 299.0 347.6 295.0 350.9 C291.0 354.6 287.0 358.4 282.8 362.3" stroke="#f024f0" stroke-width="1.0" opacity="1.0"/>
<path d="M308.3 342.6 C304.0 346 300.0 349 296.0 352.3 C292.0 356 288.0 359.8 283.8 363.7" stroke="#f024f0" stroke-width="0.8" opacity="0.85"/>
<path d="M290.6 348.3 C291.0 352 291.2 355 291.5 357.9 C295.0 361.6 299.6 365.6 303.8 369.3 C307.0 370.8 310.0 372 312.5 372.8" stroke="#f024f0" stroke-width="1.7" opacity="1.0"/>
<path d="M277.5 368.4 l1.5 1" stroke="#f024f0" stroke-width="2.4" opacity="1.0"/>
<path d="M277.5 350 l1.2 0.8" stroke="#f024f0" stroke-width="2.6" opacity="1.0"/>
<path d="M266.0 352 C270.0 356 273.0 362 274.0 368" stroke="#f024f0" stroke-width="0.8" opacity="0.8"/>
<path d="M294.0 372 C296.0 376 299.0 381 303.0 386" stroke="#f024f0" stroke-width="0.9" opacity="0.8"/>
<path d="M267.0 336 C271.0 338 274.0 341 276.0 345" stroke="#f024f0" stroke-width="0.8" opacity="0.8"/>
</g>
<text x="266.00" y="385.40" font-size="5.8" fill="#d61ad6" textLength="26.30" lengthAdjust="spacingAndGlyphs">tdTomato</text>
</g>
<clipPath id="c8"><rect x="317.80" y="326.80" width="51.00" height="62.20"/></clipPath>
<g clip-path="url(#c8)">
<rect x="317.80" y="326.80" width="51.00" height="62.20" fill="#000" />
<path d="M321.5 363.8l-0.3 0.0M345.5 350.1l-0.5 0.5M348.3 387.5l-0.2 0.3M337.2 366.2l-0.1 0.2M359.1 354.6l-0.1 0.1M334.0 327.9l0.1 0.2M335.5 340.5l-0.6 0.3M335.6 357.7l0.8 0.5M364.0 362.3l0.8 0.4M328.8 330.2l0.1 0.4M361.2 335.9l0.4 0.1M319.9 368.0l0.0 0.9M365.5 341.4l-0.4 0.3M366.3 331.7l0.1 1.0M320.6 345.7l0.2 0.3M368.4 338.7l-0.2 0.1M362.4 335.9l0.9 0.3M318.5 366.7l0.5 0.3M334.0 365.6l-0.4 0.6M324.0 378.4l0.4 0.4M359.1 374.8l-0.0 0.5M325.7 381.5l-0.2 0.7M367.1 370.4l0.3 0.4M326.6 344.0l-0.6 0.3M326.3 359.2l0.2 0.8M360.2 348.8l0.2 0.0M346.6 349.5l0.7 0.1M349.1 347.1l0.4 0.0M347.7 330.7l0.0 0.0M319.4 364.9l-0.4 0.5M334.0 348.9l0.8 0.0M344.8 338.6l0.3 0.1M337.4 370.3l0.8 0.2M329.8 336.4l-0.1 0.1M368.1 369.0l-0.4 0.4M362.6 379.9l-0.0 0.1M351.7 388.7l0.5 0.5M323.5 378.1l-0.1 0.6M347.6 359.5l-0.3 0.5M332.7 380.9l0.7 0.3M339.4 333.1l0.3 0.4M324.7 365.8l-0.7 0.1M346.0 363.7l0.0 0.8M353.5 358.5l-0.5 0.5M321.6 335.8l0.1 0.3M353.1 356.1l-0.4 0.6M366.4 360.1l0.7 0.7M334.8 373.4l0.3 0.3M350.5 383.8l-0.9 0.2M343.7 373.0l-0.4 0.4M355.6 350.7l0.0 0.3M324.8 385.0l-0.1 0.5M353.6 344.1l0.6 0.2M330.6 338.0l-0.0 0.4M365.1 357.3l-0.8 0.2M351.5 362.4l0.8 0.4M325.4 377.4l-0.9 0.1M362.1 375.6l0.0 0.8M354.0 366.8l0.0 0.6M356.9 333.8l-0.4 0.8" stroke="#18cfe6" stroke-width="1.3" stroke-linecap="round" fill="none" opacity="0.95" filter="url(#b3)"/>
<path d="M322.4 388.8h.01M362.8 355.0h.01M347.4 352.9h.01M330.1 347.3h.01M366.3 331.4h.01M341.5 344.0h.01M350.1 385.4h.01M349.6 340.2h.01M367.6 351.9h.01M361.1 382.3h.01M333.5 336.8h.01M366.6 381.1h.01M328.9 381.5h.01M359.4 339.2h.01M323.0 362.7h.01M334.1 339.2h.01M318.0 345.5h.01M318.8 329.7h.01M329.1 358.4h.01M348.5 348.9h.01M328.6 359.9h.01M348.4 351.9h.01M343.2 363.9h.01M367.2 332.9h.01M361.4 376.8h.01M338.7 366.4h.01M363.3 375.3h.01M357.5 332.2h.01M329.8 336.3h.01M367.6 340.2h.01M338.6 371.3h.01M360.6 344.0h.01M363.7 347.9h.01M361.8 335.9h.01M364.9 329.0h.01M362.4 350.8h.01M351.7 376.8h.01M365.7 382.4h.01M358.9 333.1h.01M367.4 352.9h.01M329.1 343.5h.01M356.0 389.0h.01M349.1 382.8h.01M345.4 360.0h.01M320.6 373.1h.01M366.1 329.3h.01M347.4 360.4h.01M319.5 386.9h.01M353.5 333.0h.01M367.8 335.8h.01M347.8 337.1h.01M331.3 385.9h.01M359.8 327.7h.01M358.8 366.9h.01M364.9 330.3h.01M342.6 328.5h.01M348.9 342.3h.01M368.7 350.7h.01M368.6 387.4h.01M359.0 336.3h.01" stroke="#18cfe6" stroke-width="0.7" stroke-linecap="round" fill="none" opacity="0.7"/>
<text x="319.20" y="385.40" font-size="5.8" fill="#14a9c2" textLength="24.80" lengthAdjust="spacingAndGlyphs">SypEGFP</text>
</g>
<clipPath id="c9"><rect x="371.30" y="326.80" width="51.70" height="62.20"/></clipPath>
<g clip-path="url(#c9)">
<rect x="371.30" y="326.80" width="51.70" height="62.20" fill="#000" />
<rect x="371.30" y="326.80" width="51.70" height="62.20" fill="#d018d0" opacity="0.13"/>
<path d="M388.0 365.4h.01M371.7 387.9h.01M413.8 388.9h.01M384.9 339.2h.01M374.1 338.9h.01M372.6 369.8h.01M390.2 377.5h.01M410.6 348.5h.01M379.9 348.4h.01M372.9 367.1h.01M381.1 336.1h.01M417.2 354.0h.01M420.2 387.8h.01M405.6 342.3h.01M378.9 342.1h.01M409.4 358.6h.01M386.7 327.9h.01M389.5 351.2h.01M374.9 342.3h.01M386.6 352.7h.01M396.8 362.0h.01M415.2 345.1h.01M376.2 345.7h.01M382.5 362.6h.01M395.9 346.8h.01M376.2 373.5h.01M403.6 365.6h.01M407.6 380.0h.01M373.1 338.5h.01M395.7 370.4h.01M397.4 358.2h.01M387.2 342.0h.01M416.5 387.9h.01M397.1 355.9h.01M377.9 364.2h.01M382.2 365.7h.01M385.7 355.9h.01M416.0 346.2h.01M399.0 346.6h.01M396.4 380.7h.01M396.8 386.8h.01M392.4 355.0h.01M404.6 358.0h.01M406.0 344.9h.01M372.0 353.1h.01M374.6 342.2h.01M402.2 369.7h.01M418.3 369.0h.01M400.0 348.2h.01M396.0 344.7h.01M376.6 360.1h.01M403.9 345.9h.01M409.5 359.8h.01M387.3 379.8h.01M372.4 343.5h.01M387.9 368.6h.01M384.4 387.9h.01M376.7 354.8h.01M395.6 373.1h.01M384.4 336.9h.01M409.8 375.8h.01M401.0 383.0h.01M391.7 354.7h.01M397.1 334.7h.01M414.1 330.6h.01M375.3 383.4h.01M394.7 335.9h.01M417.2 338.6h.01M394.7 327.7h.01M378.7 356.8h.01M407.5 334.8h.01M410.7 366.9h.01M406.1 386.8h.01M396.1 327.1h.01M374.2 381.0h.01M376.9 343.8h.01M405.1 372.6h.01M410.3 361.6h.01M388.2 382.9h.01M372.3 342.8h.01M422.3 338.5h.01M414.8 364.2h.01M404.0 366.2h.01M394.5 379.1h.01M374.4 344.6h.01M411.2 372.7h.01M404.5 369.7h.01M386.5 364.2h.01M400.8 377.5h.01M383.2 344.4h.01M387.9 339.6h.01M408.9 357.4h.01M374.8 382.3h.01M398.4 378.0h.01M409.8 351.6h.01M387.9 361.0h.01M419.9 376.7h.01M420.8 362.4h.01M399.5 345.5h.01M399.7 361.4h.01M410.7 378.9h.01M417.9 342.5h.01M404.7 330.9h.01M385.8 364.4h.01M371.4 380.5h.01M399.2 341.7h.01M393.1 373.6h.01M376.0 383.5h.01M405.3 359.7h.01M381.2 365.7h.01M382.8 331.1h.01M415.3 348.6h.01M411.1 356.9h.01M400.4 350.9h.01M413.7 375.3h.01M391.4 361.5h.01M385.5 383.4h.01M395.0 364.2h.01M401.0 332.9h.01M388.5 375.2h.01M401.8 342.0h.01M379.9 380.8h.01M413.3 381.8h.01M380.4 360.9h.01M393.9 353.3h.01M390.0 366.7h.01M400.9 331.4h.01M373.4 337.8h.01M413.2 380.4h.01M406.0 349.7h.01M398.8 366.6h.01M380.2 386.5h.01M418.7 329.0h.01M384.5 343.9h.01M415.8 383.3h.01M420.1 353.4h.01M399.4 339.1h.01M372.8 366.5h.01M399.6 381.4h.01M419.0 360.3h.01M374.2 362.3h.01M419.4 356.4h.01M404.6 358.8h.01M394.4 353.0h.01M383.3 354.6h.01M412.5 372.9h.01M372.9 340.3h.01M375.0 332.5h.01M371.8 372.0h.01M381.8 367.9h.01M414.3 336.4h.01M384.0 334.1h.01M378.1 387.9h.01M416.7 387.1h.01M380.8 353.3h.01M399.9 330.9h.01M404.7 381.1h.01M419.3 380.6h.01M387.0 376.6h.01M381.9 355.5h.01M375.1 332.7h.01M375.4 349.0h.01M409.8 361.6h.01M379.9 344.8h.01M390.1 334.0h.01M379.7 385.7h.01M411.7 369.2h.01M376.0 358.5h.01M412.1 377.8h.01M382.7 350.4h.01M402.8 336.2h.01M402.4 331.5h.01M413.5 340.7h.01M390.1 370.4h.01M402.2 388.3h.01M405.4 343.3h.01M378.5 375.2h.01M408.8 338.9h.01M413.6 350.3h.01M380.7 336.3h.01M394.2 375.7h.01M398.3 345.6h.01M404.5 328.0h.01M409.2 369.4h.01M395.0 331.0h.01M392.3 383.0h.01M419.5 373.9h.01M407.7 387.9h.01M385.3 381.5h.01M418.6 378.8h.01M383.3 367.1h.01M372.9 341.5h.01M414.6 335.8h.01M404.6 339.1h.01M421.5 384.8h.01M421.2 363.4h.01M422.9 336.3h.01M401.3 333.1h.01M402.2 388.3h.01M409.1 376.0h.01M418.1 380.9h.01M403.1 374.9h.01M379.3 342.4h.01M408.6 371.9h.01M392.0 356.0h.01M388.7 376.3h.01M394.5 347.3h.01M382.8 355.3h.01M417.0 342.0h.01M373.1 349.2h.01M389.7 382.7h.01M399.0 362.2h.01M386.9 352.0h.01M398.0 357.6h.01M395.7 386.7h.01M402.2 348.7h.01M409.1 335.9h.01M377.2 351.0h.01M398.8 365.6h.01M377.2 367.1h.01M419.6 342.1h.01M391.6 358.4h.01M412.2 379.7h.01M404.8 361.9h.01M381.0 359.3h.01M375.5 328.9h.01M378.1 379.9h.01M384.9 336.5h.01M410.8 353.9h.01M377.6 367.3h.01M421.4 328.1h.01M421.6 361.6h.01M409.6 364.5h.01M392.5 348.5h.01M409.9 354.3h.01M409.0 363.1h.01M414.0 353.7h.01M387.4 350.1h.01M400.0 371.1h.01M401.9 329.9h.01" stroke="#e818e8" stroke-width="0.65" stroke-linecap="round" fill="none" opacity="0.6"/>
<path d="M422.5 353.9l1.9 0.7M378.7 327.1l-1.3 0.5M402.9 350.9l2.3 0.7M372.6 350.0l-1.3 1.3M379.0 350.8l0.6 0.6M381.7 332.9l-2.0 1.0M391.6 340.9l-1.0 1.0M416.5 359.8l0.3 1.6M411.3 387.5l-0.6 1.2M397.3 340.4l1.6 1.0M394.9 348.8l0.0 0.5M374.7 344.2l0.0 1.3M412.1 347.1l-0.4 0.6M422.3 369.5l0.1 1.0M400.3 337.0l-1.1 2.1M412.1 336.5l-0.3 0.4M413.4 350.8l0.2 1.1M409.0 379.6l1.7 1.7M383.0 329.1l-2.0 1.4M379.9 327.4l0.1 0.1M418.4 346.5l1.4 0.0M389.6 333.0l1.1 0.1M399.3 386.2l-0.6 2.3M391.8 380.6l1.8 1.1M393.2 360.5l-0.3 0.2M402.3 359.2l-0.0 0.6M418.8 348.5l-0.1 0.6M378.1 348.2l2.6 0.4M379.0 340.6l0.1 0.9M385.6 327.8l1.7 1.1M387.4 375.0l-1.1 2.2M380.2 362.8l0.9 0.2M411.8 355.7l-2.0 0.3M375.1 361.2l0.0 0.0M407.2 375.0l1.9 1.1M413.3 364.3l-0.1 1.3M415.8 377.8l1.0 1.6M380.4 384.6l-1.7 1.3M416.8 337.8l-0.9 1.6M405.3 370.6l-1.3 0.7M408.6 329.7l-0.9 1.4M418.0 358.9l1.5 2.0M383.2 362.9l-1.8 1.8M390.2 374.6l-0.2 0.2M419.2 331.7l-2.1 0.8M397.4 376.4l0.1 0.0M386.5 341.4l0.2 2.4M402.7 367.6l-0.0 0.0M400.3 352.6l0.3 0.7M391.1 360.9l-0.1 0.4M377.1 373.2l1.0 1.9M388.1 354.3l-0.5 0.7M401.1 387.9l1.7 0.4M410.9 386.2l-0.8 0.1M389.2 355.5l-0.3 0.5M384.7 350.6l0.6 1.1M395.1 369.0l-1.3 1.1M411.6 330.7l-0.8 0.8M399.0 371.1l0.0 0.6M401.1 345.3l0.5 1.5M398.8 338.3l0.0 0.1M392.6 385.9l-0.3 0.4M400.9 367.4l-0.9 1.4M377.0 380.6l-0.3 0.1M403.5 330.2l1.5 0.7M405.3 362.9l0.4 2.5M423.0 340.7l0.0 0.9M382.9 382.4l-0.3 0.0M389.1 384.9l-1.8 0.5M397.4 372.7l-1.3 1.0M415.3 387.2l0.3 0.2M402.8 351.4l-1.6 1.6M383.7 334.7l0.1 0.1M407.7 361.7l-0.3 2.5M382.0 384.4l-0.9 0.7M381.6 388.4l-0.5 0.1M409.1 357.3l-0.6 1.7M417.7 335.7l-0.4 0.4M378.6 330.1l1.1 0.4M401.1 366.3l0.8 1.4M417.8 360.3l0.0 0.1M381.1 384.3l-0.7 1.3M395.8 353.9l1.5 1.7M373.5 338.1l0.1 1.6M401.1 380.6l-0.8 1.2M406.0 339.4l-0.4 1.4M414.0 379.6l-0.8 0.4M409.8 382.0l-0.0 0.8M412.7 364.0l1.9 0.9M404.5 347.9l2.3 0.2M393.6 331.0l0.6 0.1M394.9 369.4l0.9 1.6M395.8 346.5l-0.2 0.4M417.8 328.1l-1.7 1.9M404.6 375.7l-0.4 0.1M372.8 368.3l-0.7 0.4M408.2 346.4l1.2 0.2M400.4 349.2l1.9 0.8M412.0 360.2l-0.0 0.3M393.7 366.0l-1.8 0.9M415.6 339.5l-0.0 0.1M396.0 343.8l0.3 0.0M408.1 349.7l-0.0 0.3M397.0 342.0l-0.9 0.3M404.8 343.4l-1.2 1.4M405.7 327.1l-1.3 1.9M422.8 368.7l2.2 0.2M414.6 358.3l0.6 0.9M408.3 383.1l-2.1 1.2M387.9 381.6l0.7 0.1M419.5 374.7l0.4 0.5M408.4 381.4l0.2 1.9M386.6 385.1l0.7 0.3M408.2 332.1l0.1 1.3M399.3 361.3l-0.4 2.2M408.9 373.8l-0.4 1.9M391.0 367.3l-1.2 0.4M404.6 349.3l-0.1 0.2M393.7 366.8l-0.3 0.6M387.1 357.0l-0.3 2.3M417.9 361.3l1.7 1.2M385.5 350.1l0.0 0.0M392.8 388.5l0.6 0.1M400.7 388.4l-0.3 0.1M417.1 328.7l0.7 1.1M409.6 356.4l0.3 0.4M413.5 348.0l-0.1 1.3M406.5 333.3l-0.1 2.1M375.0 361.5l0.3 1.9M406.1 346.6l-0.8 1.0M389.8 376.0l0.0 0.0M393.9 355.7l0.1 0.0M408.8 380.3l2.3 0.2M372.2 371.4l-0.3 0.6M409.7 336.4l-0.7 0.7M403.8 338.5l2.2 0.7M396.4 343.9l0.2 0.1M391.8 331.6l1.2 0.4M407.2 351.3l-1.2 0.3M398.2 366.7l-0.2 2.1M382.9 345.1l0.0 2.1M420.2 348.1l-0.7 0.7M382.3 380.9l-1.1 0.7M377.9 353.0l1.0 0.4M416.9 329.8l-0.9 0.3M414.6 343.3l0.1 0.5M417.5 346.2l-2.5 0.5M418.3 336.6l-1.3 2.1M415.3 363.7l0.8 1.2M395.6 377.1l-0.3 0.2" stroke="#f024f0" stroke-width="1.0" stroke-linecap="round" fill="none" opacity="0.7" filter="url(#b3)"/>
<g filter="url(#b3)">
<path d="M409.6 372.1 L408.5 373.8 L407.5 375.5 L406.6 377.3 L405.7 379.0 L405.2 381.0 L404.0 382.6 L402.9 384.3" stroke="#f024f0" stroke-width="0.7083388114790825" stroke-linecap="round" stroke-linejoin="round" fill="none" opacity="0.7"/>
<path d="M421.2 343.7 L420.8 345.6 L420.0 347.4 L419.1 349.2 L418.2 351.0 L417.8 353.0 L416.9 354.7" stroke="#f024f0" stroke-width="0.772244321715452" stroke-linecap="round" stroke-linejoin="round" fill="none" opacity="0.7"/>
<path d="M400.4 380.3 L401.7 381.8 L403.1 383.3 L404.6 384.5 L406.0 385.9" stroke="#f024f0" stroke-width="0.8092289009441467" stroke-linecap="round" stroke-linejoin="round" fill="none" opacity="0.7"/>
<path d="M373.3 361.4 L372.3 363.2 L371.5 365.0 L371.3 367.0 L370.4 368.8 L368.9 370.1 L367.3 371.2" stroke="#f024f0" stroke-width="0.6095787541778233" stroke-linecap="round" stroke-linejoin="round" fill="none" opacity="0.7"/>
<path d="M412.5 362.2 L411.0 363.5 L409.9 365.1 L408.6 366.6 L406.8 367.5 L404.8 367.7 L402.8 368.1" stroke="#f024f0" stroke-width="0.7051105214958121" stroke-linecap="round" stroke-linejoin="round" fill="none" opacity="0.7"/>
<path d="M403.6 348.5 L405.0 350.0 L405.9 351.7 L406.9 353.5 L408.2 355.0 L409.1 356.8 L410.3 358.3 L411.3 360.1 L411.7 362.1" stroke="#f024f0" stroke-width="1.0370926813349262" stroke-linecap="round" stroke-linejoin="round" fill="none" opacity="0.7"/>
<path d="M388.6 341.5 L386.6 341.6 L384.6 341.3 L382.6 341.2 L380.6 340.9 L378.6 341.1" stroke="#f024f0" stroke-width="0.9786684478521375" stroke-linecap="round" stroke-linejoin="round" fill="none" opacity="0.7"/>
<path d="M420.7 379.3 L422.7 379.3 L424.6 379.9 L426.5 380.2 L428.5 380.1" stroke="#f024f0" stroke-width="1.0139853978682276" stroke-linecap="round" stroke-linejoin="round" fill="none" opacity="0.7"/>
<path d="M383.7 350.6 L385.0 352.1 L386.4 353.6 L387.9 354.9" stroke="#f024f0" stroke-width="0.8866545048289995" stroke-linecap="round" stroke-linejoin="round" fill="none" opacity="0.7"/>
<path d="M399.6 386.8 L398.6 388.5 L398.2 390.5" stroke="#f024f0" stroke-width="0.8734387912270688" stroke-linecap="round" stroke-linejoin="round" fill="none" opacity="0.7"/>
<path d="M371.8 378.3 L373.7 378.8 L375.6 379.5 L377.6 379.9 L379.6 379.7 L381.6 379.4 L383.3 378.3" stroke="#f024f0" stroke-width="0.734098821573845" stroke-linecap="round" stroke-linejoin="round" fill="none" opacity="0.7"/>
<path d="M402.2 387.3 L403.9 388.4 L405.8 389.1 L407.5 390.0 L409.3 390.9 L411.2 391.6 L412.7 392.8 L414.4 393.9 L415.7 395.5 L416.8 397.1" stroke="#f024f0" stroke-width="0.818145137388832" stroke-linecap="round" stroke-linejoin="round" fill="none" opacity="0.7"/>
<path d="M421.6 353.8 L419.8 354.7 L417.8 354.9 L415.9 354.4 L414.1 353.6 L412.5 352.3 L411.0 351.1 L409.0 350.5" stroke="#f024f0" stroke-width="1.1332028603963042" stroke-linecap="round" stroke-linejoin="round" fill="none" opacity="0.7"/>
<path d="M411.0 343.5 L412.1 345.1 L413.7 346.3 L415.6 347.0" stroke="#f024f0" stroke-width="0.8212166433636204" stroke-linecap="round" stroke-linejoin="round" fill="none" opacity="0.7"/>
<path d="M419.6 362.7 L417.6 363.1 L415.6 362.8 L413.8 361.9 L411.8 361.7 L410.0 361.0 L408.3 359.9 L406.4 359.4 L404.6 358.5 L402.6 358.0" stroke="#f024f0" stroke-width="1.1805756464524868" stroke-linecap="round" stroke-linejoin="round" fill="none" opacity="0.7"/>
<path d="M386.8 335.2 L388.5 336.3 L390.3 337.2 L392.0 338.2 L393.9 338.9 L395.9 339.1" stroke="#f024f0" stroke-width="1.1983564127764152" stroke-linecap="round" stroke-linejoin="round" fill="none" opacity="0.7"/>
<path d="M422.8 367.1 L424.3 368.3 L426.2 369.0 L428.2 369.3 L430.2 369.3 L432.1 368.6 L434.0 367.9" stroke="#f024f0" stroke-width="0.912598728721645" stroke-linecap="round" stroke-linejoin="round" fill="none" opacity="0.7"/>
<path d="M395.4 366.1 L393.4 365.9 L391.5 365.3 L389.6 364.6 L387.6 364.2 L385.8 363.3" stroke="#f024f0" stroke-width="0.6960394542877386" stroke-linecap="round" stroke-linejoin="round" fill="none" opacity="0.7"/>
<path d="M381.9 349.2 L382.2 351.1 L381.9 353.1 L381.5 355.1 L380.7 356.9 L379.2 358.3" stroke="#f024f0" stroke-width="0.8887640712747479" stroke-linecap="round" stroke-linejoin="round" fill="none" opacity="0.7"/>
<path d="M378.9 356.2 L380.2 357.8 L381.7 359.1 L383.5 359.9" stroke="#f024f0" stroke-width="0.8137162497800562" stroke-linecap="round" stroke-linejoin="round" fill="none" opacity="0.7"/>
<path d="M412.6 384.0 L412.0 385.9 L411.1 387.7 L409.7 389.0 L408.4 390.6 L407.3 392.2 L406.2 393.9" stroke="#f024f0" stroke-width="0.8949252107651813" stroke-linecap="round" stroke-linejoin="round" fill="none" opacity="0.7"/>
<path d="M419.7 368.5 L417.8 369.2 L416.2 370.3 L414.3 370.9 L412.3 371.4 L410.4 371.9 L408.4 371.9" stroke="#f024f0" stroke-width="0.8641455425936653" stroke-linecap="round" stroke-linejoin="round" fill="none" opacity="0.7"/>
</g>
<g filter="url(#b6)" fill="none" stroke-linecap="round">
<path d="M387.4 329 C389.3 331 391.3 333 393.6 336" stroke="#f024f0" stroke-width="1.6" opacity="1.0"/>
<path d="M397.1 335 C397.7 338 398.7 340.6 399.7 343" stroke="#f024f0" stroke-width="1.8" opacity="1.0"/>
<path d="M411.3 328 C414.3 329 417.3 331 421.3 334" stroke="#f024f0" stroke-width="1.6" opacity="1.0"/>
<path d="M419.8 338.6 L421.8 343" stroke="#f024f0" stroke-width="1.3" opacity="1.0"/>
<path d="M382.2 344.8 C384.3 347.6 387.3 351 391.8 354.4" stroke="#f024f0" stroke-width="1.9" opacity="1.0"/>
<path d="M414.6 341.3 C410.3 344.6 406.3 347.6 402.3 350.9 C398.3 354.6 394.3 358.4 390.1 362.3" stroke="#f024f0" stroke-width="1.0" opacity="1.0"/>
<path d="M415.6 342.6 C411.3 346 407.3 349 403.3 352.3 C399.3 356 395.3 359.8 391.1 363.7" stroke="#f024f0" stroke-width="0.8" opacity="0.85"/>
<path d="M397.9 348.3 C398.3 352 398.5 355 398.8 357.9 C402.3 361.6 406.9 365.6 411.1 369.3 C414.3 370.8 417.3 372 419.8 372.8" stroke="#f024f0" stroke-width="1.7" opacity="1.0"/>
<path d="M384.8 368.4 l1.5 1" stroke="#f024f0" stroke-width="2.4" opacity="1.0"/>
<path d="M384.8 350 l1.2 0.8" stroke="#f024f0" stroke-width="2.6" opacity="1.0"/>
<path d="M373.3 352 C377.3 356 380.3 362 381.3 368" stroke="#f024f0" stroke-width="0.8" opacity="0.8"/>
<path d="M401.3 372 C403.3 376 406.3 381 410.3 386" stroke="#f024f0" stroke-width="0.9" opacity="0.8"/>
<path d="M374.3 336 C378.3 338 381.3 341 383.3 345" stroke="#f024f0" stroke-width="0.8" opacity="0.8"/>
</g>
<path d="M375.1 363.8l-0.3 0.0M399.4 350.1l-0.5 0.5M402.3 387.5l-0.2 0.3M390.9 366.2l-0.1 0.2M413.1 354.6l-0.1 0.1M387.7 327.9l0.1 0.2M389.2 340.5l-0.6 0.3M389.4 357.7l0.8 0.5M418.1 362.3l0.8 0.4M382.5 330.2l0.1 0.4M415.3 335.9l0.4 0.1M373.4 368.0l0.0 0.9M419.7 341.4l-0.4 0.3M420.4 331.7l0.1 1.0M374.2 345.7l0.2 0.3M422.6 338.7l-0.2 0.1M416.5 335.9l0.9 0.3M372.0 366.7l0.5 0.3M387.7 365.6l-0.4 0.6M377.6 378.4l0.4 0.4M413.2 374.8l-0.0 0.5M379.3 381.5l-0.2 0.7M421.3 370.4l0.3 0.4M380.2 344.0l-0.6 0.3M379.9 359.2l0.2 0.8M414.3 348.8l0.2 0.0M400.5 349.5l0.7 0.1M403.1 347.1l0.4 0.0M401.6 330.7l0.0 0.0M372.9 364.9l-0.4 0.5M387.8 348.9l0.8 0.0M398.6 338.6l0.3 0.1M391.2 370.3l0.8 0.2M383.5 336.4l-0.1 0.1M422.3 369.0l-0.4 0.4M416.7 379.9l-0.0 0.1M405.7 388.7l0.5 0.5M377.1 378.1l-0.1 0.6M401.5 359.5l-0.3 0.5M386.4 380.9l0.7 0.3M393.2 333.1l0.3 0.4M378.3 365.8l-0.7 0.1M399.9 363.7l0.0 0.8M407.5 358.5l-0.5 0.5M375.1 335.8l0.1 0.3M407.1 356.1l-0.4 0.6M420.5 360.1l0.7 0.7M388.5 373.4l0.3 0.3M404.4 383.8l-0.9 0.2M397.5 373.0l-0.4 0.4M409.6 350.7l0.0 0.3M378.4 385.0l-0.1 0.5M407.6 344.1l0.6 0.2M384.3 338.0l-0.0 0.4M419.2 357.3l-0.8 0.2M405.5 362.4l0.8 0.4M379.0 377.4l-0.9 0.1M416.2 375.6l0.0 0.8M408.0 366.8l0.0 0.6M410.9 333.8l-0.4 0.8" stroke="#18cfe6" stroke-width="1.3" stroke-linecap="round" fill="none" opacity="0.95" filter="url(#b3)"/>
<path d="M375.9 388.8h.01M416.9 355.0h.01M401.3 352.9h.01M383.8 347.3h.01M420.5 331.4h.01M395.3 344.0h.01M404.1 385.4h.01M403.6 340.2h.01M421.8 351.9h.01M415.2 382.3h.01M387.2 336.8h.01M420.7 381.1h.01M382.5 381.5h.01M413.5 339.2h.01M376.6 362.7h.01M387.8 339.2h.01M371.5 345.5h.01M372.3 329.7h.01M382.8 358.4h.01M402.5 348.9h.01M382.2 359.9h.01M402.3 351.9h.01M397.1 363.9h.01M421.3 332.9h.01M415.5 376.8h.01M392.4 366.4h.01M417.4 375.3h.01M411.5 332.2h.01M383.5 336.3h.01M421.8 340.2h.01M392.4 371.3h.01M414.7 344.0h.01M417.9 347.9h.01M415.9 335.9h.01M419.1 329.0h.01M416.6 350.8h.01M405.7 376.8h.01M419.9 382.4h.01M413.0 333.1h.01M421.6 352.9h.01M382.8 343.5h.01M410.0 389.0h.01M403.0 382.8h.01M399.3 360.0h.01M374.1 373.1h.01M420.2 329.3h.01M401.3 360.4h.01M373.0 386.9h.01M407.5 333.0h.01M422.0 335.8h.01M401.7 337.1h.01M384.9 385.9h.01M413.9 327.7h.01M412.8 366.9h.01M419.0 330.3h.01M396.4 328.5h.01M402.8 342.3h.01M422.9 350.7h.01M422.8 387.4h.01M413.1 336.3h.01" stroke="#18cfe6" stroke-width="0.7" stroke-linecap="round" fill="none" opacity="0.7"/>
<path d="M385.8 358.0l-0.1 0.4M401.6 357.1l-0.0 0.2M377.0 342.7l-0.0 0.0M389.5 353.1l-0.1 0.4M415.5 385.1l-0.0 0.2M416.5 380.0l0.1 0.7M417.0 385.9l0.1 0.1M412.8 343.7l0.0 0.0M410.7 341.5l0.5 0.3M375.7 375.6l0.8 0.2M378.1 335.7l0.1 0.7M396.5 370.9l0.6 0.5M381.8 352.3l-0.3 0.2M374.3 371.5l0.4 0.1M389.0 357.2l0.8 0.3M413.3 360.9l0.2 0.3M384.7 352.1l0.0 0.7M376.2 384.8l-0.5 0.2M399.6 332.4l0.0 0.0M377.0 371.7l0.5 0.4M411.5 352.6l-0.3 0.4M403.3 363.5l-0.1 0.1M422.7 339.6l0.2 0.1M413.6 387.6l-0.1 0.0M391.1 373.7l0.3 0.1M400.6 343.8l0.3 0.3M378.2 382.4l0.0 0.2M396.9 349.4l-0.0 0.1M390.3 331.1l-0.1 0.4M412.3 366.1l-0.0 0.6M387.8 359.6l0.1 0.4M392.6 326.9l0.4 0.3M377.6 349.9l-0.4 0.2M411.3 347.2l0.4 0.0M410.5 356.8l0.3 0.7M390.3 384.8l-0.1 0.1M404.3 367.2l-0.2 0.6M391.7 373.1l-0.2 0.7M410.7 364.3l-0.0 0.2M376.2 357.2l0.0 0.3M397.0 380.3l-0.7 0.3M378.2 340.0l-0.7 0.3M382.0 375.3l0.4 0.0M403.8 351.5l-0.2 0.1M379.1 354.0l0.4 0.5M406.8 333.8l0.0 0.0M420.8 341.9l0.2 0.1M393.7 336.7l-0.3 0.4M389.0 386.7l-0.1 0.6M388.0 352.4l-0.1 0.0M421.0 344.6l0.4 0.0M414.5 364.4l0.0 0.0M398.8 388.9l-0.6 0.4M374.1 337.5l0.4 0.6M400.7 346.0l0.3 0.1M404.8 365.0l-0.5 0.1M407.5 326.9l0.1 0.1M386.2 375.1l-0.1 0.7M417.5 350.8l0.0 0.0M400.9 366.4l-0.3 0.0" stroke="#e8f4ff" stroke-width="1.2" stroke-linecap="round" fill="none" opacity="0.95" filter="url(#b3)"/>
<polygon points="392,352.5 420.5,338 404,371" fill="#f2e21c" opacity="0.35" filter="url(#b6)"/>
<path d="M396.2 349.5l-0.2 0.1M410.7 340.7l0.0 0.1M400.1 346.4l0.9 0.7M410.8 344.8l-0.0 0.0M413.8 352.5l-0.1 0.4M408.2 345.3l-0.8 0.8M413.7 354.4l-0.1 0.6M407.6 358.9l-0.4 1.0M399.0 353.6l-0.7 0.2M406.3 352.5l-0.5 0.8M414.9 352.2l-0.5 0.3M405.5 353.5l0.6 0.9M402.8 345.4l0.1 0.0M403.7 348.8l0.6 1.4M408.1 343.8l-0.0 1.4M395.7 346.9l-0.2 0.1M401.9 355.0l0.0 0.0M403.9 359.7l-0.7 0.7M413.9 345.9l0.1 0.5M407.2 347.4l0.3 0.8M407.4 363.1l0.1 0.0M416.2 341.4l-0.2 1.3M400.4 352.9l0.1 0.6M402.2 343.2l-0.1 0.8M409.6 340.6l-0.3 0.7M408.5 341.8l0.5 0.9M417.8 346.3l0.9 0.7M421.1 339.8l0.6 0.3M407.9 362.6l-0.0 0.0M407.0 350.2l-0.2 0.1M401.5 345.1l-1.1 0.5M406.7 344.9l-0.3 0.4M407.4 343.4l1.1 1.2M413.6 348.0l0.5 0.7M401.8 356.0l0.9 0.2M406.8 346.8l0.3 0.4M402.6 353.4l-0.7 0.1M416.0 350.0l0.8 0.2M404.3 353.3l0.1 0.1M421.2 338.3l-0.8 1.1M397.8 347.3l0.2 0.1M397.0 348.8l0.1 1.3M409.8 357.4l0.4 0.3M408.7 346.8l0.9 0.5M407.6 359.7l0.1 0.2M406.2 356.7l-0.8 0.6M409.2 362.4l0.4 0.1M412.2 344.4l-0.1 0.5M404.2 350.9l-0.1 0.8M404.6 368.1l-0.1 1.5M411.3 347.2l-0.2 0.4M404.3 362.7l-1.0 0.8M415.3 343.1l0.5 1.2M410.3 351.0l0.7 0.6M401.0 348.0l-0.1 0.9M401.8 357.2l0.8 0.4M408.0 355.8l0.2 0.0M408.2 364.9l0.3 0.5M410.9 342.2l0.1 0.6M418.3 342.9l1.1 0.1M408.2 342.0l-0.4 0.6M408.4 363.3l-0.7 0.6M418.0 344.6l0.3 1.1M416.3 342.5l0.1 0.1M414.2 349.1l-0.3 0.1M398.3 350.3l0.0 0.6M407.2 353.4l0.3 0.7M407.2 355.8l0.7 0.4M414.0 345.8l-1.3 0.3M401.6 353.2l1.0 0.9M405.8 346.8l-1.3 0.8M409.3 349.0l0.7 0.6M402.5 356.6l-0.9 0.5M413.0 341.3l0.1 0.7M403.7 352.9l-0.0 0.2M407.3 346.7l-0.4 0.6M416.7 345.7l-0.8 0.4M405.6 344.9l0.0 0.0M411.2 351.8l-0.8 0.5M403.6 345.3l-0.1 0.0M415.2 340.8l-0.5 0.1M402.3 352.4l-1.0 1.0M410.6 359.2l0.7 0.2M395.5 347.1l0.1 0.8M401.4 348.8l0.1 1.5M413.2 353.2l0.2 0.4M405.8 356.2l0.5 0.7M412.8 340.6l0.4 0.5M406.6 355.4l-1.6 0.3M403.0 344.3l0.0 0.0M410.0 344.5l-1.0 1.0M408.7 350.7l-0.7 1.1M408.2 358.7l0.2 0.2M406.6 354.0l-0.2 0.1M402.9 352.5l-0.1 0.1M398.7 343.6l-0.1 0.9M413.1 352.7l0.2 0.3M399.6 347.3l-0.4 0.8M405.7 350.7l0.3 0.4M420.7 339.0l0.3 0.2M405.9 361.3l0.2 0.8M400.3 358.0l-0.2 0.1M403.6 360.0l-0.4 0.0M405.7 350.9l-0.1 1.1M420.2 341.3l-1.0 0.3M415.2 345.8l0.1 0.1M404.5 352.0l0.4 0.8M412.7 342.8l-0.9 1.0M405.1 355.0l0.4 0.4M409.1 347.8l0.6 0.7M394.7 346.5l0.6 0.3M402.2 354.7l0.2 1.0M411.4 344.3l-0.4 0.8M400.9 345.3l-1.3 0.7M406.7 343.2l-0.5 1.3M399.8 355.4l-0.4 0.5M397.2 348.8l-0.2 0.7M401.3 359.6l0.5 0.6M410.5 350.4l-1.0 0.5M399.6 355.4l0.9 0.9M406.0 348.8l-0.9 0.8M407.0 349.0l1.3 0.4M401.7 348.7l0.2 0.4M416.6 339.4l1.0 0.1M404.3 364.7l0.3 0.3M409.7 346.8l0.2 1.0M405.8 347.8l0.8 1.3M401.5 354.5l-0.0 0.4M408.7 363.9l-0.8 0.8M402.7 363.5l0.6 0.0M404.7 349.7l0.2 0.1M411.6 347.9l0.4 0.1M408.0 354.4l-0.1 0.4M405.9 364.3l0.4 1.2M402.0 349.4l-0.1 0.1M409.8 358.0l0.3 0.1M397.8 347.1l-0.5 0.0M409.1 354.1l-0.6 0.3M405.6 356.3l1.0 1.2M404.3 358.8l0.2 0.0M403.7 365.2l-0.3 0.2M408.1 357.0l-0.2 0.8M407.4 366.7l0.1 0.4M405.0 349.4l1.2 0.0M407.3 350.4l0.9 0.1M402.2 355.8l-0.3 0.1M407.6 347.8l-0.2 0.0M408.1 365.2l0.3 0.9M406.6 365.1l0.2 0.1M403.5 346.5l0.3 0.3M403.2 344.6l-0.2 0.8M396.4 347.7l-0.4 0.6M404.8 349.0l-1.2 0.8M413.9 346.1l-0.2 0.4M404.5 365.4l0.2 0.3M404.1 365.5l0.2 0.3M406.7 367.5l0.9 0.8M396.7 344.5l0.8 0.1M404.1 358.0l-0.6 1.0M407.3 346.4l-0.0 0.1M409.4 355.8l-0.0 0.0M417.2 339.3l0.4 0.1M414.8 345.6l-0.5 0.2M400.9 345.0l-0.5 1.3M411.7 357.2l0.7 0.8M415.9 342.1l1.1 0.0M416.8 341.4l0.1 0.1M401.0 342.6l0.1 1.5M405.6 360.9l-0.2 0.4M397.7 350.2l0.2 0.1M402.0 348.0l-0.1 0.1M399.4 343.1l-0.4 1.4M398.8 352.2l1.1 1.0M396.9 343.3l0.4 0.9M408.0 346.7l-0.0 0.3M401.0 347.4l-0.0 1.3M404.4 364.6l-0.7 1.1M413.3 353.2l-0.7 0.1M404.5 349.4l-0.7 0.5M402.1 359.0l1.1 1.2M403.9 344.7l-0.0 0.0M414.7 343.2l1.0 0.3M412.7 347.2l-0.0 0.0M408.7 356.5l-0.6 0.2M403.5 349.5l0.1 0.3M400.6 351.0l0.3 0.3M397.7 351.8l-0.2 0.3M417.4 344.3l0.6 1.0M408.3 356.3l0.0 0.2M402.6 354.9l0.4 0.4M404.8 342.8l0.4 0.3M405.4 348.2l-0.1 0.1M408.2 354.2l1.1 0.5M403.0 348.2l-0.4 0.5M408.2 362.2l-0.1 0.6M414.2 353.5l-0.4 1.2M417.5 339.1l0.1 0.3M417.9 341.8l-0.0 0.1M397.9 347.1l0.6 1.3M404.5 357.8l-0.1 0.2M419.7 339.9l-0.3 0.7M402.0 361.6l-0.1 0.2M411.2 353.8l-0.2 0.3M406.7 349.0l0.1 0.0M407.3 356.1l0.1 0.1M409.2 359.1l-0.0 1.2M404.0 360.2l-0.1 0.1M406.7 355.3l0.1 0.2M410.4 356.4l-0.4 1.0M402.0 354.8l-1.5 0.5M411.5 345.4l0.0 0.1M403.3 344.4l-0.6 1.0M406.6 353.8l1.1 0.6M409.7 359.8l-0.6 0.6M410.3 340.5l0.7 0.6M405.4 350.8l-0.2 0.4M396.8 343.8l-0.2 1.2M406.8 352.8l0.3 0.4M397.4 344.4l0.7 0.8M408.7 359.8l0.1 1.0M412.0 357.5l-1.2 1.0M398.0 349.4l-0.0 0.6M407.1 358.6l0.4 0.2M416.9 342.2l-0.1 0.1M401.0 345.6l0.7 1.0M402.6 349.8l0.7 0.1M411.8 349.9l-0.7 1.0M400.6 353.3l0.6 0.2M403.5 358.9l0.0 0.1M394.9 347.1l0.5 0.0M406.9 345.5l-1.0 0.6M402.1 354.4l0.8 0.2M403.8 346.7l-0.4 1.4M418.8 343.6l0.1 0.5M404.0 351.3l-0.1 0.0M402.8 354.2l-0.2 1.0M399.6 355.0l1.0 0.1M397.5 350.2l0.7 0.7M415.1 346.5l0.4 0.1M400.3 353.4l0.2 0.6M399.2 356.4l-0.4 0.1M403.9 356.1l-0.7 0.4M410.8 356.0l0.3 0.2M404.8 363.0l-0.6 0.2M409.6 344.9l0.3 0.3M405.0 369.3l1.0 0.9M409.7 344.3l0.9 0.2M401.9 342.5l-0.4 0.2M414.0 351.7l-0.6 0.3M415.6 341.0l-0.0 1.2M409.1 353.2l-0.9 0.5M400.3 352.7l0.4 1.2M403.6 364.1l-0.3 0.2M404.6 356.1l0.8 1.1M409.7 353.6l1.0 0.0M399.5 357.5l0.2 0.1M407.7 362.7l-0.9 0.1M414.3 345.0l-0.0 0.9M407.7 351.4l1.4 0.4M410.9 347.7l-0.5 0.3" stroke="#f2e21c" stroke-width="0.8" stroke-linecap="round" fill="none" opacity="0.95"/>
<text x="372.50" y="374.20" font-size="5.8" fill="#e8d81c" textLength="19.60" lengthAdjust="spacingAndGlyphs">FG→nA</text>
<text x="372.50" y="379.80" font-size="5.8" fill="#e020e0" textLength="26.60" lengthAdjust="spacingAndGlyphs">tdTomato</text>
<text x="372.50" y="385.40" font-size="5.8" fill="#18bcd6" textLength="25.00" lengthAdjust="spacingAndGlyphs">SypEGFP</text>
</g>
<clipPath id="c10"><rect x="425.30" y="326.80" width="51.20" height="62.20"/></clipPath>
<g clip-path="url(#c10)">
<rect x="425.30" y="326.80" width="51.20" height="62.20" fill="#000" />
<ellipse cx="449.3" cy="347" rx="26" ry="22" fill="#2ee62e" opacity="0.40" filter="url(#b12)"/>
<path d="M451.3 349 L429.3 332" stroke="#2ee62e" stroke-width="7" opacity="0.45" filter="url(#b12)" stroke-linecap="round"/>
<path d="M451.7 349.0 L452.8 347.3 L453.7 345.5 L454.4 343.7 L455.4 341.9 L456.6 340.3 L457.7 338.7 L458.8 337.0 L459.9 335.3 L461.2 333.8 L462.5 332.2" stroke="#2ee62e" stroke-width="1.2" stroke-linecap="round" stroke-linejoin="round" fill="none" opacity="0.7" filter="url(#b6)"/>
<path d="M451.7 349.0 L451.2 350.9 L450.7 352.9 L450.4 354.9 L450.0 356.8 L449.5 358.8 L448.8 360.6 L448.2 362.5 L447.7 364.5 L446.9 366.3 L445.9 368.0" stroke="#2ee62e" stroke-width="1.2" stroke-linecap="round" stroke-linejoin="round" fill="none" opacity="0.7" filter="url(#b6)"/>
<path d="M451.7 349.0 L453.7 349.2 L455.6 349.7 L457.6 350.2 L459.5 350.8 L461.3 351.6 L463.2 352.3 L465.2 352.7 L467.1 353.2 L468.9 353.9 L470.9 354.5 L472.8 355.1 L474.6 355.8 L476.6 356.4" stroke="#2ee62e" stroke-width="1.2" stroke-linecap="round" stroke-linejoin="round" fill="none" opacity="0.7" filter="url(#b6)"/>
<path d="M451.7 349.0 L451.2 347.1 L450.7 345.1 L450.1 343.2 L449.6 341.3 L449.0 339.4 L448.6 337.4 L447.9 335.5 L447.5 333.6 L446.8 331.7 L445.9 329.9 L445.3 328.0" stroke="#2ee62e" stroke-width="1.2" stroke-linecap="round" stroke-linejoin="round" fill="none" opacity="0.7" filter="url(#b6)"/>
<path d="M451.7 349.0 L450.7 347.3 L449.7 345.6 L448.7 343.8 L447.7 342.1 L446.5 340.4 L445.2 338.9 L444.0 337.4 L442.6 336.0 L441.2 334.5" stroke="#2ee62e" stroke-width="1.2" stroke-linecap="round" stroke-linejoin="round" fill="none" opacity="0.7" filter="url(#b6)"/>
<path d="M451.7 349.0 L450.1 350.2 L448.4 351.3 L446.9 352.5 L445.2 353.6 L443.6 354.9 L442.1 356.2 L440.7 357.6 L439.2 358.9 L437.7 360.3 L436.4 361.8 L435.1 363.3 L433.6 364.6" stroke="#2ee62e" stroke-width="1.2" stroke-linecap="round" stroke-linejoin="round" fill="none" opacity="0.7" filter="url(#b6)"/>
<path d="M451.7 349.0 L450.3 347.5 L449.2 345.9 L447.9 344.4 L446.4 343.0 L445.2 341.4 L444.0 339.8 L443.0 338.1 L442.1 336.3 L441.1 334.6 L440.1 332.8 L439.2 331.1" stroke="#2ee62e" stroke-width="1.2" stroke-linecap="round" stroke-linejoin="round" fill="none" opacity="0.7" filter="url(#b6)"/>
<path d="M475.5 367.4h.01M454.4 381.7h.01M462.7 358.4h.01M463.7 342.6h.01M454.0 353.1h.01M454.8 378.0h.01M472.9 376.9h.01M460.1 381.9h.01M463.1 350.8h.01M455.8 334.3h.01M433.2 364.0h.01M434.1 333.1h.01M437.9 375.7h.01M475.4 336.5h.01M427.0 338.4h.01M457.0 331.9h.01M436.1 381.1h.01M464.2 327.7h.01M467.9 334.0h.01M444.8 368.6h.01M472.8 385.2h.01M439.9 347.1h.01M462.7 343.7h.01M443.5 338.6h.01M434.7 378.7h.01M467.4 360.4h.01M468.9 354.5h.01M462.5 354.1h.01M473.3 369.7h.01M463.9 364.0h.01M448.7 329.5h.01M460.8 356.6h.01M446.0 384.5h.01M435.0 384.7h.01M460.7 350.3h.01M471.8 383.3h.01M458.9 348.8h.01M458.8 329.6h.01M447.1 367.1h.01M470.5 357.8h.01M456.9 378.7h.01M456.4 330.4h.01M443.8 339.7h.01M436.3 339.6h.01M441.8 327.1h.01M475.2 370.4h.01M467.4 369.6h.01M469.7 342.5h.01M428.0 354.0h.01M475.4 351.4h.01M455.1 359.9h.01M455.0 348.4h.01M456.0 385.5h.01M425.8 373.7h.01M453.9 334.7h.01M437.8 369.5h.01M431.4 386.6h.01M442.1 359.7h.01M465.1 343.4h.01M445.8 340.1h.01M453.8 352.5h.01M468.6 346.0h.01M447.4 357.8h.01M468.5 374.0h.01M434.7 355.5h.01M475.2 336.0h.01M471.7 337.5h.01M442.1 351.9h.01M444.2 374.3h.01M454.6 365.9h.01M452.8 369.5h.01M462.6 384.4h.01M428.7 332.6h.01M432.9 359.7h.01M473.8 339.9h.01M440.9 373.6h.01M464.7 369.1h.01M438.1 388.5h.01M456.0 381.7h.01M455.8 334.5h.01M476.4 337.5h.01M452.8 374.2h.01M464.3 352.5h.01M426.6 350.5h.01M471.6 348.7h.01M459.1 377.5h.01M449.8 360.3h.01M466.4 370.3h.01M453.4 344.0h.01M473.8 365.9h.01M462.7 339.2h.01M450.6 332.6h.01M443.2 348.0h.01M452.6 335.9h.01M426.9 338.6h.01M472.0 371.4h.01M435.0 378.1h.01M455.0 339.0h.01M475.8 368.5h.01M428.1 338.8h.01M428.6 372.0h.01M454.6 334.7h.01M460.5 379.8h.01M439.8 372.4h.01M474.6 382.6h.01M452.1 372.8h.01M449.1 340.3h.01M432.7 331.5h.01M440.8 334.9h.01M434.9 328.3h.01M461.5 366.3h.01M458.0 328.5h.01M437.7 368.3h.01M465.7 384.1h.01M450.3 333.9h.01M434.2 381.4h.01M430.5 337.1h.01M437.2 378.9h.01M461.2 360.7h.01M474.6 339.5h.01M436.4 359.1h.01M471.7 360.4h.01M473.6 340.9h.01M430.8 351.1h.01M462.0 369.2h.01M473.4 345.4h.01M430.1 330.7h.01M475.8 379.4h.01M439.9 328.1h.01M474.8 388.9h.01M462.6 356.1h.01M473.7 343.4h.01M446.2 384.1h.01M463.3 350.2h.01M451.5 335.8h.01M455.0 353.3h.01M430.8 378.4h.01M463.4 334.4h.01M441.9 385.5h.01M467.6 386.3h.01M432.8 378.0h.01M431.4 373.2h.01M451.5 388.1h.01M442.6 386.7h.01M448.9 335.9h.01M428.6 344.3h.01M440.4 373.0h.01M426.8 363.0h.01M462.8 332.8h.01M428.4 378.8h.01M427.5 351.1h.01M464.7 379.6h.01M452.3 370.4h.01M466.6 364.4h.01M448.1 379.8h.01M470.2 360.8h.01M449.8 362.3h.01M446.9 339.2h.01M452.6 346.3h.01M465.7 366.5h.01" stroke="#2ee62e" stroke-width="0.6" stroke-linecap="round" fill="none" opacity="0.5"/>
<rect x="425.30" y="326.80" width="51.20" height="62.20" fill="#d018d0" opacity="0.13"/>
<path d="M441.9 365.4h.01M425.7 387.9h.01M467.4 388.9h.01M438.8 339.2h.01M428.1 338.9h.01M426.5 369.8h.01M444.0 377.5h.01M464.2 348.5h.01M433.8 348.4h.01M426.9 367.1h.01M435.0 336.1h.01M470.8 354.0h.01M473.7 387.8h.01M459.3 342.3h.01M432.9 342.1h.01M463.0 358.6h.01M440.6 327.9h.01M443.3 351.2h.01M428.8 342.3h.01M440.4 352.7h.01M450.6 362.0h.01M468.8 345.1h.01M430.2 345.7h.01M436.4 362.6h.01M449.7 346.8h.01M430.2 373.5h.01M457.2 365.6h.01M461.3 380.0h.01M427.1 338.5h.01M449.5 370.4h.01M451.1 358.2h.01M441.0 342.0h.01M470.0 387.9h.01M450.9 355.9h.01M431.9 364.2h.01M436.1 365.7h.01M439.6 355.9h.01M469.6 346.2h.01M452.7 346.6h.01M450.2 380.7h.01M450.5 386.8h.01M446.2 355.0h.01M458.3 358.0h.01M459.7 344.9h.01M426.0 353.1h.01M428.6 342.2h.01M455.9 369.7h.01M471.9 369.0h.01M453.7 348.2h.01M449.7 344.7h.01M430.5 360.1h.01M457.6 345.9h.01M463.2 359.8h.01M441.1 379.8h.01M426.4 343.5h.01M441.7 368.6h.01M438.2 387.9h.01M430.7 354.8h.01M449.3 373.1h.01M438.3 336.9h.01M463.4 375.8h.01M454.8 383.0h.01M445.5 354.7h.01M450.8 334.7h.01M467.7 330.6h.01M429.3 383.4h.01M448.4 335.9h.01M470.7 338.6h.01M448.5 327.7h.01M432.6 356.8h.01M461.2 334.8h.01M464.3 366.9h.01M459.7 386.8h.01M449.9 327.1h.01M428.2 381.0h.01M430.8 343.8h.01M458.7 372.6h.01M463.9 361.6h.01M442.0 382.9h.01M426.2 342.8h.01M475.8 338.5h.01M468.4 364.2h.01M457.7 366.2h.01M448.3 379.1h.01M428.3 344.6h.01M464.8 372.7h.01M458.2 369.7h.01M440.3 364.2h.01M454.5 377.5h.01M437.1 344.4h.01M441.7 339.6h.01M462.6 357.4h.01M428.8 382.3h.01M452.1 378.0h.01M463.4 351.6h.01M441.7 361.0h.01M473.5 376.7h.01M474.3 362.4h.01M453.2 345.5h.01M453.4 361.4h.01M464.3 378.9h.01M471.4 342.5h.01M458.4 330.9h.01M439.7 364.4h.01M425.4 380.5h.01M452.9 341.7h.01M446.9 373.6h.01M430.0 383.5h.01M459.0 359.7h.01M435.1 365.7h.01M436.7 331.1h.01M468.9 348.6h.01M464.8 356.9h.01M454.1 350.9h.01M467.3 375.3h.01M445.2 361.5h.01M439.4 383.4h.01M448.7 364.2h.01M454.7 332.9h.01M442.4 375.2h.01M455.5 342.0h.01M433.8 380.8h.01M466.9 381.8h.01M434.4 360.9h.01M447.7 353.3h.01M443.8 366.7h.01M454.6 331.4h.01M427.3 337.8h.01M466.8 380.4h.01M459.7 349.7h.01M452.5 366.6h.01M434.1 386.5h.01M472.3 329.0h.01M438.4 343.9h.01M469.3 383.3h.01M473.6 353.4h.01M453.2 339.1h.01M426.8 366.5h.01M453.3 381.4h.01M472.5 360.3h.01M428.2 362.3h.01M473.0 356.4h.01M458.3 358.8h.01M448.2 353.0h.01M437.2 354.6h.01M466.1 372.9h.01M426.9 340.3h.01M429.0 332.5h.01M425.8 372.0h.01M435.7 367.9h.01M467.8 336.4h.01M437.9 334.1h.01M432.1 387.9h.01M470.2 387.1h.01M434.7 353.3h.01M453.6 330.9h.01M458.4 381.1h.01M472.8 380.6h.01M440.9 376.6h.01M435.8 355.5h.01M429.1 332.7h.01M429.4 349.0h.01M463.4 361.6h.01M433.9 344.8h.01M443.9 334.0h.01M433.6 385.7h.01M465.3 369.2h.01M430.0 358.5h.01M465.7 377.8h.01M436.6 350.4h.01M456.5 336.2h.01M456.1 331.5h.01M467.1 340.7h.01M443.9 370.4h.01M455.9 388.3h.01M459.1 343.3h.01M432.5 375.2h.01M462.4 338.9h.01M467.2 350.3h.01M434.6 336.3h.01M448.0 375.7h.01M452.0 345.6h.01M458.2 328.0h.01M462.9 369.4h.01M448.7 331.0h.01M446.1 383.0h.01M473.0 373.9h.01M461.4 387.9h.01M439.2 381.5h.01M472.1 378.8h.01M437.2 367.1h.01M426.9 341.5h.01M468.2 335.8h.01M458.3 339.1h.01M475.0 384.8h.01M474.7 363.4h.01M476.4 336.3h.01M455.0 333.1h.01M455.9 388.3h.01M462.8 376.0h.01M471.6 380.9h.01M456.8 374.9h.01M433.3 342.4h.01M462.3 371.9h.01M445.8 356.0h.01M442.5 376.3h.01M448.2 347.3h.01M436.7 355.3h.01M470.6 342.0h.01M427.0 349.2h.01M443.5 382.7h.01M452.7 362.2h.01M440.8 352.0h.01M451.8 357.6h.01M449.4 386.7h.01M455.9 348.7h.01M462.8 335.9h.01M431.2 351.0h.01M452.5 365.6h.01M431.2 367.1h.01M473.1 342.1h.01M445.4 358.4h.01M465.8 379.7h.01M458.4 361.9h.01M434.9 359.3h.01M429.4 328.9h.01M432.1 379.9h.01M438.8 336.5h.01M464.4 353.9h.01M431.6 367.3h.01M474.9 328.1h.01M475.1 361.6h.01M463.3 364.5h.01M446.3 348.5h.01M463.5 354.3h.01M462.6 363.1h.01M467.6 353.7h.01M441.3 350.1h.01M453.7 371.1h.01M455.6 329.9h.01" stroke="#e818e8" stroke-width="0.65" stroke-linecap="round" fill="none" opacity="0.6"/>
<path d="M476.0 353.9l1.9 0.7M432.6 327.1l-1.3 0.5M456.6 350.9l2.3 0.7M426.6 350.0l-1.3 1.3M432.9 350.8l0.6 0.6M435.6 332.9l-2.0 1.0M445.4 340.9l-1.0 1.0M470.1 359.8l0.3 1.6M464.9 387.5l-0.6 1.2M451.0 340.4l1.6 1.0M448.6 348.8l0.0 0.5M428.7 344.2l0.0 1.3M465.7 347.1l-0.4 0.6M475.8 369.5l0.1 1.0M454.0 337.0l-1.1 2.1M465.7 336.5l-0.3 0.4M467.0 350.8l0.2 1.1M462.6 379.6l1.7 1.7M436.9 329.1l-2.0 1.4M433.8 327.4l0.1 0.1M471.9 346.5l1.4 0.0M443.4 333.0l1.1 0.1M453.0 386.2l-0.6 2.3M445.6 380.6l1.8 1.1M447.0 360.5l-0.3 0.2M456.0 359.2l-0.0 0.6M472.4 348.5l-0.1 0.6M432.0 348.2l2.6 0.4M433.0 340.6l0.1 0.9M439.5 327.8l1.7 1.1M441.2 375.0l-1.1 2.2M434.1 362.8l0.9 0.2M465.4 355.7l-2.0 0.3M429.1 361.2l0.0 0.0M460.8 375.0l1.9 1.1M466.9 364.3l-0.1 1.3M469.3 377.8l1.0 1.6M434.3 384.6l-1.7 1.3M470.3 337.8l-0.9 1.6M459.0 370.6l-1.3 0.7M462.2 329.7l-0.9 1.4M471.5 358.9l1.5 2.0M437.1 362.9l-1.8 1.8M444.1 374.6l-0.2 0.2M472.7 331.7l-2.1 0.8M451.1 376.4l0.1 0.0M440.3 341.4l0.2 2.4M456.4 367.6l-0.0 0.0M454.0 352.6l0.3 0.7M444.9 360.9l-0.1 0.4M431.0 373.2l1.0 1.9M441.9 354.3l-0.5 0.7M454.8 387.9l1.7 0.4M464.6 386.2l-0.8 0.1M443.0 355.5l-0.3 0.5M438.6 350.6l0.6 1.1M448.9 369.0l-1.3 1.1M465.2 330.7l-0.8 0.8M452.7 371.1l0.0 0.6M454.8 345.3l0.5 1.5M452.5 338.3l0.0 0.1M446.4 385.9l-0.3 0.4M454.6 367.4l-0.9 1.4M430.9 380.6l-0.3 0.1M457.2 330.2l1.5 0.7M459.0 362.9l0.4 2.5M476.5 340.7l0.0 0.9M436.8 382.4l-0.3 0.0M442.9 384.9l-1.8 0.5M451.2 372.7l-1.3 1.0M468.8 387.2l0.3 0.2M456.4 351.4l-1.6 1.6M437.6 334.7l0.1 0.1M461.3 361.7l-0.3 2.5M435.9 384.4l-0.9 0.7M435.5 388.4l-0.5 0.1M462.7 357.3l-0.6 1.7M471.2 335.7l-0.4 0.4M432.5 330.1l1.1 0.4M454.8 366.3l0.8 1.4M471.4 360.3l0.0 0.1M435.0 384.3l-0.7 1.3M449.5 353.9l1.5 1.7M427.5 338.1l0.1 1.6M454.8 380.6l-0.8 1.2M459.7 339.4l-0.4 1.4M467.6 379.6l-0.8 0.4M463.4 382.0l-0.0 0.8M466.3 364.0l1.9 0.9M458.1 347.9l2.3 0.2M447.4 331.0l0.6 0.1M448.7 369.4l0.9 1.6M449.6 346.5l-0.2 0.4M471.4 328.1l-1.7 1.9M458.3 375.7l-0.4 0.1M426.8 368.3l-0.7 0.4M461.8 346.4l1.2 0.2M454.1 349.2l1.9 0.8M465.6 360.2l-0.0 0.3M447.4 366.0l-1.8 0.9M469.1 339.5l-0.0 0.1M449.7 343.8l0.3 0.0M461.8 349.7l-0.0 0.3M450.8 342.0l-0.9 0.3M458.4 343.4l-1.2 1.4M459.3 327.1l-1.3 1.9M476.3 368.7l2.2 0.2M468.1 358.3l0.6 0.9M461.9 383.1l-2.1 1.2M441.7 381.6l0.7 0.1M473.0 374.7l0.4 0.5M462.0 381.4l0.2 1.9M440.5 385.1l0.7 0.3M461.8 332.1l0.1 1.3M453.0 361.3l-0.4 2.2M462.6 373.8l-0.4 1.9M444.8 367.3l-1.2 0.4M458.2 349.3l-0.1 0.2M447.5 366.8l-0.3 0.6M441.0 357.0l-0.3 2.3M471.4 361.3l1.7 1.2M439.3 350.1l0.0 0.0M446.6 388.5l0.6 0.1M454.4 388.4l-0.3 0.1M470.6 328.7l0.7 1.1M463.2 356.4l0.3 0.4M467.1 348.0l-0.1 1.3M460.2 333.3l-0.1 2.1M428.9 361.5l0.3 1.9M459.8 346.6l-0.8 1.0M443.6 376.0l0.0 0.0M447.7 355.7l0.1 0.0M462.4 380.3l2.3 0.2M426.2 371.4l-0.3 0.6M463.3 336.4l-0.7 0.7M457.5 338.5l2.2 0.7M450.1 343.9l0.2 0.1M445.6 331.6l1.2 0.4M460.9 351.3l-1.2 0.3M451.9 366.7l-0.2 2.1M436.8 345.1l0.0 2.1M473.8 348.1l-0.7 0.7M436.2 380.9l-1.1 0.7M431.8 353.0l1.0 0.4M470.5 329.8l-0.9 0.3M468.1 343.3l0.1 0.5M471.0 346.2l-2.5 0.5M471.8 336.6l-1.3 2.1M468.9 363.7l0.8 1.2M449.4 377.1l-0.3 0.2" stroke="#f024f0" stroke-width="1.0" stroke-linecap="round" fill="none" opacity="0.7" filter="url(#b3)"/>
<g filter="url(#b3)">
<path d="M463.3 372.1 L462.2 373.8 L461.1 375.5 L460.2 377.3 L459.3 379.0 L458.8 381.0 L457.6 382.6 L456.5 384.3" stroke="#f024f0" stroke-width="0.7083388114790825" stroke-linecap="round" stroke-linejoin="round" fill="none" opacity="0.7"/>
<path d="M474.7 343.7 L474.4 345.6 L473.5 347.4 L472.6 349.2 L471.8 351.0 L471.3 353.0 L470.4 354.7" stroke="#f024f0" stroke-width="0.772244321715452" stroke-linecap="round" stroke-linejoin="round" fill="none" opacity="0.7"/>
<path d="M454.1 380.3 L455.4 381.8 L456.8 383.3 L458.4 384.5 L459.7 385.9" stroke="#f024f0" stroke-width="0.8092289009441467" stroke-linecap="round" stroke-linejoin="round" fill="none" opacity="0.7"/>
<path d="M427.3 361.4 L426.3 363.2 L425.5 365.0 L425.3 367.0 L424.4 368.8 L422.9 370.1 L421.3 371.2" stroke="#f024f0" stroke-width="0.6095787541778233" stroke-linecap="round" stroke-linejoin="round" fill="none" opacity="0.7"/>
<path d="M466.1 362.2 L464.6 363.5 L463.5 365.1 L462.2 366.6 L460.4 367.5 L458.4 367.7 L456.4 368.1" stroke="#f024f0" stroke-width="0.7051105214958121" stroke-linecap="round" stroke-linejoin="round" fill="none" opacity="0.7"/>
<path d="M457.3 348.5 L458.7 350.0 L459.6 351.7 L460.6 353.5 L461.9 355.0 L462.7 356.8 L464.0 358.3 L464.9 360.1 L465.3 362.1" stroke="#f024f0" stroke-width="1.0370926813349262" stroke-linecap="round" stroke-linejoin="round" fill="none" opacity="0.7"/>
<path d="M442.4 341.5 L440.4 341.6 L438.4 341.3 L436.4 341.2 L434.4 340.9 L432.5 341.1" stroke="#f024f0" stroke-width="0.9786684478521375" stroke-linecap="round" stroke-linejoin="round" fill="none" opacity="0.7"/>
<path d="M474.2 379.3 L476.2 379.3 L478.1 379.9 L480.1 380.2 L482.1 380.1" stroke="#f024f0" stroke-width="1.0139853978682276" stroke-linecap="round" stroke-linejoin="round" fill="none" opacity="0.7"/>
<path d="M437.5 350.6 L438.9 352.1 L440.3 353.6 L441.8 354.9" stroke="#f024f0" stroke-width="0.8866545048289995" stroke-linecap="round" stroke-linejoin="round" fill="none" opacity="0.7"/>
<path d="M453.3 386.8 L452.3 388.5 L451.9 390.5" stroke="#f024f0" stroke-width="0.8734387912270688" stroke-linecap="round" stroke-linejoin="round" fill="none" opacity="0.7"/>
<path d="M425.8 378.3 L427.7 378.8 L429.6 379.5 L431.6 379.9 L433.6 379.7 L435.5 379.4 L437.2 378.3" stroke="#f024f0" stroke-width="0.734098821573845" stroke-linecap="round" stroke-linejoin="round" fill="none" opacity="0.7"/>
<path d="M455.9 387.3 L457.6 388.4 L459.5 389.1 L461.2 390.0 L463.0 390.9 L464.9 391.6 L466.4 392.8 L468.1 393.9 L469.4 395.5 L470.5 397.1" stroke="#f024f0" stroke-width="0.818145137388832" stroke-linecap="round" stroke-linejoin="round" fill="none" opacity="0.7"/>
<path d="M475.1 353.8 L473.3 354.7 L471.4 354.9 L469.4 354.4 L467.6 353.6 L466.0 352.3 L464.5 351.1 L462.6 350.5" stroke="#f024f0" stroke-width="1.1332028603963042" stroke-linecap="round" stroke-linejoin="round" fill="none" opacity="0.7"/>
<path d="M464.6 343.5 L465.7 345.1 L467.3 346.3 L469.2 347.0" stroke="#f024f0" stroke-width="0.8212166433636204" stroke-linecap="round" stroke-linejoin="round" fill="none" opacity="0.7"/>
<path d="M473.1 362.7 L471.2 363.1 L469.2 362.8 L467.4 361.9 L465.4 361.7 L463.5 361.0 L461.8 359.9 L459.9 359.4 L458.1 358.5 L456.2 358.0" stroke="#f024f0" stroke-width="1.1805756464524868" stroke-linecap="round" stroke-linejoin="round" fill="none" opacity="0.7"/>
<path d="M440.7 335.2 L442.3 336.3 L444.1 337.2 L445.8 338.2 L447.7 338.9 L449.7 339.1" stroke="#f024f0" stroke-width="1.1983564127764152" stroke-linecap="round" stroke-linejoin="round" fill="none" opacity="0.7"/>
<path d="M476.3 367.1 L477.8 368.3 L479.7 369.0 L481.7 369.3 L483.7 369.3 L485.6 368.6 L487.5 367.9" stroke="#f024f0" stroke-width="0.912598728721645" stroke-linecap="round" stroke-linejoin="round" fill="none" opacity="0.7"/>
<path d="M449.1 366.1 L447.1 365.9 L445.2 365.3 L443.3 364.6 L441.4 364.2 L439.6 363.3" stroke="#f024f0" stroke-width="0.6960394542877386" stroke-linecap="round" stroke-linejoin="round" fill="none" opacity="0.7"/>
<path d="M435.8 349.2 L436.1 351.1 L435.8 353.1 L435.3 355.1 L434.6 356.9 L433.1 358.3" stroke="#f024f0" stroke-width="0.8887640712747479" stroke-linecap="round" stroke-linejoin="round" fill="none" opacity="0.7"/>
<path d="M432.9 356.2 L434.1 357.8 L435.6 359.1 L437.4 359.9" stroke="#f024f0" stroke-width="0.8137162497800562" stroke-linecap="round" stroke-linejoin="round" fill="none" opacity="0.7"/>
<path d="M466.2 384.0 L465.6 385.9 L464.7 387.7 L463.3 389.0 L462.0 390.6 L460.9 392.2 L459.8 393.9" stroke="#f024f0" stroke-width="0.8949252107651813" stroke-linecap="round" stroke-linejoin="round" fill="none" opacity="0.7"/>
<path d="M473.2 368.5 L471.3 369.2 L469.7 370.3 L467.8 370.9 L465.9 371.4 L463.9 371.9 L461.9 371.9" stroke="#f024f0" stroke-width="0.8641455425936653" stroke-linecap="round" stroke-linejoin="round" fill="none" opacity="0.7"/>
</g>
<g filter="url(#b6)" fill="none" stroke-linecap="round">
<path d="M441.4 329 C443.3 331 445.3 333 447.6 336" stroke="#f024f0" stroke-width="1.6" opacity="1.0"/>
<path d="M451.1 335 C451.7 338 452.7 340.6 453.7 343" stroke="#f024f0" stroke-width="1.8" opacity="1.0"/>
<path d="M465.3 328 C468.3 329 471.3 331 475.3 334" stroke="#f024f0" stroke-width="1.6" opacity="1.0"/>
<path d="M473.8 338.6 L475.8 343" stroke="#f024f0" stroke-width="1.3" opacity="1.0"/>
<path d="M436.2 344.8 C438.3 347.6 441.3 351 445.8 354.4" stroke="#f024f0" stroke-width="1.9" opacity="1.0"/>
<path d="M468.6 341.3 C464.3 344.6 460.3 347.6 456.3 350.9 C452.3 354.6 448.3 358.4 444.1 362.3" stroke="#f024f0" stroke-width="1.0" opacity="1.0"/>
<path d="M469.6 342.6 C465.3 346 461.3 349 457.3 352.3 C453.3 356 449.3 359.8 445.1 363.7" stroke="#f024f0" stroke-width="0.8" opacity="0.85"/>
<path d="M451.9 348.3 C452.3 352 452.5 355 452.8 357.9 C456.3 361.6 460.9 365.6 465.1 369.3 C468.3 370.8 471.3 372 473.8 372.8" stroke="#f024f0" stroke-width="1.7" opacity="1.0"/>
<path d="M438.8 368.4 l1.5 1" stroke="#f024f0" stroke-width="2.4" opacity="1.0"/>
<path d="M438.8 350 l1.2 0.8" stroke="#f024f0" stroke-width="2.6" opacity="1.0"/>
<path d="M427.3 352 C431.3 356 434.3 362 435.3 368" stroke="#f024f0" stroke-width="0.8" opacity="0.8"/>
<path d="M455.3 372 C457.3 376 460.3 381 464.3 386" stroke="#f024f0" stroke-width="0.9" opacity="0.8"/>
<path d="M428.3 336 C432.3 338 435.3 341 437.3 345" stroke="#f024f0" stroke-width="0.8" opacity="0.8"/>
</g>
<path d="M429.1 363.8l-0.3 0.0M453.2 350.1l-0.5 0.5M456.0 387.5l-0.2 0.3M444.8 366.2l-0.1 0.2M466.7 354.6l-0.1 0.1M441.6 327.9l0.1 0.2M443.1 340.5l-0.6 0.3M443.2 357.7l0.8 0.5M471.7 362.3l0.8 0.4M436.4 330.2l0.1 0.4M468.8 335.9l0.4 0.1M427.4 368.0l0.0 0.9M473.2 341.4l-0.4 0.3M474.0 331.7l0.1 1.0M428.2 345.7l0.2 0.3M476.1 338.7l-0.2 0.1M470.1 335.9l0.9 0.3M426.0 366.7l0.5 0.3M441.6 365.6l-0.4 0.6M431.5 378.4l0.4 0.4M466.8 374.8l-0.0 0.5M433.2 381.5l-0.2 0.7M474.8 370.4l0.3 0.4M434.1 344.0l-0.6 0.3M433.8 359.2l0.2 0.8M467.9 348.8l0.2 0.0M454.2 349.5l0.7 0.1M456.8 347.1l0.4 0.0M455.3 330.7l0.0 0.0M426.9 364.9l-0.4 0.5M441.6 348.9l0.8 0.0M452.4 338.6l0.3 0.1M445.0 370.3l0.8 0.2M437.4 336.4l-0.1 0.1M475.8 369.0l-0.4 0.4M470.3 379.9l-0.0 0.1M459.4 388.7l0.5 0.5M431.0 378.1l-0.1 0.6M455.2 359.5l-0.3 0.5M440.3 380.9l0.7 0.3M447.0 333.1l0.3 0.4M432.2 365.8l-0.7 0.1M453.6 363.7l0.0 0.8M461.1 358.5l-0.5 0.5M429.1 335.8l0.1 0.3M460.7 356.1l-0.4 0.6M474.0 360.1l0.7 0.7M442.4 373.4l0.3 0.3M458.1 383.8l-0.9 0.2M451.3 373.0l-0.4 0.4M463.3 350.7l0.0 0.3M432.3 385.0l-0.1 0.5M461.2 344.1l0.6 0.2M438.2 338.0l-0.0 0.4M472.8 357.3l-0.8 0.2" stroke="#18cfe6" stroke-width="1.3" stroke-linecap="round" fill="none" opacity="0.95" filter="url(#b3)"/>
<path d="M459.2 362.4h.01M433.0 380.7h.01M433.0 377.4h.01M475.0 381.5h.01M469.8 375.6h.01M450.3 375.1h.01M461.6 366.8h.01M449.9 365.5h.01M464.6 333.8h.01M458.3 383.9h.01M429.9 388.8h.01M470.5 355.0h.01M455.0 352.9h.01M437.7 347.3h.01M474.0 331.4h.01M449.1 344.0h.01M457.7 385.4h.01M457.3 340.2h.01M475.3 351.9h.01M468.8 382.3h.01M441.1 336.8h.01M474.3 381.1h.01M436.4 381.5h.01M467.1 339.2h.01M430.6 362.7h.01M441.6 339.2h.01M425.5 345.5h.01M426.3 329.7h.01M436.7 358.4h.01M456.2 348.9h.01M436.1 359.9h.01M456.0 351.9h.01M450.8 363.9h.01M474.8 332.9h.01M469.0 376.8h.01M446.2 366.4h.01M471.0 375.3h.01M465.1 332.2h.01M437.4 336.3h.01M475.3 340.2h.01M446.2 371.3h.01M468.2 344.0h.01M471.4 347.9h.01M469.4 335.9h.01M472.6 329.0h.01M470.1 350.8h.01M459.4 376.8h.01M473.4 382.4h.01M466.6 333.1h.01M475.1 352.9h.01M436.7 343.5h.01M463.6 389.0h.01M456.7 382.8h.01M453.0 360.0h.01M428.1 373.1h.01" stroke="#18cfe6" stroke-width="0.7" stroke-linecap="round" fill="none" opacity="0.7"/>
<path d="M473.5 348.2l-0.1 0.7M466.3 363.6l-0.8 0.3M470.3 368.6l-0.1 0.7M449.6 334.1l-0.4 0.3M461.8 339.1l0.4 0.6M469.1 351.5l0.7 0.3M426.1 365.4l-0.1 0.4M472.9 330.2l-0.7 0.5M439.6 361.9l0.8 0.2M426.4 342.2l-0.8 0.3M436.7 368.3l0.0 0.0M462.2 368.7l-0.2 0.3M460.9 343.2l-0.2 0.0M468.7 380.9l0.1 0.4M428.9 386.6l0.0 0.2M469.9 360.0l-0.4 0.5M426.0 376.2l0.0 0.6M459.9 359.8l0.0 0.0M435.9 368.7l-0.3 0.1M460.4 388.2l0.1 0.4M449.2 357.4l0.3 0.2M470.4 350.2l-0.3 0.2M461.8 327.0l-0.0 0.1M457.2 356.9l0.1 0.3M449.7 372.8l0.8 0.2M448.8 365.2l-0.2 0.6M444.9 337.2l-0.2 0.1M450.8 352.9l-0.3 0.2M435.8 382.8l0.0 0.0M470.0 337.7l-0.1 0.0M447.5 383.4l-0.1 0.1M426.0 385.6l0.0 0.5M453.4 377.3l-0.0 0.1M465.3 378.5l0.0 0.0M425.8 334.3l0.4 0.5M466.9 381.8l0.2 0.2M474.9 334.1l0.7 0.1M436.6 347.4l0.6 0.1M458.6 358.9l-0.3 0.4M466.4 344.5l0.0 0.0M452.9 384.6l0.6 0.1M456.4 333.2l-0.4 0.5M450.1 385.5l-0.8 0.1M444.2 330.4l0.5 0.6M451.4 371.8l0.1 0.1M459.7 327.6l-0.0 0.1M428.8 381.9l-0.3 0.7M452.8 343.4l-0.0 0.3M457.2 331.5l0.1 0.1M448.1 352.9l0.7 0.1M451.6 337.5l0.1 0.1M463.8 352.4l-0.5 0.1M469.3 358.2l0.1 0.0M447.6 376.5l-0.2 0.1M469.2 365.0l0.1 0.1" stroke="#e8f4ff" stroke-width="1.2" stroke-linecap="round" fill="none" opacity="0.95" filter="url(#b3)"/>
<ellipse cx="451.7" cy="349" rx="7.5" ry="8" fill="#48f848" opacity="0.92" filter="url(#b12)"/>
<ellipse cx="451.7" cy="349" rx="3" ry="3.2" fill="#b8ffb8" opacity="0.9" filter="url(#b6)"/>
<rect x="450.60" y="327.40" width="24.80" height="2.20" fill="#fff" />
<text x="426.50" y="374.20" font-size="5.8" fill="#36d836" textLength="12.20" lengthAdjust="spacingAndGlyphs">Gαo</text>
<text x="426.50" y="379.80" font-size="5.8" fill="#e020e0" textLength="26.60" lengthAdjust="spacingAndGlyphs">tdTomato</text>
<text x="426.50" y="385.40" font-size="5.8" fill="#18bcd6" textLength="25.00" lengthAdjust="spacingAndGlyphs">SypEGFP</text>
</g>
<clipPath id="c11"><rect x="483.20" y="326.80" width="45.70" height="62.20"/></clipPath>
<g clip-path="url(#c11)">
<rect x="483.20" y="326.80" width="45.70" height="62.20" fill="#000" />
<rect x="483.20" y="326.80" width="45.70" height="62.20" fill="#c010c0" opacity="0.10"/>
<path d="M503.8 354.0h.01M485.1 374.5h.01M514.0 368.5h.01M504.8 368.6h.01M523.5 369.8h.01M499.0 382.6h.01M497.7 332.0h.01M494.7 357.7h.01M522.6 348.4h.01M513.4 343.5h.01M484.5 387.5h.01M509.4 355.6h.01M514.1 335.0h.01M523.3 345.6h.01M527.0 337.3h.01M504.4 345.9h.01M511.4 330.6h.01M485.7 346.9h.01M485.8 377.4h.01M488.6 345.9h.01M507.1 333.9h.01M526.7 345.0h.01M509.0 339.9h.01M494.4 365.9h.01M515.5 376.2h.01M526.7 384.8h.01M503.5 328.0h.01M490.4 381.5h.01M527.8 360.9h.01M483.6 343.6h.01M516.9 338.5h.01M495.1 353.5h.01M515.5 373.3h.01M501.4 349.5h.01M506.7 355.5h.01M528.0 332.9h.01M500.9 347.5h.01M506.3 379.9h.01M519.9 365.1h.01M500.0 364.3h.01M520.3 361.8h.01M524.6 328.6h.01M506.2 383.9h.01M508.9 376.8h.01M499.4 388.5h.01M491.8 359.8h.01M517.9 387.9h.01M502.7 376.0h.01M512.9 372.8h.01M522.3 353.9h.01M499.4 375.0h.01M499.7 336.3h.01M492.9 357.1h.01M506.0 338.4h.01M526.2 336.0h.01M519.3 348.2h.01M522.4 381.1h.01M493.1 327.6h.01M507.6 381.4h.01M520.6 368.8h.01M496.0 388.9h.01M500.1 369.5h.01M513.1 348.2h.01M516.5 369.2h.01M522.1 351.1h.01M497.2 336.6h.01M500.7 376.5h.01M518.3 337.8h.01M506.8 328.2h.01M516.8 358.9h.01M524.0 373.9h.01M498.5 359.2h.01M485.6 373.1h.01M492.0 337.5h.01M490.4 370.5h.01M491.5 350.2h.01M507.3 345.1h.01M515.3 388.3h.01M492.6 373.2h.01M501.0 384.5h.01M520.9 355.7h.01M520.7 344.1h.01M484.5 359.0h.01M484.1 371.0h.01M510.9 380.4h.01M488.9 336.3h.01M507.6 348.3h.01M493.0 335.1h.01M486.2 355.1h.01M492.9 365.7h.01M490.3 374.7h.01M494.7 334.5h.01M511.4 384.8h.01M521.3 327.8h.01M493.0 340.9h.01M522.3 355.8h.01M487.7 333.2h.01M518.2 386.4h.01M512.2 379.5h.01M501.4 373.6h.01M512.3 375.0h.01M513.3 368.9h.01M486.1 336.6h.01M515.1 336.9h.01M488.0 328.6h.01M490.9 339.2h.01M515.3 368.6h.01M497.0 330.3h.01M527.9 342.8h.01M515.8 374.7h.01M514.0 337.9h.01M498.4 368.0h.01M487.3 381.2h.01M496.4 386.5h.01M524.3 381.6h.01M521.3 329.3h.01M494.7 365.3h.01M514.5 375.1h.01M483.8 382.4h.01M512.4 361.9h.01M524.2 387.8h.01M502.0 349.2h.01M506.1 328.1h.01M527.3 364.7h.01M483.5 357.4h.01M498.0 345.9h.01M528.4 365.9h.01M509.8 372.2h.01M505.9 346.9h.01M497.5 330.0h.01M491.3 331.5h.01M483.6 378.8h.01M500.2 339.3h.01M528.2 372.1h.01M499.8 353.3h.01M522.7 338.0h.01M483.3 331.5h.01M489.1 362.9h.01M483.9 357.2h.01M502.4 369.8h.01" stroke="#e818e8" stroke-width="0.65" stroke-linecap="round" fill="none" opacity="0.55"/>
<path d="M518.7 368.4l-0.3 0.2M502.5 336.5l1.1 1.0M526.9 361.3l1.4 0.7M520.1 382.6l-0.3 1.0M506.1 364.5l-0.1 0.2M517.0 335.4l-0.6 0.7M524.6 328.0l0.6 1.3M523.4 335.8l0.3 0.3M495.8 367.1l-0.0 0.0M510.7 371.6l0.1 0.3M486.6 350.6l-0.2 0.2M487.6 368.8l0.1 0.4M490.5 355.2l1.3 0.1M527.4 330.9l-0.4 0.5M520.7 356.5l1.4 0.8M514.8 341.2l0.1 0.8M506.2 365.7l1.3 0.6M496.2 381.7l-0.1 0.8M484.8 362.5l0.0 0.3M519.8 342.2l0.4 0.3M483.4 348.1l0.1 1.2M498.5 387.0l-1.1 0.7M497.2 357.3l-0.4 0.7M520.4 347.6l0.1 0.6M503.3 358.6l0.5 0.9M484.1 341.9l-0.8 0.8M507.0 352.6l0.3 0.7M487.9 386.3l0.1 0.3M489.6 381.3l0.2 1.5M511.5 378.9l-0.9 0.5M511.6 371.7l0.0 0.0M488.6 349.1l-0.2 0.0M487.1 383.8l0.6 0.1M524.9 343.0l-0.7 1.1M485.2 327.2l0.1 0.0M503.4 375.8l-1.3 0.6M492.1 335.0l-1.0 0.5M508.0 359.7l-0.7 0.4M484.8 357.1l0.1 0.2M522.9 370.6l-0.1 1.0" stroke="#f024f0" stroke-width="1.0" stroke-linecap="round" fill="none" opacity="0.7" filter="url(#b3)"/>
<g filter="url(#b3)" fill="none" stroke-linecap="round">
<path d="M483.5 333.2 C485.2 332.6 486.7 335.6 490.4 336.6" stroke="#f024f0" stroke-width="1.62" opacity="1.0"/>
<path d="M500.7 335.8 C503.2 334.4 506.2 333.4 508.5 334 C509.8 335 510.2 336.8 510.2 338.4" stroke="#f024f0" stroke-width="1.88" opacity="1.0"/>
<path d="M511.9 340 C512.2 337 513.6 334.6 515.4 334 C518.2 333.2 520.8 333.4 523.1 334 C525.2 334.6 526.8 335.6 528.2 336.6" stroke="#f024f0" stroke-width="1.88" opacity="1.0"/>
<path d="M483.5 369.3 C487.2 366 490.2 362.4 493.8 359 C497.2 356.4 501.2 354.4 504.2 352 C507.2 349.4 509.8 346 511.9 342.6" stroke="#f024f0" stroke-width="1.25" opacity="1.0"/>
<path d="M519.7 347.8 C522.8 348.6 524.2 352 525.2 354.6 C526.0 356.6 526.6 358 527.8 359.4" stroke="#f024f0" stroke-width="1.62" opacity="1.0"/>
<path d="M502.5 365 C506.2 361 511.2 356 516.2 351.3" stroke="#f024f0" stroke-width="0.88" opacity="0.7"/>
<path d="M486.2 344 C488.2 347 491.2 349 495.2 349.6" stroke="#f024f0" stroke-width="0.75" opacity="0.6"/>
<path d="M491.2 372 C495.2 374 499.2 378 501.2 383" stroke="#f024f0" stroke-width="0.75" opacity="0.55"/>
</g>
<path d="M506.2 329.0 L508.1 329.5 L510.0 330.1 L511.9 330.7 L513.8 331.5 L515.6 332.4 L517.4 333.1" stroke="#e818e8" stroke-width="0.5" stroke-linecap="round" stroke-linejoin="round" fill="none" opacity="0.5"/>
<path d="M489.2 377.9 L487.9 379.5 L486.9 381.2" stroke="#e818e8" stroke-width="0.5" stroke-linecap="round" stroke-linejoin="round" fill="none" opacity="0.5"/>
<path d="M502.6 385.9 L502.5 387.9 L502.2 389.8 L502.4 391.8" stroke="#e818e8" stroke-width="0.5" stroke-linecap="round" stroke-linejoin="round" fill="none" opacity="0.5"/>
<path d="M500.7 360.6 L502.3 361.9 L503.9 363.0 L505.6 364.1" stroke="#e818e8" stroke-width="0.5" stroke-linecap="round" stroke-linejoin="round" fill="none" opacity="0.5"/>
<path d="M488.3 339.3 L489.0 341.2 L489.5 343.2 L489.9 345.1 L490.3 347.1 L490.8 349.0 L491.2 351.0" stroke="#e818e8" stroke-width="0.5" stroke-linecap="round" stroke-linejoin="round" fill="none" opacity="0.5"/>
<text x="484.70" y="384.80" font-size="5.8" fill="#d61ad6" textLength="26.30" lengthAdjust="spacingAndGlyphs">tdTomato</text>
</g>
<clipPath id="c12"><rect x="531.10" y="326.80" width="45.00" height="62.20"/></clipPath>
<g clip-path="url(#c12)">
<rect x="531.10" y="326.80" width="45.00" height="62.20" fill="#000" />
<path d="M547.8 385.9h.01M540.1 345.3h.01M549.9 341.6h.01M544.7 379.1h.01M553.1 332.0h.01M569.2 340.9h.01M566.6 330.6h.01M560.8 363.5h.01M558.4 387.8h.01M564.5 347.4h.01M551.7 330.8h.01M559.4 351.8h.01M535.6 366.3h.01M565.5 332.3h.01M563.1 369.1h.01M535.8 372.2h.01M535.8 328.0h.01M567.2 382.8h.01M553.6 387.0h.01M558.1 381.7h.01M551.1 354.0h.01M572.8 362.2h.01M552.5 381.8h.01M564.9 375.2h.01M547.3 385.7h.01M556.3 338.1h.01M557.5 362.3h.01M537.2 334.5h.01M558.5 364.1h.01M535.3 359.2h.01M548.0 372.4h.01M562.4 329.6h.01M556.2 330.2h.01M534.0 340.4h.01M571.1 375.8h.01M559.0 345.8h.01M565.3 332.3h.01M553.7 332.1h.01M533.4 386.3h.01M545.5 333.0h.01M550.5 383.4h.01M560.9 331.0h.01M550.2 387.0h.01M549.3 354.6h.01M558.8 384.9h.01M568.6 344.7h.01M559.4 360.1h.01M541.4 334.1h.01M541.6 338.8h.01M544.7 376.7h.01M538.2 358.7h.01M576.0 378.3h.01M551.2 327.1h.01M555.5 370.4h.01M558.6 373.9h.01M550.6 357.5h.01M561.9 340.2h.01M549.5 371.0h.01M551.5 356.1h.01M536.6 384.8h.01M544.7 372.5h.01M553.7 374.3h.01M562.7 357.4h.01M573.6 380.7h.01M561.9 365.3h.01M539.4 331.7h.01M569.8 342.9h.01M551.2 356.2h.01M545.3 381.8h.01M560.0 336.1h.01M573.1 333.4h.01M565.9 332.5h.01M575.2 375.5h.01M556.5 352.1h.01M571.6 341.0h.01M557.9 337.6h.01M537.3 331.8h.01M539.6 326.9h.01M546.7 336.4h.01M549.5 368.0h.01M564.5 349.9h.01M554.1 352.4h.01M560.0 334.8h.01M555.6 358.3h.01M541.8 360.8h.01M561.0 342.0h.01M557.5 355.7h.01M557.0 367.9h.01M574.5 356.3h.01M552.3 328.5h.01M563.9 368.9h.01M536.8 332.7h.01M546.0 345.7h.01M570.4 336.9h.01M574.1 345.4h.01M548.7 387.3h.01M572.4 373.0h.01M547.5 348.0h.01M557.0 368.4h.01M560.4 363.5h.01M536.8 379.9h.01M550.3 384.4h.01M533.8 363.7h.01M534.8 329.4h.01M564.3 330.8h.01M563.5 337.2h.01M550.7 368.4h.01M565.3 342.2h.01M549.4 367.1h.01M552.7 365.2h.01M562.1 364.0h.01M554.9 333.8h.01M561.3 363.5h.01M554.3 374.4h.01M547.2 360.0h.01M563.9 329.2h.01M575.3 383.3h.01M567.6 372.6h.01M542.0 379.6h.01M569.1 364.7h.01" stroke="#18cfe6" stroke-width="0.65" stroke-linecap="round" fill="none" opacity="0.6"/>
<path d="M558.7 387.0l-0.8 0.4M572.5 335.0l0.7 0.1M574.3 367.3l0.8 0.4M545.6 372.3l0.1 0.1M564.7 356.5l-0.3 0.5M549.7 360.1l0.5 0.5M546.1 346.7l-0.3 0.1M546.0 377.3l-0.3 0.8M537.7 377.4l0.1 0.3M555.2 340.7l-0.3 0.2M532.4 382.0l0.5 0.3M545.0 369.8l0.3 0.0M541.8 353.0l0.0 0.7M556.5 346.6l0.0 0.6M551.8 362.7l0.1 0.5M549.7 374.0l-0.3 0.0M547.3 346.0l0.1 0.1M568.4 385.5l0.0 0.0M568.3 332.8l0.0 0.3M537.2 339.4l-0.3 0.0M572.6 380.3l-0.0 0.0M562.2 363.7l-0.2 0.0M573.8 358.6l0.1 0.0M570.5 328.2l-0.6 0.5M575.8 388.6l-0.3 0.7M568.2 360.1l-0.5 0.4M553.3 339.1l0.6 0.6M537.7 375.4l0.8 0.2M540.3 354.3l-0.2 0.1M570.9 361.4l-0.3 0.4M571.3 339.7l-0.0 0.0M536.1 341.6l0.1 0.6M542.1 382.4l0.5 0.6M563.4 366.1l0.2 0.2M562.2 360.0l0.4 0.3M561.0 337.5l0.3 0.5M575.2 347.7l0.0 0.6M574.3 339.1l-0.5 0.3M554.8 379.1l-0.0 0.1M541.4 363.8l-0.0 0.3M552.5 360.0l0.6 0.5M532.0 331.6l-0.7 0.1M533.7 363.8l0.0 0.0M538.0 339.6l-0.2 0.8M537.4 370.5l-0.1 0.8M570.6 386.9l0.0 0.0M548.9 328.2l0.4 0.8M554.3 352.6l0.8 0.3M569.2 381.1l0.2 0.6M555.8 375.4l-0.2 0.3M572.0 372.0l-0.3 0.3M535.2 347.4l0.0 0.0M544.5 346.2l0.2 0.1M537.7 362.9l-0.5 0.2M549.3 338.9l0.2 0.6" stroke="#18cfe6" stroke-width="1.15" stroke-linecap="round" fill="none" opacity="0.9" filter="url(#b3)"/>
<g filter="url(#b3)" fill="none" stroke-linecap="round">
<path d="M564.3 328.9 C563.7 333 562.1 337 560.9 341" stroke="#18cfe6" stroke-width="1.08" opacity="1.0" stroke-dasharray="2.4 0.9"/>
<path d="M572.9 327 C574.5 330 575.1 334 574.7 337.5" stroke="#18cfe6" stroke-width="0.96" opacity="0.85" stroke-dasharray="2.4 0.9"/>
<path d="M564.3 349.5 C562.1 353.6 559.1 356.6 555.7 359 C551.7 362 548.1 365.4 544.5 368.5" stroke="#18cfe6" stroke-width="1.32" opacity="1.0" stroke-dasharray="3 0.6"/>
<path d="M544.5 368.5 C548.1 370.6 552.1 371.8 555.7 372" stroke="#18cfe6" stroke-width="1.20" opacity="1.0" stroke-dasharray="3 0.6"/>
<path d="M533.4 354.7 C535.7 356.6 537.9 358 540.2 359 C543.1 360.4 546.1 361.8 548.8 363.3" stroke="#18cfe6" stroke-width="0.96" opacity="0.9" stroke-dasharray="2.4 0.9"/>
<path d="M567.1 356 C569.1 360 570.1 364 569.5 368" stroke="#18cfe6" stroke-width="0.72" opacity="0.7" stroke-dasharray="2.4 0.9"/>
<path d="M537.1 340 C539.1 344 539.7 348 539.1 352" stroke="#18cfe6" stroke-width="0.72" opacity="0.6" stroke-dasharray="2.4 0.9"/>
</g>
<path d="M539.8 350.8 L538.3 352.1 L537.0 353.7 L536.0 355.4" stroke="#18cfe6" stroke-width="0.5" stroke-linecap="round" stroke-linejoin="round" fill="none" opacity="0.55"/>
<path d="M554.9 348.4 L556.8 349.0 L558.7 349.6 L560.4 350.6" stroke="#18cfe6" stroke-width="0.5" stroke-linecap="round" stroke-linejoin="round" fill="none" opacity="0.55"/>
<path d="M573.7 346.9 L571.8 347.2 L569.8 347.3" stroke="#18cfe6" stroke-width="0.5" stroke-linecap="round" stroke-linejoin="round" fill="none" opacity="0.55"/>
<path d="M538.2 375.4 L537.6 377.3 L536.6 379.1 L535.2 380.5 L534.0 382.1" stroke="#18cfe6" stroke-width="0.5" stroke-linecap="round" stroke-linejoin="round" fill="none" opacity="0.55"/>
<text x="532.30" y="384.80" font-size="5.8" fill="#14a9c2" textLength="23.60" lengthAdjust="spacingAndGlyphs">SypEGFP</text>
</g>
<clipPath id="c13"><rect x="578.60" y="326.80" width="45.00" height="62.20"/></clipPath>
<g clip-path="url(#c13)">
<rect x="578.60" y="326.80" width="45.00" height="62.20" fill="#000" />
<path d="M605.6 350 C608.6 354 611.6 359 614.0 365" stroke="#f2e21c" stroke-width="3.2" stroke-linecap="round" fill="none" opacity="0.55" filter="url(#b6)"/>
<ellipse cx="600.0" cy="341.6" rx="7.6" ry="11.4" fill="#ece21e" opacity="0.92" filter="url(#b6)" transform="rotate(-14 600.0 341.6)"/>
<path d="M591.6 342.3h.01M603.1 346.3h.01M592.4 346.9h.01M601.6 353.5h.01M601.8 353.1h.01M593.4 337.6h.01M602.5 334.1h.01M593.8 344.8h.01M600.0 349.1h.01M602.6 331.2h.01M600.2 351.3h.01M603.0 331.6h.01M602.4 334.6h.01M600.9 350.1h.01M596.4 330.8h.01M601.1 350.8h.01M598.7 342.3h.01M595.4 351.2h.01M594.7 343.0h.01M607.1 346.0h.01M601.3 336.0h.01M604.8 336.9h.01M595.8 341.6h.01M593.5 345.8h.01M598.6 341.8h.01M601.3 348.9h.01M601.0 350.5h.01M601.7 340.0h.01M608.0 344.9h.01M607.0 337.3h.01M592.4 338.8h.01M603.2 348.3h.01M607.3 345.6h.01M595.6 332.8h.01M602.0 346.7h.01M600.4 346.6h.01M602.7 348.1h.01M601.1 344.2h.01M600.8 333.7h.01M598.7 347.8h.01M603.1 333.9h.01M606.7 334.4h.01M596.6 348.1h.01M597.4 347.3h.01M593.6 343.0h.01M597.8 334.8h.01M592.7 348.1h.01M600.2 337.1h.01M601.1 348.5h.01M595.9 333.2h.01M599.5 343.6h.01M604.6 348.7h.01M602.7 342.2h.01M598.6 354.0h.01M599.8 350.6h.01M605.7 345.9h.01M592.4 341.4h.01M601.4 336.8h.01M597.9 330.8h.01M603.9 343.3h.01" stroke="#a89c10" stroke-width="0.6" stroke-linecap="round" fill="none" opacity="0.6"/>
<rect x="578.60" y="326.80" width="45.00" height="62.20" fill="#c010c0" opacity="0.10"/>
<path d="M598.9 354.0h.01M580.5 374.5h.01M608.9 368.5h.01M599.9 368.6h.01M618.3 369.8h.01M594.2 382.6h.01M592.9 332.0h.01M589.9 357.7h.01M617.4 348.4h.01M608.4 343.5h.01M579.8 387.5h.01M604.4 355.6h.01M609.0 335.0h.01M618.1 345.6h.01M621.8 337.3h.01M599.4 345.9h.01M606.3 330.6h.01M581.1 346.9h.01M581.2 377.4h.01M584.0 345.9h.01M602.1 333.9h.01M621.5 345.0h.01M604.0 339.9h.01M589.6 365.9h.01M610.4 376.2h.01M621.5 384.8h.01M598.6 328.0h.01M585.7 381.5h.01M622.5 360.9h.01M579.0 343.6h.01M611.8 338.5h.01M590.3 353.5h.01M610.4 373.3h.01M596.5 349.5h.01M601.8 355.5h.01M622.7 332.9h.01M596.0 347.5h.01M601.3 379.9h.01M614.7 365.1h.01M595.2 364.3h.01M615.2 361.8h.01M619.4 328.6h.01M601.2 383.9h.01M603.9 376.8h.01M594.6 388.5h.01M587.1 359.8h.01M612.8 387.9h.01M597.8 376.0h.01M607.9 372.8h.01M617.1 353.9h.01M594.5 375.0h.01M594.9 336.3h.01M588.1 357.1h.01M601.0 338.4h.01M621.0 336.0h.01M614.1 348.2h.01M617.2 381.1h.01M588.4 327.6h.01M602.6 381.4h.01M615.4 368.8h.01M591.2 388.9h.01M595.2 369.5h.01M608.0 348.2h.01M611.4 369.2h.01M616.9 351.1h.01M592.4 336.6h.01M595.9 376.5h.01M613.2 337.8h.01M601.8 328.2h.01M611.7 358.9h.01M618.7 373.9h.01M593.7 359.2h.01M581.0 373.1h.01M587.3 337.5h.01M585.7 370.5h.01M586.8 350.2h.01M602.3 345.1h.01M610.2 388.3h.01M587.8 373.2h.01M596.2 384.5h.01M615.7 355.7h.01M615.5 344.1h.01M579.9 359.0h.01M579.5 371.0h.01M605.8 380.4h.01M584.2 336.3h.01M602.6 348.3h.01M588.3 335.1h.01M581.6 355.1h.01M588.2 365.7h.01M585.6 374.7h.01M589.9 334.5h.01M606.3 384.8h.01M616.1 327.8h.01M588.3 340.9h.01M617.1 355.8h.01M583.1 333.2h.01M613.0 386.4h.01M607.1 379.5h.01M596.5 373.6h.01M607.3 375.0h.01M608.3 368.9h.01M581.5 336.6h.01M610.0 336.9h.01M583.3 328.6h.01M586.2 339.2h.01M610.2 368.6h.01M592.2 330.3h.01M622.6 342.8h.01M610.7 374.7h.01M609.0 337.9h.01M593.6 368.0h.01M582.6 381.2h.01M591.6 386.5h.01M619.1 381.6h.01M616.1 329.3h.01M589.9 365.3h.01M609.4 375.1h.01M579.2 382.4h.01M607.3 361.9h.01M619.0 387.8h.01M597.1 349.2h.01M601.1 328.1h.01M622.0 364.7h.01M578.9 357.4h.01M593.1 345.9h.01M623.1 365.9h.01M604.7 372.2h.01M601.0 346.9h.01M592.7 330.0h.01M586.6 331.5h.01M579.0 378.8h.01M595.3 339.3h.01M622.9 372.1h.01M595.0 353.3h.01M617.5 338.0h.01M578.7 331.5h.01M584.4 362.9h.01M579.3 357.2h.01M597.5 369.8h.01" stroke="#e818e8" stroke-width="0.65" stroke-linecap="round" fill="none" opacity="0.55"/>
<path d="M613.6 368.4l-0.3 0.2M597.6 336.5l1.1 1.0M621.6 361.3l1.4 0.7M614.9 382.6l-0.3 1.0M601.2 364.5l-0.1 0.2M611.9 335.4l-0.6 0.7M619.4 328.0l0.6 1.3M618.2 335.8l0.3 0.3M591.0 367.1l-0.0 0.0M605.7 371.6l0.1 0.3M582.0 350.6l-0.2 0.2M583.0 368.8l0.1 0.4M585.8 355.2l1.3 0.1M622.1 330.9l-0.4 0.5M615.6 356.5l1.4 0.8M609.7 341.2l0.1 0.8M601.2 365.7l1.3 0.6M591.4 381.7l-0.1 0.8M580.2 362.5l0.0 0.3M614.7 342.2l0.4 0.3M578.8 348.1l0.1 1.2M593.6 387.0l-1.1 0.7M592.4 357.3l-0.4 0.7M615.3 347.6l0.1 0.6M598.4 358.6l0.5 0.9M579.5 341.9l-0.8 0.8M602.0 352.6l0.3 0.7M583.2 386.3l0.1 0.3M584.9 381.3l0.2 1.5M606.5 378.9l-0.9 0.5M606.6 371.7l0.0 0.0M583.9 349.1l-0.2 0.0M582.4 383.8l0.6 0.1M619.7 343.0l-0.7 1.1M580.5 327.2l0.1 0.0M598.5 375.8l-1.3 0.6M587.4 335.0l-1.0 0.5M603.0 359.7l-0.7 0.4M580.1 357.1l0.1 0.2M617.7 370.6l-0.1 1.0" stroke="#f024f0" stroke-width="1.0" stroke-linecap="round" fill="none" opacity="0.7" filter="url(#b3)"/>
<g filter="url(#b3)" fill="none" stroke-linecap="round">
<path d="M578.9 333.2 C580.6 332.6 582.1 335.6 585.8 336.6" stroke="#f024f0" stroke-width="1.62" opacity="1.0"/>
<path d="M596.1 335.8 C598.6 334.4 601.6 333.4 603.9 334 C605.2 335 605.6 336.8 605.6 338.4" stroke="#f024f0" stroke-width="1.88" opacity="1.0"/>
<path d="M607.3 340 C607.6 337 609.0 334.6 610.8 334 C613.6 333.2 616.2 333.4 618.5 334 C620.6 334.6 622.2 335.6 623.6 336.6" stroke="#f024f0" stroke-width="1.88" opacity="1.0"/>
<path d="M578.9 369.3 C582.6 366 585.6 362.4 589.2 359 C592.6 356.4 596.6 354.4 599.6 352 C602.6 349.4 605.2 346 607.3 342.6" stroke="#f024f0" stroke-width="1.25" opacity="1.0"/>
<path d="M615.1 347.8 C618.2 348.6 619.6 352 620.6 354.6 C621.4 356.6 622.0 358 623.2 359.4" stroke="#f024f0" stroke-width="1.62" opacity="1.0"/>
<path d="M597.9 365 C601.6 361 606.6 356 611.6 351.3" stroke="#f024f0" stroke-width="0.88" opacity="0.7"/>
<path d="M581.6 344 C583.6 347 586.6 349 590.6 349.6" stroke="#f024f0" stroke-width="0.75" opacity="0.6"/>
<path d="M586.6 372 C590.6 374 594.6 378 596.6 383" stroke="#f024f0" stroke-width="0.75" opacity="0.55"/>
</g>
<path d="M601.2 329.0 L603.2 329.5 L605.1 330.1 L607.0 330.7 L608.8 331.5 L610.6 332.4 L612.5 333.1" stroke="#e818e8" stroke-width="0.5" stroke-linecap="round" stroke-linejoin="round" fill="none" opacity="0.5"/>
<path d="M584.5 377.9 L583.2 379.5 L582.2 381.2" stroke="#e818e8" stroke-width="0.5" stroke-linecap="round" stroke-linejoin="round" fill="none" opacity="0.5"/>
<path d="M597.7 385.9 L597.6 387.9 L597.3 389.8 L597.5 391.8" stroke="#e818e8" stroke-width="0.5" stroke-linecap="round" stroke-linejoin="round" fill="none" opacity="0.5"/>
<path d="M595.9 360.6 L597.4 361.9 L599.0 363.0 L600.8 364.1" stroke="#e818e8" stroke-width="0.5" stroke-linecap="round" stroke-linejoin="round" fill="none" opacity="0.5"/>
<path d="M583.7 339.3 L584.3 341.2 L584.8 343.2 L585.2 345.1 L585.6 347.1 L586.1 349.0 L586.5 351.0" stroke="#e818e8" stroke-width="0.5" stroke-linecap="round" stroke-linejoin="round" fill="none" opacity="0.5"/>
<path d="M595.3 385.9h.01M587.6 345.3h.01M597.4 341.6h.01M592.2 379.1h.01M600.6 332.0h.01M616.7 340.9h.01M614.1 330.6h.01M608.3 363.5h.01M605.9 387.8h.01M612.0 347.4h.01M599.2 330.8h.01M606.9 351.8h.01M583.1 366.3h.01M613.0 332.3h.01M610.6 369.1h.01M583.3 372.2h.01M583.3 328.0h.01M614.7 382.8h.01M601.1 387.0h.01M605.6 381.7h.01M598.6 354.0h.01M620.3 362.2h.01M600.0 381.8h.01M612.4 375.2h.01M594.8 385.7h.01M603.8 338.1h.01M605.0 362.3h.01M584.7 334.5h.01M606.0 364.1h.01M582.8 359.2h.01M595.5 372.4h.01M609.9 329.6h.01M603.7 330.2h.01M581.5 340.4h.01M618.6 375.8h.01M606.5 345.8h.01M612.8 332.3h.01M601.2 332.1h.01M580.9 386.3h.01M593.0 333.0h.01M598.0 383.4h.01M608.4 331.0h.01M597.7 387.0h.01M596.8 354.6h.01M606.3 384.9h.01M616.1 344.7h.01M606.9 360.1h.01M588.9 334.1h.01M589.1 338.8h.01M592.2 376.7h.01M585.7 358.7h.01M623.5 378.3h.01M598.7 327.1h.01M603.0 370.4h.01M606.1 373.9h.01M598.1 357.5h.01M609.4 340.2h.01M597.0 371.0h.01M599.0 356.1h.01M584.1 384.8h.01M592.2 372.5h.01M601.2 374.3h.01M610.2 357.4h.01M621.1 380.7h.01M609.4 365.3h.01M586.9 331.7h.01M617.3 342.9h.01M598.7 356.2h.01M592.8 381.8h.01M607.5 336.1h.01M620.6 333.4h.01M613.4 332.5h.01M622.7 375.5h.01M604.0 352.1h.01M619.1 341.0h.01M605.4 337.6h.01M584.8 331.8h.01M587.1 326.9h.01M594.2 336.4h.01M597.0 368.0h.01M612.0 349.9h.01M601.6 352.4h.01M607.5 334.8h.01M603.1 358.3h.01M589.3 360.8h.01M608.5 342.0h.01M605.0 355.7h.01M604.5 367.9h.01M622.0 356.3h.01M599.8 328.5h.01M611.4 368.9h.01M584.3 332.7h.01M593.5 345.7h.01M617.9 336.9h.01M621.6 345.4h.01M596.2 387.3h.01M619.9 373.0h.01M595.0 348.0h.01M604.5 368.4h.01M607.9 363.5h.01M584.3 379.9h.01M597.8 384.4h.01M581.3 363.7h.01M582.3 329.4h.01M611.8 330.8h.01M611.0 337.2h.01M598.2 368.4h.01M612.8 342.2h.01M596.9 367.1h.01M600.2 365.2h.01M609.6 364.0h.01M602.4 333.8h.01M608.8 363.5h.01M601.8 374.4h.01M594.7 360.0h.01M611.4 329.2h.01M622.8 383.3h.01M615.1 372.6h.01M589.5 379.6h.01M616.6 364.7h.01" stroke="#18cfe6" stroke-width="0.65" stroke-linecap="round" fill="none" opacity="0.6"/>
<path d="M606.2 387.0l-0.8 0.4M620.0 335.0l0.7 0.1M621.8 367.3l0.8 0.4M593.1 372.3l0.1 0.1M612.2 356.5l-0.3 0.5M597.2 360.1l0.5 0.5M593.6 346.7l-0.3 0.1M593.5 377.3l-0.3 0.8M585.2 377.4l0.1 0.3M602.7 340.7l-0.3 0.2M579.9 382.0l0.5 0.3M592.5 369.8l0.3 0.0M589.3 353.0l0.0 0.7M604.0 346.6l0.0 0.6M599.3 362.7l0.1 0.5M597.2 374.0l-0.3 0.0M594.8 346.0l0.1 0.1M615.9 385.5l0.0 0.0M615.8 332.8l0.0 0.3M584.7 339.4l-0.3 0.0M620.1 380.3l-0.0 0.0M609.7 363.7l-0.2 0.0M621.3 358.6l0.1 0.0M618.0 328.2l-0.6 0.5M623.3 388.6l-0.3 0.7M615.7 360.1l-0.5 0.4M600.8 339.1l0.6 0.6M585.2 375.4l0.8 0.2M587.8 354.3l-0.2 0.1M618.4 361.4l-0.3 0.4M618.8 339.7l-0.0 0.0M583.6 341.6l0.1 0.6M589.6 382.4l0.5 0.6M610.9 366.1l0.2 0.2M609.7 360.0l0.4 0.3M608.5 337.5l0.3 0.5M622.7 347.7l0.0 0.6M621.8 339.1l-0.5 0.3M602.3 379.1l-0.0 0.1M588.9 363.8l-0.0 0.3M600.0 360.0l0.6 0.5M579.5 331.6l-0.7 0.1M581.2 363.8l0.0 0.0M585.5 339.6l-0.2 0.8M584.9 370.5l-0.1 0.8M618.1 386.9l0.0 0.0M596.4 328.2l0.4 0.8M601.8 352.6l0.8 0.3M616.7 381.1l0.2 0.6M603.3 375.4l-0.2 0.3M619.5 372.0l-0.3 0.3M582.7 347.4l0.0 0.0M592.0 346.2l0.2 0.1M585.2 362.9l-0.5 0.2M596.8 338.9l0.2 0.6" stroke="#18cfe6" stroke-width="1.15" stroke-linecap="round" fill="none" opacity="0.9" filter="url(#b3)"/>
<g filter="url(#b3)" fill="none" stroke-linecap="round">
<path d="M611.8 328.9 C611.2 333 609.6 337 608.4 341" stroke="#18cfe6" stroke-width="1.08" opacity="1.0" stroke-dasharray="2.4 0.9"/>
<path d="M620.4 327 C622.0 330 622.6 334 622.2 337.5" stroke="#18cfe6" stroke-width="0.96" opacity="0.85" stroke-dasharray="2.4 0.9"/>
<path d="M611.8 349.5 C609.6 353.6 606.6 356.6 603.2 359 C599.2 362 595.6 365.4 592.0 368.5" stroke="#18cfe6" stroke-width="1.32" opacity="1.0" stroke-dasharray="3 0.6"/>
<path d="M592.0 368.5 C595.6 370.6 599.6 371.8 603.2 372" stroke="#18cfe6" stroke-width="1.20" opacity="1.0" stroke-dasharray="3 0.6"/>
<path d="M580.9 354.7 C583.2 356.6 585.4 358 587.7 359 C590.6 360.4 593.6 361.8 596.3 363.3" stroke="#18cfe6" stroke-width="0.96" opacity="0.9" stroke-dasharray="2.4 0.9"/>
<path d="M614.6 356 C616.6 360 617.6 364 617.0 368" stroke="#18cfe6" stroke-width="0.72" opacity="0.7" stroke-dasharray="2.4 0.9"/>
<path d="M584.6 340 C586.6 344 587.2 348 586.6 352" stroke="#18cfe6" stroke-width="0.72" opacity="0.6" stroke-dasharray="2.4 0.9"/>
</g>
<path d="M587.3 350.8 L585.8 352.1 L584.5 353.7 L583.5 355.4" stroke="#18cfe6" stroke-width="0.5" stroke-linecap="round" stroke-linejoin="round" fill="none" opacity="0.55"/>
<path d="M602.4 348.4 L604.3 349.0 L606.2 349.6 L607.9 350.6" stroke="#18cfe6" stroke-width="0.5" stroke-linecap="round" stroke-linejoin="round" fill="none" opacity="0.55"/>
<path d="M621.2 346.9 L619.3 347.2 L617.3 347.3" stroke="#18cfe6" stroke-width="0.5" stroke-linecap="round" stroke-linejoin="round" fill="none" opacity="0.55"/>
<path d="M585.7 375.4 L585.1 377.3 L584.1 379.1 L582.7 380.5 L581.5 382.1" stroke="#18cfe6" stroke-width="0.5" stroke-linecap="round" stroke-linejoin="round" fill="none" opacity="0.55"/>
<text x="580.20" y="374.50" font-size="5.8" fill="#e8d81c" textLength="18.80" lengthAdjust="spacingAndGlyphs">FG→nA</text>
<text x="580.20" y="380.20" font-size="5.8" fill="#e020e0" textLength="26.40" lengthAdjust="spacingAndGlyphs">tdTomato</text>
<text x="580.20" y="385.70" font-size="5.8" fill="#18bcd6" textLength="23.60" lengthAdjust="spacingAndGlyphs">SypEGFP</text>
</g>
<clipPath id="c14"><rect x="626.00" y="326.80" width="45.80" height="62.20"/></clipPath>
<g clip-path="url(#c14)">
<rect x="626.00" y="326.80" width="45.80" height="62.20" fill="#000" />
<path d="M653.0 350 C657.0 355 661.0 361 664.0 367" stroke="#2ee62e" stroke-width="5" stroke-linecap="round" fill="none" opacity="0.4" filter="url(#b12)"/>
<ellipse cx="647.7" cy="341.6" rx="7.8" ry="11.2" fill="#34ea34" opacity="0.9" filter="url(#b6)" transform="rotate(-14 647.7 341.6)"/>
<path d="M663.3 332.8h.01M668.3 372.2h.01M637.8 353.4h.01M627.6 336.0h.01M655.8 374.8h.01M634.6 370.1h.01M643.4 360.8h.01M664.2 341.5h.01M634.0 353.2h.01M670.8 352.1h.01M664.5 337.7h.01M660.5 380.2h.01M642.7 339.6h.01M630.6 335.8h.01M639.3 363.9h.01M666.0 342.8h.01M668.6 337.2h.01M648.9 373.2h.01M667.3 383.5h.01M669.7 332.0h.01M665.6 326.9h.01M647.0 349.5h.01M645.8 332.1h.01M644.7 369.0h.01M656.7 327.2h.01M662.5 346.3h.01M650.7 345.6h.01M656.8 358.2h.01M666.0 330.3h.01M644.2 388.1h.01M627.0 333.5h.01M659.0 387.8h.01M629.9 338.7h.01M657.7 358.5h.01M668.4 334.6h.01M632.0 339.5h.01M645.6 341.7h.01M648.1 332.4h.01M652.5 346.2h.01M636.1 336.0h.01M640.4 345.3h.01M670.7 367.6h.01M665.6 356.5h.01M630.2 365.9h.01M659.8 388.0h.01M626.3 329.1h.01M662.1 341.3h.01M626.6 331.3h.01M663.0 360.4h.01M668.2 375.1h.01M648.1 348.4h.01M641.8 337.2h.01M668.3 352.2h.01M647.7 352.2h.01M651.0 379.9h.01M655.7 357.4h.01M657.0 374.7h.01M653.9 359.9h.01M634.8 336.2h.01M656.5 371.3h.01M664.2 343.2h.01M645.3 327.3h.01M652.7 361.7h.01M638.0 368.4h.01M667.1 353.5h.01M654.4 363.5h.01M651.6 340.3h.01M626.8 388.4h.01M665.3 387.8h.01M664.6 334.6h.01M633.5 352.2h.01M656.0 370.4h.01M657.0 355.7h.01M636.2 364.9h.01M642.7 368.3h.01M633.4 380.3h.01M629.1 388.4h.01M670.3 368.6h.01M654.6 339.5h.01M653.8 354.5h.01M653.3 330.2h.01M663.6 367.0h.01M663.6 376.0h.01M626.2 342.1h.01M653.5 349.2h.01M632.9 373.1h.01M668.3 355.3h.01M648.1 360.9h.01M661.1 363.1h.01M637.4 348.2h.01M634.1 349.6h.01M641.6 380.8h.01M635.9 339.7h.01M641.4 359.5h.01M664.7 355.3h.01M644.3 377.4h.01M629.6 352.9h.01M653.1 335.0h.01M638.7 380.5h.01M658.4 347.5h.01M669.7 357.5h.01M651.6 369.2h.01M666.8 345.5h.01M632.2 352.1h.01M663.1 381.8h.01M651.6 356.7h.01M669.5 347.1h.01M655.2 335.3h.01M661.4 386.6h.01M652.5 328.5h.01M669.6 382.3h.01M654.9 356.1h.01M639.0 354.6h.01M642.0 331.4h.01M632.4 364.1h.01M641.1 344.2h.01M644.4 334.0h.01M647.1 382.8h.01M634.3 370.1h.01M648.9 368.6h.01M655.9 340.6h.01M642.5 388.2h.01M630.0 345.6h.01M670.8 352.1h.01M654.4 354.2h.01M641.0 359.8h.01M634.1 330.7h.01M641.1 330.1h.01M645.7 380.6h.01M647.3 327.6h.01M649.4 341.8h.01M633.3 387.6h.01M651.5 387.3h.01M634.9 372.8h.01M641.9 364.1h.01M628.3 334.4h.01M633.5 360.7h.01M660.2 331.0h.01M641.7 386.5h.01M650.3 353.3h.01M671.0 372.4h.01M645.9 349.2h.01M660.3 360.2h.01M633.8 350.6h.01M664.4 338.1h.01M657.5 382.7h.01M642.1 336.8h.01M665.2 327.0h.01M659.6 367.5h.01M635.7 342.6h.01" stroke="#2ee62e" stroke-width="0.7" stroke-linecap="round" fill="none" opacity="0.6"/>
<g fill="#2ee62e" opacity="0.7" filter="url(#b3)">
<ellipse cx="639.8" cy="360.6" rx="1.2" ry="1.1" transform="rotate(99 639.8 360.6)"/>
<ellipse cx="655.0" cy="375.9" rx="0.9" ry="0.8" transform="rotate(16 655.0 375.9)"/>
<ellipse cx="662.8" cy="331.6" rx="1.0" ry="0.5" transform="rotate(30 662.8 331.6)"/>
<ellipse cx="639.8" cy="332.2" rx="1.5" ry="1.2" transform="rotate(57 639.8 332.2)"/>
<ellipse cx="667.2" cy="338.9" rx="0.9" ry="0.7" transform="rotate(16 667.2 338.9)"/>
<ellipse cx="665.4" cy="355.6" rx="1.1" ry="0.9" transform="rotate(32 665.4 355.6)"/>
<ellipse cx="667.6" cy="330.7" rx="1.2" ry="0.9" transform="rotate(5 667.6 330.7)"/>
<ellipse cx="671.2" cy="360.7" rx="1.5" ry="0.9" transform="rotate(77 671.2 360.7)"/>
<ellipse cx="650.5" cy="387.0" rx="1.2" ry="1.0" transform="rotate(78 650.5 387.0)"/>
<ellipse cx="638.4" cy="382.3" rx="1.6" ry="0.7" transform="rotate(179 638.4 382.3)"/>
<ellipse cx="670.8" cy="356.8" rx="1.0" ry="0.8" transform="rotate(164 670.8 356.8)"/>
<ellipse cx="668.1" cy="376.8" rx="1.5" ry="1.1" transform="rotate(21 668.1 376.8)"/>
</g>
<rect x="626.00" y="326.80" width="45.80" height="62.20" fill="#c010c0" opacity="0.10"/>
<path d="M646.6 354.0h.01M627.9 374.5h.01M656.8 368.5h.01M647.6 368.6h.01M666.4 369.8h.01M641.8 382.6h.01M640.5 332.0h.01M637.5 357.7h.01M665.4 348.4h.01M656.3 343.5h.01M627.3 387.5h.01M652.2 355.6h.01M657.0 335.0h.01M666.2 345.6h.01M669.9 337.3h.01M647.2 345.9h.01M654.2 330.6h.01M628.5 346.9h.01M628.7 377.4h.01M631.5 345.9h.01M649.9 333.9h.01M669.6 345.0h.01M651.9 339.9h.01M637.2 365.9h.01M658.4 376.2h.01M669.6 384.8h.01M646.4 328.0h.01M633.2 381.5h.01M670.7 360.9h.01M626.4 343.6h.01M659.8 338.5h.01M637.9 353.5h.01M658.4 373.3h.01M644.2 349.5h.01M649.6 355.5h.01M670.9 332.9h.01M643.7 347.5h.01M649.1 379.9h.01M662.8 365.1h.01M642.9 364.3h.01M663.2 361.8h.01M667.5 328.6h.01M649.0 383.9h.01M651.7 376.8h.01M642.2 388.5h.01M634.6 359.8h.01M660.8 387.9h.01M645.5 376.0h.01M655.8 372.8h.01M665.2 353.9h.01M642.2 375.0h.01M642.6 336.3h.01M635.7 357.1h.01M648.8 338.4h.01M669.1 336.0h.01M662.1 348.2h.01M665.3 381.1h.01M636.0 327.6h.01M650.5 381.4h.01M663.4 368.8h.01M638.9 388.9h.01M642.9 369.5h.01M655.9 348.2h.01M659.4 369.2h.01M665.0 351.1h.01M640.0 336.6h.01M643.6 376.5h.01M661.2 337.8h.01M649.6 328.2h.01M659.7 358.9h.01M666.8 373.9h.01M641.4 359.2h.01M628.4 373.1h.01M634.8 337.5h.01M633.2 370.5h.01M634.3 350.2h.01M650.1 345.1h.01M658.1 388.3h.01M635.4 373.2h.01M643.9 384.5h.01M663.8 355.7h.01M663.6 344.1h.01M627.3 359.0h.01M626.9 371.0h.01M653.7 380.4h.01M631.7 336.3h.01M650.4 348.3h.01M635.9 335.1h.01M629.0 355.1h.01M635.7 365.7h.01M633.1 374.7h.01M637.5 334.5h.01M654.2 384.8h.01M664.2 327.8h.01M635.9 340.9h.01M665.2 355.8h.01M630.5 333.2h.01M661.0 386.4h.01M655.0 379.5h.01M644.2 373.6h.01M655.2 375.0h.01M656.2 368.9h.01M628.9 336.6h.01M658.0 336.9h.01M630.8 328.6h.01M633.8 339.2h.01M658.2 368.6h.01M639.8 330.3h.01M670.8 342.8h.01M658.6 374.7h.01M656.9 337.9h.01M641.2 368.0h.01M630.1 381.2h.01M639.2 386.5h.01M667.2 381.6h.01M664.2 329.3h.01M637.5 365.3h.01M657.4 375.1h.01M626.6 382.4h.01M655.2 361.9h.01M667.1 387.8h.01M644.9 349.2h.01M648.9 328.1h.01M670.2 364.7h.01M626.3 357.4h.01M640.8 345.9h.01M671.3 365.9h.01M652.6 372.2h.01M648.8 346.9h.01M640.4 330.0h.01M634.1 331.5h.01M626.4 378.8h.01M643.0 339.3h.01M671.1 372.1h.01M642.7 353.3h.01M665.6 338.0h.01M626.1 331.5h.01M631.9 362.9h.01M626.7 357.2h.01M645.2 369.8h.01" stroke="#e818e8" stroke-width="0.65" stroke-linecap="round" fill="none" opacity="0.55"/>
<path d="M661.6 368.4l-0.3 0.2M645.4 336.5l1.1 1.0M669.8 361.3l1.4 0.7M663.0 382.6l-0.3 1.0M649.0 364.5l-0.1 0.2M659.9 335.4l-0.6 0.7M667.5 328.0l0.6 1.3M666.3 335.8l0.3 0.3M638.7 367.1l-0.0 0.0M653.5 371.6l0.1 0.3M629.4 350.6l-0.2 0.2M630.4 368.8l0.1 0.4M633.3 355.2l1.3 0.1M670.3 330.9l-0.4 0.5M663.6 356.5l1.4 0.8M657.7 341.2l0.1 0.8M649.0 365.7l1.3 0.6M639.0 381.7l-0.1 0.8M627.6 362.5l0.0 0.3M662.7 342.2l0.4 0.3M626.2 348.1l0.1 1.2M641.3 387.0l-1.1 0.7M640.0 357.3l-0.4 0.7M663.3 347.6l0.1 0.6M646.2 358.6l0.5 0.9M626.9 341.9l-0.8 0.8M649.8 352.6l0.3 0.7M630.7 386.3l0.1 0.3M632.4 381.3l0.2 1.5M654.4 378.9l-0.9 0.5M654.5 371.7l0.0 0.0M631.4 349.1l-0.2 0.0M629.9 383.8l0.6 0.1M667.8 343.0l-0.7 1.1M628.0 327.2l0.1 0.0M646.3 375.8l-1.3 0.6M634.9 335.0l-1.0 0.5M650.9 359.7l-0.7 0.4M627.6 357.1l0.1 0.2M665.8 370.6l-0.1 1.0" stroke="#f024f0" stroke-width="1.0" stroke-linecap="round" fill="none" opacity="0.7" filter="url(#b3)"/>
<g filter="url(#b3)" fill="none" stroke-linecap="round">
<path d="M626.3 333.2 C628.0 332.6 629.5 335.6 633.2 336.6" stroke="#f024f0" stroke-width="1.62" opacity="1.0"/>
<path d="M643.5 335.8 C646.0 334.4 649.0 333.4 651.3 334 C652.6 335 653.0 336.8 653.0 338.4" stroke="#f024f0" stroke-width="1.88" opacity="1.0"/>
<path d="M654.7 340 C655.0 337 656.4 334.6 658.2 334 C661.0 333.2 663.6 333.4 665.9 334 C668.0 334.6 669.6 335.6 671.0 336.6" stroke="#f024f0" stroke-width="1.88" opacity="1.0"/>
<path d="M626.3 369.3 C630.0 366 633.0 362.4 636.6 359 C640.0 356.4 644.0 354.4 647.0 352 C650.0 349.4 652.6 346 654.7 342.6" stroke="#f024f0" stroke-width="1.25" opacity="1.0"/>
<path d="M662.5 347.8 C665.6 348.6 667.0 352 668.0 354.6 C668.8 356.6 669.4 358 670.6 359.4" stroke="#f024f0" stroke-width="1.62" opacity="1.0"/>
<path d="M645.3 365 C649.0 361 654.0 356 659.0 351.3" stroke="#f024f0" stroke-width="0.88" opacity="0.7"/>
<path d="M629.0 344 C631.0 347 634.0 349 638.0 349.6" stroke="#f024f0" stroke-width="0.75" opacity="0.6"/>
<path d="M634.0 372 C638.0 374 642.0 378 644.0 383" stroke="#f024f0" stroke-width="0.75" opacity="0.55"/>
</g>
<path d="M649.0 329.0 L651.0 329.5 L652.9 330.1 L654.8 330.7 L656.6 331.5 L658.4 332.4 L660.3 333.1" stroke="#e818e8" stroke-width="0.5" stroke-linecap="round" stroke-linejoin="round" fill="none" opacity="0.5"/>
<path d="M632.0 377.9 L630.7 379.5 L629.7 381.2" stroke="#e818e8" stroke-width="0.5" stroke-linecap="round" stroke-linejoin="round" fill="none" opacity="0.5"/>
<path d="M645.5 385.9 L645.3 387.9 L645.0 389.8 L645.2 391.8" stroke="#e818e8" stroke-width="0.5" stroke-linecap="round" stroke-linejoin="round" fill="none" opacity="0.5"/>
<path d="M643.6 360.6 L645.1 361.9 L646.7 363.0 L648.5 364.1" stroke="#e818e8" stroke-width="0.5" stroke-linecap="round" stroke-linejoin="round" fill="none" opacity="0.5"/>
<path d="M631.2 339.3 L631.8 341.2 L632.3 343.2 L632.7 345.1 L633.1 347.1 L633.6 349.0 L634.0 351.0" stroke="#e818e8" stroke-width="0.5" stroke-linecap="round" stroke-linejoin="round" fill="none" opacity="0.5"/>
<path d="M643.0 385.9h.01M635.2 345.3h.01M645.1 341.6h.01M639.8 379.1h.01M648.4 332.0h.01M664.8 340.9h.01M662.1 330.6h.01M656.2 363.5h.01M653.8 387.8h.01M660.0 347.4h.01M646.9 330.8h.01M654.8 351.8h.01M630.6 366.3h.01M661.0 332.3h.01M658.6 369.1h.01M630.8 372.2h.01M630.8 328.0h.01M662.8 382.8h.01M648.9 387.0h.01M653.4 381.7h.01M646.4 354.0h.01M668.5 362.2h.01M647.8 381.8h.01M660.4 375.2h.01M642.5 385.7h.01M651.6 338.1h.01M652.9 362.3h.01M632.2 334.5h.01M653.9 364.1h.01M630.2 359.2h.01M643.2 372.4h.01M657.9 329.6h.01M651.6 330.2h.01M629.0 340.4h.01M666.7 375.8h.01M654.4 345.8h.01M660.8 332.3h.01M649.0 332.1h.01M628.4 386.3h.01M640.7 333.0h.01M645.7 383.4h.01M656.4 331.0h.01M645.4 387.0h.01M644.5 354.6h.01M654.2 384.9h.01M664.2 344.7h.01M654.8 360.1h.01M636.5 334.1h.01M636.7 338.8h.01M639.9 376.7h.01M633.2 358.7h.01M671.7 378.3h.01M646.4 327.1h.01M650.9 370.4h.01M654.0 373.9h.01M645.8 357.5h.01M657.3 340.2h.01M644.7 371.0h.01M646.8 356.1h.01M631.6 384.8h.01M639.8 372.5h.01M649.0 374.3h.01M658.2 357.4h.01M669.2 380.7h.01M657.3 365.3h.01M634.5 331.7h.01M665.3 342.9h.01M646.5 356.2h.01M640.5 381.8h.01M655.4 336.1h.01M668.7 333.4h.01M661.4 332.5h.01M670.9 375.5h.01M651.9 352.1h.01M667.2 341.0h.01M653.2 337.6h.01M632.3 331.8h.01M634.7 326.9h.01M641.9 336.4h.01M644.7 368.0h.01M660.0 349.9h.01M649.4 352.4h.01M655.4 334.8h.01M650.9 358.3h.01M636.9 360.8h.01M656.4 342.0h.01M652.9 355.7h.01M652.4 367.9h.01M670.2 356.3h.01M647.6 328.5h.01M659.4 368.9h.01M631.8 332.7h.01M641.2 345.7h.01M666.0 336.9h.01M669.8 345.4h.01M643.9 387.3h.01M668.1 373.0h.01M642.7 348.0h.01M652.4 368.4h.01M655.8 363.5h.01M631.8 379.9h.01M645.6 384.4h.01M628.8 363.7h.01M629.7 329.4h.01M659.8 330.8h.01M659.0 337.2h.01M645.9 368.4h.01M660.8 342.2h.01M644.6 367.1h.01M648.0 365.2h.01M657.5 364.0h.01M650.2 333.8h.01M656.7 363.5h.01M649.6 374.4h.01M642.4 360.0h.01M659.4 329.2h.01M671.0 383.3h.01M663.2 372.6h.01M637.1 379.6h.01M664.7 364.7h.01" stroke="#18cfe6" stroke-width="0.65" stroke-linecap="round" fill="none" opacity="0.6"/>
<path d="M654.1 387.0l-0.8 0.4M668.1 335.0l0.7 0.1M670.0 367.3l0.8 0.4M640.7 372.3l0.1 0.1M660.2 356.5l-0.3 0.5M644.9 360.1l0.5 0.5M641.2 346.7l-0.3 0.1M641.2 377.3l-0.3 0.8M632.7 377.4l0.1 0.3M650.5 340.7l-0.3 0.2M627.3 382.0l0.5 0.3M640.2 369.8l0.3 0.0M636.9 353.0l0.0 0.7M651.9 346.6l0.0 0.6M647.0 362.7l0.1 0.5M644.9 374.0l-0.3 0.0M642.5 346.0l0.1 0.1M664.0 385.5l0.0 0.0M663.8 332.8l0.0 0.3M632.2 339.4l-0.3 0.0M668.2 380.3l-0.0 0.0M657.7 363.7l-0.2 0.0M669.5 358.6l0.1 0.0M666.1 328.2l-0.6 0.5M671.4 388.6l-0.3 0.7M663.8 360.1l-0.5 0.4M648.6 339.1l0.6 0.6M632.7 375.4l0.8 0.2M635.3 354.3l-0.2 0.1M666.5 361.4l-0.3 0.4M667.0 339.7l-0.0 0.0M631.1 341.6l0.1 0.6M637.2 382.4l0.5 0.6M658.8 366.1l0.2 0.2M657.6 360.0l0.4 0.3M656.4 337.5l0.3 0.5M670.9 347.7l0.0 0.6M670.0 339.1l-0.5 0.3M650.1 379.1l-0.0 0.1M636.5 363.8l-0.0 0.3M647.8 360.0l0.6 0.5M627.0 331.6l-0.7 0.1M628.6 363.8l0.0 0.0M633.0 339.6l-0.2 0.8M632.4 370.5l-0.1 0.8M666.2 386.9l0.0 0.0M644.1 328.2l0.4 0.8M649.7 352.6l0.8 0.3M664.8 381.1l0.2 0.6M651.1 375.4l-0.2 0.3M667.7 372.0l-0.3 0.3M630.1 347.4l0.0 0.0M639.6 346.2l0.2 0.1M632.7 362.9l-0.5 0.2M644.6 338.9l0.2 0.6" stroke="#18cfe6" stroke-width="1.15" stroke-linecap="round" fill="none" opacity="0.9" filter="url(#b3)"/>
<g filter="url(#b3)" fill="none" stroke-linecap="round">
<path d="M659.2 328.9 C658.6 333 657.0 337 655.8 341" stroke="#18cfe6" stroke-width="1.08" opacity="1.0" stroke-dasharray="2.4 0.9"/>
<path d="M667.8 327 C669.4 330 670.0 334 669.6 337.5" stroke="#18cfe6" stroke-width="0.96" opacity="0.85" stroke-dasharray="2.4 0.9"/>
<path d="M659.2 349.5 C657.0 353.6 654.0 356.6 650.6 359 C646.6 362 643.0 365.4 639.4 368.5" stroke="#18cfe6" stroke-width="1.32" opacity="1.0" stroke-dasharray="3 0.6"/>
<path d="M639.4 368.5 C643.0 370.6 647.0 371.8 650.6 372" stroke="#18cfe6" stroke-width="1.20" opacity="1.0" stroke-dasharray="3 0.6"/>
<path d="M628.3 354.7 C630.6 356.6 632.8 358 635.1 359 C638.0 360.4 641.0 361.8 643.7 363.3" stroke="#18cfe6" stroke-width="0.96" opacity="0.9" stroke-dasharray="2.4 0.9"/>
<path d="M662.0 356 C664.0 360 665.0 364 664.4 368" stroke="#18cfe6" stroke-width="0.72" opacity="0.7" stroke-dasharray="2.4 0.9"/>
<path d="M632.0 340 C634.0 344 634.6 348 634.0 352" stroke="#18cfe6" stroke-width="0.72" opacity="0.6" stroke-dasharray="2.4 0.9"/>
</g>
<path d="M634.8 350.8 L633.3 352.1 L632.0 353.7 L631.1 355.4" stroke="#18cfe6" stroke-width="0.5" stroke-linecap="round" stroke-linejoin="round" fill="none" opacity="0.55"/>
<path d="M650.2 348.4 L652.1 349.0 L654.0 349.6 L655.8 350.6" stroke="#18cfe6" stroke-width="0.5" stroke-linecap="round" stroke-linejoin="round" fill="none" opacity="0.55"/>
<path d="M669.4 346.9 L667.4 347.2 L665.4 347.3" stroke="#18cfe6" stroke-width="0.5" stroke-linecap="round" stroke-linejoin="round" fill="none" opacity="0.55"/>
<path d="M633.2 375.4 L632.6 377.3 L631.6 379.1 L630.2 380.5 L629.1 382.1" stroke="#18cfe6" stroke-width="0.5" stroke-linecap="round" stroke-linejoin="round" fill="none" opacity="0.55"/>
<rect x="650.80" y="327.40" width="19.80" height="2.20" fill="#fff" />
<text x="627.60" y="374.50" font-size="5.8" fill="#36d836" textLength="14.60" lengthAdjust="spacingAndGlyphs">BChE</text>
<text x="627.60" y="380.20" font-size="5.8" fill="#e020e0" textLength="26.40" lengthAdjust="spacingAndGlyphs">tdTomato</text>
<text x="627.60" y="385.70" font-size="5.8" fill="#18bcd6" textLength="23.60" lengthAdjust="spacingAndGlyphs">SypEGFP</text>
</g>
</svg></body></html>
